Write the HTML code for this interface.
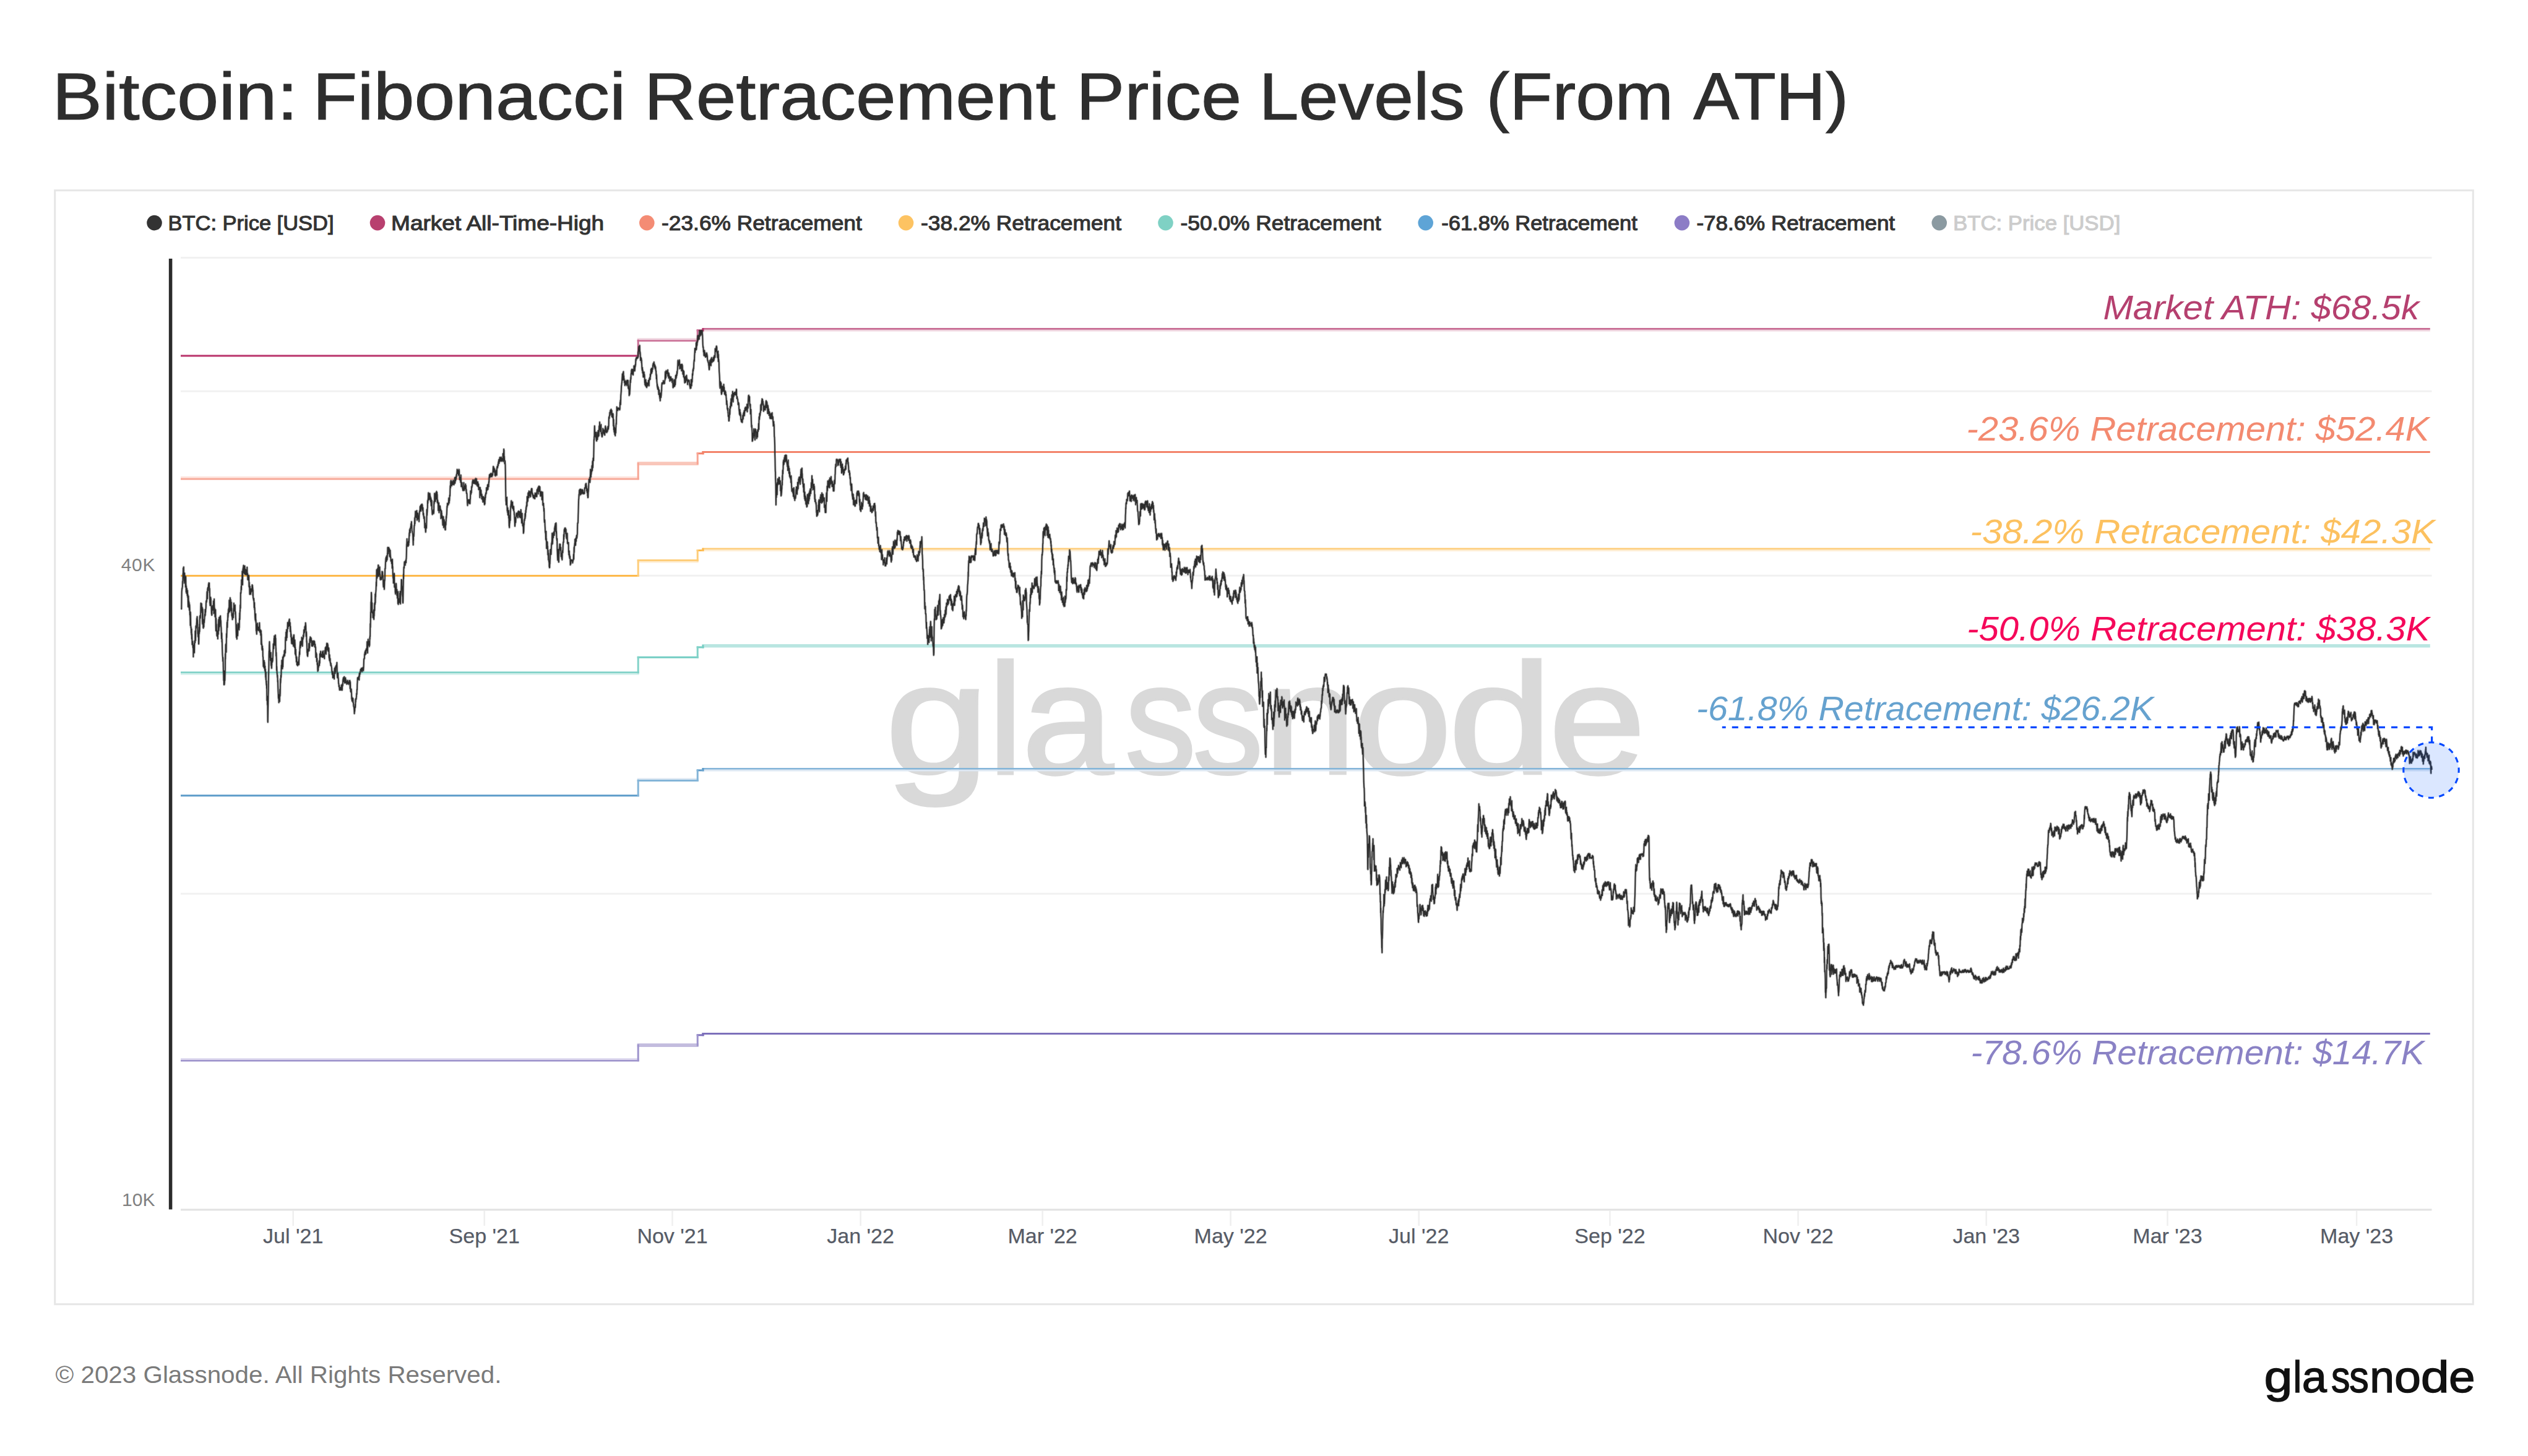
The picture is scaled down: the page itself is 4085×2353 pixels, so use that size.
<!DOCTYPE html><html><head><meta charset="utf-8"><title>Bitcoin: Fibonacci Retracement Price Levels (From ATH)</title><style>html,body{margin:0;padding:0;background:#fff}body{width:4085px;height:2353px;overflow:hidden}</style></head><body>
<svg width="4085" height="2353" viewBox="0 0 4085 2353" style="display:block">
<rect width="100%" height="100%" fill="#fff"/>
<style>text{font-family:"Liberation Sans",Arial,sans-serif}</style>
<text y="192.7" font-size="108" fill="#2e2e2e" stroke="#2e2e2e" stroke-width="1.1"><tspan x="84.2" textLength="397.2" lengthAdjust="spacingAndGlyphs">Bitcoin:</tspan> <tspan x="505.3" textLength="505.9" lengthAdjust="spacingAndGlyphs">Fibonacci</tspan> <tspan x="1040.9" textLength="664.8" lengthAdjust="spacingAndGlyphs">Retracement</tspan> <tspan x="1738.9" textLength="267.3" lengthAdjust="spacingAndGlyphs">Price</tspan> <tspan x="2034.4" textLength="332.8" lengthAdjust="spacingAndGlyphs">Levels</tspan> <tspan x="2401.5" textLength="302.5" lengthAdjust="spacingAndGlyphs">(From</tspan> <tspan x="2736.2" textLength="250.7" lengthAdjust="spacingAndGlyphs">ATH)</tspan></text>
<rect x="88.7" y="307.7" width="3907.6" height="1800" fill="#fff" stroke="#e6e6e6" stroke-width="3"/>
<circle cx="249.5" cy="360.1" r="12.3" fill="#333333"/>
<text x="271.5" y="372.1" font-size="33.5" fill="#333" stroke="#333" stroke-width="1.1" textLength="268.0" lengthAdjust="spacingAndGlyphs">BTC: Price [USD]</text>
<circle cx="610" cy="360.1" r="12.3" fill="#b8406f"/>
<text x="632.1" y="372.1" font-size="33.5" fill="#333" stroke="#333" stroke-width="1.1" textLength="344.1" lengthAdjust="spacingAndGlyphs">Market All-Time-High</text>
<circle cx="1045.3" cy="360.1" r="12.3" fill="#f48c74"/>
<text x="1069.1" y="372.1" font-size="33.5" fill="#333" stroke="#333" stroke-width="1.1" textLength="323.7" lengthAdjust="spacingAndGlyphs">-23.6% Retracement</text>
<circle cx="1464" cy="360.1" r="12.3" fill="#fdc362"/>
<text x="1488.0" y="372.1" font-size="33.5" fill="#333" stroke="#333" stroke-width="1.1" textLength="324.0" lengthAdjust="spacingAndGlyphs">-38.2% Retracement</text>
<circle cx="1883.5" cy="360.1" r="12.3" fill="#7fd1c4"/>
<text x="1907.6" y="372.1" font-size="33.5" fill="#333" stroke="#333" stroke-width="1.1" textLength="323.9" lengthAdjust="spacingAndGlyphs">-50.0% Retracement</text>
<circle cx="2303.7" cy="360.1" r="12.3" fill="#5ea4d6"/>
<text x="2329.2" y="372.1" font-size="33.5" fill="#333" stroke="#333" stroke-width="1.1" textLength="316.7" lengthAdjust="spacingAndGlyphs">-61.8% Retracement</text>
<circle cx="2717.9" cy="360.1" r="12.3" fill="#8c7cc6"/>
<text x="2741.4" y="372.1" font-size="33.5" fill="#333" stroke="#333" stroke-width="1.1" textLength="320.7" lengthAdjust="spacingAndGlyphs">-78.6% Retracement</text>
<circle cx="3133.7" cy="360.1" r="12.3" fill="#8b9aa1"/>
<text x="3156.0" y="372.1" font-size="33.5" fill="#cccccc" stroke="#cccccc" stroke-width="1.1" textLength="270.3" lengthAdjust="spacingAndGlyphs">BTC: Price [USD]</text>
<line x1="292" x2="3929.5" y1="416.5" y2="416.5" stroke="#f1f1f1" stroke-width="3"/>
<line x1="292" x2="3929.5" y1="632.3" y2="632.3" stroke="#f1f1f1" stroke-width="3"/>
<line x1="292" x2="3929.5" y1="930.2" y2="930.2" stroke="#f1f1f1" stroke-width="3"/>
<line x1="292" x2="3929.5" y1="1444.2" y2="1444.2" stroke="#f1f1f1" stroke-width="3"/>
<line x1="292" x2="3929.5" y1="1955" y2="1955" stroke="#e2e2e2" stroke-width="2.8"/>
<line x1="473.7" x2="473.7" y1="1956" y2="1981" stroke="#efefef" stroke-width="2.5"/>
<text x="473.7" y="2008.5" font-size="34" fill="#565b66" stroke="#565b66" stroke-width="0.25" text-anchor="middle">Jul '21</text>
<line x1="782.7" x2="782.7" y1="1956" y2="1981" stroke="#efefef" stroke-width="2.5"/>
<text x="782.7" y="2008.5" font-size="34" fill="#565b66" stroke="#565b66" stroke-width="0.25" text-anchor="middle">Sep '21</text>
<line x1="1086.5" x2="1086.5" y1="1956" y2="1981" stroke="#efefef" stroke-width="2.5"/>
<text x="1086.5" y="2008.5" font-size="34" fill="#565b66" stroke="#565b66" stroke-width="0.25" text-anchor="middle">Nov '21</text>
<line x1="1390.6" x2="1390.6" y1="1956" y2="1981" stroke="#efefef" stroke-width="2.5"/>
<text x="1390.6" y="2008.5" font-size="34" fill="#565b66" stroke="#565b66" stroke-width="0.25" text-anchor="middle">Jan '22</text>
<line x1="1684.6" x2="1684.6" y1="1956" y2="1981" stroke="#efefef" stroke-width="2.5"/>
<text x="1684.6" y="2008.5" font-size="34" fill="#565b66" stroke="#565b66" stroke-width="0.25" text-anchor="middle">Mar '22</text>
<line x1="1988.6" x2="1988.6" y1="1956" y2="1981" stroke="#efefef" stroke-width="2.5"/>
<text x="1988.6" y="2008.5" font-size="34" fill="#565b66" stroke="#565b66" stroke-width="0.25" text-anchor="middle">May '22</text>
<line x1="2292.7" x2="2292.7" y1="1956" y2="1981" stroke="#efefef" stroke-width="2.5"/>
<text x="2292.7" y="2008.5" font-size="34" fill="#565b66" stroke="#565b66" stroke-width="0.25" text-anchor="middle">Jul '22</text>
<line x1="2601.5" x2="2601.5" y1="1956" y2="1981" stroke="#efefef" stroke-width="2.5"/>
<text x="2601.5" y="2008.5" font-size="34" fill="#565b66" stroke="#565b66" stroke-width="0.25" text-anchor="middle">Sep '22</text>
<line x1="2905.6" x2="2905.6" y1="1956" y2="1981" stroke="#efefef" stroke-width="2.5"/>
<text x="2905.6" y="2008.5" font-size="34" fill="#565b66" stroke="#565b66" stroke-width="0.25" text-anchor="middle">Nov '22</text>
<line x1="3209.7" x2="3209.7" y1="1956" y2="1981" stroke="#efefef" stroke-width="2.5"/>
<text x="3209.7" y="2008.5" font-size="34" fill="#565b66" stroke="#565b66" stroke-width="0.25" text-anchor="middle">Jan '23</text>
<line x1="3502.5" x2="3502.5" y1="1956" y2="1981" stroke="#efefef" stroke-width="2.5"/>
<text x="3502.5" y="2008.5" font-size="34" fill="#565b66" stroke="#565b66" stroke-width="0.25" text-anchor="middle">Mar '23</text>
<line x1="3808.1" x2="3808.1" y1="1956" y2="1981" stroke="#efefef" stroke-width="2.5"/>
<text x="3808.1" y="2008.5" font-size="34" fill="#565b66" stroke="#565b66" stroke-width="0.25" text-anchor="middle">May '23</text>
<text x="251.2" y="923.4" font-size="30" fill="#808080" letter-spacing="0.7" text-anchor="end">40K</text>
<text x="250.5" y="1949" font-size="30" fill="#808080" text-anchor="end">10K</text>
<text aria-label="glassnode" y="1250.2" font-size="255" fill="#d9d9d9" stroke="#d9d9d9" stroke-width="4"><tspan x="1430.16" textLength="168.67" lengthAdjust="spacingAndGlyphs">g</tspan><tspan x="1596.56" textLength="56.6" lengthAdjust="spacingAndGlyphs">l</tspan><tspan x="1651.39" textLength="147.85" lengthAdjust="spacingAndGlyphs">a</tspan><tspan x="1817.65" textLength="115.19" lengthAdjust="spacingAndGlyphs">s</tspan><tspan x="1927.2" textLength="114.07" lengthAdjust="spacingAndGlyphs">s</tspan><tspan x="2042.21" textLength="148.9" lengthAdjust="spacingAndGlyphs">n</tspan><tspan x="2186.07" textLength="160.43" lengthAdjust="spacingAndGlyphs">o</tspan><tspan x="2340.16" textLength="168.67" lengthAdjust="spacingAndGlyphs">d</tspan><tspan x="2502.51" textLength="156.98" lengthAdjust="spacingAndGlyphs">e</tspan></text>
<line x1="275.6" x2="275.6" y1="418" y2="1954.5" stroke="#2b2b2b" stroke-width="5.5"/>
<line x1="292.0" x2="1032.7" y1="574.90" y2="574.90" stroke="#b9336b" stroke-width="3.0"/>
<line x1="1029.7" x2="1128.7" y1="550.60" y2="550.60" stroke="#c96d94" stroke-width="2.9"/>
<line x1="1029.7" x2="1128.7" y1="547.85" y2="547.85" stroke="#efd3de" stroke-width="2.7"/>
<line x1="1125.7" x2="1137.5" y1="534.00" y2="534.00" stroke="#b9336b" stroke-width="3.0"/>
<line x1="1134.5" x2="3926.8" y1="531.45" y2="531.45" stroke="#c96d94" stroke-width="2.9"/>
<line x1="1134.5" x2="3926.8" y1="534.20" y2="534.20" stroke="#efd3de" stroke-width="2.7"/>
<line x1="1031.2" x2="1031.2" y1="576.40" y2="548.80" stroke="#c96d94" stroke-width="3"/>
<line x1="1127.2" x2="1127.2" y1="551.80" y2="532.50" stroke="#c96d94" stroke-width="3"/>
<line x1="1136.0" x2="1136.0" y1="535.50" y2="530.25" stroke="#b9336b" stroke-width="3"/>
<line x1="292.0" x2="1032.7" y1="774.00" y2="774.00" stroke="#f7a594" stroke-width="2.9"/>
<line x1="292.0" x2="1032.7" y1="771.25" y2="771.25" stroke="#fde0d9" stroke-width="2.7"/>
<line x1="1029.7" x2="1128.7" y1="749.10" y2="749.10" stroke="#f9c6ba" stroke-width="5.6"/>
<line x1="1125.7" x2="1137.5" y1="732.80" y2="732.80" stroke="#f3836a" stroke-width="3.0"/>
<line x1="1134.5" x2="3926.8" y1="730.55" y2="730.55" stroke="#f3836a" stroke-width="3.0"/>
<line x1="1031.2" x2="1031.2" y1="775.20" y2="747.60" stroke="#f7a594" stroke-width="3"/>
<line x1="1127.2" x2="1127.2" y1="750.60" y2="731.30" stroke="#f7a594" stroke-width="3"/>
<line x1="1136.0" x2="1136.0" y1="734.30" y2="729.05" stroke="#f3836a" stroke-width="3"/>
<line x1="292.0" x2="1032.7" y1="930.40" y2="930.40" stroke="#fdb94b" stroke-width="3.0"/>
<line x1="1029.7" x2="1128.7" y1="905.50" y2="905.50" stroke="#fecd7a" stroke-width="2.9"/>
<line x1="1029.7" x2="1128.7" y1="908.25" y2="908.25" stroke="#feeed3" stroke-width="2.7"/>
<line x1="1125.7" x2="1137.5" y1="889.50" y2="889.50" stroke="#fdb94b" stroke-width="3.0"/>
<line x1="1134.5" x2="3926.8" y1="886.95" y2="886.95" stroke="#fecd7a" stroke-width="2.9"/>
<line x1="1134.5" x2="3926.8" y1="889.70" y2="889.70" stroke="#feeed3" stroke-width="2.7"/>
<line x1="1031.2" x2="1031.2" y1="931.90" y2="904.30" stroke="#fecd7a" stroke-width="3"/>
<line x1="1127.2" x2="1127.2" y1="907.30" y2="888.00" stroke="#fecd7a" stroke-width="3"/>
<line x1="1136.0" x2="1136.0" y1="891.00" y2="885.75" stroke="#fdb94b" stroke-width="3"/>
<line x1="292.0" x2="1032.7" y1="1086.60" y2="1086.60" stroke="#82d2c8" stroke-width="2.9"/>
<line x1="292.0" x2="1032.7" y1="1089.35" y2="1089.35" stroke="#d5f0ec" stroke-width="2.7"/>
<line x1="1029.7" x2="1128.7" y1="1062.30" y2="1062.30" stroke="#73cdc3" stroke-width="3.0"/>
<line x1="1125.7" x2="1137.5" y1="1046.00" y2="1046.00" stroke="#73cdc3" stroke-width="3.0"/>
<line x1="1134.5" x2="3926.8" y1="1043.75" y2="1043.75" stroke="#b9e6e1" stroke-width="5.6"/>
<line x1="1031.2" x2="1031.2" y1="1088.40" y2="1060.80" stroke="#82d2c8" stroke-width="3"/>
<line x1="1127.2" x2="1127.2" y1="1063.80" y2="1044.50" stroke="#82d2c8" stroke-width="3"/>
<line x1="1136.0" x2="1136.0" y1="1047.50" y2="1042.25" stroke="#73cdc3" stroke-width="3"/>
<line x1="292.0" x2="1032.7" y1="1285.80" y2="1285.80" stroke="#5c9bc9" stroke-width="3.0"/>
<line x1="1029.7" x2="1128.7" y1="1261.50" y2="1261.50" stroke="#84b5d8" stroke-width="2.9"/>
<line x1="1029.7" x2="1128.7" y1="1258.75" y2="1258.75" stroke="#dde8f3" stroke-width="2.7"/>
<line x1="1125.7" x2="1137.5" y1="1244.90" y2="1244.90" stroke="#5c9bc9" stroke-width="3.0"/>
<line x1="1134.5" x2="3926.8" y1="1242.35" y2="1242.35" stroke="#84b5d8" stroke-width="2.9"/>
<line x1="1134.5" x2="3926.8" y1="1245.10" y2="1245.10" stroke="#dde8f3" stroke-width="2.7"/>
<line x1="1031.2" x2="1031.2" y1="1287.30" y2="1259.70" stroke="#84b5d8" stroke-width="3"/>
<line x1="1127.2" x2="1127.2" y1="1262.70" y2="1243.40" stroke="#84b5d8" stroke-width="3"/>
<line x1="1136.0" x2="1136.0" y1="1246.40" y2="1241.15" stroke="#5c9bc9" stroke-width="3"/>
<line x1="292.0" x2="1032.7" y1="1714.00" y2="1714.00" stroke="#9d93cc" stroke-width="2.9"/>
<line x1="292.0" x2="1032.7" y1="1711.25" y2="1711.25" stroke="#e0dcf0" stroke-width="2.7"/>
<line x1="1029.7" x2="1128.7" y1="1689.10" y2="1689.10" stroke="#c3bcde" stroke-width="5.6"/>
<line x1="1125.7" x2="1137.5" y1="1672.80" y2="1672.80" stroke="#7d70bb" stroke-width="3.0"/>
<line x1="1134.5" x2="3926.8" y1="1670.55" y2="1670.55" stroke="#7d70bb" stroke-width="3.0"/>
<line x1="1031.2" x2="1031.2" y1="1715.20" y2="1687.60" stroke="#9d93cc" stroke-width="3"/>
<line x1="1127.2" x2="1127.2" y1="1690.60" y2="1671.30" stroke="#9d93cc" stroke-width="3"/>
<line x1="1136.0" x2="1136.0" y1="1674.30" y2="1669.05" stroke="#7d70bb" stroke-width="3"/>
<defs><path id="pr" d="M293.1 985.1 L293.3 983.7 L293.5 966.6 L293.7 956.1 L293.9 953.9 L294.2 950.6 L294.4 951.3 L294.6 949.0 L294.8 948.5 L295.0 940.0 L295.3 939.5 L295.5 937.3 L295.7 926.9 L295.9 930.6 L296.1 918.1 L296.4 923.3 L296.6 925.3 L296.8 916.3 L297.0 927.4 L297.2 931.3 L297.4 935.4 L297.6 942.4 L297.8 939.2 L298.1 936.5 L298.3 926.2 L298.5 935.3 L298.7 934.6 L298.9 934.0 L299.1 930.8 L299.3 933.3 L299.5 934.7 L299.8 948.7 L300.0 936.5 L300.2 932.0 L300.4 942.9 L300.6 947.3 L300.8 956.7 L301.0 947.1 L301.3 958.8 L301.5 953.6 L301.7 950.5 L301.9 951.5 L302.1 953.0 L302.3 953.5 L302.5 962.3 L302.8 954.4 L303.0 954.3 L303.2 964.7 L303.4 965.5 L303.6 960.9 L303.8 972.0 L304.0 980.6 L304.3 969.1 L304.5 963.4 L304.7 970.9 L304.9 974.6 L305.1 971.6 L305.3 982.1 L305.5 973.3 L305.8 974.8 L306.0 985.9 L306.2 978.7 L306.4 977.3 L306.6 982.6 L306.8 993.8 L307.0 992.4 L307.3 998.0 L307.5 1010.6 L307.7 989.2 L307.9 993.4 L308.1 1004.1 L308.3 1011.0 L308.5 1015.0 L308.8 1013.3 L309.0 1022.7 L309.2 1022.8 L309.4 1026.1 L309.6 1016.6 L309.8 1032.6 L310.0 1024.6 L310.3 1031.8 L310.5 1041.7 L310.7 1037.4 L310.9 1038.9 L311.1 1038.8 L311.3 1036.5 L311.5 1037.5 L311.7 1045.8 L312.0 1047.3 L312.2 1042.3 L312.4 1061.5 L312.6 1047.1 L312.8 1051.5 L313.0 1047.0 L313.2 1048.4 L313.4 1054.9 L313.7 1053.7 L313.9 1039.5 L314.1 1054.9 L314.3 1045.6 L314.5 1035.5 L314.7 1038.9 L315.0 1036.0 L315.2 1038.7 L315.4 1019.9 L315.6 1028.9 L315.8 1033.2 L316.0 1035.3 L316.3 1021.1 L316.5 1011.7 L316.7 1015.3 L316.9 1011.7 L317.1 1011.6 L317.3 1015.0 L317.6 1007.8 L317.8 1005.7 L318.0 999.6 L318.2 1005.8 L318.4 998.0 L318.6 996.6 L318.9 1002.4 L319.1 1002.0 L319.3 1008.7 L319.5 1023.8 L319.7 1018.8 L319.9 1024.3 L320.1 1029.1 L320.4 1026.9 L320.6 1023.2 L320.8 1029.9 L321.0 1040.8 L321.2 1040.0 L321.4 1033.3 L321.6 1013.7 L321.9 1024.4 L322.1 1020.9 L322.3 1008.8 L322.5 1021.0 L322.7 1016.6 L322.9 997.9 L323.1 995.1 L323.4 999.1 L323.6 996.3 L323.8 999.0 L324.0 996.0 L324.2 991.3 L324.4 982.5 L324.6 974.8 L324.9 980.6 L325.1 986.7 L325.3 984.6 L325.5 978.7 L325.7 975.6 L325.9 981.3 L326.2 990.1 L326.4 988.2 L326.6 986.5 L326.8 981.5 L327.0 1004.6 L327.3 1008.5 L327.5 1003.6 L327.7 984.4 L327.9 1001.9 L328.1 1006.1 L328.3 1014.3 L328.6 1015.0 L328.8 1007.4 L329.0 1001.3 L329.2 1010.7 L329.4 1012.9 L329.6 1002.5 L329.8 1005.5 L330.0 1006.5 L330.3 1001.9 L330.5 999.6 L330.7 995.6 L330.9 992.6 L331.1 993.2 L331.3 995.5 L331.5 985.1 L331.7 994.1 L332.0 986.5 L332.2 989.4 L332.4 985.0 L332.6 983.8 L332.8 982.1 L333.0 975.2 L333.2 971.3 L333.5 970.8 L333.7 973.1 L333.9 971.5 L334.1 970.2 L334.3 962.1 L334.5 956.3 L334.8 962.3 L335.0 965.7 L335.2 967.6 L335.4 951.6 L335.6 954.1 L335.8 949.8 L336.1 949.6 L336.3 954.5 L336.5 948.5 L336.7 949.1 L336.9 944.6 L337.1 945.0 L337.4 942.1 L337.6 942.2 L337.8 945.9 L338.0 944.2 L338.2 942.3 L338.4 957.3 L338.6 954.4 L338.8 951.0 L339.1 975.1 L339.3 973.4 L339.5 978.4 L339.7 970.6 L339.9 969.5 L340.1 978.3 L340.3 965.2 L340.5 966.1 L340.8 968.4 L341.0 978.3 L341.2 979.3 L341.4 978.5 L341.6 985.4 L341.8 991.9 L342.0 985.3 L342.2 994.2 L342.5 993.3 L342.7 980.3 L342.9 986.6 L343.1 984.3 L343.3 982.6 L343.5 981.8 L343.8 978.6 L344.0 986.0 L344.2 985.3 L344.4 983.0 L344.6 979.4 L344.8 977.9 L345.0 971.3 L345.3 974.8 L345.5 991.3 L345.7 985.4 L345.9 981.3 L346.1 968.0 L346.3 977.8 L346.5 985.3 L346.8 982.7 L347.0 984.1 L347.2 990.4 L347.4 996.8 L347.6 993.0 L347.8 994.0 L348.0 996.8 L348.3 985.4 L348.5 995.3 L348.7 1013.1 L348.9 1019.4 L349.1 999.1 L349.3 1006.0 L349.5 1011.5 L349.8 1008.9 L350.0 1020.6 L350.2 1018.6 L350.4 1026.3 L350.6 1027.9 L350.8 1023.4 L351.1 1020.4 L351.3 1027.7 L351.5 1024.0 L351.7 1026.5 L351.9 1032.4 L352.1 1019.4 L352.4 1020.6 L352.6 1008.8 L352.8 1025.0 L353.0 1006.2 L353.2 1001.3 L353.4 1007.1 L353.6 1019.3 L353.9 1013.0 L354.1 998.0 L354.3 1007.0 L354.5 997.5 L354.7 998.5 L354.9 1013.0 L355.2 1007.7 L355.4 1004.9 L355.6 1004.5 L355.8 996.2 L356.0 999.9 L356.2 995.4 L356.5 1003.0 L356.7 1002.2 L356.9 1004.4 L357.1 1011.6 L357.3 1013.0 L357.5 1015.9 L357.7 1025.6 L358.0 1032.4 L358.2 1022.8 L358.4 1024.1 L358.6 1037.4 L358.8 1032.7 L359.0 1039.9 L359.2 1049.0 L359.5 1058.3 L359.7 1060.6 L359.9 1063.3 L360.1 1068.6 L360.3 1062.6 L360.6 1068.4 L360.8 1077.8 L361.0 1085.5 L361.2 1085.5 L361.4 1099.6 L361.7 1090.1 L361.9 1106.6 L362.1 1084.2 L362.3 1095.5 L362.5 1106.5 L362.8 1103.5 L363.0 1095.7 L363.2 1097.7 L363.4 1099.8 L363.6 1091.1 L363.9 1081.2 L364.1 1056.6 L364.3 1065.4 L364.5 1051.6 L364.7 1041.8 L365.0 1041.2 L365.2 1043.7 L365.4 1039.7 L365.6 1054.0 L365.8 1036.5 L366.0 1024.0 L366.3 1030.2 L366.5 1022.9 L366.7 1016.2 L366.9 1006.9 L367.1 1005.3 L367.4 1014.0 L367.6 1002.2 L367.8 1003.1 L368.0 1002.8 L368.2 991.1 L368.4 997.9 L368.7 994.4 L368.9 989.7 L369.1 984.9 L369.3 990.8 L369.5 990.6 L369.7 982.6 L370.0 983.3 L370.2 985.3 L370.4 970.0 L370.6 985.9 L370.8 988.1 L371.0 974.3 L371.3 988.8 L371.5 975.8 L371.7 971.3 L371.9 966.0 L372.1 971.8 L372.3 979.3 L372.5 974.3 L372.8 969.3 L373.0 986.2 L373.2 987.0 L373.4 984.3 L373.6 985.3 L373.8 973.3 L374.0 982.1 L374.3 983.7 L374.5 994.1 L374.7 995.4 L374.9 992.5 L375.1 997.4 L375.3 995.7 L375.5 1001.2 L375.7 1001.0 L376.0 996.8 L376.2 995.4 L376.4 990.6 L376.6 995.9 L376.8 997.6 L377.0 998.1 L377.2 986.2 L377.5 982.7 L377.7 987.0 L377.9 974.9 L378.1 987.5 L378.3 987.0 L378.5 987.5 L378.7 980.6 L379.0 982.2 L379.2 986.8 L379.4 982.4 L379.6 979.9 L379.8 977.8 L380.0 990.1 L380.2 992.6 L380.5 988.7 L380.7 993.4 L380.9 999.8 L381.1 1002.3 L381.3 1009.6 L381.5 1017.3 L381.7 1022.4 L382.0 1030.1 L382.2 1022.6 L382.4 1021.0 L382.6 1009.4 L382.8 1032.8 L383.0 1026.3 L383.2 1023.9 L383.5 1026.6 L383.7 1019.8 L383.9 1017.5 L384.1 1027.4 L384.3 1023.2 L384.5 1014.4 L384.7 1007.3 L385.0 1008.1 L385.2 1008.4 L385.4 1014.6 L385.6 1013.2 L385.8 1013.4 L386.0 1010.3 L386.3 1018.0 L386.5 1009.1 L386.7 1014.2 L386.9 999.5 L387.1 1000.2 L387.3 990.5 L387.5 1001.3 L387.8 986.6 L388.0 988.1 L388.2 977.7 L388.4 979.8 L388.6 983.1 L388.8 957.9 L389.0 958.1 L389.3 958.8 L389.5 955.6 L389.7 947.9 L389.9 947.3 L390.1 953.3 L390.3 937.1 L390.5 937.2 L390.8 945.1 L391.0 941.8 L391.2 943.5 L391.4 923.3 L391.6 929.5 L391.8 934.4 L392.0 945.1 L392.3 926.3 L392.5 919.4 L392.7 921.0 L392.9 925.4 L393.1 916.6 L393.3 917.1 L393.5 913.7 L393.8 919.9 L394.0 914.9 L394.2 919.4 L394.4 926.8 L394.6 923.0 L394.8 915.6 L395.0 919.4 L395.3 921.4 L395.5 914.6 L395.7 920.9 L395.9 928.1 L396.1 926.2 L396.3 925.8 L396.5 923.2 L396.7 925.9 L397.0 920.2 L397.2 923.4 L397.4 928.6 L397.6 926.6 L397.8 928.7 L398.0 922.1 L398.2 921.4 L398.5 925.4 L398.7 928.7 L398.9 926.3 L399.1 926.6 L399.3 916.7 L399.5 925.0 L399.7 925.8 L400.0 926.7 L400.2 931.3 L400.4 937.0 L400.6 932.1 L400.8 934.4 L401.0 932.6 L401.3 937.1 L401.5 935.3 L401.7 929.5 L401.9 932.4 L402.1 931.0 L402.4 947.9 L402.6 940.9 L402.8 941.6 L403.0 949.9 L403.2 949.6 L403.5 960.5 L403.7 957.0 L403.9 947.7 L404.1 958.7 L404.3 957.6 L404.5 956.6 L404.8 960.4 L405.0 960.2 L405.2 959.0 L405.4 953.6 L405.6 951.5 L405.8 957.3 L406.0 954.3 L406.3 954.2 L406.5 951.9 L406.7 952.8 L406.9 951.0 L407.1 955.4 L407.3 947.3 L407.5 945.2 L407.8 947.3 L408.0 946.3 L408.2 949.0 L408.4 950.3 L408.6 962.4 L408.8 953.3 L409.0 965.0 L409.2 967.1 L409.5 966.6 L409.7 969.9 L409.9 968.5 L410.1 967.0 L410.3 969.7 L410.5 974.8 L410.7 982.0 L410.9 975.7 L411.2 974.0 L411.4 985.2 L411.6 981.8 L411.8 987.3 L412.0 994.1 L412.2 998.4 L412.5 1002.2 L412.7 1001.2 L412.9 1000.2 L413.1 992.0 L413.3 1005.1 L413.5 1001.4 L413.8 1007.4 L414.0 1019.2 L414.2 1012.5 L414.4 1021.2 L414.6 1022.8 L414.8 1024.8 L415.1 1014.5 L415.3 1017.9 L415.5 1008.5 L415.7 1009.7 L415.9 1007.2 L416.1 1011.1 L416.3 1016.1 L416.5 1012.8 L416.8 1013.7 L417.0 1018.9 L417.2 1014.4 L417.4 1015.0 L417.6 1016.2 L417.8 1018.3 L418.0 1013.5 L418.2 1015.6 L418.5 1014.0 L418.7 1019.1 L418.9 1012.9 L419.1 1009.1 L419.3 1006.6 L419.5 1010.9 L419.7 1020.2 L419.9 1021.7 L420.2 1017.9 L420.4 1021.1 L420.6 1019.2 L420.8 1017.8 L421.0 1019.6 L421.2 1026.2 L421.4 1026.7 L421.6 1019.6 L421.9 1019.4 L422.1 1041.2 L422.3 1024.3 L422.5 1032.3 L422.7 1039.0 L422.9 1042.4 L423.1 1041.1 L423.3 1048.2 L423.6 1050.3 L423.8 1048.5 L424.0 1044.0 L424.2 1049.1 L424.4 1051.4 L424.6 1048.2 L424.8 1061.0 L425.1 1061.7 L425.3 1067.6 L425.5 1077.0 L425.7 1068.7 L425.9 1070.7 L426.1 1073.8 L426.3 1074.3 L426.6 1079.3 L426.8 1067.6 L427.0 1077.8 L427.2 1071.4 L427.4 1070.4 L427.6 1073.5 L427.9 1082.3 L428.1 1084.0 L428.3 1076.5 L428.5 1084.9 L428.7 1085.9 L428.9 1081.5 L429.2 1094.4 L429.4 1092.4 L429.6 1098.3 L429.8 1086.4 L430.0 1099.5 L430.2 1103.1 L430.5 1107.5 L430.7 1100.5 L430.9 1112.6 L431.1 1105.3 L431.3 1132.0 L431.5 1124.4 L431.8 1125.4 L432.0 1137.4 L432.2 1139.9 L432.4 1136.5 L432.6 1165.3 L432.8 1167.1 L433.1 1145.7 L433.3 1137.3 L433.5 1123.4 L433.7 1116.6 L433.9 1099.8 L434.1 1087.0 L434.4 1079.3 L434.6 1058.7 L434.8 1052.1 L435.0 1052.9 L435.2 1043.4 L435.5 1037.0 L435.7 1043.6 L435.9 1055.7 L436.1 1050.4 L436.3 1062.8 L436.5 1055.0 L436.7 1066.7 L437.0 1067.5 L437.2 1064.5 L437.4 1058.4 L437.6 1054.5 L437.8 1059.7 L438.0 1072.7 L438.2 1075.7 L438.5 1073.4 L438.7 1077.8 L438.9 1080.0 L439.1 1075.5 L439.3 1074.0 L439.5 1063.9 L439.7 1067.0 L439.9 1064.9 L440.1 1070.2 L440.4 1065.1 L440.6 1068.4 L440.8 1063.7 L441.0 1057.3 L441.2 1053.8 L441.4 1050.3 L441.6 1040.7 L441.8 1041.5 L442.1 1042.7 L442.3 1048.3 L442.5 1043.3 L442.7 1036.7 L442.9 1031.7 L443.1 1035.8 L443.3 1027.9 L443.6 1029.2 L443.8 1039.8 L444.0 1041.4 L444.2 1042.6 L444.4 1027.8 L444.6 1039.6 L444.9 1026.3 L445.1 1030.2 L445.3 1043.4 L445.5 1031.6 L445.7 1045.5 L445.9 1048.4 L446.1 1060.1 L446.4 1054.6 L446.6 1062.5 L446.8 1068.0 L447.0 1083.3 L447.2 1077.0 L447.4 1081.5 L447.6 1086.6 L447.9 1089.4 L448.1 1091.5 L448.3 1095.0 L448.5 1091.6 L448.7 1101.9 L448.9 1099.5 L449.1 1108.2 L449.4 1116.8 L449.6 1120.1 L449.8 1126.7 L450.0 1128.8 L450.2 1128.4 L450.4 1128.4 L450.6 1135.5 L450.9 1122.5 L451.1 1129.2 L451.3 1131.9 L451.5 1133.0 L451.7 1133.4 L451.9 1133.5 L452.2 1114.0 L452.4 1117.5 L452.6 1125.0 L452.8 1119.8 L453.0 1107.6 L453.2 1097.0 L453.4 1103.9 L453.7 1097.8 L453.9 1091.3 L454.1 1094.9 L454.3 1093.4 L454.5 1083.5 L454.7 1075.2 L454.9 1081.6 L455.2 1077.8 L455.4 1067.0 L455.6 1068.6 L455.8 1068.5 L456.0 1073.0 L456.2 1075.3 L456.5 1080.7 L456.7 1068.9 L456.9 1061.9 L457.1 1077.7 L457.3 1069.3 L457.5 1064.7 L457.8 1061.3 L458.0 1062.7 L458.2 1059.4 L458.4 1060.8 L458.6 1058.1 L458.8 1057.9 L459.1 1058.4 L459.3 1060.6 L459.5 1051.7 L459.7 1057.7 L459.9 1059.8 L460.1 1055.9 L460.3 1054.4 L460.5 1050.2 L460.8 1052.7 L461.0 1055.3 L461.2 1036.0 L461.4 1029.7 L461.6 1031.4 L461.8 1033.2 L462.0 1029.7 L462.2 1021.5 L462.4 1031.5 L462.7 1034.9 L462.9 1026.6 L463.1 1017.5 L463.3 1023.8 L463.5 1021.3 L463.7 1030.4 L463.9 1022.0 L464.1 1021.8 L464.3 1019.8 L464.6 1012.2 L464.8 1006.0 L465.0 1014.6 L465.2 1015.8 L465.4 1012.2 L465.6 1007.8 L465.8 1011.8 L466.0 1006.1 L466.3 1012.3 L466.5 1010.6 L466.7 1004.5 L466.9 1003.3 L467.1 1003.6 L467.3 1001.7 L467.5 1001.5 L467.7 1000.7 L468.0 1008.9 L468.2 1011.6 L468.4 1006.9 L468.6 1006.7 L468.8 1006.3 L469.0 1020.6 L469.3 1012.0 L469.5 1017.3 L469.7 1019.1 L469.9 1021.3 L470.1 1029.5 L470.3 1024.4 L470.6 1026.0 L470.8 1034.3 L471.0 1035.6 L471.2 1039.9 L471.4 1030.5 L471.6 1040.0 L471.9 1034.3 L472.1 1037.0 L472.3 1040.0 L472.5 1040.7 L472.7 1031.5 L472.9 1031.5 L473.1 1035.7 L473.4 1037.8 L473.6 1029.5 L473.8 1035.0 L474.0 1042.0 L474.2 1044.3 L474.4 1031.0 L474.6 1027.4 L474.9 1026.0 L475.1 1029.7 L475.3 1035.1 L475.5 1037.2 L475.7 1037.5 L475.9 1046.3 L476.1 1040.4 L476.4 1034.3 L476.6 1039.0 L476.8 1041.1 L477.0 1056.7 L477.2 1046.0 L477.4 1056.7 L477.7 1058.7 L477.9 1049.6 L478.1 1057.7 L478.3 1059.7 L478.5 1064.0 L478.7 1060.6 L478.9 1069.6 L479.2 1065.2 L479.4 1062.1 L479.6 1069.2 L479.8 1074.5 L480.0 1073.5 L480.2 1072.1 L480.4 1073.6 L480.7 1070.5 L480.9 1075.8 L481.1 1074.0 L481.3 1069.5 L481.5 1074.4 L481.7 1074.6 L481.9 1072.6 L482.2 1071.8 L482.4 1069.5 L482.6 1070.4 L482.8 1066.2 L483.0 1074.1 L483.2 1061.8 L483.5 1061.0 L483.7 1057.7 L483.9 1054.0 L484.1 1052.9 L484.3 1057.6 L484.5 1047.4 L484.8 1043.3 L485.0 1040.9 L485.2 1037.6 L485.4 1047.0 L485.6 1036.5 L485.8 1039.5 L486.1 1040.0 L486.3 1043.6 L486.5 1037.4 L486.7 1036.7 L486.9 1040.4 L487.1 1039.3 L487.4 1041.7 L487.6 1030.0 L487.8 1040.9 L488.0 1040.1 L488.2 1035.6 L488.5 1031.4 L488.7 1044.2 L488.9 1037.1 L489.1 1031.5 L489.3 1032.1 L489.5 1031.3 L489.8 1032.8 L490.0 1026.4 L490.2 1029.7 L490.4 1026.5 L490.6 1029.4 L490.9 1022.4 L491.1 1017.9 L491.3 1023.2 L491.5 1018.1 L491.7 1021.6 L492.0 1022.1 L492.2 1018.9 L492.4 1012.8 L492.6 1015.3 L492.9 1016.1 L493.1 1017.3 L493.3 1010.9 L493.5 1017.1 L493.7 1006.5 L494.0 1009.8 L494.2 1011.9 L494.4 1020.5 L494.6 1026.9 L494.8 1028.4 L495.1 1021.0 L495.3 1024.1 L495.5 1037.7 L495.7 1035.7 L496.0 1045.5 L496.2 1055.1 L496.4 1053.9 L496.6 1059.3 L496.8 1058.4 L497.1 1060.6 L497.3 1058.0 L497.5 1056.7 L497.7 1049.1 L497.9 1051.1 L498.1 1051.3 L498.3 1052.6 L498.5 1048.2 L498.8 1049.6 L499.0 1040.1 L499.2 1041.1 L499.4 1048.8 L499.6 1051.6 L499.8 1046.5 L500.0 1040.4 L500.2 1047.2 L500.5 1033.8 L500.7 1032.4 L500.9 1037.4 L501.1 1038.3 L501.3 1029.4 L501.5 1033.1 L501.7 1035.2 L501.9 1032.3 L502.2 1030.8 L502.4 1030.7 L502.6 1033.3 L502.8 1031.3 L503.0 1033.6 L503.2 1038.8 L503.5 1039.4 L503.7 1044.0 L503.9 1038.7 L504.1 1041.7 L504.3 1037.3 L504.5 1042.7 L504.7 1035.5 L505.0 1043.4 L505.2 1044.2 L505.4 1042.1 L505.6 1042.5 L505.8 1036.8 L506.0 1041.6 L506.2 1042.7 L506.5 1040.4 L506.7 1040.9 L506.9 1040.8 L507.1 1035.6 L507.3 1036.2 L507.5 1040.3 L507.7 1041.4 L508.0 1041.4 L508.2 1036.5 L508.4 1038.3 L508.6 1045.5 L508.8 1042.0 L509.0 1044.0 L509.2 1041.0 L509.5 1046.4 L509.7 1046.7 L509.9 1045.6 L510.1 1050.7 L510.3 1062.3 L510.5 1058.3 L510.8 1054.7 L511.0 1055.5 L511.2 1062.2 L511.4 1060.2 L511.6 1057.0 L511.8 1069.0 L512.0 1063.7 L512.3 1064.1 L512.5 1070.0 L512.7 1074.3 L512.9 1071.6 L513.1 1071.5 L513.3 1081.0 L513.5 1084.7 L513.8 1078.6 L514.0 1083.4 L514.2 1083.3 L514.4 1076.9 L514.6 1076.7 L514.8 1078.4 L515.0 1075.0 L515.2 1075.5 L515.5 1069.7 L515.7 1068.2 L515.9 1075.1 L516.1 1075.5 L516.3 1067.2 L516.5 1072.2 L516.7 1070.8 L516.9 1056.6 L517.2 1058.3 L517.4 1062.1 L517.6 1058.4 L517.8 1056.7 L518.0 1053.7 L518.2 1052.6 L518.4 1059.0 L518.7 1057.2 L518.9 1059.5 L519.1 1060.9 L519.3 1057.3 L519.5 1060.4 L519.7 1060.0 L520.0 1061.1 L520.2 1060.4 L520.4 1059.7 L520.6 1061.8 L520.8 1053.6 L521.0 1055.5 L521.2 1060.0 L521.5 1062.2 L521.7 1056.4 L521.9 1054.5 L522.1 1052.1 L522.3 1062.1 L522.5 1056.2 L522.8 1061.4 L523.0 1061.4 L523.2 1061.2 L523.4 1060.4 L523.6 1057.5 L523.8 1058.9 L524.1 1059.9 L524.3 1064.4 L524.5 1055.2 L524.7 1051.8 L524.9 1056.2 L525.1 1050.8 L525.3 1052.6 L525.5 1055.7 L525.7 1046.8 L526.0 1052.3 L526.2 1048.6 L526.4 1046.7 L526.6 1045.3 L526.8 1057.2 L527.0 1053.9 L527.2 1052.7 L527.4 1046.3 L527.6 1051.5 L527.9 1041.4 L528.1 1039.6 L528.3 1048.9 L528.5 1050.1 L528.7 1042.2 L528.9 1045.7 L529.1 1040.6 L529.3 1040.0 L529.6 1042.2 L529.8 1041.9 L530.0 1046.0 L530.2 1052.3 L530.4 1050.9 L530.7 1046.6 L530.9 1049.9 L531.1 1047.9 L531.3 1047.4 L531.5 1049.6 L531.7 1061.4 L532.0 1063.9 L532.2 1063.9 L532.4 1067.1 L532.6 1058.4 L532.8 1065.8 L533.1 1068.7 L533.3 1067.4 L533.5 1064.4 L533.7 1071.2 L533.9 1070.9 L534.1 1070.9 L534.4 1074.8 L534.6 1075.8 L534.8 1072.1 L535.0 1074.2 L535.2 1075.5 L535.4 1075.5 L535.6 1077.3 L535.9 1079.0 L536.1 1081.5 L536.3 1085.6 L536.5 1086.0 L536.7 1087.0 L536.9 1089.5 L537.2 1090.2 L537.4 1088.7 L537.6 1085.3 L537.8 1095.1 L538.0 1095.4 L538.2 1087.0 L538.4 1092.6 L538.7 1091.6 L538.9 1092.2 L539.1 1093.9 L539.3 1095.0 L539.5 1091.3 L539.7 1095.1 L539.9 1093.5 L540.1 1097.3 L540.4 1083.7 L540.6 1080.1 L540.8 1081.3 L541.0 1088.1 L541.2 1081.9 L541.4 1079.0 L541.6 1088.2 L541.8 1083.6 L542.1 1083.4 L542.3 1077.1 L542.5 1085.5 L542.7 1081.9 L542.9 1077.7 L543.1 1075.7 L543.3 1075.5 L543.6 1077.6 L543.8 1074.4 L544.0 1075.4 L544.2 1073.1 L544.4 1070.7 L544.6 1077.3 L544.8 1087.8 L545.1 1093.2 L545.3 1095.3 L545.5 1095.0 L545.7 1095.5 L545.9 1091.9 L546.1 1087.9 L546.4 1095.1 L546.6 1095.3 L546.8 1098.3 L547.0 1102.8 L547.2 1105.2 L547.5 1105.0 L547.7 1109.6 L547.9 1108.7 L548.1 1107.7 L548.3 1109.3 L548.5 1113.1 L548.7 1115.1 L548.9 1112.1 L549.2 1113.7 L549.4 1114.6 L549.6 1113.4 L549.8 1111.1 L550.0 1113.1 L550.2 1111.0 L550.4 1114.2 L550.6 1115.1 L550.9 1112.7 L551.1 1113.8 L551.3 1111.9 L551.5 1111.5 L551.7 1107.1 L551.9 1112.6 L552.1 1114.8 L552.3 1112.1 L552.6 1111.6 L552.8 1115.4 L553.0 1113.6 L553.2 1105.4 L553.4 1107.0 L553.7 1108.6 L553.9 1106.6 L554.1 1100.5 L554.3 1097.8 L554.5 1101.5 L554.7 1095.5 L555.0 1101.9 L555.2 1100.9 L555.4 1100.6 L555.6 1095.3 L555.8 1094.3 L556.0 1098.2 L556.3 1093.7 L556.5 1098.4 L556.7 1098.1 L556.9 1103.6 L557.1 1096.8 L557.3 1098.3 L557.5 1098.0 L557.7 1103.6 L558.0 1099.0 L558.2 1095.4 L558.4 1101.1 L558.6 1100.2 L558.8 1097.8 L559.0 1103.5 L559.2 1099.4 L559.4 1099.9 L559.7 1101.3 L559.9 1103.4 L560.1 1101.3 L560.3 1105.7 L560.5 1104.6 L560.7 1104.5 L560.9 1103.5 L561.2 1104.9 L561.4 1102.8 L561.6 1100.6 L561.8 1100.2 L562.0 1099.7 L562.2 1102.7 L562.5 1102.5 L562.7 1104.2 L562.9 1104.6 L563.1 1105.0 L563.3 1105.7 L563.5 1105.9 L563.8 1104.6 L564.0 1104.1 L564.2 1101.7 L564.4 1104.2 L564.6 1100.1 L564.8 1101.2 L565.1 1101.8 L565.3 1099.8 L565.5 1107.1 L565.7 1112.6 L565.9 1101.6 L566.1 1103.3 L566.3 1111.7 L566.6 1117.2 L566.8 1117.9 L567.0 1118.3 L567.2 1116.1 L567.4 1117.1 L567.6 1113.6 L567.8 1117.8 L568.1 1121.5 L568.3 1129.9 L568.5 1125.9 L568.7 1130.3 L568.9 1132.9 L569.1 1130.7 L569.4 1127.8 L569.6 1132.7 L569.8 1128.1 L570.0 1131.0 L570.2 1135.0 L570.4 1128.7 L570.7 1135.6 L570.9 1135.9 L571.1 1136.0 L571.3 1140.9 L571.5 1141.6 L571.7 1142.4 L572.0 1142.9 L572.2 1145.0 L572.4 1147.6 L572.6 1153.3 L572.8 1151.0 L573.0 1147.9 L573.2 1149.5 L573.5 1143.2 L573.7 1138.3 L573.9 1141.3 L574.1 1143.7 L574.3 1141.4 L574.5 1130.1 L574.7 1134.8 L574.9 1130.4 L575.1 1128.7 L575.4 1129.3 L575.6 1130.0 L575.8 1126.6 L576.0 1125.7 L576.2 1120.5 L576.4 1122.3 L576.6 1122.3 L576.8 1114.0 L577.1 1115.0 L577.3 1105.4 L577.5 1103.2 L577.7 1096.5 L577.9 1095.0 L578.1 1095.0 L578.3 1098.2 L578.5 1095.0 L578.8 1095.9 L579.0 1095.0 L579.2 1097.3 L579.4 1095.0 L579.6 1097.8 L579.9 1092.6 L580.1 1093.4 L580.3 1099.0 L580.5 1093.0 L580.7 1088.5 L580.9 1093.3 L581.2 1087.7 L581.4 1087.4 L581.6 1088.4 L581.8 1089.5 L582.0 1085.3 L582.3 1086.8 L582.5 1083.7 L582.7 1081.8 L582.9 1082.9 L583.1 1083.5 L583.3 1083.8 L583.6 1083.1 L583.8 1080.4 L584.0 1081.0 L584.2 1079.8 L584.4 1083.7 L584.6 1084.9 L584.8 1084.4 L585.0 1085.4 L585.3 1083.6 L585.5 1080.3 L585.7 1079.7 L585.9 1082.7 L586.1 1080.3 L586.3 1079.4 L586.5 1078.7 L586.7 1079.5 L587.0 1083.1 L587.2 1083.8 L587.4 1081.2 L587.6 1077.7 L587.8 1071.1 L588.0 1065.2 L588.2 1064.6 L588.5 1065.2 L588.7 1063.4 L588.9 1064.2 L589.1 1057.2 L589.3 1056.5 L589.5 1057.4 L589.7 1053.6 L590.0 1058.5 L590.2 1055.5 L590.4 1055.1 L590.6 1051.2 L590.8 1054.4 L591.0 1052.9 L591.2 1056.8 L591.5 1055.4 L591.7 1049.2 L591.9 1048.7 L592.1 1051.8 L592.3 1048.2 L592.5 1049.2 L592.7 1051.2 L593.0 1045.0 L593.2 1037.0 L593.4 1048.7 L593.6 1044.3 L593.8 1042.7 L594.0 1055.2 L594.2 1041.7 L594.5 1038.5 L594.7 1036.1 L594.9 1033.2 L595.1 1038.7 L595.3 1042.2 L595.5 1036.5 L595.8 1040.5 L596.0 1042.2 L596.2 1043.7 L596.4 1036.7 L596.6 1045.0 L596.8 1038.5 L597.0 1035.8 L597.3 1042.9 L597.5 1030.0 L597.7 1033.1 L597.9 1027.6 L598.1 1028.7 L598.3 1007.9 L598.6 1013.9 L598.8 1000.4 L599.0 989.0 L599.2 998.6 L599.4 973.6 L599.7 971.7 L599.9 968.0 L600.1 957.6 L600.3 960.0 L600.5 967.0 L600.7 989.5 L600.9 981.6 L601.2 974.2 L601.4 989.8 L601.6 990.0 L601.8 990.9 L602.0 990.8 L602.2 991.4 L602.4 989.6 L602.6 998.1 L602.9 997.5 L603.1 996.5 L603.3 988.2 L603.5 988.6 L603.7 985.7 L603.9 998.0 L604.1 1001.0 L604.3 995.1 L604.6 995.4 L604.8 988.3 L605.0 986.7 L605.2 975.2 L605.4 986.7 L605.6 976.2 L605.8 973.7 L606.1 976.7 L606.3 960.0 L606.5 974.2 L606.7 964.9 L606.9 964.6 L607.1 957.9 L607.3 956.7 L607.6 952.9 L607.8 947.3 L608.0 940.4 L608.2 947.2 L608.4 936.0 L608.6 920.8 L608.8 921.7 L609.1 926.8 L609.3 934.4 L609.5 932.0 L609.7 925.0 L609.9 923.4 L610.1 918.8 L610.3 931.6 L610.6 922.8 L610.8 928.9 L611.0 917.7 L611.2 913.2 L611.4 918.1 L611.6 913.7 L611.9 924.2 L612.1 931.2 L612.3 918.0 L612.5 922.5 L612.7 927.7 L612.9 916.9 L613.1 923.2 L613.4 923.9 L613.6 916.3 L613.8 928.3 L614.0 928.1 L614.2 927.9 L614.4 935.9 L614.6 936.9 L614.9 933.5 L615.1 933.7 L615.3 932.6 L615.5 936.1 L615.7 935.5 L615.9 936.3 L616.1 935.1 L616.4 932.5 L616.6 934.2 L616.8 936.5 L617.0 934.4 L617.2 927.8 L617.4 923.6 L617.6 924.2 L617.9 927.1 L618.1 924.1 L618.3 926.7 L618.5 932.6 L618.7 930.3 L618.9 931.0 L619.1 934.0 L619.3 944.8 L619.6 948.7 L619.8 942.4 L620.0 947.0 L620.2 937.6 L620.4 946.5 L620.6 947.2 L620.8 947.3 L621.0 952.4 L621.3 944.4 L621.5 936.7 L621.7 938.8 L621.9 934.5 L622.1 920.0 L622.3 918.4 L622.6 919.1 L622.8 912.7 L623.0 908.5 L623.2 906.8 L623.4 902.6 L623.7 905.4 L623.9 900.3 L624.1 902.5 L624.3 907.4 L624.5 905.8 L624.7 904.2 L624.9 898.2 L625.2 898.3 L625.4 901.4 L625.6 904.8 L625.8 901.8 L626.0 894.4 L626.2 895.0 L626.4 884.8 L626.7 889.1 L626.9 884.7 L627.1 892.0 L627.3 895.0 L627.5 887.8 L627.7 891.5 L627.9 891.2 L628.2 884.9 L628.4 885.9 L628.6 888.9 L628.8 887.5 L629.0 886.5 L629.2 887.5 L629.5 898.6 L629.7 893.5 L629.9 899.8 L630.1 895.8 L630.3 894.8 L630.5 889.2 L630.7 895.7 L631.0 899.1 L631.2 901.7 L631.4 901.1 L631.6 906.6 L631.8 904.5 L632.0 906.1 L632.2 904.3 L632.5 905.4 L632.7 908.8 L632.9 910.8 L633.1 905.5 L633.3 910.2 L633.5 908.0 L633.7 918.2 L634.0 903.8 L634.2 910.5 L634.4 918.1 L634.6 915.7 L634.8 928.1 L635.0 929.2 L635.2 934.5 L635.5 930.1 L635.7 942.3 L635.9 939.7 L636.1 934.4 L636.3 935.7 L636.5 935.5 L636.8 926.5 L637.0 927.3 L637.2 928.4 L637.4 948.8 L637.6 943.4 L637.8 944.0 L638.0 942.5 L638.3 949.4 L638.5 949.6 L638.7 957.4 L638.9 955.2 L639.1 959.9 L639.3 954.2 L639.5 952.4 L639.8 950.1 L640.0 949.8 L640.2 943.0 L640.4 947.3 L640.6 954.1 L640.8 957.9 L641.0 957.5 L641.3 962.2 L641.5 952.8 L641.7 956.5 L641.9 960.7 L642.1 966.8 L642.3 965.8 L642.5 966.1 L642.8 966.0 L643.0 975.5 L643.2 956.1 L643.4 962.9 L643.6 976.7 L643.8 973.5 L644.0 974.9 L644.3 967.3 L644.5 968.5 L644.7 967.8 L644.9 971.9 L645.1 970.8 L645.3 972.9 L645.6 973.5 L645.8 973.0 L646.0 958.7 L646.2 959.0 L646.4 969.0 L646.6 955.8 L646.8 964.5 L647.1 976.0 L647.3 966.7 L647.5 959.0 L647.7 961.7 L647.9 958.4 L648.1 956.7 L648.3 951.7 L648.6 936.7 L648.8 938.9 L649.0 942.7 L649.2 937.0 L649.4 938.6 L649.6 952.3 L649.8 946.8 L650.1 951.7 L650.3 963.5 L650.5 960.4 L650.7 962.6 L650.9 973.0 L651.1 974.5 L651.3 971.2 L651.6 950.8 L651.8 940.9 L652.0 927.8 L652.2 935.2 L652.4 920.4 L652.6 916.4 L652.8 917.9 L653.1 918.0 L653.3 912.5 L653.5 908.2 L653.7 910.8 L653.9 907.8 L654.1 908.3 L654.4 907.7 L654.6 907.7 L654.8 913.4 L655.0 907.9 L655.2 908.2 L655.4 905.8 L655.6 906.2 L655.9 906.7 L656.1 909.5 L656.3 903.1 L656.5 903.2 L656.7 898.4 L656.9 890.0 L657.1 881.1 L657.4 877.9 L657.6 870.9 L657.8 878.6 L658.0 883.0 L658.2 880.0 L658.4 878.1 L658.6 881.5 L658.9 881.8 L659.1 882.2 L659.3 876.0 L659.5 882.7 L659.7 880.2 L659.9 874.5 L660.1 877.1 L660.4 880.9 L660.6 870.5 L660.8 877.3 L661.0 870.8 L661.2 864.9 L661.4 861.0 L661.6 866.4 L661.9 856.4 L662.1 858.9 L662.3 856.5 L662.5 854.5 L662.7 854.5 L662.9 860.8 L663.2 853.2 L663.4 854.4 L663.6 853.0 L663.8 850.5 L664.0 851.3 L664.2 846.3 L664.4 852.6 L664.7 847.7 L664.9 843.0 L665.1 849.0 L665.3 847.9 L665.5 854.7 L665.7 858.0 L665.9 858.4 L666.2 858.6 L666.4 860.5 L666.6 861.0 L666.8 862.0 L667.0 863.4 L667.2 866.5 L667.4 872.6 L667.7 880.8 L667.9 872.4 L668.1 873.4 L668.3 863.8 L668.5 865.1 L668.7 866.9 L668.9 862.8 L669.2 853.8 L669.4 849.0 L669.6 849.1 L669.8 849.5 L670.0 842.8 L670.2 836.9 L670.5 846.3 L670.7 836.5 L670.9 834.6 L671.1 833.0 L671.3 826.3 L671.5 827.1 L671.7 830.1 L672.0 830.3 L672.2 826.6 L672.4 831.1 L672.6 836.3 L672.8 828.7 L673.0 829.5 L673.2 827.8 L673.5 825.2 L673.7 835.5 L673.9 839.6 L674.1 840.7 L674.3 838.0 L674.5 829.3 L674.7 835.3 L675.0 835.6 L675.2 831.8 L675.4 829.3 L675.6 836.1 L675.8 833.6 L676.0 839.0 L676.2 838.9 L676.5 836.8 L676.7 837.4 L676.9 839.8 L677.1 842.9 L677.3 836.8 L677.5 830.9 L677.7 831.0 L678.0 826.2 L678.2 825.5 L678.4 824.3 L678.6 826.8 L678.8 818.7 L679.0 823.2 L679.3 820.8 L679.5 817.5 L679.7 818.0 L679.9 816.7 L680.1 819.3 L680.3 826.0 L680.5 817.2 L680.8 820.6 L681.0 815.3 L681.2 816.3 L681.4 819.3 L681.6 818.0 L681.8 820.2 L682.0 814.9 L682.3 823.2 L682.5 816.0 L682.7 822.3 L682.9 824.9 L683.1 823.9 L683.3 825.7 L683.5 820.5 L683.8 831.0 L684.0 832.3 L684.2 829.2 L684.4 830.2 L684.6 835.0 L684.8 833.5 L685.0 837.9 L685.3 837.4 L685.5 837.2 L685.7 835.4 L685.9 841.8 L686.1 843.6 L686.3 852.9 L686.5 851.3 L686.7 849.2 L687.0 845.4 L687.2 847.2 L687.4 852.5 L687.6 857.2 L687.8 860.0 L688.0 858.0 L688.2 852.5 L688.4 849.5 L688.7 850.3 L688.9 850.9 L689.1 853.5 L689.3 847.1 L689.5 838.4 L689.7 823.6 L690.0 833.0 L690.2 829.0 L690.4 827.0 L690.6 821.9 L690.8 820.5 L691.0 809.0 L691.3 813.4 L691.5 810.8 L691.7 806.3 L691.9 808.6 L692.1 799.6 L692.3 796.3 L692.6 805.4 L692.8 807.3 L693.0 807.7 L693.2 805.4 L693.4 797.8 L693.6 806.5 L693.8 803.6 L694.1 801.9 L694.3 800.9 L694.5 797.3 L694.7 798.3 L694.9 800.8 L695.1 807.7 L695.4 802.1 L695.6 808.0 L695.8 809.4 L696.0 811.1 L696.2 810.3 L696.4 804.9 L696.6 815.1 L696.9 817.4 L697.1 807.7 L697.3 813.3 L697.5 809.4 L697.7 808.9 L697.9 822.8 L698.2 825.0 L698.4 829.3 L698.6 831.4 L698.8 830.7 L699.0 825.9 L699.2 826.2 L699.5 827.7 L699.7 827.1 L699.9 829.3 L700.1 827.4 L700.3 823.6 L700.5 824.5 L700.7 830.0 L701.0 827.4 L701.2 814.6 L701.4 810.2 L701.6 814.1 L701.8 811.7 L702.0 811.5 L702.2 797.4 L702.4 804.1 L702.7 804.6 L702.9 798.0 L703.1 806.2 L703.3 806.3 L703.5 805.9 L703.7 810.3 L703.9 801.4 L704.2 797.9 L704.4 796.2 L704.6 798.0 L704.8 805.8 L705.0 805.3 L705.2 806.6 L705.4 794.2 L705.7 805.2 L705.9 800.5 L706.1 795.5 L706.3 802.5 L706.5 799.0 L706.7 812.1 L706.9 811.1 L707.2 808.1 L707.4 813.4 L707.6 809.9 L707.8 813.0 L708.0 815.0 L708.2 824.9 L708.4 822.1 L708.7 817.5 L708.9 818.5 L709.1 812.7 L709.3 820.2 L709.5 828.4 L709.7 826.8 L709.9 823.9 L710.2 817.9 L710.4 825.1 L710.6 822.2 L710.8 817.3 L711.0 822.1 L711.2 818.3 L711.4 820.9 L711.7 824.5 L711.9 825.3 L712.1 823.2 L712.3 824.1 L712.5 837.9 L712.7 828.3 L713.0 826.3 L713.2 825.9 L713.4 825.6 L713.6 829.3 L713.8 829.2 L714.0 835.4 L714.2 837.2 L714.5 837.4 L714.7 833.7 L714.9 837.7 L715.1 840.5 L715.3 845.1 L715.5 848.7 L715.7 846.3 L716.0 847.2 L716.2 836.0 L716.4 835.0 L716.6 838.5 L716.8 842.5 L717.0 852.6 L717.2 851.5 L717.5 841.0 L717.7 844.4 L717.9 840.1 L718.1 842.8 L718.3 846.9 L718.5 846.2 L718.7 850.0 L719.0 850.1 L719.2 856.0 L719.4 853.5 L719.6 856.3 L719.8 856.3 L720.0 843.0 L720.2 846.3 L720.5 848.5 L720.7 843.1 L720.9 840.7 L721.1 834.5 L721.3 837.5 L721.5 833.4 L721.8 831.5 L722.0 827.2 L722.2 822.9 L722.4 817.8 L722.6 820.1 L722.8 818.8 L723.0 813.3 L723.3 815.5 L723.5 814.5 L723.7 816.2 L723.9 814.1 L724.1 815.4 L724.3 813.2 L724.5 815.7 L724.8 812.7 L725.0 808.3 L725.2 804.8 L725.4 807.9 L725.6 811.5 L725.8 812.9 L726.0 806.2 L726.3 809.4 L726.5 806.5 L726.7 800.5 L726.9 800.0 L727.1 801.6 L727.3 791.4 L727.5 785.0 L727.8 786.4 L728.0 788.5 L728.2 779.0 L728.4 777.5 L728.6 777.5 L728.8 776.6 L729.1 779.7 L729.3 784.9 L729.5 784.9 L729.7 782.0 L729.9 785.1 L730.1 782.0 L730.3 778.3 L730.6 781.9 L730.8 781.1 L731.0 779.8 L731.2 778.8 L731.4 782.2 L731.6 783.2 L731.8 780.5 L732.1 776.8 L732.3 777.1 L732.5 776.3 L732.7 776.6 L732.9 779.7 L733.1 782.6 L733.3 782.4 L733.6 783.4 L733.8 777.3 L734.0 778.1 L734.2 779.8 L734.4 778.3 L734.6 781.3 L734.8 773.4 L735.0 771.9 L735.3 780.7 L735.5 772.8 L735.7 773.5 L735.9 774.5 L736.1 777.2 L736.3 770.9 L736.5 774.1 L736.8 775.0 L737.0 770.7 L737.2 773.0 L737.4 767.6 L737.6 770.7 L737.8 768.2 L738.0 765.9 L738.2 766.2 L738.5 761.5 L738.7 758.5 L738.9 764.6 L739.1 765.4 L739.3 763.7 L739.5 761.8 L739.7 760.1 L740.0 763.3 L740.2 761.6 L740.4 760.7 L740.6 763.9 L740.8 767.9 L741.0 764.7 L741.3 764.9 L741.5 759.5 L741.7 758.7 L741.9 760.6 L742.1 760.7 L742.3 768.5 L742.6 771.7 L742.8 775.2 L743.0 773.7 L743.2 772.9 L743.4 775.6 L743.6 772.1 L743.9 774.7 L744.1 775.6 L744.3 779.4 L744.5 775.5 L744.7 767.7 L744.9 775.0 L745.1 777.9 L745.4 786.4 L745.6 779.5 L745.8 781.8 L746.0 784.1 L746.2 782.3 L746.4 782.6 L746.7 780.2 L746.9 785.9 L747.1 785.7 L747.3 787.6 L747.5 789.6 L747.7 788.8 L747.9 792.0 L748.2 792.6 L748.4 790.7 L748.6 789.7 L748.8 792.7 L749.0 790.0 L749.2 786.6 L749.4 780.0 L749.7 785.5 L749.9 784.2 L750.1 792.4 L750.3 791.7 L750.5 785.9 L750.7 785.5 L750.9 788.3 L751.2 789.2 L751.4 790.2 L751.6 788.9 L751.8 787.0 L752.0 787.5 L752.2 782.4 L752.4 789.2 L752.7 790.1 L752.9 784.5 L753.1 793.5 L753.3 790.9 L753.5 790.9 L753.7 795.6 L753.9 797.4 L754.2 797.3 L754.4 797.1 L754.6 799.7 L754.8 805.7 L755.0 806.0 L755.2 812.3 L755.5 816.9 L755.7 811.6 L755.9 813.3 L756.1 811.6 L756.3 808.0 L756.5 809.2 L756.7 810.0 L757.0 809.1 L757.2 807.7 L757.4 807.8 L757.6 808.0 L757.8 812.3 L758.0 813.6 L758.2 812.9 L758.5 811.6 L758.7 807.7 L758.9 807.4 L759.1 809.9 L759.3 809.1 L759.5 813.9 L759.7 808.4 L760.0 805.7 L760.2 801.4 L760.4 793.3 L760.6 799.2 L760.8 795.3 L761.0 798.7 L761.2 795.5 L761.4 793.6 L761.7 796.4 L761.9 792.5 L762.1 786.4 L762.3 787.8 L762.5 787.7 L762.7 787.1 L762.9 784.7 L763.1 784.3 L763.4 778.5 L763.6 779.0 L763.8 776.8 L764.0 776.8 L764.2 777.8 L764.4 775.6 L764.7 779.9 L764.9 779.7 L765.1 781.2 L765.3 776.5 L765.5 780.6 L765.8 781.1 L766.0 776.7 L766.2 779.5 L766.4 778.9 L766.6 777.1 L766.8 776.4 L767.1 775.8 L767.3 781.6 L767.5 774.9 L767.7 781.2 L767.9 775.1 L768.2 776.4 L768.4 777.3 L768.6 773.4 L768.8 780.2 L769.0 782.6 L769.2 778.9 L769.4 776.0 L769.7 775.8 L769.9 773.8 L770.1 779.5 L770.3 780.5 L770.5 778.7 L770.7 784.2 L770.9 780.0 L771.1 784.0 L771.4 785.4 L771.6 785.6 L771.8 779.7 L772.0 778.7 L772.2 781.4 L772.4 785.2 L772.6 781.2 L772.9 784.1 L773.1 787.5 L773.3 782.7 L773.5 791.3 L773.7 788.4 L773.9 787.0 L774.1 789.9 L774.3 790.1 L774.6 791.0 L774.8 788.1 L775.0 788.8 L775.2 788.6 L775.4 804.1 L775.6 792.6 L775.8 787.7 L776.1 790.2 L776.3 794.7 L776.5 800.5 L776.7 791.5 L776.9 792.0 L777.1 794.6 L777.3 792.4 L777.6 798.2 L777.8 797.9 L778.0 802.6 L778.2 800.1 L778.4 806.3 L778.6 798.9 L778.8 804.3 L779.1 801.4 L779.3 806.6 L779.5 802.8 L779.7 803.0 L779.9 807.7 L780.1 808.9 L780.4 811.3 L780.6 809.6 L780.8 806.5 L781.0 802.8 L781.2 803.4 L781.4 807.3 L781.6 803.2 L781.9 806.2 L782.1 806.2 L782.3 812.0 L782.5 804.8 L782.7 814.2 L782.9 815.6 L783.1 811.6 L783.4 813.9 L783.6 814.2 L783.8 803.5 L784.0 807.9 L784.2 799.9 L784.4 804.7 L784.6 800.8 L784.8 799.3 L785.1 796.4 L785.3 796.9 L785.5 797.4 L785.7 798.0 L785.9 794.5 L786.1 788.2 L786.3 789.6 L786.5 792.9 L786.8 789.9 L787.0 792.3 L787.2 790.5 L787.4 787.7 L787.6 789.3 L787.8 783.8 L788.0 785.4 L788.3 783.1 L788.5 791.0 L788.7 785.4 L788.9 782.9 L789.1 782.4 L789.3 783.5 L789.6 786.4 L789.8 778.7 L790.0 780.2 L790.2 778.5 L790.4 771.9 L790.6 772.6 L790.9 767.6 L791.1 771.4 L791.3 766.7 L791.5 769.7 L791.7 767.0 L791.9 771.3 L792.2 770.2 L792.4 769.0 L792.6 768.7 L792.8 765.3 L793.0 767.4 L793.2 769.0 L793.4 767.3 L793.7 769.8 L793.9 770.2 L794.1 765.1 L794.3 769.1 L794.5 767.3 L794.7 770.4 L794.9 766.2 L795.2 768.7 L795.4 767.5 L795.6 769.0 L795.8 767.4 L796.0 768.0 L796.2 765.8 L796.5 762.8 L796.7 759.8 L796.9 756.7 L797.1 753.8 L797.3 754.6 L797.5 756.3 L797.7 754.6 L798.0 759.0 L798.2 763.0 L798.4 758.3 L798.6 761.3 L798.8 757.1 L799.0 759.2 L799.2 760.4 L799.5 758.6 L799.7 764.6 L799.9 768.4 L800.1 765.3 L800.3 765.2 L800.5 761.6 L800.7 769.1 L801.0 766.8 L801.2 762.1 L801.4 765.1 L801.6 760.2 L801.8 761.7 L802.0 765.3 L802.2 761.4 L802.5 765.0 L802.7 768.0 L802.9 757.7 L803.1 755.8 L803.3 754.4 L803.5 753.9 L803.7 756.3 L804.0 755.9 L804.2 754.5 L804.4 752.4 L804.6 750.4 L804.8 752.5 L805.0 752.7 L805.3 747.1 L805.5 747.9 L805.7 745.1 L805.9 746.2 L806.1 742.8 L806.3 748.9 L806.5 748.3 L806.8 745.4 L807.0 742.4 L807.2 742.9 L807.4 741.9 L807.6 739.3 L807.8 739.1 L808.0 740.3 L808.2 745.4 L808.5 743.8 L808.7 744.8 L808.9 744.0 L809.1 740.5 L809.3 742.5 L809.5 739.2 L809.7 739.3 L809.9 738.9 L810.2 739.8 L810.4 744.8 L810.6 745.3 L810.8 744.9 L811.0 744.9 L811.2 744.6 L811.4 743.9 L811.6 741.2 L811.9 743.7 L812.1 742.4 L812.3 742.8 L812.5 743.1 L812.7 733.0 L813.0 736.3 L813.2 745.8 L813.4 734.4 L813.6 732.8 L813.8 734.1 L814.1 725.8 L814.3 730.4 L814.5 727.6 L814.7 744.0 L814.9 737.3 L815.1 741.1 L815.4 746.3 L815.6 749.4 L815.8 749.2 L816.0 744.6 L816.2 747.3 L816.5 751.5 L816.7 760.6 L817.0 784.7 L817.2 794.3 L817.5 809.9 L817.7 807.1 L817.9 815.8 L818.1 807.0 L818.3 805.2 L818.6 808.6 L818.8 805.5 L819.0 803.5 L819.2 817.1 L819.4 817.2 L819.6 825.5 L819.8 822.7 L820.1 827.3 L820.3 828.5 L820.5 820.8 L820.7 832.0 L820.9 830.5 L821.1 832.7 L821.4 826.6 L821.6 827.6 L821.8 826.7 L822.0 837.3 L822.2 825.1 L822.5 843.0 L822.7 850.3 L822.9 845.8 L823.1 852.6 L823.3 847.7 L823.5 845.5 L823.7 845.0 L824.0 838.2 L824.2 832.7 L824.4 839.8 L824.6 841.0 L824.8 828.3 L825.0 823.8 L825.2 817.8 L825.4 819.6 L825.7 815.0 L825.9 813.9 L826.1 809.9 L826.3 809.3 L826.5 811.8 L826.7 813.9 L826.9 815.9 L827.1 816.7 L827.4 819.5 L827.6 821.0 L827.8 816.9 L828.0 819.1 L828.2 811.4 L828.4 817.3 L828.6 819.7 L828.9 822.4 L829.1 818.8 L829.3 821.7 L829.5 820.2 L829.7 824.6 L829.9 818.2 L830.1 820.6 L830.4 825.4 L830.6 826.9 L830.8 826.9 L831.0 831.9 L831.2 831.9 L831.4 836.6 L831.6 840.3 L831.8 844.6 L832.0 850.5 L832.3 847.7 L832.5 845.3 L832.7 841.9 L832.9 844.1 L833.1 836.0 L833.3 844.3 L833.6 837.4 L833.8 834.6 L834.0 835.1 L834.2 830.7 L834.4 833.2 L834.6 829.4 L834.9 831.2 L835.1 831.7 L835.3 832.3 L835.5 833.6 L835.7 829.4 L835.9 831.8 L836.2 835.7 L836.4 833.9 L836.6 833.0 L836.8 836.7 L837.0 827.2 L837.2 832.8 L837.4 828.0 L837.7 827.0 L837.9 826.0 L838.1 826.4 L838.3 826.8 L838.5 827.0 L838.7 832.7 L839.0 832.6 L839.2 835.6 L839.4 826.8 L839.6 829.8 L839.8 827.0 L840.0 833.0 L840.2 833.2 L840.5 834.5 L840.7 830.7 L840.9 836.8 L841.1 829.8 L841.3 826.8 L841.5 828.8 L841.7 823.7 L842.0 827.6 L842.2 832.0 L842.4 836.3 L842.6 836.4 L842.8 840.1 L843.0 845.2 L843.2 840.0 L843.4 834.0 L843.7 829.7 L843.9 839.3 L844.1 841.1 L844.3 843.2 L844.5 848.5 L844.7 849.8 L844.9 845.2 L845.1 846.3 L845.4 850.8 L845.6 852.9 L845.8 861.8 L846.0 858.0 L846.2 860.3 L846.4 857.9 L846.6 849.6 L846.9 847.6 L847.1 841.5 L847.3 839.7 L847.5 841.4 L847.7 841.1 L847.9 838.1 L848.2 837.1 L848.4 830.2 L848.6 837.8 L848.8 831.9 L849.0 834.8 L849.2 830.0 L849.5 824.6 L849.7 828.3 L849.9 824.3 L850.1 820.2 L850.3 823.3 L850.5 817.7 L850.8 817.2 L851.0 819.1 L851.2 811.2 L851.4 812.3 L851.6 817.5 L851.8 802.6 L852.0 807.9 L852.3 811.2 L852.5 808.8 L852.7 808.3 L852.9 810.0 L853.1 805.9 L853.3 796.9 L853.5 796.6 L853.8 797.3 L854.0 799.5 L854.2 795.7 L854.4 796.9 L854.6 804.3 L854.8 793.6 L855.1 799.8 L855.3 799.6 L855.5 797.2 L855.7 800.0 L855.9 796.7 L856.1 794.8 L856.3 801.4 L856.6 797.1 L856.8 795.2 L857.0 802.3 L857.2 802.8 L857.4 801.8 L857.6 799.1 L857.8 793.3 L858.1 796.0 L858.3 796.8 L858.5 790.8 L858.7 792.0 L858.9 789.6 L859.1 791.1 L859.3 796.6 L859.6 789.8 L859.8 796.0 L860.0 798.8 L860.2 796.7 L860.4 796.9 L860.6 799.6 L860.9 799.6 L861.1 802.1 L861.3 799.3 L861.5 802.1 L861.7 803.7 L861.9 804.4 L862.1 802.2 L862.4 800.8 L862.6 801.2 L862.8 801.2 L863.0 802.3 L863.2 803.7 L863.4 805.7 L863.6 802.3 L863.9 805.1 L864.1 799.7 L864.3 806.0 L864.5 802.5 L864.7 796.8 L864.9 802.8 L865.2 800.6 L865.4 797.6 L865.6 800.4 L865.8 798.5 L866.0 801.0 L866.2 800.7 L866.4 802.3 L866.7 801.0 L866.9 798.8 L867.1 795.9 L867.3 802.6 L867.5 801.6 L867.7 792.0 L867.9 791.4 L868.2 793.8 L868.4 790.6 L868.6 791.8 L868.8 790.2 L869.0 791.2 L869.2 788.3 L869.4 792.2 L869.7 798.1 L869.9 789.8 L870.1 794.7 L870.3 786.8 L870.5 786.1 L870.7 788.9 L870.9 793.7 L871.2 785.7 L871.4 792.8 L871.6 793.6 L871.8 794.2 L872.0 790.0 L872.2 787.4 L872.4 786.9 L872.7 795.5 L872.9 796.1 L873.1 799.5 L873.3 801.6 L873.5 796.8 L873.7 796.0 L874.0 801.7 L874.2 794.7 L874.4 794.6 L874.6 794.5 L874.8 794.6 L875.0 796.9 L875.2 795.8 L875.5 798.8 L875.7 807.5 L875.9 805.5 L876.1 808.0 L876.3 799.3 L876.5 799.4 L876.7 795.4 L877.0 803.4 L877.2 816.3 L877.4 814.8 L877.6 815.2 L877.8 816.1 L878.0 817.2 L878.2 813.4 L878.5 818.4 L878.7 821.7 L878.9 826.3 L879.1 821.7 L879.3 826.5 L879.5 840.3 L879.8 844.1 L880.0 841.3 L880.2 840.1 L880.4 841.8 L880.6 848.8 L880.9 853.6 L881.1 859.8 L881.3 860.6 L881.5 861.6 L881.7 862.8 L881.9 871.7 L882.1 872.1 L882.4 858.7 L882.6 874.1 L882.8 870.3 L883.0 875.1 L883.2 886.3 L883.4 886.1 L883.6 876.1 L883.8 879.5 L884.0 881.2 L884.3 875.5 L884.5 876.9 L884.7 887.3 L884.9 882.5 L885.1 890.9 L885.3 896.7 L885.6 895.8 L885.8 889.4 L886.0 897.4 L886.2 905.0 L886.4 896.6 L886.6 894.1 L886.9 905.8 L887.1 908.7 L887.3 907.0 L887.5 916.0 L887.7 911.0 L887.9 917.4 L888.2 917.3 L888.4 909.4 L888.6 911.4 L888.8 904.7 L889.0 902.3 L889.2 890.0 L889.4 888.0 L889.6 894.6 L889.9 889.9 L890.1 887.7 L890.3 890.8 L890.5 896.0 L890.7 889.4 L890.9 884.7 L891.1 880.7 L891.3 877.5 L891.6 880.4 L891.8 875.5 L892.0 874.1 L892.2 861.8 L892.4 874.0 L892.6 870.9 L892.8 878.9 L893.1 872.4 L893.3 865.2 L893.5 868.4 L893.7 864.7 L893.9 862.3 L894.1 869.1 L894.3 860.6 L894.6 863.4 L894.8 860.1 L895.0 862.0 L895.2 859.3 L895.4 863.5 L895.6 865.2 L895.9 859.5 L896.1 853.9 L896.3 852.7 L896.5 855.3 L896.7 850.1 L896.9 853.5 L897.2 849.1 L897.4 846.4 L897.6 846.4 L897.8 855.9 L898.0 858.9 L898.2 855.2 L898.5 845.2 L898.7 847.9 L898.9 861.7 L899.1 858.3 L899.3 861.2 L899.5 870.9 L899.7 870.1 L899.9 873.5 L900.2 870.4 L900.4 888.8 L900.6 891.9 L900.8 897.2 L901.0 901.4 L901.2 905.3 L901.4 894.7 L901.6 894.6 L901.9 890.0 L902.1 887.6 L902.3 890.6 L902.5 898.6 L902.7 908.2 L902.9 908.3 L903.1 895.0 L903.4 895.1 L903.6 890.2 L903.8 889.6 L904.0 884.9 L904.2 884.0 L904.4 879.4 L904.6 881.2 L904.9 885.8 L905.1 882.1 L905.3 879.6 L905.5 888.8 L905.7 884.0 L905.9 889.9 L906.2 884.7 L906.4 889.6 L906.6 898.7 L906.8 899.4 L907.0 896.1 L907.2 893.9 L907.4 896.7 L907.7 902.5 L907.9 898.3 L908.1 903.5 L908.3 904.7 L908.5 900.4 L908.7 890.3 L908.9 893.5 L909.2 889.2 L909.4 893.2 L909.6 888.2 L909.8 881.3 L910.0 879.5 L910.2 875.9 L910.4 876.5 L910.7 876.5 L910.9 864.2 L911.1 871.6 L911.3 863.2 L911.5 867.5 L911.7 856.9 L912.0 855.5 L912.2 855.5 L912.4 856.3 L912.6 853.6 L912.8 859.0 L913.0 853.7 L913.3 855.2 L913.5 853.3 L913.7 854.1 L913.9 857.2 L914.1 862.6 L914.4 856.3 L914.6 855.5 L914.8 860.3 L915.0 862.9 L915.3 869.8 L915.5 864.0 L915.7 868.5 L915.9 865.7 L916.1 871.5 L916.4 862.2 L916.6 862.0 L916.8 871.7 L917.0 878.2 L917.3 877.6 L917.5 876.8 L917.7 877.8 L917.9 876.5 L918.1 879.7 L918.3 877.2 L918.6 876.9 L918.8 892.2 L919.0 889.7 L919.2 896.8 L919.4 894.3 L919.7 891.9 L919.9 890.5 L920.1 900.0 L920.3 896.0 L920.5 902.3 L920.7 901.2 L921.0 898.8 L921.2 902.0 L921.4 902.9 L921.6 913.0 L921.8 908.7 L922.0 905.4 L922.3 911.2 L922.5 909.2 L922.7 906.4 L922.9 904.8 L923.1 905.1 L923.3 905.5 L923.6 906.2 L923.8 905.6 L924.0 906.4 L924.2 904.9 L924.4 905.4 L924.6 906.0 L924.9 906.7 L925.1 908.0 L925.3 909.7 L925.5 908.2 L925.7 906.4 L925.9 907.0 L926.2 904.9 L926.4 903.5 L926.6 904.6 L926.8 896.1 L927.0 903.0 L927.2 903.4 L927.4 893.6 L927.6 884.8 L927.8 892.6 L928.1 883.4 L928.3 882.1 L928.5 881.0 L928.7 877.8 L928.9 881.9 L929.1 871.5 L929.3 873.9 L929.6 871.2 L929.8 880.6 L930.0 881.2 L930.2 879.1 L930.4 870.0 L930.6 872.5 L930.9 874.9 L931.1 874.3 L931.3 867.5 L931.5 869.6 L931.7 865.2 L931.9 870.1 L932.2 868.9 L932.4 867.9 L932.6 864.7 L932.8 864.0 L933.0 861.6 L933.2 850.6 L933.4 845.3 L933.7 845.0 L933.9 845.5 L934.1 842.5 L934.3 832.8 L934.5 827.5 L934.7 818.7 L934.9 811.0 L935.1 807.1 L935.3 806.0 L935.6 798.8 L935.8 801.8 L936.0 797.6 L936.2 792.2 L936.4 792.8 L936.6 795.1 L936.9 793.2 L937.1 790.9 L937.3 794.1 L937.5 791.6 L937.7 795.4 L937.9 799.7 L938.2 793.8 L938.4 790.7 L938.6 790.7 L938.8 797.9 L939.0 793.4 L939.2 798.5 L939.5 793.6 L939.7 793.6 L939.9 791.7 L940.1 794.5 L940.3 796.8 L940.5 796.9 L940.7 791.9 L941.0 793.6 L941.2 791.3 L941.4 797.6 L941.6 796.9 L941.8 794.6 L942.0 792.6 L942.2 797.8 L942.4 795.6 L942.7 797.1 L942.9 797.6 L943.1 797.9 L943.3 796.3 L943.5 796.1 L943.7 797.0 L943.9 797.1 L944.1 795.4 L944.4 797.7 L944.6 791.5 L944.8 789.6 L945.0 788.2 L945.2 789.9 L945.4 788.7 L945.6 787.5 L945.9 789.3 L946.1 783.5 L946.3 783.1 L946.5 781.9 L946.7 786.8 L946.9 783.0 L947.1 781.4 L947.4 786.3 L947.6 785.1 L947.8 787.7 L948.0 793.4 L948.2 788.3 L948.4 793.5 L948.6 789.5 L948.8 796.3 L949.1 790.2 L949.3 793.6 L949.5 801.4 L949.7 801.3 L949.9 804.1 L950.1 803.2 L950.3 803.9 L950.5 796.3 L950.8 794.0 L951.0 790.1 L951.2 786.8 L951.4 780.5 L951.6 776.7 L951.8 774.6 L952.0 774.8 L952.3 779.2 L952.5 779.4 L952.7 777.9 L952.9 778.9 L953.1 771.3 L953.3 779.7 L953.6 776.0 L953.8 769.2 L954.0 766.2 L954.2 758.5 L954.4 759.1 L954.6 759.9 L954.9 771.0 L955.1 762.5 L955.3 767.0 L955.5 765.1 L955.7 762.1 L955.9 762.8 L956.2 761.0 L956.4 753.0 L956.6 752.5 L956.8 754.6 L957.0 760.6 L957.2 757.2 L957.4 747.1 L957.6 745.1 L957.9 756.0 L958.1 752.4 L958.3 743.8 L958.5 740.4 L958.7 743.6 L958.9 743.8 L959.1 744.5 L959.3 738.7 L959.6 723.9 L959.8 710.3 L960.0 711.4 L960.2 705.2 L960.4 705.7 L960.6 692.3 L960.8 688.4 L961.1 695.6 L961.3 703.5 L961.5 698.3 L961.7 700.8 L961.9 705.4 L962.1 705.1 L962.4 703.2 L962.6 706.9 L962.8 699.1 L963.0 702.8 L963.2 698.6 L963.4 709.7 L963.7 710.6 L963.9 712.5 L964.1 712.7 L964.3 708.4 L964.5 703.0 L964.7 707.8 L965.0 706.4 L965.2 699.1 L965.4 710.3 L965.6 705.5 L965.8 698.7 L966.0 701.7 L966.2 702.0 L966.5 696.0 L966.7 705.7 L966.9 700.3 L967.1 696.2 L967.3 695.4 L967.5 701.2 L967.7 704.2 L967.9 696.1 L968.2 688.4 L968.4 690.3 L968.6 694.5 L968.8 688.6 L969.0 682.1 L969.2 687.2 L969.4 687.7 L969.6 692.0 L969.9 692.4 L970.1 697.4 L970.3 691.3 L970.5 689.0 L970.7 697.5 L970.9 693.7 L971.2 686.1 L971.4 693.8 L971.6 698.4 L971.8 700.8 L972.0 699.2 L972.3 702.8 L972.5 704.2 L972.7 705.5 L972.9 705.9 L973.1 705.7 L973.3 702.6 L973.6 703.2 L973.8 699.6 L974.0 697.1 L974.2 692.6 L974.4 696.7 L974.6 697.9 L974.8 698.8 L975.1 697.7 L975.3 699.9 L975.5 694.7 L975.7 699.1 L975.9 697.2 L976.1 701.5 L976.3 695.6 L976.6 698.7 L976.8 699.4 L977.0 697.9 L977.2 703.2 L977.4 699.7 L977.6 693.4 L977.8 695.7 L978.1 690.4 L978.3 688.5 L978.5 690.6 L978.7 697.3 L978.9 698.4 L979.1 691.2 L979.3 694.9 L979.6 696.5 L979.8 697.9 L980.0 696.3 L980.2 696.6 L980.4 699.0 L980.6 696.7 L980.8 695.6 L981.1 697.8 L981.3 693.4 L981.5 697.4 L981.7 691.6 L981.9 695.8 L982.1 691.7 L982.3 689.2 L982.6 689.2 L982.8 690.2 L983.0 693.6 L983.2 692.1 L983.4 689.3 L983.6 688.9 L983.8 677.3 L984.0 674.1 L984.3 673.5 L984.5 676.1 L984.7 673.3 L984.9 671.3 L985.1 671.5 L985.3 666.6 L985.5 668.9 L985.7 670.9 L986.0 667.7 L986.2 663.9 L986.4 663.1 L986.6 667.0 L986.8 663.6 L987.0 663.7 L987.3 662.4 L987.5 661.6 L987.7 665.4 L987.9 667.3 L988.1 670.8 L988.3 665.6 L988.6 663.6 L988.8 673.5 L989.0 670.6 L989.2 669.5 L989.4 670.5 L989.6 672.0 L989.9 674.7 L990.1 675.0 L990.3 668.4 L990.5 671.7 L990.7 669.0 L990.9 674.9 L991.2 688.5 L991.4 684.1 L991.6 678.0 L991.8 694.6 L992.0 693.5 L992.2 688.2 L992.4 698.1 L992.7 697.2 L992.9 698.5 L993.1 690.8 L993.3 701.9 L993.5 700.4 L993.7 700.3 L993.9 699.2 L994.2 704.2 L994.4 696.9 L994.6 692.4 L994.8 696.3 L995.0 699.7 L995.2 692.1 L995.4 687.6 L995.7 683.5 L995.9 685.6 L996.1 673.5 L996.3 672.7 L996.5 667.9 L996.7 657.6 L996.9 661.5 L997.2 663.3 L997.4 661.4 L997.6 662.7 L997.8 662.7 L998.0 659.3 L998.2 663.5 L998.5 660.7 L998.7 662.0 L998.9 660.7 L999.1 660.6 L999.3 659.6 L999.5 659.3 L999.8 660.7 L1000.0 659.9 L1000.2 660.4 L1000.4 660.6 L1000.6 661.5 L1000.8 659.7 L1001.1 662.1 L1001.3 662.4 L1001.5 661.4 L1001.7 661.3 L1001.9 651.9 L1002.1 649.7 L1002.3 651.3 L1002.6 646.3 L1002.8 653.9 L1003.0 646.6 L1003.2 639.3 L1003.4 637.3 L1003.6 634.6 L1003.8 632.7 L1004.0 627.4 L1004.2 623.6 L1004.5 622.0 L1004.7 618.7 L1004.9 618.6 L1005.1 614.9 L1005.3 611.4 L1005.5 608.2 L1005.7 604.4 L1005.9 608.0 L1006.1 612.2 L1006.4 614.2 L1006.6 614.0 L1006.8 602.4 L1007.0 603.0 L1007.2 602.1 L1007.4 600.6 L1007.6 605.4 L1007.9 608.2 L1008.1 607.9 L1008.3 614.7 L1008.5 614.4 L1008.7 612.4 L1008.9 618.2 L1009.2 616.4 L1009.4 616.8 L1009.6 618.9 L1009.8 623.0 L1010.0 622.1 L1010.2 617.4 L1010.5 620.3 L1010.7 615.3 L1010.9 616.7 L1011.1 620.2 L1011.3 620.9 L1011.5 621.0 L1011.8 620.9 L1012.0 620.8 L1012.2 617.3 L1012.4 621.6 L1012.6 617.2 L1012.8 615.7 L1013.0 623.1 L1013.3 614.5 L1013.5 615.5 L1013.7 614.9 L1013.9 614.9 L1014.1 614.9 L1014.3 616.5 L1014.5 616.8 L1014.8 614.9 L1015.0 621.1 L1015.2 627.4 L1015.4 627.0 L1015.6 621.9 L1015.8 628.7 L1016.0 624.1 L1016.2 627.7 L1016.5 631.0 L1016.7 639.2 L1016.9 629.7 L1017.1 628.9 L1017.3 635.7 L1017.5 637.1 L1017.7 633.3 L1018.0 627.9 L1018.2 622.4 L1018.4 615.6 L1018.6 614.3 L1018.8 618.4 L1019.0 615.0 L1019.3 609.6 L1019.5 612.7 L1019.7 604.7 L1019.9 603.1 L1020.1 603.6 L1020.3 598.2 L1020.6 600.2 L1020.8 598.7 L1021.0 596.8 L1021.2 597.5 L1021.4 604.4 L1021.6 604.7 L1021.8 601.4 L1022.0 602.5 L1022.3 601.3 L1022.5 597.0 L1022.7 597.4 L1022.9 602.9 L1023.1 606.0 L1023.3 601.1 L1023.5 601.0 L1023.7 597.4 L1024.0 598.9 L1024.2 599.6 L1024.4 591.3 L1024.6 595.6 L1024.8 597.3 L1025.0 594.7 L1025.2 592.3 L1025.5 595.3 L1025.7 599.5 L1025.9 597.1 L1026.1 593.0 L1026.3 589.7 L1026.5 593.0 L1026.7 590.0 L1027.0 589.9 L1027.2 585.5 L1027.4 580.4 L1027.6 582.4 L1027.8 582.7 L1028.0 578.8 L1028.3 580.0 L1028.5 577.6 L1028.7 577.5 L1028.9 578.5 L1029.1 577.8 L1029.3 579.7 L1029.6 577.4 L1029.8 578.3 L1030.0 578.6 L1030.2 577.5 L1030.4 578.2 L1030.6 578.4 L1030.9 577.5 L1031.1 569.4 L1031.3 572.4 L1031.5 567.4 L1031.7 569.3 L1031.9 564.4 L1032.2 560.8 L1032.4 560.1 L1032.6 561.5 L1032.8 567.1 L1033.0 564.9 L1033.2 562.6 L1033.4 560.1 L1033.7 558.3 L1033.9 566.2 L1034.1 572.1 L1034.3 568.5 L1034.5 570.1 L1034.7 572.9 L1035.0 582.4 L1035.2 581.8 L1035.4 580.0 L1035.6 577.5 L1035.8 582.4 L1036.1 581.9 L1036.3 579.0 L1036.5 586.1 L1036.7 581.7 L1036.9 587.5 L1037.1 589.8 L1037.3 595.3 L1037.5 596.6 L1037.7 598.7 L1038.0 593.9 L1038.2 596.6 L1038.4 602.8 L1038.6 597.9 L1038.8 600.6 L1039.0 600.1 L1039.2 604.3 L1039.4 609.3 L1039.7 608.7 L1039.9 606.4 L1040.1 601.9 L1040.3 604.7 L1040.5 604.6 L1040.7 601.3 L1041.0 609.7 L1041.2 608.9 L1041.4 605.3 L1041.6 608.4 L1041.8 618.3 L1042.0 616.8 L1042.2 621.6 L1042.5 615.6 L1042.7 616.5 L1042.9 620.4 L1043.1 623.4 L1043.3 615.1 L1043.5 613.6 L1043.7 616.2 L1044.0 623.5 L1044.2 625.0 L1044.4 624.0 L1044.6 618.0 L1044.8 619.7 L1045.0 626.3 L1045.2 623.5 L1045.5 623.6 L1045.7 622.8 L1045.9 623.0 L1046.1 621.1 L1046.3 619.1 L1046.5 623.6 L1046.7 619.1 L1047.0 620.9 L1047.2 619.0 L1047.4 619.4 L1047.6 621.4 L1047.8 614.9 L1048.0 615.6 L1048.2 617.1 L1048.5 617.6 L1048.7 623.5 L1048.9 616.8 L1049.1 612.0 L1049.3 614.4 L1049.5 613.9 L1049.8 611.6 L1050.0 609.8 L1050.2 609.9 L1050.4 611.3 L1050.6 613.1 L1050.8 604.8 L1051.0 608.6 L1051.3 604.2 L1051.5 605.7 L1051.7 602.3 L1051.9 596.9 L1052.1 596.9 L1052.3 599.6 L1052.5 599.5 L1052.8 595.2 L1053.0 603.3 L1053.2 600.0 L1053.4 597.7 L1053.6 598.6 L1053.8 601.0 L1054.0 598.0 L1054.3 595.4 L1054.5 596.6 L1054.7 596.7 L1054.9 590.9 L1055.1 589.3 L1055.3 590.4 L1055.5 587.4 L1055.8 589.3 L1056.0 589.4 L1056.2 586.8 L1056.4 586.5 L1056.6 587.0 L1056.8 585.0 L1057.1 593.3 L1057.3 590.2 L1057.5 588.4 L1057.7 592.0 L1057.9 592.0 L1058.1 591.4 L1058.4 590.4 L1058.6 596.0 L1058.8 591.9 L1059.0 594.7 L1059.2 596.4 L1059.4 593.0 L1059.7 598.9 L1059.9 599.6 L1060.1 599.5 L1060.3 606.6 L1060.5 604.0 L1060.7 612.3 L1060.9 605.8 L1061.2 612.4 L1061.4 616.3 L1061.6 618.8 L1061.8 620.0 L1062.0 624.3 L1062.2 621.3 L1062.4 626.6 L1062.6 623.6 L1062.8 628.9 L1063.1 626.6 L1063.3 625.0 L1063.5 629.4 L1063.7 629.0 L1063.9 626.9 L1064.1 629.6 L1064.4 634.8 L1064.6 637.7 L1064.8 637.7 L1065.0 636.3 L1065.2 630.4 L1065.5 636.8 L1065.7 637.9 L1065.9 641.8 L1066.1 641.1 L1066.3 644.3 L1066.5 643.8 L1066.8 647.7 L1067.0 642.1 L1067.2 636.9 L1067.4 635.0 L1067.6 642.6 L1067.8 637.5 L1068.0 642.5 L1068.3 639.8 L1068.5 638.4 L1068.7 634.5 L1068.9 632.0 L1069.1 631.5 L1069.3 624.4 L1069.5 621.0 L1069.8 618.9 L1070.0 618.8 L1070.2 620.2 L1070.4 620.4 L1070.6 620.7 L1070.8 618.4 L1071.0 619.0 L1071.2 619.4 L1071.5 617.9 L1071.7 618.8 L1071.9 615.2 L1072.1 618.5 L1072.3 617.3 L1072.5 619.1 L1072.7 617.9 L1073.0 620.2 L1073.2 619.3 L1073.4 618.7 L1073.6 617.7 L1073.8 619.6 L1074.0 615.4 L1074.2 615.2 L1074.4 614.7 L1074.7 613.3 L1074.9 605.2 L1075.1 600.9 L1075.3 612.2 L1075.5 608.6 L1075.7 610.0 L1076.0 610.4 L1076.2 606.9 L1076.4 599.0 L1076.6 604.0 L1076.8 600.9 L1077.1 599.6 L1077.3 600.9 L1077.5 602.7 L1077.7 602.2 L1077.9 602.6 L1078.1 604.0 L1078.3 603.6 L1078.5 603.9 L1078.8 599.6 L1079.0 597.9 L1079.2 607.7 L1079.4 603.4 L1079.6 604.9 L1079.8 602.1 L1080.0 604.9 L1080.2 606.8 L1080.5 611.0 L1080.7 603.1 L1080.9 604.0 L1081.1 606.4 L1081.3 606.8 L1081.5 609.9 L1081.7 607.8 L1081.9 607.9 L1082.2 613.0 L1082.4 616.0 L1082.6 608.8 L1082.8 610.2 L1083.0 611.4 L1083.2 612.0 L1083.5 612.4 L1083.7 614.7 L1083.9 609.4 L1084.1 609.2 L1084.3 613.7 L1084.5 613.5 L1084.7 611.6 L1085.0 613.3 L1085.2 612.0 L1085.4 614.7 L1085.6 615.4 L1085.8 613.9 L1086.0 617.8 L1086.2 615.9 L1086.5 615.7 L1086.7 612.3 L1086.9 618.4 L1087.1 619.4 L1087.3 620.6 L1087.5 626.3 L1087.7 626.5 L1088.0 621.8 L1088.2 621.1 L1088.4 625.4 L1088.6 623.9 L1088.8 623.7 L1089.0 614.4 L1089.2 616.4 L1089.5 614.3 L1089.7 613.5 L1089.9 621.7 L1090.1 624.4 L1090.3 622.6 L1090.5 622.9 L1090.7 621.7 L1090.9 619.6 L1091.2 621.7 L1091.4 617.7 L1091.6 611.2 L1091.8 606.8 L1092.0 608.7 L1092.2 608.6 L1092.4 611.6 L1092.6 607.4 L1092.9 609.9 L1093.1 604.9 L1093.3 607.2 L1093.5 606.4 L1093.7 606.5 L1093.9 600.5 L1094.1 604.2 L1094.3 602.3 L1094.5 599.2 L1094.8 597.3 L1095.0 592.9 L1095.2 589.8 L1095.4 583.2 L1095.6 582.4 L1095.8 584.0 L1096.0 591.5 L1096.3 588.6 L1096.5 585.4 L1096.7 586.0 L1096.9 589.4 L1097.1 586.5 L1097.3 588.7 L1097.6 583.9 L1097.8 581.9 L1098.0 583.3 L1098.2 587.6 L1098.4 595.9 L1098.7 588.8 L1098.9 590.8 L1099.1 593.1 L1099.3 589.9 L1099.5 589.0 L1099.8 592.0 L1100.0 594.7 L1100.2 595.4 L1100.4 592.7 L1100.6 591.9 L1100.8 595.1 L1101.1 588.9 L1101.3 599.3 L1101.5 599.0 L1101.7 593.2 L1101.9 590.6 L1102.1 588.9 L1102.3 594.7 L1102.6 590.2 L1102.8 592.4 L1103.0 599.1 L1103.2 599.3 L1103.4 604.7 L1103.6 602.1 L1103.8 599.7 L1104.1 598.6 L1104.3 603.6 L1104.5 605.9 L1104.7 609.1 L1104.9 607.7 L1105.1 600.1 L1105.3 607.2 L1105.6 609.9 L1105.8 611.4 L1106.0 612.1 L1106.2 615.2 L1106.4 618.6 L1106.6 615.5 L1106.8 609.6 L1107.1 618.2 L1107.3 609.0 L1107.5 611.8 L1107.7 608.3 L1107.9 614.7 L1108.1 617.3 L1108.4 613.2 L1108.6 608.8 L1108.8 611.6 L1109.0 613.1 L1109.2 614.3 L1109.4 606.5 L1109.6 609.8 L1109.9 611.3 L1110.1 614.6 L1110.3 615.4 L1110.5 613.0 L1110.7 616.8 L1110.9 614.0 L1111.1 621.4 L1111.4 616.0 L1111.6 617.7 L1111.8 614.7 L1112.0 617.1 L1112.2 616.7 L1112.4 614.1 L1112.7 615.1 L1112.9 614.6 L1113.1 615.2 L1113.3 616.7 L1113.5 616.1 L1113.7 614.8 L1114.0 619.7 L1114.2 621.8 L1114.4 621.7 L1114.6 624.0 L1114.8 623.6 L1115.0 625.4 L1115.3 627.7 L1115.5 621.1 L1115.7 625.9 L1115.9 623.4 L1116.1 625.2 L1116.3 626.5 L1116.5 627.1 L1116.7 613.7 L1117.0 615.4 L1117.2 623.2 L1117.4 619.0 L1117.6 623.5 L1117.8 615.4 L1118.0 615.2 L1118.2 612.5 L1118.4 617.5 L1118.7 611.2 L1118.9 604.1 L1119.1 604.1 L1119.3 606.5 L1119.5 603.6 L1119.7 597.6 L1119.9 599.0 L1120.2 599.4 L1120.4 594.8 L1120.6 595.3 L1120.8 596.3 L1121.0 592.0 L1121.2 587.1 L1121.4 584.7 L1121.7 581.7 L1121.9 584.0 L1122.1 582.0 L1122.3 575.0 L1122.5 572.1 L1122.7 568.7 L1122.9 563.0 L1123.2 569.7 L1123.4 565.2 L1123.6 565.9 L1123.8 565.4 L1124.0 562.6 L1124.2 562.8 L1124.5 564.8 L1124.7 565.5 L1124.9 554.9 L1125.1 553.7 L1125.3 564.9 L1125.5 562.1 L1125.7 552.7 L1126.0 559.2 L1126.2 555.0 L1126.4 557.8 L1126.6 553.7 L1126.8 553.7 L1127.0 553.0 L1127.2 547.3 L1127.5 542.6 L1127.7 546.1 L1127.9 549.4 L1128.1 549.3 L1128.3 547.0 L1128.5 546.7 L1128.7 546.7 L1129.0 541.9 L1129.2 543.7 L1129.4 542.1 L1129.6 544.9 L1129.8 548.1 L1130.0 543.1 L1130.2 537.4 L1130.5 534.6 L1130.7 534.4 L1130.9 543.5 L1131.1 538.4 L1131.3 539.5 L1131.5 534.5 L1131.7 534.7 L1132.0 537.8 L1132.2 536.6 L1132.4 534.8 L1132.6 541.8 L1132.8 540.6 L1133.0 541.0 L1133.3 534.2 L1133.5 535.3 L1133.7 535.8 L1133.9 537.6 L1134.1 538.3 L1134.3 534.9 L1134.5 534.9 L1134.8 534.3 L1135.0 541.1 L1135.2 540.7 L1135.4 546.6 L1135.7 556.4 L1135.9 559.1 L1136.1 561.6 L1136.4 560.8 L1136.6 564.2 L1136.8 568.7 L1137.0 565.7 L1137.3 570.3 L1137.5 574.4 L1137.7 571.0 L1137.9 572.5 L1138.1 575.0 L1138.3 566.3 L1138.6 569.1 L1138.8 569.3 L1139.0 570.3 L1139.2 569.8 L1139.4 575.6 L1139.7 573.5 L1139.9 575.7 L1140.1 577.2 L1140.3 576.6 L1140.5 576.2 L1140.7 575.7 L1141.0 574.8 L1141.2 571.5 L1141.4 576.3 L1141.6 573.8 L1141.8 570.3 L1142.1 571.4 L1142.3 573.6 L1142.5 572.6 L1142.7 577.4 L1142.9 574.8 L1143.1 579.7 L1143.4 582.4 L1143.6 582.8 L1143.8 583.9 L1144.0 582.9 L1144.2 583.7 L1144.4 586.2 L1144.7 585.4 L1144.9 585.6 L1145.1 589.0 L1145.3 591.2 L1145.5 591.1 L1145.7 594.4 L1146.0 597.5 L1146.2 596.7 L1146.4 594.7 L1146.6 589.3 L1146.8 587.7 L1147.0 582.5 L1147.2 588.3 L1147.4 587.2 L1147.7 590.1 L1147.9 585.6 L1148.1 587.7 L1148.3 582.9 L1148.5 580.6 L1148.7 587.3 L1148.9 590.9 L1149.1 581.3 L1149.4 580.2 L1149.6 578.9 L1149.8 578.1 L1150.0 582.3 L1150.2 582.4 L1150.4 583.2 L1150.6 585.6 L1150.9 580.9 L1151.1 581.5 L1151.3 580.9 L1151.5 583.0 L1151.7 581.0 L1151.9 583.9 L1152.1 582.7 L1152.4 578.1 L1152.6 583.9 L1152.8 581.5 L1153.0 583.5 L1153.2 577.0 L1153.4 579.5 L1153.6 582.3 L1153.9 580.2 L1154.1 579.3 L1154.3 574.5 L1154.5 575.6 L1154.7 574.4 L1154.9 576.6 L1155.1 577.7 L1155.4 577.3 L1155.6 563.5 L1155.8 564.3 L1156.0 565.0 L1156.2 564.9 L1156.4 568.3 L1156.6 565.1 L1156.8 567.7 L1157.1 563.4 L1157.3 560.6 L1157.5 564.3 L1157.7 559.3 L1157.9 559.4 L1158.1 561.8 L1158.3 561.0 L1158.5 570.2 L1158.8 568.7 L1159.0 569.1 L1159.2 573.4 L1159.4 578.0 L1159.6 578.0 L1159.8 575.2 L1160.0 573.4 L1160.3 567.5 L1160.5 578.9 L1160.7 584.3 L1160.9 572.9 L1161.1 581.7 L1161.3 580.7 L1161.5 582.4 L1161.8 586.2 L1162.0 595.0 L1162.2 600.3 L1162.5 604.5 L1162.7 608.3 L1162.9 613.3 L1163.1 622.0 L1163.3 624.8 L1163.6 627.3 L1163.8 621.8 L1164.0 620.3 L1164.2 616.9 L1164.4 619.9 L1164.6 624.5 L1164.8 618.7 L1165.1 618.8 L1165.3 619.9 L1165.5 634.6 L1165.7 635.5 L1165.9 637.2 L1166.1 631.2 L1166.4 635.7 L1166.6 628.7 L1166.8 628.4 L1167.0 624.1 L1167.2 626.9 L1167.4 632.7 L1167.6 629.2 L1167.8 632.4 L1168.0 625.5 L1168.3 628.6 L1168.5 630.3 L1168.7 626.7 L1168.9 629.8 L1169.1 623.6 L1169.3 632.2 L1169.5 621.2 L1169.7 626.8 L1170.0 625.5 L1170.2 626.4 L1170.4 630.3 L1170.6 633.3 L1170.8 636.9 L1171.0 634.6 L1171.3 634.9 L1171.5 634.3 L1171.7 637.9 L1171.9 631.8 L1172.1 633.5 L1172.4 633.5 L1172.6 633.5 L1172.8 639.4 L1173.0 638.9 L1173.2 637.4 L1173.4 641.9 L1173.6 643.9 L1173.9 648.1 L1174.1 653.8 L1174.3 652.1 L1174.5 647.8 L1174.7 652.5 L1174.9 652.7 L1175.1 656.6 L1175.3 661.0 L1175.6 661.6 L1175.8 660.4 L1176.0 663.6 L1176.2 659.9 L1176.4 667.7 L1176.6 666.1 L1176.8 672.7 L1177.0 672.8 L1177.3 673.8 L1177.5 672.2 L1177.7 680.3 L1177.9 671.9 L1178.1 680.2 L1178.3 675.1 L1178.5 675.4 L1178.8 670.0 L1179.0 661.3 L1179.2 663.5 L1179.4 669.8 L1179.6 664.2 L1179.8 656.7 L1180.0 658.3 L1180.3 659.5 L1180.5 658.3 L1180.7 650.9 L1180.9 650.3 L1181.1 651.1 L1181.3 644.6 L1181.5 654.0 L1181.8 653.9 L1182.0 656.0 L1182.2 653.8 L1182.4 646.8 L1182.6 638.2 L1182.8 641.0 L1183.1 641.4 L1183.3 637.6 L1183.5 643.1 L1183.7 636.4 L1183.9 632.7 L1184.1 644.6 L1184.3 647.8 L1184.6 649.5 L1184.8 644.1 L1185.0 639.2 L1185.2 639.9 L1185.4 635.5 L1185.6 639.5 L1185.8 640.9 L1186.1 637.2 L1186.3 635.7 L1186.5 634.6 L1186.7 635.9 L1186.9 637.0 L1187.1 637.7 L1187.3 638.0 L1187.6 633.8 L1187.8 636.9 L1188.0 636.9 L1188.2 637.4 L1188.4 637.5 L1188.6 636.2 L1188.8 638.1 L1189.1 637.7 L1189.3 632.9 L1189.5 631.5 L1189.7 633.9 L1189.9 629.1 L1190.1 629.4 L1190.3 639.4 L1190.6 640.7 L1190.8 644.2 L1191.0 643.6 L1191.2 641.1 L1191.4 643.2 L1191.6 644.7 L1191.9 644.6 L1192.1 645.4 L1192.3 648.4 L1192.5 649.2 L1192.7 654.0 L1192.9 650.2 L1193.1 651.1 L1193.4 650.8 L1193.6 653.7 L1193.8 651.9 L1194.0 655.6 L1194.2 661.4 L1194.4 663.2 L1194.7 665.6 L1194.9 669.3 L1195.1 662.6 L1195.3 670.4 L1195.5 661.9 L1195.7 663.8 L1196.0 671.7 L1196.2 668.3 L1196.4 666.7 L1196.6 669.9 L1196.8 669.3 L1197.0 673.5 L1197.3 678.6 L1197.5 676.9 L1197.7 677.7 L1197.9 680.9 L1198.1 681.6 L1198.3 680.4 L1198.5 679.7 L1198.7 682.2 L1199.0 681.1 L1199.2 677.7 L1199.4 682.7 L1199.6 680.7 L1199.8 678.2 L1200.0 675.9 L1200.2 671.6 L1200.4 671.1 L1200.7 673.2 L1200.9 677.2 L1201.1 673.1 L1201.3 667.9 L1201.5 667.7 L1201.7 668.3 L1201.9 666.0 L1202.2 669.7 L1202.4 669.6 L1202.6 663.6 L1202.8 671.9 L1203.0 668.5 L1203.2 667.6 L1203.4 665.5 L1203.7 662.6 L1203.9 659.3 L1204.1 660.6 L1204.3 661.6 L1204.5 658.9 L1204.7 658.1 L1204.9 661.5 L1205.2 663.5 L1205.4 663.5 L1205.6 660.9 L1205.8 658.1 L1206.0 660.5 L1206.2 660.0 L1206.4 661.5 L1206.7 660.6 L1206.9 661.4 L1207.1 653.4 L1207.3 655.5 L1207.5 665.5 L1207.7 661.2 L1208.0 657.9 L1208.2 658.1 L1208.4 655.6 L1208.6 652.9 L1208.8 659.4 L1209.0 649.0 L1209.3 642.6 L1209.5 639.4 L1209.7 641.8 L1209.9 638.8 L1210.1 644.1 L1210.3 648.1 L1210.6 644.5 L1210.8 640.5 L1211.0 642.5 L1211.2 641.4 L1211.4 653.4 L1211.6 653.2 L1211.8 656.1 L1212.1 656.7 L1212.3 653.2 L1212.5 654.0 L1212.7 669.0 L1212.9 664.3 L1213.1 662.7 L1213.3 665.7 L1213.5 661.9 L1213.7 671.7 L1214.0 679.9 L1214.2 684.0 L1214.4 690.1 L1214.6 690.4 L1214.8 687.2 L1215.0 692.4 L1215.2 694.3 L1215.4 697.4 L1215.6 713.0 L1215.9 712.5 L1216.1 712.2 L1216.3 709.4 L1216.5 709.5 L1216.7 703.0 L1216.9 702.5 L1217.1 699.8 L1217.4 707.6 L1217.6 703.0 L1217.8 695.6 L1218.0 693.1 L1218.2 694.2 L1218.4 695.9 L1218.7 696.0 L1218.9 696.8 L1219.1 704.7 L1219.3 698.9 L1219.5 701.9 L1219.7 707.3 L1220.0 711.0 L1220.2 693.2 L1220.4 694.6 L1220.6 697.5 L1220.8 695.9 L1221.0 694.0 L1221.3 695.6 L1221.5 696.5 L1221.7 698.5 L1221.9 697.1 L1222.1 706.0 L1222.3 702.7 L1222.5 708.4 L1222.8 708.6 L1223.0 704.2 L1223.2 698.7 L1223.4 703.1 L1223.6 702.4 L1223.8 705.6 L1224.0 706.1 L1224.3 694.6 L1224.5 696.5 L1224.7 696.8 L1224.9 697.5 L1225.1 696.6 L1225.3 694.5 L1225.6 692.1 L1225.8 684.5 L1226.0 686.0 L1226.2 693.9 L1226.4 682.4 L1226.6 673.7 L1226.8 676.7 L1227.1 677.9 L1227.3 675.7 L1227.5 668.3 L1227.7 673.3 L1227.9 668.7 L1228.1 671.4 L1228.4 668.6 L1228.6 665.8 L1228.8 666.8 L1229.0 664.6 L1229.2 654.9 L1229.4 654.1 L1229.7 661.4 L1229.9 659.2 L1230.1 661.1 L1230.3 663.0 L1230.5 651.7 L1230.7 655.8 L1231.0 647.3 L1231.2 653.7 L1231.4 644.6 L1231.6 649.4 L1231.8 645.8 L1232.0 649.4 L1232.2 645.5 L1232.5 650.5 L1232.7 650.7 L1232.9 648.5 L1233.1 655.0 L1233.3 652.7 L1233.5 653.0 L1233.7 654.6 L1233.9 664.8 L1234.2 657.4 L1234.4 660.7 L1234.6 656.7 L1234.8 656.6 L1235.0 661.0 L1235.2 661.3 L1235.4 662.4 L1235.6 656.0 L1235.9 658.0 L1236.1 661.4 L1236.3 661.7 L1236.5 662.4 L1236.7 660.4 L1236.9 659.1 L1237.1 655.4 L1237.4 653.5 L1237.6 649.2 L1237.8 649.3 L1238.0 647.6 L1238.2 650.2 L1238.4 658.9 L1238.6 649.6 L1238.9 656.3 L1239.1 649.4 L1239.3 650.5 L1239.5 651.1 L1239.7 656.3 L1239.9 656.6 L1240.1 658.6 L1240.4 668.1 L1240.6 661.5 L1240.8 655.0 L1241.0 658.8 L1241.2 657.4 L1241.4 664.5 L1241.6 668.1 L1241.9 660.8 L1242.1 661.3 L1242.3 665.6 L1242.5 666.1 L1242.7 671.1 L1242.9 668.3 L1243.2 665.4 L1243.4 666.9 L1243.6 666.5 L1243.8 667.2 L1244.0 672.6 L1244.2 675.9 L1244.5 673.7 L1244.7 675.1 L1244.9 676.4 L1245.1 675.4 L1245.3 676.0 L1245.5 673.5 L1245.7 668.7 L1246.0 674.9 L1246.2 668.4 L1246.4 676.4 L1246.6 674.8 L1246.8 676.4 L1247.0 676.6 L1247.3 675.5 L1247.5 676.4 L1247.7 667.0 L1247.9 673.9 L1248.1 676.6 L1248.3 674.4 L1248.6 675.0 L1248.8 673.4 L1249.0 674.8 L1249.2 681.4 L1249.4 683.6 L1249.6 688.5 L1249.8 685.7 L1250.0 683.4 L1250.3 681.4 L1250.5 688.7 L1250.7 685.3 L1250.9 688.0 L1251.1 698.0 L1251.3 705.9 L1251.5 706.1 L1251.7 711.4 L1252.0 720.5 L1252.2 734.9 L1252.4 741.6 L1252.6 753.6 L1252.8 761.6 L1253.0 762.8 L1253.2 774.8 L1253.5 782.6 L1253.7 799.7 L1253.9 816.0 L1254.1 802.2 L1254.4 799.0 L1254.6 803.9 L1254.8 799.1 L1255.0 792.1 L1255.2 782.0 L1255.4 785.3 L1255.6 780.0 L1255.8 799.5 L1256.0 790.1 L1256.3 781.8 L1256.5 784.5 L1256.7 774.8 L1256.9 773.9 L1257.1 775.6 L1257.3 778.2 L1257.5 778.6 L1257.7 782.7 L1258.0 780.7 L1258.2 775.3 L1258.4 777.7 L1258.6 782.0 L1258.8 771.5 L1259.0 776.9 L1259.3 771.7 L1259.5 776.0 L1259.7 782.2 L1259.9 782.3 L1260.1 779.9 L1260.3 781.6 L1260.5 781.7 L1260.8 782.7 L1261.0 777.0 L1261.2 793.2 L1261.4 784.0 L1261.6 786.6 L1261.9 795.8 L1262.1 801.4 L1262.3 797.4 L1262.5 800.5 L1262.7 798.2 L1262.9 796.1 L1263.2 791.0 L1263.4 790.2 L1263.6 781.7 L1263.8 779.6 L1264.0 784.0 L1264.2 768.7 L1264.4 775.8 L1264.7 760.0 L1264.9 760.0 L1265.1 765.8 L1265.3 758.9 L1265.5 757.7 L1265.7 746.2 L1265.9 752.4 L1266.2 743.6 L1266.4 750.2 L1266.6 746.3 L1266.8 750.3 L1267.0 747.2 L1267.2 743.1 L1267.5 739.5 L1267.7 745.3 L1267.9 739.7 L1268.1 739.7 L1268.3 736.2 L1268.5 746.3 L1268.7 741.6 L1269.0 741.8 L1269.2 741.8 L1269.4 740.4 L1269.6 745.3 L1269.8 735.3 L1270.0 740.4 L1270.2 737.7 L1270.4 739.0 L1270.7 735.8 L1270.9 741.0 L1271.1 742.9 L1271.3 747.8 L1271.5 746.6 L1271.7 749.4 L1271.9 750.2 L1272.1 751.3 L1272.4 754.3 L1272.6 748.8 L1272.8 746.1 L1273.0 760.3 L1273.2 747.7 L1273.4 746.1 L1273.6 743.6 L1273.8 755.9 L1274.1 756.1 L1274.3 753.0 L1274.5 754.5 L1274.7 758.3 L1274.9 764.9 L1275.1 757.0 L1275.4 757.2 L1275.6 763.8 L1275.8 768.2 L1276.0 770.1 L1276.2 763.1 L1276.4 766.8 L1276.6 771.7 L1276.9 771.9 L1277.1 770.8 L1277.3 771.3 L1277.5 774.1 L1277.7 773.3 L1277.9 769.4 L1278.1 780.0 L1278.4 769.0 L1278.6 775.9 L1278.8 778.0 L1279.0 783.9 L1279.2 786.6 L1279.4 789.7 L1279.6 793.9 L1279.9 792.1 L1280.1 791.1 L1280.3 793.7 L1280.5 791.8 L1280.7 791.9 L1280.9 789.5 L1281.1 796.7 L1281.4 793.7 L1281.6 790.4 L1281.8 796.0 L1282.0 802.1 L1282.2 797.4 L1282.4 790.8 L1282.6 794.8 L1282.8 788.2 L1283.1 796.6 L1283.3 805.3 L1283.5 802.8 L1283.7 800.2 L1283.9 805.3 L1284.1 802.5 L1284.3 808.6 L1284.5 803.5 L1284.8 805.7 L1285.0 803.3 L1285.2 803.9 L1285.4 805.4 L1285.6 804.0 L1285.8 801.6 L1286.0 796.7 L1286.3 791.0 L1286.5 791.9 L1286.7 790.0 L1286.9 786.9 L1287.1 797.5 L1287.4 787.1 L1287.6 795.8 L1287.8 793.9 L1288.0 798.7 L1288.2 792.4 L1288.4 787.9 L1288.7 792.2 L1288.9 779.6 L1289.1 781.3 L1289.3 785.1 L1289.5 785.7 L1289.7 789.8 L1289.9 782.8 L1290.2 781.5 L1290.4 774.0 L1290.6 780.4 L1290.8 776.2 L1291.0 776.8 L1291.2 771.4 L1291.4 777.3 L1291.6 775.0 L1291.9 776.6 L1292.1 771.6 L1292.3 770.8 L1292.5 775.1 L1292.7 781.7 L1292.9 782.6 L1293.1 778.4 L1293.4 778.0 L1293.6 775.5 L1293.8 766.8 L1294.0 765.7 L1294.2 761.0 L1294.4 758.3 L1294.6 763.3 L1294.8 764.6 L1295.1 766.0 L1295.3 772.3 L1295.5 761.0 L1295.7 762.6 L1295.9 756.6 L1296.1 765.6 L1296.4 765.6 L1296.6 775.2 L1296.8 774.9 L1297.0 774.3 L1297.2 781.8 L1297.4 774.0 L1297.7 779.7 L1297.9 786.5 L1298.1 786.9 L1298.3 788.4 L1298.5 785.3 L1298.7 795.2 L1299.0 789.0 L1299.2 782.0 L1299.4 789.1 L1299.6 798.8 L1299.8 802.9 L1300.0 801.8 L1300.2 806.2 L1300.5 795.3 L1300.7 802.3 L1300.9 808.2 L1301.1 808.9 L1301.3 803.8 L1301.5 801.6 L1301.8 802.4 L1302.0 808.9 L1302.2 814.7 L1302.4 805.6 L1302.6 804.6 L1302.8 810.8 L1303.0 814.2 L1303.3 815.8 L1303.5 817.9 L1303.7 819.1 L1303.9 814.0 L1304.1 818.1 L1304.3 818.2 L1304.5 812.0 L1304.8 799.2 L1305.0 802.9 L1305.2 804.9 L1305.4 800.8 L1305.6 800.3 L1305.8 802.3 L1306.0 811.0 L1306.3 813.9 L1306.5 804.0 L1306.7 797.9 L1306.9 801.3 L1307.1 809.5 L1307.3 797.0 L1307.5 796.6 L1307.8 806.4 L1308.0 799.2 L1308.2 798.8 L1308.4 793.4 L1308.6 794.0 L1308.8 801.4 L1309.0 794.8 L1309.3 790.2 L1309.5 791.9 L1309.7 792.8 L1309.9 790.0 L1310.1 797.7 L1310.3 790.9 L1310.5 793.8 L1310.7 789.5 L1311.0 780.1 L1311.2 782.6 L1311.4 783.7 L1311.6 788.5 L1311.8 774.7 L1312.0 768.8 L1312.2 778.0 L1312.4 779.3 L1312.7 774.8 L1312.9 775.5 L1313.1 774.7 L1313.3 779.8 L1313.5 785.0 L1313.7 791.4 L1313.9 790.9 L1314.2 784.4 L1314.4 789.5 L1314.6 789.6 L1314.8 790.4 L1315.0 787.2 L1315.2 782.7 L1315.4 787.1 L1315.7 785.5 L1315.9 786.9 L1316.1 791.9 L1316.3 801.0 L1316.5 806.7 L1316.7 799.1 L1317.0 810.7 L1317.2 806.8 L1317.4 807.3 L1317.6 807.2 L1317.8 810.6 L1318.0 811.1 L1318.3 813.1 L1318.5 814.7 L1318.7 812.4 L1318.9 816.3 L1319.1 819.5 L1319.3 828.1 L1319.6 827.3 L1319.8 834.1 L1320.0 834.1 L1320.2 828.0 L1320.4 828.6 L1320.6 824.9 L1320.9 832.7 L1321.1 824.8 L1321.3 832.3 L1321.5 825.1 L1321.7 829.6 L1321.9 823.3 L1322.1 825.7 L1322.4 816.4 L1322.6 816.7 L1322.8 820.2 L1323.0 809.3 L1323.2 810.3 L1323.4 811.9 L1323.6 807.6 L1323.9 814.5 L1324.1 826.9 L1324.3 817.7 L1324.5 812.6 L1324.7 809.0 L1324.9 810.1 L1325.1 811.0 L1325.4 810.8 L1325.6 803.3 L1325.8 812.2 L1326.0 803.6 L1326.2 805.7 L1326.4 799.5 L1326.6 800.6 L1326.9 801.9 L1327.1 805.3 L1327.3 801.5 L1327.5 806.4 L1327.7 813.0 L1327.9 806.8 L1328.1 796.6 L1328.3 799.1 L1328.6 799.4 L1328.8 800.0 L1329.0 807.3 L1329.2 809.2 L1329.4 811.5 L1329.6 806.0 L1329.8 798.8 L1330.0 801.8 L1330.3 804.5 L1330.5 807.5 L1330.7 804.2 L1330.9 806.1 L1331.1 806.0 L1331.3 809.8 L1331.6 808.3 L1331.8 806.2 L1332.0 804.8 L1332.2 820.0 L1332.4 818.5 L1332.6 815.1 L1332.9 816.5 L1333.1 816.3 L1333.3 824.8 L1333.5 828.1 L1333.7 825.1 L1333.9 828.0 L1334.2 825.1 L1334.4 825.5 L1334.6 828.2 L1334.8 816.1 L1335.0 811.2 L1335.2 805.3 L1335.5 796.5 L1335.7 799.7 L1335.9 798.4 L1336.1 810.2 L1336.3 799.4 L1336.5 785.8 L1336.7 792.9 L1337.0 793.1 L1337.2 789.4 L1337.4 785.1 L1337.6 777.4 L1337.8 782.3 L1338.0 783.7 L1338.2 786.8 L1338.5 787.7 L1338.7 781.1 L1338.9 782.0 L1339.1 781.8 L1339.3 777.2 L1339.5 776.2 L1339.7 775.6 L1340.0 783.8 L1340.2 786.7 L1340.4 784.7 L1340.6 788.2 L1340.8 780.9 L1341.0 772.4 L1341.2 773.8 L1341.5 775.3 L1341.7 780.3 L1341.9 782.7 L1342.1 774.9 L1342.3 780.7 L1342.5 774.8 L1342.8 774.7 L1343.0 770.4 L1343.2 779.0 L1343.4 780.7 L1343.6 781.2 L1343.8 776.2 L1344.0 779.4 L1344.3 782.1 L1344.5 786.1 L1344.7 783.7 L1344.9 780.8 L1345.1 784.0 L1345.3 778.3 L1345.5 782.6 L1345.8 786.7 L1346.0 782.3 L1346.2 782.4 L1346.4 790.6 L1346.6 793.4 L1346.8 787.8 L1347.0 788.6 L1347.3 789.7 L1347.5 793.5 L1347.7 791.9 L1347.9 782.4 L1348.1 779.0 L1348.3 776.2 L1348.5 775.9 L1348.7 782.1 L1349.0 781.5 L1349.2 777.6 L1349.4 766.8 L1349.6 766.8 L1349.8 758.3 L1350.0 754.8 L1350.2 755.4 L1350.4 750.7 L1350.7 750.0 L1350.9 753.9 L1351.1 752.2 L1351.3 753.3 L1351.5 742.8 L1351.7 742.4 L1352.0 743.3 L1352.2 743.3 L1352.4 744.4 L1352.6 742.4 L1352.8 743.0 L1353.0 744.7 L1353.3 743.2 L1353.5 747.6 L1353.7 748.9 L1353.9 752.2 L1354.1 748.7 L1354.3 749.1 L1354.6 745.6 L1354.8 751.2 L1355.0 748.9 L1355.2 743.1 L1355.4 743.4 L1355.6 745.2 L1355.8 747.3 L1356.1 743.4 L1356.3 742.4 L1356.5 742.6 L1356.7 745.3 L1356.9 744.4 L1357.1 743.6 L1357.3 742.5 L1357.6 744.7 L1357.8 746.6 L1358.0 752.5 L1358.2 742.4 L1358.4 750.7 L1358.6 751.4 L1358.8 755.4 L1359.1 752.4 L1359.3 746.4 L1359.5 755.5 L1359.7 754.1 L1359.9 764.3 L1360.1 755.6 L1360.3 764.6 L1360.6 754.0 L1360.8 751.3 L1361.0 758.4 L1361.2 750.0 L1361.4 756.8 L1361.6 757.8 L1361.8 761.7 L1362.0 755.0 L1362.3 759.2 L1362.5 764.5 L1362.7 762.2 L1362.9 767.3 L1363.1 765.1 L1363.3 766.9 L1363.5 764.9 L1363.7 759.0 L1364.0 761.1 L1364.2 764.5 L1364.4 759.1 L1364.6 760.5 L1364.8 758.2 L1365.0 759.4 L1365.3 759.7 L1365.5 759.9 L1365.7 757.2 L1365.9 758.6 L1366.1 753.0 L1366.3 755.7 L1366.6 758.4 L1366.8 757.7 L1367.0 748.4 L1367.2 750.3 L1367.4 743.6 L1367.6 749.8 L1367.8 747.4 L1368.1 745.3 L1368.3 743.0 L1368.5 744.5 L1368.7 744.5 L1368.9 741.7 L1369.1 744.9 L1369.4 745.8 L1369.6 745.7 L1369.8 743.3 L1370.0 740.4 L1370.2 750.1 L1370.4 746.5 L1370.7 748.0 L1370.9 752.9 L1371.1 752.9 L1371.3 756.2 L1371.5 763.1 L1371.7 761.6 L1371.9 760.6 L1372.2 760.4 L1372.4 761.0 L1372.6 761.7 L1372.8 767.7 L1373.0 764.1 L1373.2 764.6 L1373.4 771.3 L1373.7 774.0 L1373.9 771.1 L1374.1 773.4 L1374.3 781.5 L1374.5 784.0 L1374.7 780.4 L1374.9 784.8 L1375.2 786.1 L1375.4 792.7 L1375.6 788.6 L1375.8 788.0 L1376.0 787.6 L1376.2 782.4 L1376.5 787.5 L1376.7 793.6 L1376.9 795.4 L1377.1 800.6 L1377.3 797.9 L1377.5 803.2 L1377.7 802.2 L1377.9 806.6 L1378.2 798.4 L1378.4 805.1 L1378.6 807.1 L1378.8 799.1 L1379.0 805.7 L1379.2 815.6 L1379.4 809.8 L1379.6 804.0 L1379.9 806.5 L1380.1 813.1 L1380.3 810.2 L1380.5 815.8 L1380.7 809.4 L1380.9 816.6 L1381.1 809.1 L1381.3 816.0 L1381.6 818.0 L1381.8 812.0 L1382.0 817.8 L1382.2 810.5 L1382.4 808.8 L1382.6 813.0 L1382.9 810.9 L1383.1 808.3 L1383.3 808.1 L1383.5 809.5 L1383.7 811.8 L1383.9 811.6 L1384.2 813.8 L1384.4 806.9 L1384.6 796.7 L1384.8 801.8 L1385.0 801.3 L1385.2 794.9 L1385.5 793.9 L1385.7 796.1 L1385.9 795.8 L1386.1 799.9 L1386.3 795.5 L1386.5 800.0 L1386.8 799.2 L1387.0 800.1 L1387.2 793.6 L1387.4 793.9 L1387.6 794.9 L1387.8 801.6 L1388.0 801.4 L1388.3 796.9 L1388.5 798.3 L1388.7 809.7 L1388.9 812.1 L1389.1 806.8 L1389.3 816.7 L1389.5 807.1 L1389.8 823.7 L1390.0 823.8 L1390.2 818.4 L1390.4 824.5 L1390.6 824.6 L1390.8 818.3 L1391.0 826.4 L1391.3 822.0 L1391.5 817.5 L1391.7 819.1 L1391.9 817.1 L1392.1 812.1 L1392.3 821.6 L1392.5 817.1 L1392.8 813.5 L1393.0 816.0 L1393.2 822.6 L1393.4 820.3 L1393.6 815.7 L1393.8 816.5 L1394.1 818.2 L1394.3 813.9 L1394.5 811.7 L1394.7 806.8 L1394.9 805.2 L1395.1 797.6 L1395.3 797.8 L1395.6 796.0 L1395.8 802.2 L1396.0 802.8 L1396.2 800.6 L1396.4 801.9 L1396.6 801.4 L1396.8 802.7 L1397.1 799.5 L1397.3 801.4 L1397.5 800.7 L1397.7 800.4 L1397.9 801.1 L1398.1 806.5 L1398.3 801.9 L1398.6 806.3 L1398.8 807.1 L1399.0 807.0 L1399.2 800.2 L1399.4 799.6 L1399.6 807.8 L1399.8 805.8 L1400.1 800.0 L1400.3 800.2 L1400.5 800.4 L1400.7 807.4 L1400.9 802.0 L1401.1 806.1 L1401.4 808.3 L1401.6 807.9 L1401.8 807.0 L1402.0 807.4 L1402.2 801.5 L1402.4 803.5 L1402.6 805.7 L1402.9 808.8 L1403.1 810.5 L1403.3 813.7 L1403.5 811.7 L1403.7 808.8 L1403.9 810.8 L1404.1 804.8 L1404.4 803.4 L1404.6 808.2 L1404.8 811.0 L1405.0 817.9 L1405.2 809.2 L1405.4 813.3 L1405.6 812.8 L1405.9 815.7 L1406.1 814.1 L1406.3 817.7 L1406.5 818.2 L1406.7 826.2 L1406.9 817.6 L1407.1 823.0 L1407.4 823.3 L1407.6 818.2 L1407.8 824.6 L1408.0 822.8 L1408.2 826.6 L1408.4 826.9 L1408.6 825.5 L1408.9 828.3 L1409.1 827.7 L1409.3 827.1 L1409.5 827.3 L1409.7 822.4 L1409.9 824.1 L1410.2 821.2 L1410.4 824.0 L1410.6 823.6 L1410.8 818.4 L1411.0 817.7 L1411.2 825.1 L1411.4 822.6 L1411.7 819.9 L1411.9 819.5 L1412.1 818.7 L1412.3 816.6 L1412.5 814.2 L1412.7 820.2 L1412.9 816.0 L1413.2 814.9 L1413.4 813.7 L1413.6 824.1 L1413.8 816.4 L1414.0 818.5 L1414.2 826.3 L1414.4 827.8 L1414.6 834.1 L1414.8 827.0 L1415.1 834.4 L1415.3 843.9 L1415.5 845.4 L1415.7 843.4 L1415.9 844.7 L1416.1 847.0 L1416.3 851.0 L1416.6 852.8 L1416.8 857.0 L1417.0 855.4 L1417.2 852.4 L1417.4 854.2 L1417.7 864.8 L1417.9 869.3 L1418.1 869.2 L1418.3 870.2 L1418.5 868.4 L1418.7 878.0 L1419.0 871.7 L1419.2 868.4 L1419.4 868.2 L1419.6 876.5 L1419.8 879.4 L1420.0 882.4 L1420.2 879.9 L1420.5 884.7 L1420.7 887.6 L1420.9 887.3 L1421.1 886.5 L1421.3 883.8 L1421.5 887.6 L1421.7 891.5 L1422.0 887.5 L1422.2 883.4 L1422.4 886.5 L1422.6 881.7 L1422.8 886.1 L1423.0 892.7 L1423.2 888.1 L1423.5 890.9 L1423.7 891.8 L1423.9 894.0 L1424.1 894.0 L1424.3 895.5 L1424.5 904.3 L1424.7 896.6 L1425.0 888.4 L1425.2 897.6 L1425.4 896.5 L1425.6 895.7 L1425.8 899.3 L1426.0 896.8 L1426.2 901.7 L1426.5 905.3 L1426.7 905.3 L1426.9 906.7 L1427.1 904.0 L1427.3 912.7 L1427.5 911.1 L1427.8 906.2 L1428.0 909.7 L1428.2 905.5 L1428.4 907.4 L1428.6 908.8 L1428.8 904.4 L1429.1 905.4 L1429.3 907.5 L1429.5 901.6 L1429.7 910.3 L1429.9 908.5 L1430.1 912.7 L1430.4 914.5 L1430.6 914.0 L1430.8 912.1 L1431.0 912.9 L1431.2 914.4 L1431.4 913.1 L1431.7 909.9 L1431.9 907.5 L1432.1 903.7 L1432.3 901.9 L1432.5 907.3 L1432.7 904.6 L1432.9 911.5 L1433.1 906.8 L1433.4 904.0 L1433.6 901.0 L1433.8 898.7 L1434.0 896.4 L1434.2 897.1 L1434.4 891.5 L1434.6 893.9 L1434.8 893.4 L1435.1 890.1 L1435.3 891.5 L1435.5 895.9 L1435.7 892.7 L1435.9 891.9 L1436.1 893.9 L1436.3 894.2 L1436.6 898.7 L1436.8 892.6 L1437.0 896.4 L1437.2 894.3 L1437.4 891.5 L1437.6 890.0 L1437.8 894.6 L1438.1 892.3 L1438.3 898.8 L1438.5 898.8 L1438.7 897.4 L1438.9 893.2 L1439.1 895.6 L1439.4 901.0 L1439.6 897.3 L1439.8 904.8 L1440.0 906.1 L1440.2 908.1 L1440.4 900.3 L1440.6 903.0 L1440.9 905.4 L1441.1 897.1 L1441.3 894.9 L1441.5 891.1 L1441.7 886.8 L1441.9 889.1 L1442.1 883.9 L1442.4 883.6 L1442.6 890.9 L1442.8 895.8 L1443.0 890.8 L1443.2 884.5 L1443.4 885.5 L1443.6 884.0 L1443.9 875.0 L1444.1 878.7 L1444.3 883.1 L1444.5 883.8 L1444.7 882.8 L1444.9 886.5 L1445.2 884.6 L1445.4 882.3 L1445.6 882.4 L1445.8 878.7 L1446.0 873.0 L1446.2 885.1 L1446.4 883.0 L1446.7 883.5 L1446.9 876.9 L1447.1 879.4 L1447.3 877.9 L1447.5 877.9 L1447.7 875.5 L1447.9 873.2 L1448.2 875.5 L1448.4 874.6 L1448.6 876.7 L1448.8 880.9 L1449.0 875.4 L1449.2 881.1 L1449.4 870.6 L1449.7 873.3 L1449.9 867.1 L1450.1 859.9 L1450.3 861.4 L1450.5 863.7 L1450.7 863.0 L1450.9 857.4 L1451.2 859.2 L1451.4 862.7 L1451.6 862.6 L1451.8 863.4 L1452.0 862.5 L1452.2 862.8 L1452.4 860.5 L1452.7 858.2 L1452.9 860.3 L1453.1 864.0 L1453.3 863.2 L1453.5 862.7 L1453.7 859.7 L1454.0 863.7 L1454.2 862.5 L1454.4 859.4 L1454.6 864.3 L1454.8 868.1 L1455.0 868.1 L1455.2 874.0 L1455.5 870.4 L1455.7 867.3 L1455.9 873.5 L1456.1 872.6 L1456.3 877.4 L1456.5 879.1 L1456.7 880.0 L1457.0 886.0 L1457.2 887.2 L1457.4 884.3 L1457.6 885.3 L1457.8 886.2 L1458.0 887.6 L1458.2 888.1 L1458.5 888.3 L1458.7 887.4 L1458.9 883.3 L1459.1 886.6 L1459.3 885.0 L1459.5 880.0 L1459.7 882.7 L1460.0 875.7 L1460.2 875.9 L1460.4 877.4 L1460.6 871.7 L1460.8 873.5 L1461.0 872.6 L1461.3 873.0 L1461.5 867.8 L1461.7 872.5 L1461.9 873.6 L1462.1 872.8 L1462.3 868.5 L1462.5 868.0 L1462.8 872.6 L1463.0 869.4 L1463.2 872.1 L1463.4 869.9 L1463.6 866.8 L1463.8 868.2 L1464.0 869.4 L1464.3 866.6 L1464.5 866.1 L1464.7 865.6 L1464.9 868.2 L1465.1 870.0 L1465.3 874.5 L1465.5 874.1 L1465.8 868.3 L1466.0 866.7 L1466.2 866.1 L1466.4 867.1 L1466.6 867.2 L1466.8 866.5 L1467.0 869.0 L1467.3 869.9 L1467.5 870.6 L1467.7 870.1 L1467.9 868.9 L1468.1 873.1 L1468.3 870.3 L1468.5 865.5 L1468.8 873.5 L1469.0 866.8 L1469.2 869.6 L1469.4 872.3 L1469.6 873.5 L1469.8 874.0 L1470.1 877.1 L1470.3 877.4 L1470.5 878.1 L1470.7 876.6 L1470.9 875.2 L1471.1 872.6 L1471.3 873.8 L1471.6 874.6 L1471.8 879.7 L1472.0 884.6 L1472.2 880.0 L1472.4 880.2 L1472.6 880.3 L1472.8 884.1 L1473.1 886.3 L1473.3 883.5 L1473.5 884.3 L1473.7 882.7 L1473.9 882.5 L1474.1 884.0 L1474.3 887.2 L1474.6 884.2 L1474.8 889.8 L1475.0 892.9 L1475.2 888.8 L1475.4 891.5 L1475.6 890.5 L1475.9 887.8 L1476.1 896.7 L1476.3 895.8 L1476.5 898.0 L1476.7 898.1 L1476.9 900.1 L1477.2 898.0 L1477.4 900.1 L1477.6 899.5 L1477.8 899.7 L1478.0 898.2 L1478.2 900.5 L1478.5 899.2 L1478.7 901.8 L1478.9 898.6 L1479.1 898.6 L1479.3 901.5 L1479.5 904.5 L1479.7 899.4 L1480.0 904.5 L1480.2 904.6 L1480.4 904.6 L1480.6 904.7 L1480.8 906.5 L1481.0 905.7 L1481.2 907.3 L1481.4 906.9 L1481.7 905.1 L1481.9 903.3 L1482.1 896.9 L1482.3 901.2 L1482.5 901.8 L1482.7 899.8 L1482.9 904.3 L1483.1 905.8 L1483.4 904.8 L1483.6 906.4 L1483.8 898.8 L1484.0 900.0 L1484.2 897.8 L1484.4 893.0 L1484.6 891.0 L1484.9 895.2 L1485.1 897.4 L1485.3 895.5 L1485.5 893.5 L1485.7 893.1 L1485.9 893.3 L1486.2 892.4 L1486.4 892.3 L1486.6 881.8 L1486.8 884.1 L1487.0 875.5 L1487.2 875.9 L1487.4 877.9 L1487.7 884.8 L1487.9 880.9 L1488.1 874.9 L1488.3 877.5 L1488.5 877.7 L1488.7 876.0 L1488.9 878.3 L1489.2 872.4 L1489.4 878.2 L1489.6 867.5 L1489.8 873.4 L1490.0 880.3 L1490.2 896.0 L1490.4 896.3 L1490.7 902.8 L1490.9 906.3 L1491.1 919.9 L1491.3 918.0 L1491.5 919.8 L1491.7 923.6 L1491.9 920.1 L1492.2 932.2 L1492.4 937.6 L1492.6 932.3 L1492.8 944.2 L1493.0 945.6 L1493.2 954.1 L1493.5 953.1 L1493.7 955.6 L1493.9 962.6 L1494.1 973.8 L1494.3 983.6 L1494.5 973.5 L1494.8 983.2 L1495.0 985.1 L1495.2 982.0 L1495.4 979.9 L1495.6 991.9 L1495.8 991.6 L1496.1 991.8 L1496.3 995.6 L1496.5 1005.3 L1496.7 1007.6 L1496.9 1015.3 L1497.1 1005.7 L1497.3 1016.0 L1497.5 1013.6 L1497.8 1018.7 L1498.0 1021.5 L1498.2 1031.6 L1498.4 1029.7 L1498.6 1029.3 L1498.8 1026.2 L1499.0 1027.1 L1499.2 1041.2 L1499.4 1031.4 L1499.7 1028.0 L1499.9 1027.3 L1500.1 1035.8 L1500.3 1036.6 L1500.5 1033.8 L1500.7 1028.2 L1500.9 1027.7 L1501.1 1038.3 L1501.4 1031.5 L1501.6 1023.4 L1501.8 1025.8 L1502.0 1016.8 L1502.2 1025.4 L1502.4 1013.1 L1502.7 1020.9 L1502.9 1030.1 L1503.1 1022.6 L1503.3 1016.9 L1503.5 1009.1 L1503.8 1004.3 L1504.0 1008.0 L1504.2 1015.1 L1504.4 1022.2 L1504.6 1025.9 L1504.8 1035.6 L1505.0 1022.5 L1505.3 1023.3 L1505.5 1022.0 L1505.7 1012.9 L1505.9 1024.5 L1506.1 1026.6 L1506.3 1027.7 L1506.5 1029.3 L1506.8 1033.0 L1507.0 1029.7 L1507.2 1036.5 L1507.4 1038.5 L1507.6 1042.9 L1507.8 1043.9 L1508.0 1045.0 L1508.3 1044.2 L1508.5 1053.0 L1508.7 1058.9 L1508.9 1057.6 L1509.1 1054.5 L1509.3 1030.2 L1509.5 1013.3 L1509.8 1001.2 L1510.0 999.5 L1510.2 1002.0 L1510.4 985.1 L1510.6 995.0 L1510.8 995.4 L1511.0 988.7 L1511.3 983.5 L1511.5 981.5 L1511.7 993.4 L1511.9 991.5 L1512.1 996.3 L1512.3 1001.4 L1512.6 1001.3 L1512.8 995.6 L1513.0 998.7 L1513.2 996.2 L1513.4 1000.0 L1513.6 1000.4 L1513.8 998.8 L1514.1 993.2 L1514.3 995.5 L1514.5 987.1 L1514.7 988.8 L1514.9 994.4 L1515.1 980.3 L1515.3 978.4 L1515.5 986.0 L1515.8 983.8 L1516.0 993.9 L1516.2 986.7 L1516.4 987.0 L1516.6 987.4 L1516.8 977.9 L1517.0 971.4 L1517.2 970.8 L1517.5 973.7 L1517.7 976.5 L1517.9 968.3 L1518.1 969.3 L1518.3 966.2 L1518.5 964.3 L1518.7 960.8 L1518.9 974.6 L1519.2 992.9 L1519.4 992.6 L1519.6 986.6 L1519.8 993.7 L1520.0 994.6 L1520.2 995.7 L1520.5 1000.0 L1520.7 1002.1 L1520.9 1016.1 L1521.1 1013.0 L1521.3 1009.2 L1521.5 1015.3 L1521.7 1010.8 L1522.0 1011.4 L1522.2 1012.8 L1522.4 1004.0 L1522.6 1001.1 L1522.8 1008.6 L1523.0 1007.0 L1523.3 1010.6 L1523.5 1008.0 L1523.7 1006.7 L1523.9 1002.7 L1524.1 1000.3 L1524.3 998.2 L1524.6 1006.8 L1524.8 1002.4 L1525.0 998.6 L1525.2 1006.7 L1525.4 1005.7 L1525.6 998.3 L1525.9 1002.2 L1526.1 993.0 L1526.3 995.0 L1526.5 995.1 L1526.7 998.0 L1526.9 996.9 L1527.2 994.4 L1527.4 986.4 L1527.6 996.0 L1527.8 990.0 L1528.0 990.5 L1528.2 985.6 L1528.5 980.7 L1528.7 992.7 L1528.9 987.1 L1529.1 985.1 L1529.3 979.3 L1529.5 974.6 L1529.8 980.4 L1530.0 974.8 L1530.2 976.0 L1530.4 977.5 L1530.6 977.7 L1530.8 975.4 L1531.0 968.9 L1531.3 973.7 L1531.5 975.5 L1531.7 977.3 L1531.9 970.9 L1532.1 969.6 L1532.3 969.9 L1532.5 975.4 L1532.7 975.0 L1533.0 970.1 L1533.2 968.6 L1533.4 969.7 L1533.6 964.3 L1533.8 965.6 L1534.0 967.1 L1534.2 968.4 L1534.4 962.7 L1534.7 969.1 L1534.9 963.0 L1535.1 966.0 L1535.3 968.5 L1535.5 970.7 L1535.7 967.4 L1535.9 961.0 L1536.2 967.3 L1536.4 970.2 L1536.6 968.7 L1536.8 967.9 L1537.0 977.9 L1537.2 968.8 L1537.5 971.2 L1537.7 972.5 L1537.9 971.5 L1538.1 974.7 L1538.3 976.1 L1538.5 984.7 L1538.7 975.7 L1539.0 978.3 L1539.2 984.5 L1539.4 980.9 L1539.6 986.8 L1539.8 982.7 L1540.0 980.2 L1540.2 976.1 L1540.5 976.7 L1540.7 975.1 L1540.9 975.5 L1541.1 974.9 L1541.3 977.7 L1541.5 972.9 L1541.7 978.1 L1542.0 963.6 L1542.2 974.2 L1542.4 975.5 L1542.6 978.1 L1542.8 970.9 L1543.0 972.0 L1543.2 965.3 L1543.5 971.1 L1543.7 962.9 L1543.9 961.1 L1544.1 961.5 L1544.3 962.4 L1544.5 961.8 L1544.7 961.0 L1545.0 961.9 L1545.2 961.1 L1545.4 964.7 L1545.6 958.6 L1545.8 955.8 L1546.0 963.2 L1546.2 963.6 L1546.5 958.8 L1546.7 954.9 L1546.9 955.2 L1547.1 959.1 L1547.3 952.4 L1547.5 959.5 L1547.7 954.6 L1547.9 952.6 L1548.2 951.0 L1548.4 948.3 L1548.6 949.0 L1548.8 948.6 L1549.0 946.7 L1549.2 950.7 L1549.4 956.2 L1549.6 948.0 L1549.9 948.0 L1550.1 957.5 L1550.3 953.3 L1550.5 954.5 L1550.7 963.0 L1550.9 955.0 L1551.2 960.7 L1551.4 955.6 L1551.6 956.2 L1551.8 960.7 L1552.0 957.7 L1552.3 966.1 L1552.5 969.3 L1552.7 968.2 L1552.9 969.2 L1553.1 970.2 L1553.3 967.9 L1553.6 970.3 L1553.8 963.0 L1554.0 970.5 L1554.2 969.1 L1554.4 977.6 L1554.6 975.6 L1554.8 983.5 L1555.1 984.7 L1555.3 978.0 L1555.5 980.7 L1555.7 985.4 L1555.9 986.9 L1556.1 996.7 L1556.3 990.6 L1556.6 992.4 L1556.8 991.9 L1557.0 990.7 L1557.2 997.9 L1557.4 999.8 L1557.6 990.4 L1557.8 991.4 L1558.1 988.9 L1558.3 988.8 L1558.5 989.2 L1558.7 989.7 L1558.9 996.6 L1559.1 996.2 L1559.3 995.0 L1559.6 997.9 L1559.8 996.4 L1560.0 1000.0 L1560.2 997.1 L1560.4 997.4 L1560.6 1001.1 L1560.8 993.0 L1561.1 995.5 L1561.3 985.5 L1561.5 988.0 L1561.7 981.1 L1561.9 970.4 L1562.1 965.0 L1562.3 962.7 L1562.5 960.0 L1562.7 961.2 L1563.0 957.6 L1563.2 955.8 L1563.4 948.0 L1563.6 944.7 L1563.8 943.3 L1564.0 939.9 L1564.3 936.3 L1564.5 924.3 L1564.7 931.6 L1564.9 917.5 L1565.1 914.1 L1565.4 906.1 L1565.6 909.0 L1565.8 909.4 L1566.0 899.0 L1566.2 905.7 L1566.4 902.9 L1566.6 909.1 L1566.9 907.2 L1567.1 909.0 L1567.3 906.9 L1567.5 900.1 L1567.7 903.7 L1567.9 909.1 L1568.1 908.4 L1568.4 904.7 L1568.6 905.9 L1568.8 908.6 L1569.0 908.7 L1569.2 907.5 L1569.4 899.3 L1569.6 898.5 L1569.9 901.7 L1570.1 898.3 L1570.3 901.5 L1570.5 900.9 L1570.7 899.8 L1570.9 899.4 L1571.2 900.0 L1571.4 899.8 L1571.6 898.6 L1571.8 899.9 L1572.0 898.5 L1572.2 899.5 L1572.5 899.1 L1572.7 898.6 L1572.9 904.9 L1573.1 899.4 L1573.3 898.5 L1573.5 898.4 L1573.8 898.3 L1574.0 903.5 L1574.2 904.2 L1574.4 901.5 L1574.6 902.6 L1574.8 904.7 L1575.1 905.7 L1575.3 901.8 L1575.5 894.3 L1575.7 896.4 L1575.9 889.4 L1576.1 886.5 L1576.3 891.3 L1576.5 893.3 L1576.7 896.1 L1577.0 887.5 L1577.2 881.3 L1577.4 878.6 L1577.6 875.0 L1577.8 879.6 L1578.0 874.7 L1578.2 863.5 L1578.5 863.9 L1578.7 861.5 L1578.9 863.0 L1579.1 861.8 L1579.3 855.9 L1579.5 853.0 L1579.7 851.6 L1580.0 852.7 L1580.2 852.0 L1580.4 852.2 L1580.6 846.6 L1580.8 846.0 L1581.0 851.4 L1581.2 846.1 L1581.5 849.7 L1581.7 849.8 L1581.9 855.4 L1582.1 848.7 L1582.3 852.2 L1582.5 853.1 L1582.8 857.1 L1583.0 862.9 L1583.2 861.2 L1583.4 854.0 L1583.6 858.3 L1583.8 863.1 L1584.1 869.6 L1584.3 868.5 L1584.5 871.7 L1584.7 880.0 L1584.9 873.4 L1585.1 873.0 L1585.4 877.5 L1585.6 875.4 L1585.8 866.9 L1586.0 865.4 L1586.2 861.7 L1586.4 869.2 L1586.6 868.4 L1586.8 869.5 L1587.1 860.3 L1587.3 866.2 L1587.5 856.1 L1587.7 858.9 L1587.9 857.2 L1588.1 853.7 L1588.3 857.8 L1588.5 857.1 L1588.8 850.3 L1589.0 849.4 L1589.2 845.1 L1589.4 851.1 L1589.6 847.4 L1589.8 850.8 L1590.0 845.6 L1590.3 847.4 L1590.5 850.3 L1590.7 837.6 L1590.9 841.0 L1591.1 843.5 L1591.3 842.6 L1591.6 843.3 L1591.8 838.4 L1592.0 838.9 L1592.2 842.9 L1592.4 838.9 L1592.7 846.5 L1592.9 849.6 L1593.1 844.4 L1593.3 835.5 L1593.5 839.1 L1593.7 838.5 L1593.9 841.5 L1594.2 840.2 L1594.4 841.5 L1594.6 842.4 L1594.8 853.2 L1595.0 852.0 L1595.2 854.7 L1595.4 859.4 L1595.6 862.4 L1595.8 865.9 L1596.1 854.6 L1596.3 861.4 L1596.5 863.5 L1596.7 864.1 L1596.9 860.1 L1597.1 866.4 L1597.3 862.1 L1597.6 871.4 L1597.8 873.3 L1598.0 873.0 L1598.2 872.3 L1598.4 876.1 L1598.6 875.6 L1598.8 873.8 L1599.1 878.8 L1599.3 874.8 L1599.5 877.8 L1599.7 882.0 L1599.9 886.2 L1600.1 888.5 L1600.3 887.2 L1600.6 887.3 L1600.8 886.7 L1601.0 886.4 L1601.2 884.2 L1601.4 878.6 L1601.6 885.7 L1601.8 886.1 L1602.0 889.1 L1602.3 891.1 L1602.5 888.8 L1602.7 890.7 L1602.9 890.0 L1603.1 887.6 L1603.3 888.8 L1603.5 889.6 L1603.7 890.7 L1604.0 891.1 L1604.2 892.3 L1604.4 892.1 L1604.6 895.0 L1604.8 897.7 L1605.0 898.4 L1605.2 896.6 L1605.5 896.2 L1605.7 897.9 L1605.9 896.5 L1606.1 896.8 L1606.3 890.4 L1606.6 891.3 L1606.8 897.3 L1607.0 896.2 L1607.2 893.0 L1607.4 893.5 L1607.6 896.8 L1607.9 891.4 L1608.1 889.9 L1608.3 895.8 L1608.5 898.0 L1608.7 896.7 L1608.9 896.5 L1609.1 891.5 L1609.4 897.2 L1609.6 889.6 L1609.8 890.1 L1610.0 890.4 L1610.2 891.3 L1610.4 889.9 L1610.6 892.0 L1610.9 893.2 L1611.1 891.5 L1611.3 893.4 L1611.5 894.3 L1611.7 890.2 L1611.9 890.9 L1612.2 889.4 L1612.4 890.3 L1612.6 890.7 L1612.8 892.8 L1613.0 889.6 L1613.2 894.4 L1613.4 892.3 L1613.7 894.8 L1613.9 892.7 L1614.1 884.2 L1614.3 876.0 L1614.5 881.0 L1614.7 877.0 L1614.9 877.5 L1615.2 878.2 L1615.4 876.8 L1615.6 873.0 L1615.8 863.7 L1616.0 864.0 L1616.2 855.2 L1616.4 856.4 L1616.7 855.5 L1616.9 856.3 L1617.1 856.0 L1617.3 857.3 L1617.5 849.9 L1617.7 848.5 L1617.9 848.4 L1618.1 849.6 L1618.4 852.8 L1618.6 849.1 L1618.8 848.5 L1619.0 849.3 L1619.2 850.3 L1619.4 847.8 L1619.6 848.3 L1619.8 848.8 L1620.1 852.2 L1620.3 851.5 L1620.5 850.0 L1620.7 849.5 L1620.9 849.7 L1621.1 848.5 L1621.3 851.1 L1621.6 846.8 L1621.8 849.4 L1622.0 851.8 L1622.2 854.1 L1622.4 856.3 L1622.6 850.2 L1622.9 852.6 L1623.1 863.5 L1623.3 861.9 L1623.5 863.0 L1623.7 860.0 L1623.9 855.9 L1624.2 859.6 L1624.4 861.1 L1624.6 865.1 L1624.8 862.6 L1625.0 863.9 L1625.2 863.3 L1625.5 861.4 L1625.7 865.2 L1625.9 861.3 L1626.1 866.5 L1626.3 863.6 L1626.5 869.3 L1626.7 870.1 L1626.9 873.8 L1627.1 875.9 L1627.4 872.3 L1627.6 869.3 L1627.8 874.6 L1628.0 877.1 L1628.2 882.0 L1628.4 890.5 L1628.6 894.0 L1628.9 897.9 L1629.1 898.2 L1629.3 895.1 L1629.5 905.2 L1629.7 904.4 L1630.0 906.0 L1630.2 906.8 L1630.4 908.2 L1630.6 912.9 L1630.8 916.7 L1631.0 914.3 L1631.3 914.7 L1631.5 914.0 L1631.7 917.6 L1631.9 916.8 L1632.1 910.1 L1632.3 920.0 L1632.5 919.0 L1632.8 915.8 L1633.0 915.3 L1633.2 924.7 L1633.4 922.8 L1633.6 924.1 L1633.8 924.2 L1634.0 921.4 L1634.3 928.1 L1634.5 930.5 L1634.7 924.1 L1634.9 928.5 L1635.1 922.5 L1635.3 924.3 L1635.5 927.3 L1635.8 928.4 L1636.0 926.4 L1636.2 931.4 L1636.4 929.1 L1636.6 929.3 L1636.8 929.5 L1637.0 927.1 L1637.3 926.1 L1637.5 932.5 L1637.7 931.5 L1637.9 930.2 L1638.1 930.9 L1638.3 929.3 L1638.6 928.3 L1638.8 926.9 L1639.0 927.8 L1639.2 930.1 L1639.4 929.7 L1639.6 931.2 L1639.8 925.5 L1640.1 936.4 L1640.3 938.9 L1640.5 934.2 L1640.7 936.4 L1640.9 942.4 L1641.1 950.2 L1641.3 940.6 L1641.6 939.3 L1641.8 952.2 L1642.0 950.5 L1642.2 950.8 L1642.4 951.3 L1642.6 954.1 L1642.8 957.2 L1643.1 951.0 L1643.3 957.5 L1643.5 955.9 L1643.7 956.2 L1643.9 954.6 L1644.1 948.5 L1644.3 951.1 L1644.6 949.8 L1644.8 945.8 L1645.0 946.4 L1645.2 947.0 L1645.4 950.3 L1645.6 948.5 L1645.9 946.8 L1646.1 947.3 L1646.3 953.3 L1646.5 952.3 L1646.7 955.5 L1646.9 953.3 L1647.1 960.1 L1647.4 958.6 L1647.6 955.5 L1647.8 949.2 L1648.0 963.5 L1648.2 959.7 L1648.4 961.0 L1648.6 967.8 L1648.9 976.7 L1649.1 976.6 L1649.3 972.7 L1649.5 978.2 L1649.7 974.3 L1649.9 977.5 L1650.1 981.2 L1650.4 983.7 L1650.6 987.5 L1650.8 989.0 L1651.0 999.1 L1651.2 991.9 L1651.4 993.5 L1651.6 993.3 L1651.9 992.0 L1652.1 992.9 L1652.3 996.7 L1652.5 971.1 L1652.7 981.7 L1652.9 986.1 L1653.1 981.0 L1653.4 985.5 L1653.6 961.9 L1653.8 970.2 L1654.0 962.9 L1654.2 965.3 L1654.4 964.9 L1654.7 967.9 L1654.9 970.6 L1655.1 965.2 L1655.3 970.0 L1655.5 969.3 L1655.7 964.6 L1655.9 970.6 L1656.2 968.8 L1656.4 967.2 L1656.6 954.0 L1656.8 954.3 L1657.0 956.3 L1657.2 954.3 L1657.4 956.9 L1657.7 951.4 L1657.9 966.2 L1658.1 954.1 L1658.3 969.0 L1658.5 957.5 L1658.7 975.5 L1658.9 977.8 L1659.2 981.1 L1659.4 984.4 L1659.6 989.0 L1659.8 997.1 L1660.0 1005.9 L1660.2 995.1 L1660.4 1007.0 L1660.7 1009.3 L1660.9 1008.5 L1661.1 1010.0 L1661.3 1026.5 L1661.5 1034.9 L1661.7 1028.1 L1661.9 1034.1 L1662.2 1022.9 L1662.4 1019.4 L1662.6 1008.7 L1662.8 1001.2 L1663.0 995.8 L1663.2 985.3 L1663.5 988.4 L1663.7 987.7 L1663.9 987.9 L1664.1 978.6 L1664.3 973.2 L1664.5 976.3 L1664.7 973.1 L1665.0 961.0 L1665.2 963.7 L1665.4 965.9 L1665.6 959.8 L1665.8 951.1 L1666.0 961.5 L1666.2 954.3 L1666.5 952.9 L1666.7 953.3 L1666.9 960.3 L1667.1 953.1 L1667.3 955.6 L1667.5 948.6 L1667.7 942.4 L1668.0 951.5 L1668.2 957.3 L1668.4 947.3 L1668.6 948.3 L1668.8 947.5 L1669.0 949.8 L1669.2 948.8 L1669.5 946.6 L1669.7 950.0 L1669.9 948.5 L1670.1 950.6 L1670.3 948.4 L1670.5 949.2 L1670.7 951.2 L1670.9 948.6 L1671.2 950.2 L1671.4 946.8 L1671.6 942.4 L1671.8 938.3 L1672.0 935.2 L1672.2 936.3 L1672.4 945.0 L1672.6 941.3 L1672.9 937.0 L1673.1 936.0 L1673.3 947.2 L1673.5 942.5 L1673.7 946.9 L1673.9 933.2 L1674.2 944.6 L1674.4 940.2 L1674.6 939.6 L1674.8 945.9 L1675.0 939.4 L1675.2 941.5 L1675.5 936.0 L1675.7 932.6 L1675.9 939.0 L1676.1 946.8 L1676.3 943.1 L1676.5 949.2 L1676.8 949.0 L1677.0 947.3 L1677.2 957.2 L1677.4 948.5 L1677.6 949.4 L1677.8 948.2 L1678.0 956.1 L1678.3 951.0 L1678.5 953.6 L1678.7 951.5 L1678.9 955.5 L1679.1 965.7 L1679.3 968.1 L1679.6 962.3 L1679.8 977.5 L1680.0 968.9 L1680.2 974.7 L1680.4 974.8 L1680.6 965.0 L1680.8 969.2 L1681.1 958.5 L1681.3 952.5 L1681.5 949.6 L1681.7 947.3 L1681.9 947.3 L1682.1 932.0 L1682.3 934.7 L1682.6 923.2 L1682.8 923.1 L1683.0 928.0 L1683.2 920.7 L1683.4 905.4 L1683.6 901.7 L1683.8 895.8 L1684.1 897.5 L1684.3 895.8 L1684.5 892.5 L1684.7 892.2 L1684.9 881.6 L1685.1 878.2 L1685.3 878.5 L1685.5 862.3 L1685.7 859.0 L1686.0 869.5 L1686.2 864.9 L1686.4 864.6 L1686.6 861.4 L1686.8 853.9 L1687.0 856.0 L1687.2 856.1 L1687.5 853.4 L1687.7 852.5 L1687.9 852.7 L1688.1 858.6 L1688.3 865.1 L1688.6 865.5 L1688.8 860.3 L1689.0 858.0 L1689.2 856.1 L1689.4 852.4 L1689.7 850.3 L1689.9 850.8 L1690.1 856.2 L1690.3 850.9 L1690.5 848.1 L1690.7 847.0 L1691.0 855.2 L1691.2 854.8 L1691.4 849.4 L1691.6 850.4 L1691.8 857.6 L1692.0 848.6 L1692.2 865.1 L1692.5 850.8 L1692.7 859.0 L1692.9 858.0 L1693.1 857.8 L1693.3 859.6 L1693.5 868.4 L1693.7 851.7 L1694.0 860.2 L1694.2 864.4 L1694.4 857.0 L1694.6 866.4 L1694.8 866.4 L1695.0 868.6 L1695.2 867.2 L1695.4 869.6 L1695.7 868.1 L1695.9 864.9 L1696.1 866.0 L1696.3 863.5 L1696.5 866.3 L1696.7 869.2 L1696.9 869.1 L1697.2 872.4 L1697.4 870.2 L1697.6 870.9 L1697.8 875.3 L1698.0 878.2 L1698.2 874.6 L1698.4 882.8 L1698.7 880.7 L1698.9 888.2 L1699.1 892.0 L1699.3 892.3 L1699.5 887.7 L1699.7 893.1 L1699.9 896.0 L1700.2 893.7 L1700.4 901.1 L1700.6 904.7 L1700.8 902.3 L1701.0 896.0 L1701.2 902.0 L1701.4 902.2 L1701.7 904.0 L1701.9 913.0 L1702.1 903.3 L1702.3 909.8 L1702.5 912.4 L1702.7 912.9 L1703.0 918.3 L1703.2 917.2 L1703.4 922.4 L1703.6 925.3 L1703.8 918.3 L1704.0 925.6 L1704.3 928.7 L1704.5 922.4 L1704.7 931.4 L1704.9 937.2 L1705.1 940.4 L1705.3 938.2 L1705.6 939.3 L1705.8 939.4 L1706.0 941.7 L1706.2 942.0 L1706.4 939.1 L1706.6 938.7 L1706.8 942.4 L1707.1 940.3 L1707.3 940.0 L1707.5 940.0 L1707.7 938.6 L1707.9 939.9 L1708.1 939.5 L1708.3 939.9 L1708.5 942.6 L1708.8 941.0 L1709.0 940.2 L1709.2 941.0 L1709.4 941.2 L1709.6 940.4 L1709.8 938.5 L1710.0 941.6 L1710.2 941.1 L1710.5 945.0 L1710.7 954.5 L1710.9 950.6 L1711.1 945.4 L1711.3 944.7 L1711.5 946.3 L1711.7 949.8 L1712.0 947.8 L1712.2 948.3 L1712.4 957.6 L1712.6 953.0 L1712.8 947.4 L1713.0 950.3 L1713.3 949.1 L1713.5 947.6 L1713.7 953.2 L1713.9 952.7 L1714.1 959.0 L1714.3 961.1 L1714.5 961.5 L1714.8 961.0 L1715.0 963.3 L1715.2 969.4 L1715.4 957.8 L1715.6 956.8 L1715.8 961.4 L1716.1 965.1 L1716.3 966.9 L1716.5 969.1 L1716.7 973.4 L1716.9 971.3 L1717.1 967.1 L1717.4 966.9 L1717.6 973.0 L1717.8 969.9 L1718.0 975.4 L1718.2 977.5 L1718.4 974.0 L1718.7 965.3 L1718.9 978.2 L1719.1 977.5 L1719.3 980.0 L1719.5 979.5 L1719.7 973.5 L1719.9 978.9 L1720.2 973.0 L1720.4 978.0 L1720.6 979.7 L1720.8 973.0 L1721.0 963.3 L1721.2 969.0 L1721.4 973.4 L1721.6 969.5 L1721.9 969.6 L1722.1 967.4 L1722.3 967.1 L1722.5 967.3 L1722.7 961.9 L1722.9 952.3 L1723.1 954.4 L1723.3 954.1 L1723.6 952.1 L1723.8 932.4 L1724.0 938.9 L1724.2 939.6 L1724.4 925.2 L1724.7 923.7 L1724.9 925.2 L1725.1 918.5 L1725.3 918.2 L1725.5 919.2 L1725.7 912.9 L1726.0 914.8 L1726.2 909.9 L1726.4 907.0 L1726.6 901.7 L1726.8 898.9 L1727.0 900.6 L1727.2 907.5 L1727.4 904.1 L1727.6 899.8 L1727.9 900.3 L1728.1 903.6 L1728.3 888.8 L1728.5 888.9 L1728.7 894.0 L1728.9 890.7 L1729.1 891.6 L1729.3 895.6 L1729.6 901.5 L1729.8 905.4 L1730.0 906.8 L1730.2 906.1 L1730.4 911.5 L1730.6 916.3 L1730.9 926.3 L1731.1 931.1 L1731.3 936.0 L1731.5 937.2 L1731.7 941.1 L1731.9 940.4 L1732.1 937.2 L1732.4 937.3 L1732.6 935.6 L1732.8 934.3 L1733.0 942.6 L1733.2 941.2 L1733.4 943.1 L1733.6 941.4 L1733.9 942.2 L1734.1 934.2 L1734.3 935.7 L1734.5 942.0 L1734.7 939.3 L1734.9 937.8 L1735.1 942.3 L1735.4 942.5 L1735.6 939.8 L1735.8 941.2 L1736.0 941.7 L1736.2 936.1 L1736.4 940.4 L1736.6 942.2 L1736.9 936.7 L1737.1 937.0 L1737.3 933.9 L1737.5 940.0 L1737.7 943.3 L1737.9 934.9 L1738.1 940.2 L1738.4 941.5 L1738.6 941.6 L1738.8 944.0 L1739.0 944.4 L1739.2 943.2 L1739.4 947.7 L1739.6 945.6 L1739.8 950.6 L1740.1 954.9 L1740.3 955.2 L1740.5 956.9 L1740.7 948.8 L1740.9 953.9 L1741.1 948.4 L1741.3 952.7 L1741.5 954.1 L1741.8 948.5 L1742.0 947.4 L1742.2 948.1 L1742.4 948.6 L1742.6 955.3 L1742.8 956.8 L1743.1 956.9 L1743.3 956.7 L1743.5 952.0 L1743.7 945.8 L1743.9 948.4 L1744.1 946.5 L1744.4 947.3 L1744.6 947.7 L1744.8 949.8 L1745.0 949.5 L1745.2 949.0 L1745.4 947.5 L1745.7 949.0 L1745.9 945.0 L1746.1 948.0 L1746.3 945.1 L1746.5 953.6 L1746.7 953.9 L1747.0 950.7 L1747.2 949.3 L1747.4 957.7 L1747.6 956.2 L1747.8 955.8 L1748.0 951.6 L1748.3 952.7 L1748.5 954.5 L1748.7 959.3 L1748.9 961.4 L1749.1 961.1 L1749.4 961.9 L1749.6 964.0 L1749.8 966.2 L1750.0 966.4 L1750.2 962.8 L1750.4 960.5 L1750.6 958.1 L1750.8 962.5 L1751.1 967.6 L1751.3 959.4 L1751.5 961.6 L1751.7 961.5 L1751.9 956.4 L1752.1 952.1 L1752.3 957.0 L1752.5 960.4 L1752.8 957.8 L1753.0 953.7 L1753.2 952.4 L1753.4 949.9 L1753.6 953.2 L1753.8 953.8 L1754.0 952.6 L1754.2 954.1 L1754.5 955.7 L1754.7 951.3 L1754.9 951.7 L1755.1 953.7 L1755.3 955.9 L1755.5 954.5 L1755.8 954.8 L1756.0 946.2 L1756.2 955.1 L1756.4 948.1 L1756.6 954.1 L1756.8 948.3 L1757.0 945.3 L1757.3 951.2 L1757.5 946.8 L1757.7 946.6 L1757.9 941.8 L1758.1 945.2 L1758.3 937.5 L1758.5 947.6 L1758.8 942.9 L1759.0 946.2 L1759.2 944.5 L1759.4 940.4 L1759.6 943.1 L1759.8 939.8 L1760.0 935.6 L1760.3 939.8 L1760.5 942.6 L1760.7 933.9 L1760.9 930.7 L1761.1 931.9 L1761.3 922.9 L1761.5 916.4 L1761.8 914.3 L1762.0 914.7 L1762.2 914.5 L1762.4 915.3 L1762.6 912.9 L1762.8 911.2 L1763.1 911.8 L1763.3 909.8 L1763.5 912.7 L1763.7 911.0 L1763.9 910.2 L1764.1 910.4 L1764.3 910.2 L1764.6 915.5 L1764.8 913.9 L1765.0 910.6 L1765.2 910.5 L1765.4 910.5 L1765.6 909.6 L1765.8 910.4 L1766.1 910.2 L1766.3 910.6 L1766.5 912.8 L1766.7 913.3 L1766.9 913.5 L1767.1 911.2 L1767.3 911.5 L1767.6 911.5 L1767.8 915.0 L1768.0 912.9 L1768.2 917.0 L1768.4 914.7 L1768.6 913.1 L1768.8 911.8 L1769.1 909.4 L1769.3 910.8 L1769.5 910.0 L1769.7 911.8 L1769.9 910.6 L1770.1 912.1 L1770.3 918.6 L1770.6 916.1 L1770.8 909.8 L1771.0 914.5 L1771.2 917.7 L1771.4 919.8 L1771.6 920.4 L1771.9 915.3 L1772.1 919.1 L1772.3 921.8 L1772.5 919.5 L1772.7 916.6 L1772.9 910.0 L1773.1 911.7 L1773.4 910.7 L1773.6 910.6 L1773.8 903.7 L1774.0 907.2 L1774.2 909.0 L1774.4 906.9 L1774.6 910.2 L1774.9 900.9 L1775.1 904.1 L1775.3 899.4 L1775.5 899.6 L1775.7 895.4 L1775.9 891.0 L1776.1 892.3 L1776.3 892.8 L1776.6 891.3 L1776.8 896.5 L1777.0 893.3 L1777.2 893.9 L1777.4 894.4 L1777.6 893.0 L1777.8 890.0 L1778.0 897.1 L1778.3 889.1 L1778.5 891.3 L1778.7 895.6 L1778.9 895.6 L1779.1 893.5 L1779.3 892.3 L1779.5 895.5 L1779.8 897.1 L1780.0 898.1 L1780.2 895.4 L1780.4 901.1 L1780.6 895.7 L1780.8 893.7 L1781.1 893.3 L1781.3 892.6 L1781.5 889.7 L1781.7 895.9 L1781.9 900.0 L1782.1 896.4 L1782.4 897.7 L1782.6 898.1 L1782.8 904.2 L1783.0 905.5 L1783.2 901.5 L1783.4 902.6 L1783.7 907.0 L1783.9 906.4 L1784.1 906.0 L1784.3 912.7 L1784.5 909.6 L1784.7 911.5 L1784.9 907.4 L1785.2 909.1 L1785.4 903.2 L1785.6 908.4 L1785.8 909.9 L1786.0 911.3 L1786.2 915.3 L1786.4 911.6 L1786.7 915.1 L1786.9 914.7 L1787.1 909.8 L1787.3 912.5 L1787.5 913.7 L1787.7 909.9 L1787.9 913.6 L1788.2 912.7 L1788.4 911.5 L1788.6 911.1 L1788.8 910.9 L1789.0 909.5 L1789.2 911.4 L1789.5 908.0 L1789.7 902.3 L1789.9 898.1 L1790.1 889.5 L1790.3 887.0 L1790.5 896.0 L1790.7 894.9 L1791.0 887.0 L1791.2 886.4 L1791.4 887.4 L1791.6 883.5 L1791.8 880.7 L1792.0 878.6 L1792.2 874.0 L1792.5 877.5 L1792.7 882.3 L1792.9 881.6 L1793.1 882.9 L1793.3 882.7 L1793.5 884.1 L1793.7 883.3 L1794.0 883.9 L1794.2 886.7 L1794.4 886.1 L1794.6 884.4 L1794.8 880.0 L1795.0 881.3 L1795.2 890.3 L1795.5 892.5 L1795.7 891.7 L1795.9 891.4 L1796.1 889.4 L1796.3 891.0 L1796.5 893.7 L1796.8 890.6 L1797.0 893.0 L1797.2 892.3 L1797.4 890.8 L1797.6 892.4 L1797.8 887.4 L1798.0 883.7 L1798.3 886.4 L1798.5 885.2 L1798.7 881.4 L1798.9 883.3 L1799.1 886.3 L1799.3 885.4 L1799.5 882.2 L1799.8 883.5 L1800.0 883.3 L1800.2 875.1 L1800.4 881.7 L1800.6 878.6 L1800.8 879.7 L1801.0 878.9 L1801.3 877.9 L1801.5 879.6 L1801.7 875.4 L1801.9 872.4 L1802.1 866.3 L1802.3 864.7 L1802.6 869.6 L1802.8 866.5 L1803.0 863.9 L1803.2 868.5 L1803.4 857.5 L1803.7 866.4 L1803.9 867.5 L1804.1 859.0 L1804.3 862.5 L1804.5 859.7 L1804.7 858.0 L1804.9 858.8 L1805.2 853.3 L1805.4 855.2 L1805.6 857.3 L1805.8 854.3 L1806.0 860.2 L1806.2 859.3 L1806.4 860.3 L1806.6 858.3 L1806.9 854.1 L1807.1 859.3 L1807.3 858.8 L1807.5 852.8 L1807.7 848.7 L1807.9 854.6 L1808.1 853.0 L1808.3 849.9 L1808.6 851.0 L1808.8 852.2 L1809.0 846.8 L1809.2 847.7 L1809.4 846.3 L1809.6 846.6 L1809.8 846.9 L1810.1 851.6 L1810.3 846.9 L1810.5 847.1 L1810.7 855.9 L1810.9 854.7 L1811.1 853.6 L1811.3 852.7 L1811.6 851.8 L1811.8 854.1 L1812.0 854.0 L1812.2 850.2 L1812.4 852.3 L1812.6 852.8 L1812.8 847.4 L1813.1 849.5 L1813.3 854.6 L1813.5 855.1 L1813.7 856.1 L1813.9 853.7 L1814.1 854.1 L1814.4 849.9 L1814.6 848.9 L1814.8 852.2 L1815.0 847.4 L1815.2 855.6 L1815.4 854.8 L1815.6 850.9 L1815.9 849.8 L1816.1 847.4 L1816.3 849.6 L1816.5 849.4 L1816.7 850.9 L1816.9 845.7 L1817.1 847.7 L1817.4 845.1 L1817.6 844.4 L1817.8 847.7 L1818.0 853.2 L1818.2 848.3 L1818.4 842.9 L1818.6 833.0 L1818.9 828.2 L1819.1 820.4 L1819.3 822.5 L1819.5 813.3 L1819.7 814.3 L1819.9 812.1 L1820.2 814.3 L1820.4 812.9 L1820.6 807.0 L1820.8 809.9 L1821.0 808.9 L1821.2 809.5 L1821.5 806.7 L1821.7 809.3 L1821.9 807.3 L1822.1 802.8 L1822.3 797.6 L1822.5 798.4 L1822.8 799.4 L1823.0 796.3 L1823.2 796.2 L1823.4 801.7 L1823.6 796.9 L1823.8 798.2 L1824.0 798.0 L1824.3 795.4 L1824.5 798.1 L1824.7 801.3 L1824.9 794.5 L1825.1 793.7 L1825.3 798.0 L1825.5 800.7 L1825.8 805.6 L1826.0 809.4 L1826.2 807.4 L1826.4 809.1 L1826.6 807.1 L1826.8 802.4 L1827.0 805.9 L1827.2 801.4 L1827.5 808.8 L1827.7 808.3 L1827.9 810.3 L1828.1 806.5 L1828.3 800.1 L1828.5 805.0 L1828.7 803.4 L1828.9 805.4 L1829.2 802.5 L1829.4 801.8 L1829.6 800.5 L1829.8 802.6 L1830.0 804.1 L1830.2 805.4 L1830.5 802.2 L1830.7 804.8 L1830.9 801.5 L1831.1 801.6 L1831.3 808.6 L1831.5 805.1 L1831.7 801.0 L1832.0 806.6 L1832.2 802.2 L1832.4 803.1 L1832.6 801.1 L1832.8 800.1 L1833.0 802.2 L1833.2 803.0 L1833.5 809.7 L1833.7 803.2 L1833.9 801.8 L1834.1 803.6 L1834.3 799.3 L1834.5 805.0 L1834.7 806.8 L1834.9 806.9 L1835.2 815.6 L1835.4 811.4 L1835.6 810.8 L1835.8 810.2 L1836.0 807.4 L1836.2 804.1 L1836.4 809.6 L1836.6 810.1 L1836.9 812.8 L1837.1 813.1 L1837.3 811.3 L1837.5 808.7 L1837.7 816.8 L1837.9 816.7 L1838.1 823.3 L1838.4 826.0 L1838.6 826.8 L1838.8 826.7 L1839.0 827.8 L1839.2 833.0 L1839.5 837.6 L1839.7 839.4 L1839.9 844.7 L1840.1 847.7 L1840.3 846.9 L1840.5 843.6 L1840.8 840.0 L1841.0 846.7 L1841.2 843.4 L1841.4 843.2 L1841.6 837.7 L1841.8 833.4 L1842.0 827.0 L1842.3 831.3 L1842.5 832.9 L1842.7 834.1 L1842.9 833.4 L1843.1 819.8 L1843.3 814.3 L1843.5 816.8 L1843.8 819.8 L1844.0 818.6 L1844.2 823.2 L1844.4 815.0 L1844.6 813.9 L1844.8 814.6 L1845.0 815.8 L1845.3 816.3 L1845.5 822.1 L1845.7 817.6 L1845.9 817.0 L1846.1 814.1 L1846.3 814.4 L1846.5 815.6 L1846.8 819.0 L1847.0 816.0 L1847.2 815.9 L1847.4 821.2 L1847.6 818.4 L1847.8 818.4 L1848.1 819.9 L1848.3 820.3 L1848.5 814.8 L1848.7 820.2 L1848.9 815.9 L1849.1 823.5 L1849.3 819.1 L1849.6 822.4 L1849.8 823.9 L1850.0 823.3 L1850.2 821.0 L1850.4 811.7 L1850.6 819.6 L1850.8 817.8 L1851.1 810.0 L1851.3 812.4 L1851.5 813.4 L1851.7 812.3 L1851.9 810.0 L1852.1 814.3 L1852.3 815.3 L1852.6 810.6 L1852.8 811.5 L1853.0 818.0 L1853.2 819.4 L1853.4 818.3 L1853.6 813.9 L1853.8 813.3 L1854.1 809.8 L1854.3 809.5 L1854.5 811.0 L1854.7 814.6 L1854.9 821.8 L1855.1 820.3 L1855.3 822.5 L1855.5 825.1 L1855.8 821.3 L1856.0 822.0 L1856.2 818.9 L1856.4 819.1 L1856.6 822.1 L1856.8 828.2 L1857.0 818.4 L1857.2 814.2 L1857.5 816.8 L1857.7 828.4 L1857.9 824.5 L1858.1 825.0 L1858.3 830.5 L1858.5 832.2 L1858.7 822.4 L1859.0 819.5 L1859.2 822.4 L1859.4 826.2 L1859.6 820.0 L1859.8 817.9 L1860.0 817.9 L1860.3 820.7 L1860.5 819.1 L1860.7 815.4 L1860.9 822.5 L1861.1 821.4 L1861.3 816.4 L1861.6 821.1 L1861.8 813.4 L1862.0 812.8 L1862.2 810.7 L1862.4 813.3 L1862.6 814.0 L1862.9 820.7 L1863.1 812.5 L1863.3 819.8 L1863.5 819.9 L1863.7 822.5 L1863.9 816.9 L1864.2 827.5 L1864.4 824.6 L1864.6 828.5 L1864.8 828.9 L1865.0 840.2 L1865.2 836.0 L1865.4 833.6 L1865.7 830.4 L1865.9 837.4 L1866.1 836.9 L1866.3 845.2 L1866.5 840.0 L1866.7 840.8 L1866.9 845.9 L1867.2 850.2 L1867.4 854.4 L1867.6 855.0 L1867.8 859.0 L1868.0 861.7 L1868.2 854.7 L1868.4 860.9 L1868.7 862.2 L1868.9 869.4 L1869.1 872.5 L1869.3 868.3 L1869.5 868.6 L1869.7 865.8 L1870.0 864.1 L1870.2 869.1 L1870.4 871.0 L1870.6 864.1 L1870.8 866.7 L1871.0 864.5 L1871.3 865.0 L1871.5 865.9 L1871.7 862.6 L1871.9 864.0 L1872.1 863.8 L1872.3 862.6 L1872.6 862.4 L1872.8 863.4 L1873.0 867.3 L1873.2 866.3 L1873.4 864.9 L1873.6 865.7 L1873.8 866.3 L1874.1 863.6 L1874.3 864.6 L1874.5 863.8 L1874.7 866.3 L1874.9 862.4 L1875.1 863.7 L1875.3 864.1 L1875.5 868.6 L1875.8 868.9 L1876.0 870.2 L1876.2 864.3 L1876.4 863.5 L1876.6 863.0 L1876.8 863.2 L1877.0 862.1 L1877.3 864.4 L1877.5 870.3 L1877.7 870.1 L1877.9 868.3 L1878.1 870.1 L1878.3 878.1 L1878.5 880.3 L1878.7 873.0 L1879.0 878.3 L1879.2 883.0 L1879.4 883.0 L1879.6 885.4 L1879.8 888.4 L1880.0 878.8 L1880.2 883.0 L1880.5 887.2 L1880.7 884.5 L1880.9 880.7 L1881.1 886.1 L1881.3 885.5 L1881.5 879.8 L1881.8 881.4 L1882.0 887.7 L1882.2 887.1 L1882.4 889.0 L1882.6 882.1 L1882.8 881.5 L1883.0 879.5 L1883.3 884.2 L1883.5 878.8 L1883.7 881.2 L1883.9 882.3 L1884.1 879.0 L1884.3 877.5 L1884.5 878.8 L1884.8 881.9 L1885.0 884.3 L1885.2 887.4 L1885.4 882.8 L1885.6 881.0 L1885.8 880.0 L1886.0 878.3 L1886.3 875.6 L1886.5 878.6 L1886.7 874.3 L1886.9 874.7 L1887.1 879.0 L1887.3 879.4 L1887.5 882.6 L1887.8 888.7 L1888.0 884.1 L1888.2 887.1 L1888.4 885.9 L1888.6 879.2 L1888.8 887.1 L1889.1 890.5 L1889.3 885.0 L1889.5 887.0 L1889.7 884.8 L1889.9 888.9 L1890.1 891.8 L1890.3 899.5 L1890.5 898.5 L1890.8 893.7 L1891.0 895.8 L1891.2 898.1 L1891.4 899.8 L1891.6 910.2 L1891.8 916.8 L1892.0 915.5 L1892.2 914.2 L1892.4 914.8 L1892.7 912.9 L1892.9 916.9 L1893.1 911.1 L1893.3 916.7 L1893.5 916.5 L1893.7 925.1 L1894.0 924.3 L1894.2 936.2 L1894.4 930.5 L1894.6 932.8 L1894.8 935.3 L1895.1 937.0 L1895.3 939.4 L1895.5 932.3 L1895.7 933.3 L1895.9 937.2 L1896.1 933.9 L1896.3 937.6 L1896.6 933.0 L1896.8 932.6 L1897.0 930.6 L1897.2 932.5 L1897.4 930.7 L1897.6 931.7 L1897.9 930.9 L1898.1 934.6 L1898.3 932.6 L1898.5 933.0 L1898.7 932.9 L1898.9 932.7 L1899.1 931.8 L1899.4 936.0 L1899.6 931.6 L1899.8 933.5 L1900.0 937.8 L1900.2 933.5 L1900.4 933.1 L1900.6 924.5 L1900.9 931.3 L1901.1 924.7 L1901.3 926.4 L1901.5 923.8 L1901.7 919.3 L1901.9 917.0 L1902.2 919.1 L1902.4 919.9 L1902.6 915.8 L1902.8 914.1 L1903.0 918.2 L1903.2 918.3 L1903.5 914.1 L1903.7 911.4 L1903.9 907.9 L1904.1 907.0 L1904.3 906.1 L1904.5 902.2 L1904.8 905.2 L1905.0 908.4 L1905.2 907.0 L1905.4 909.5 L1905.6 911.5 L1905.8 912.0 L1906.0 907.7 L1906.2 908.6 L1906.5 918.7 L1906.7 920.7 L1906.9 918.2 L1907.1 921.8 L1907.3 923.6 L1907.5 927.5 L1907.7 927.9 L1907.9 925.8 L1908.2 922.8 L1908.4 921.5 L1908.6 920.6 L1908.8 926.7 L1909.0 927.5 L1909.2 929.3 L1909.4 927.1 L1909.7 920.0 L1909.9 926.8 L1910.1 928.5 L1910.3 923.0 L1910.5 921.9 L1910.7 919.1 L1910.9 922.4 L1911.2 919.9 L1911.4 921.1 L1911.6 920.9 L1911.8 922.2 L1912.0 924.0 L1912.2 920.7 L1912.4 922.8 L1912.7 921.4 L1912.9 919.8 L1913.1 920.3 L1913.3 924.7 L1913.5 923.5 L1913.7 917.0 L1913.9 919.8 L1914.2 919.3 L1914.4 921.9 L1914.6 923.6 L1914.8 924.9 L1915.0 922.5 L1915.2 918.7 L1915.5 918.8 L1915.7 926.1 L1915.9 919.4 L1916.1 917.4 L1916.3 926.0 L1916.5 925.5 L1916.7 925.6 L1917.0 923.9 L1917.2 925.9 L1917.4 924.3 L1917.6 917.8 L1917.8 918.5 L1918.0 921.3 L1918.2 917.3 L1918.5 922.2 L1918.7 923.0 L1918.9 925.3 L1919.1 923.2 L1919.3 923.8 L1919.5 928.5 L1919.7 922.3 L1920.0 922.8 L1920.2 921.2 L1920.4 923.2 L1920.6 921.5 L1920.8 922.1 L1921.0 925.5 L1921.2 924.2 L1921.4 924.6 L1921.7 922.9 L1921.9 923.7 L1922.1 924.8 L1922.3 921.9 L1922.5 922.2 L1922.7 921.8 L1922.9 920.3 L1923.1 922.5 L1923.4 926.7 L1923.6 926.7 L1923.8 933.8 L1924.0 931.3 L1924.2 934.9 L1924.4 937.6 L1924.7 940.3 L1924.9 938.1 L1925.1 939.7 L1925.3 941.7 L1925.5 944.8 L1925.8 951.0 L1926.0 947.3 L1926.2 942.1 L1926.4 942.4 L1926.6 938.4 L1926.8 939.2 L1927.0 935.6 L1927.3 935.2 L1927.5 929.3 L1927.7 925.4 L1927.9 924.6 L1928.1 928.1 L1928.3 929.7 L1928.5 925.3 L1928.8 923.6 L1929.0 918.8 L1929.2 915.3 L1929.4 916.4 L1929.6 917.5 L1929.8 918.5 L1930.0 915.6 L1930.3 911.2 L1930.5 910.7 L1930.7 906.9 L1930.9 908.5 L1931.1 910.5 L1931.3 914.6 L1931.6 903.7 L1931.8 913.7 L1932.0 916.1 L1932.2 913.7 L1932.4 911.6 L1932.6 912.9 L1932.8 910.9 L1933.1 903.7 L1933.3 902.0 L1933.5 902.7 L1933.7 898.9 L1933.9 900.0 L1934.1 912.8 L1934.3 908.4 L1934.6 902.6 L1934.8 901.9 L1935.0 903.8 L1935.2 900.4 L1935.4 899.9 L1935.6 900.3 L1935.9 902.0 L1936.1 901.0 L1936.3 899.7 L1936.5 901.3 L1936.7 907.2 L1936.9 907.4 L1937.2 906.5 L1937.4 899.9 L1937.6 901.1 L1937.8 904.1 L1938.0 906.8 L1938.2 900.4 L1938.5 909.0 L1938.7 906.1 L1938.9 903.2 L1939.1 908.3 L1939.3 908.8 L1939.5 897.6 L1939.8 900.1 L1940.0 902.2 L1940.2 898.2 L1940.4 904.1 L1940.6 898.4 L1940.8 897.9 L1941.0 893.3 L1941.3 882.8 L1941.5 887.9 L1941.7 883.3 L1941.9 882.2 L1942.1 882.0 L1942.3 881.5 L1942.5 890.2 L1942.7 892.3 L1943.0 886.9 L1943.2 892.8 L1943.4 898.6 L1943.6 901.7 L1943.8 906.3 L1944.0 909.0 L1944.2 906.5 L1944.4 911.8 L1944.6 911.1 L1944.9 912.9 L1945.1 909.6 L1945.3 914.4 L1945.5 913.7 L1945.7 914.2 L1945.9 919.6 L1946.1 920.1 L1946.4 922.9 L1946.6 922.8 L1946.8 929.6 L1947.0 930.2 L1947.2 937.5 L1947.4 929.8 L1947.7 930.3 L1947.9 933.0 L1948.1 936.5 L1948.3 935.3 L1948.5 936.8 L1948.7 936.1 L1948.9 936.4 L1949.2 936.7 L1949.4 936.0 L1949.6 935.4 L1949.8 934.0 L1950.0 936.1 L1950.2 936.0 L1950.4 936.0 L1950.7 937.1 L1950.9 933.3 L1951.1 933.8 L1951.3 933.2 L1951.5 936.0 L1951.7 936.1 L1951.9 933.9 L1952.2 936.1 L1952.4 936.2 L1952.6 936.3 L1952.8 936.0 L1953.0 933.3 L1953.2 934.6 L1953.4 935.3 L1953.7 931.1 L1953.9 931.3 L1954.1 937.5 L1954.3 934.0 L1954.5 932.6 L1954.7 933.4 L1954.9 931.4 L1955.2 931.1 L1955.4 933.3 L1955.6 933.7 L1955.8 936.1 L1956.0 936.5 L1956.2 936.2 L1956.5 937.6 L1956.7 936.3 L1956.9 935.8 L1957.1 936.0 L1957.3 936.8 L1957.5 936.3 L1957.7 933.0 L1958.0 937.3 L1958.2 936.7 L1958.4 934.5 L1958.6 933.5 L1958.8 931.5 L1959.0 937.2 L1959.2 935.4 L1959.5 940.2 L1959.7 935.0 L1959.9 949.1 L1960.1 948.9 L1960.3 950.4 L1960.5 944.7 L1960.7 937.7 L1961.0 944.7 L1961.2 952.2 L1961.4 950.2 L1961.6 956.9 L1961.8 955.2 L1962.0 954.1 L1962.2 955.0 L1962.5 961.5 L1962.7 952.9 L1962.9 936.9 L1963.1 938.1 L1963.3 943.6 L1963.5 938.1 L1963.7 934.7 L1963.9 934.8 L1964.1 933.3 L1964.4 929.9 L1964.6 924.6 L1964.8 919.8 L1965.0 924.1 L1965.2 925.3 L1965.4 929.0 L1965.6 930.3 L1965.9 937.4 L1966.1 934.3 L1966.3 936.9 L1966.5 934.7 L1966.7 941.6 L1966.9 942.5 L1967.2 940.8 L1967.4 945.9 L1967.6 952.4 L1967.8 945.4 L1968.0 946.8 L1968.2 950.6 L1968.5 960.9 L1968.7 965.7 L1968.9 964.5 L1969.1 963.0 L1969.3 963.7 L1969.5 961.0 L1969.8 961.4 L1970.0 961.8 L1970.2 953.6 L1970.4 955.2 L1970.6 959.6 L1970.8 962.0 L1971.0 958.5 L1971.3 947.3 L1971.5 946.1 L1971.7 951.4 L1971.9 947.7 L1972.1 946.6 L1972.3 942.9 L1972.5 946.7 L1972.8 944.5 L1973.0 938.6 L1973.2 944.7 L1973.4 939.1 L1973.6 937.9 L1973.8 939.7 L1974.1 937.0 L1974.3 939.5 L1974.5 934.4 L1974.7 933.1 L1974.9 933.3 L1975.1 927.1 L1975.3 934.3 L1975.5 931.6 L1975.8 928.7 L1976.0 924.4 L1976.2 931.3 L1976.4 934.9 L1976.6 932.8 L1976.8 931.9 L1977.0 928.2 L1977.2 931.1 L1977.5 930.6 L1977.7 925.7 L1977.9 927.4 L1978.1 937.8 L1978.3 931.7 L1978.5 928.4 L1978.7 930.2 L1979.0 937.9 L1979.2 932.0 L1979.4 933.1 L1979.6 939.3 L1979.8 936.2 L1980.0 939.0 L1980.3 944.3 L1980.5 948.8 L1980.7 947.0 L1980.9 952.2 L1981.1 945.6 L1981.3 945.2 L1981.6 949.7 L1981.8 953.3 L1982.0 947.0 L1982.2 950.1 L1982.4 954.9 L1982.6 954.1 L1982.9 950.3 L1983.1 964.5 L1983.3 964.2 L1983.5 961.7 L1983.7 958.9 L1983.9 956.1 L1984.1 953.0 L1984.4 952.6 L1984.6 951.9 L1984.8 950.7 L1985.0 957.0 L1985.2 959.3 L1985.4 955.1 L1985.6 956.9 L1985.9 954.0 L1986.1 958.0 L1986.3 959.4 L1986.5 959.7 L1986.7 961.6 L1986.9 968.3 L1987.1 965.6 L1987.4 963.5 L1987.6 964.6 L1987.8 966.1 L1988.0 968.4 L1988.2 971.5 L1988.4 966.2 L1988.6 963.8 L1988.9 971.6 L1989.1 966.0 L1989.3 970.3 L1989.5 971.3 L1989.7 972.6 L1989.9 970.8 L1990.1 973.4 L1990.4 970.1 L1990.6 971.4 L1990.8 972.7 L1991.0 976.1 L1991.2 970.8 L1991.4 971.0 L1991.6 970.0 L1991.9 966.8 L1992.1 964.6 L1992.3 966.2 L1992.5 970.2 L1992.7 965.3 L1992.9 967.7 L1993.1 964.1 L1993.3 958.4 L1993.6 965.1 L1993.8 954.8 L1994.0 957.6 L1994.2 958.2 L1994.4 959.2 L1994.6 956.5 L1994.8 957.6 L1995.0 956.8 L1995.3 959.2 L1995.5 959.7 L1995.7 954.1 L1995.9 960.3 L1996.1 958.6 L1996.3 965.4 L1996.6 954.8 L1996.8 954.2 L1997.0 963.2 L1997.2 963.6 L1997.4 957.2 L1997.6 962.0 L1997.9 965.3 L1998.1 963.9 L1998.3 968.7 L1998.5 964.2 L1998.7 966.9 L1998.9 966.3 L1999.1 970.7 L1999.4 972.3 L1999.6 973.0 L1999.8 971.9 L2000.0 968.9 L2000.2 975.0 L2000.4 966.9 L2000.7 965.9 L2000.9 967.7 L2001.1 963.5 L2001.3 960.3 L2001.5 971.3 L2001.7 969.3 L2002.0 969.4 L2002.2 964.0 L2002.4 968.4 L2002.6 960.9 L2002.8 954.4 L2003.0 954.5 L2003.2 952.5 L2003.4 949.1 L2003.7 953.8 L2003.9 957.4 L2004.1 956.5 L2004.3 952.8 L2004.5 953.2 L2004.7 954.9 L2004.9 952.8 L2005.1 950.6 L2005.4 952.7 L2005.6 945.0 L2005.8 941.8 L2006.0 947.3 L2006.2 946.0 L2006.4 944.3 L2006.6 947.4 L2006.9 937.8 L2007.1 940.2 L2007.3 944.0 L2007.5 942.7 L2007.7 944.0 L2007.9 943.6 L2008.1 935.6 L2008.4 933.0 L2008.6 933.7 L2008.8 931.9 L2009.0 933.7 L2009.2 932.7 L2009.4 933.5 L2009.6 928.5 L2009.9 934.7 L2010.1 943.7 L2010.3 938.3 L2010.5 947.1 L2010.7 954.2 L2011.0 954.7 L2011.2 955.7 L2011.4 955.4 L2011.6 964.2 L2011.8 961.0 L2012.0 974.6 L2012.3 973.5 L2012.5 969.4 L2012.7 980.5 L2012.9 982.0 L2013.1 982.4 L2013.3 995.3 L2013.5 998.8 L2013.8 999.8 L2014.0 998.7 L2014.2 998.8 L2014.4 997.3 L2014.6 997.7 L2014.8 997.6 L2015.1 1002.3 L2015.3 1002.9 L2015.5 996.8 L2015.7 1002.6 L2015.9 1000.3 L2016.1 996.8 L2016.3 1000.1 L2016.6 1004.4 L2016.8 1008.4 L2017.0 1001.0 L2017.2 1005.5 L2017.4 1003.6 L2017.6 1004.8 L2017.8 1007.1 L2018.1 1006.8 L2018.3 1008.7 L2018.5 1011.8 L2018.7 1010.8 L2018.9 1011.6 L2019.1 1009.2 L2019.3 1004.9 L2019.6 1006.2 L2019.8 1006.6 L2020.0 1007.4 L2020.2 1007.4 L2020.4 1007.9 L2020.7 1007.1 L2020.9 1008.9 L2021.1 1007.3 L2021.3 1011.3 L2021.5 1007.7 L2021.8 1010.7 L2022.0 1012.0 L2022.2 1011.5 L2022.4 1011.5 L2022.6 1006.0 L2022.9 1007.2 L2023.1 1011.3 L2023.3 1009.4 L2023.5 1014.4 L2023.7 1014.5 L2024.0 1014.1 L2024.2 1016.9 L2024.4 1020.1 L2024.6 1025.9 L2024.8 1027.7 L2025.1 1026.3 L2025.3 1029.5 L2025.5 1039.4 L2025.7 1031.9 L2026.0 1036.4 L2026.2 1038.3 L2026.4 1037.5 L2026.6 1043.9 L2026.8 1045.9 L2027.0 1046.1 L2027.3 1047.0 L2027.5 1049.6 L2027.7 1043.0 L2027.9 1044.3 L2028.1 1051.2 L2028.4 1048.8 L2028.6 1054.0 L2028.8 1046.0 L2029.0 1053.8 L2029.2 1058.2 L2029.4 1061.1 L2029.7 1070.0 L2029.9 1063.5 L2030.1 1061.6 L2030.3 1067.1 L2030.5 1061.3 L2030.7 1077.0 L2031.0 1076.7 L2031.2 1061.5 L2031.4 1087.5 L2031.6 1073.8 L2031.9 1071.5 L2032.1 1085.7 L2032.3 1088.4 L2032.5 1085.4 L2032.7 1078.5 L2033.0 1091.0 L2033.2 1096.0 L2033.4 1101.1 L2033.6 1103.5 L2033.9 1105.7 L2034.1 1109.0 L2034.3 1113.0 L2034.5 1125.2 L2034.8 1117.8 L2035.0 1131.4 L2035.2 1133.9 L2035.4 1137.6 L2035.7 1133.1 L2035.9 1126.4 L2036.1 1117.6 L2036.3 1127.6 L2036.5 1113.5 L2036.8 1116.4 L2037.0 1113.3 L2037.2 1101.4 L2037.4 1109.3 L2037.7 1100.4 L2037.9 1103.4 L2038.1 1086.4 L2038.3 1094.4 L2038.5 1096.0 L2038.8 1095.8 L2039.0 1107.9 L2039.2 1112.7 L2039.4 1118.4 L2039.7 1127.0 L2039.9 1124.9 L2040.1 1116.4 L2040.3 1141.6 L2040.5 1133.4 L2040.8 1134.6 L2041.0 1139.3 L2041.2 1138.7 L2041.4 1141.3 L2041.7 1134.9 L2041.9 1149.3 L2042.1 1156.8 L2042.3 1172.6 L2042.6 1175.3 L2042.8 1162.2 L2043.0 1171.4 L2043.2 1174.5 L2043.5 1176.0 L2043.7 1173.6 L2043.9 1182.5 L2044.1 1197.5 L2044.4 1211.1 L2044.6 1218.0 L2044.8 1219.3 L2045.1 1217.7 L2045.3 1214.0 L2045.5 1223.7 L2045.8 1209.3 L2046.0 1207.1 L2046.2 1208.4 L2046.4 1192.3 L2046.7 1182.4 L2046.9 1176.4 L2047.1 1181.4 L2047.3 1152.8 L2047.6 1163.5 L2047.8 1171.0 L2048.0 1153.7 L2048.2 1155.2 L2048.5 1146.3 L2048.7 1152.6 L2048.9 1151.9 L2049.1 1139.9 L2049.3 1130.8 L2049.5 1130.5 L2049.8 1135.4 L2050.0 1141.3 L2050.2 1137.7 L2050.4 1120.8 L2050.6 1125.2 L2050.8 1134.6 L2051.1 1136.9 L2051.3 1130.6 L2051.5 1124.2 L2051.7 1125.7 L2051.9 1131.3 L2052.1 1126.9 L2052.4 1130.2 L2052.6 1124.9 L2052.8 1118.6 L2053.0 1135.0 L2053.2 1140.6 L2053.4 1145.7 L2053.7 1143.4 L2053.9 1140.6 L2054.1 1140.2 L2054.3 1149.0 L2054.5 1147.1 L2054.7 1145.8 L2055.0 1162.9 L2055.2 1159.2 L2055.4 1161.2 L2055.6 1160.3 L2055.8 1161.1 L2056.0 1162.4 L2056.3 1170.2 L2056.5 1161.2 L2056.7 1175.9 L2056.9 1178.7 L2057.1 1165.8 L2057.3 1163.5 L2057.6 1159.9 L2057.8 1158.5 L2058.0 1150.9 L2058.2 1173.5 L2058.4 1169.7 L2058.6 1162.3 L2058.9 1161.0 L2059.1 1156.9 L2059.3 1153.4 L2059.5 1147.0 L2059.7 1139.0 L2060.0 1150.0 L2060.2 1138.5 L2060.4 1137.2 L2060.6 1132.5 L2060.8 1142.8 L2061.0 1139.3 L2061.3 1129.9 L2061.5 1123.3 L2061.7 1120.0 L2061.9 1115.3 L2062.1 1126.9 L2062.4 1122.6 L2062.6 1124.6 L2062.8 1124.7 L2063.0 1121.0 L2063.2 1121.3 L2063.5 1112.9 L2063.7 1114.5 L2063.9 1124.6 L2064.1 1129.0 L2064.3 1125.5 L2064.6 1126.0 L2064.8 1132.1 L2065.0 1130.5 L2065.2 1148.5 L2065.4 1144.8 L2065.6 1137.9 L2065.9 1136.2 L2066.1 1141.2 L2066.3 1139.8 L2066.5 1141.8 L2066.7 1152.7 L2067.0 1158.7 L2067.2 1153.4 L2067.4 1153.7 L2067.6 1144.7 L2067.8 1141.3 L2068.0 1150.0 L2068.3 1145.8 L2068.5 1139.5 L2068.7 1145.1 L2068.9 1143.0 L2069.1 1151.3 L2069.3 1135.6 L2069.6 1132.3 L2069.8 1131.6 L2070.0 1136.9 L2070.2 1139.6 L2070.4 1138.1 L2070.6 1136.8 L2070.9 1133.3 L2071.1 1134.6 L2071.3 1126.1 L2071.5 1129.0 L2071.7 1127.6 L2071.9 1140.0 L2072.2 1142.8 L2072.4 1143.9 L2072.6 1134.2 L2072.8 1135.6 L2073.0 1137.4 L2073.2 1142.5 L2073.5 1139.9 L2073.7 1133.8 L2073.9 1140.9 L2074.1 1134.4 L2074.3 1137.7 L2074.5 1135.5 L2074.8 1134.7 L2075.0 1131.3 L2075.2 1139.4 L2075.4 1144.9 L2075.6 1141.3 L2075.8 1150.1 L2076.1 1163.7 L2076.3 1158.0 L2076.5 1154.3 L2076.7 1149.9 L2076.9 1157.5 L2077.1 1148.0 L2077.4 1144.5 L2077.6 1154.7 L2077.8 1156.1 L2078.0 1160.8 L2078.2 1159.7 L2078.5 1154.3 L2078.7 1154.5 L2078.9 1165.4 L2079.1 1171.1 L2079.3 1173.5 L2079.5 1170.0 L2079.8 1172.2 L2080.0 1164.6 L2080.2 1167.3 L2080.4 1171.6 L2080.6 1163.7 L2080.8 1158.2 L2081.1 1159.4 L2081.3 1152.6 L2081.5 1152.6 L2081.7 1155.0 L2081.9 1155.2 L2082.1 1149.7 L2082.4 1143.0 L2082.6 1137.6 L2082.8 1134.4 L2083.0 1137.4 L2083.2 1145.3 L2083.4 1143.2 L2083.7 1139.9 L2083.9 1133.1 L2084.1 1137.3 L2084.3 1136.1 L2084.5 1140.5 L2084.7 1144.6 L2085.0 1149.3 L2085.2 1143.7 L2085.4 1146.0 L2085.6 1146.6 L2085.8 1140.6 L2086.0 1143.3 L2086.3 1151.4 L2086.5 1150.0 L2086.7 1142.3 L2086.9 1147.9 L2087.1 1152.3 L2087.3 1155.0 L2087.6 1154.1 L2087.8 1156.6 L2088.0 1157.8 L2088.2 1149.6 L2088.4 1153.6 L2088.6 1151.7 L2088.9 1161.5 L2089.1 1154.6 L2089.3 1149.9 L2089.5 1159.8 L2089.7 1157.4 L2089.9 1156.0 L2090.1 1153.1 L2090.4 1151.9 L2090.6 1155.3 L2090.8 1156.1 L2091.0 1149.5 L2091.2 1160.4 L2091.4 1159.2 L2091.6 1160.6 L2091.9 1154.4 L2092.1 1152.5 L2092.3 1147.0 L2092.5 1149.3 L2092.7 1152.2 L2092.9 1151.5 L2093.1 1145.6 L2093.4 1147.5 L2093.6 1147.0 L2093.8 1141.5 L2094.0 1141.1 L2094.2 1134.6 L2094.4 1140.1 L2094.6 1135.6 L2094.8 1139.2 L2095.0 1138.1 L2095.3 1136.1 L2095.5 1136.4 L2095.7 1135.9 L2095.9 1137.7 L2096.1 1135.4 L2096.3 1140.1 L2096.5 1140.6 L2096.7 1131.9 L2097.0 1129.5 L2097.2 1128.4 L2097.4 1129.0 L2097.6 1138.9 L2097.8 1132.6 L2098.0 1130.6 L2098.2 1132.9 L2098.4 1138.3 L2098.7 1138.8 L2098.9 1134.5 L2099.1 1131.0 L2099.3 1131.4 L2099.5 1130.9 L2099.7 1130.2 L2099.9 1134.6 L2100.1 1131.8 L2100.4 1133.1 L2100.6 1138.2 L2100.8 1142.5 L2101.0 1140.8 L2101.2 1138.8 L2101.4 1147.5 L2101.6 1142.5 L2101.9 1142.5 L2102.1 1145.9 L2102.3 1146.3 L2102.5 1146.3 L2102.7 1154.0 L2102.9 1151.9 L2103.1 1149.0 L2103.4 1149.3 L2103.6 1155.5 L2103.8 1156.1 L2104.0 1156.6 L2104.2 1161.3 L2104.4 1159.5 L2104.6 1163.9 L2104.9 1164.4 L2105.1 1156.9 L2105.3 1158.4 L2105.5 1162.2 L2105.7 1164.0 L2105.9 1163.4 L2106.1 1157.9 L2106.4 1163.0 L2106.6 1162.7 L2106.8 1166.6 L2107.0 1157.4 L2107.2 1158.7 L2107.4 1155.2 L2107.6 1153.7 L2107.8 1152.3 L2108.1 1151.8 L2108.3 1149.9 L2108.5 1151.4 L2108.7 1151.8 L2108.9 1153.4 L2109.1 1155.1 L2109.3 1150.1 L2109.6 1149.7 L2109.8 1147.0 L2110.0 1152.5 L2110.2 1146.9 L2110.4 1147.0 L2110.6 1145.3 L2110.8 1150.8 L2111.1 1145.0 L2111.3 1142.4 L2111.5 1147.5 L2111.7 1150.2 L2111.9 1145.6 L2112.1 1143.3 L2112.3 1148.2 L2112.6 1145.8 L2112.8 1148.8 L2113.0 1148.8 L2113.2 1146.7 L2113.4 1145.2 L2113.6 1151.6 L2113.8 1153.2 L2114.1 1153.1 L2114.3 1145.0 L2114.5 1153.3 L2114.7 1153.6 L2114.9 1158.0 L2115.1 1155.6 L2115.3 1152.1 L2115.6 1149.5 L2115.8 1152.2 L2116.0 1159.6 L2116.2 1158.8 L2116.4 1165.6 L2116.6 1159.3 L2116.8 1161.9 L2117.1 1164.1 L2117.3 1162.6 L2117.5 1160.2 L2117.7 1163.2 L2117.9 1166.2 L2118.1 1167.8 L2118.3 1161.3 L2118.6 1161.8 L2118.8 1159.8 L2119.0 1160.0 L2119.2 1172.4 L2119.4 1175.5 L2119.6 1174.2 L2119.8 1171.0 L2120.1 1174.3 L2120.3 1180.1 L2120.5 1181.6 L2120.7 1181.7 L2120.9 1174.3 L2121.1 1185.3 L2121.3 1183.5 L2121.6 1184.5 L2121.8 1182.7 L2122.0 1183.1 L2122.2 1180.5 L2122.4 1178.7 L2122.6 1179.9 L2122.8 1178.4 L2123.1 1178.9 L2123.3 1180.2 L2123.5 1178.6 L2123.7 1172.0 L2123.9 1180.2 L2124.1 1180.5 L2124.3 1182.5 L2124.5 1179.8 L2124.8 1177.6 L2125.0 1170.6 L2125.2 1167.7 L2125.4 1165.1 L2125.6 1175.6 L2125.8 1173.3 L2126.0 1180.8 L2126.3 1177.6 L2126.5 1172.2 L2126.7 1171.7 L2126.9 1166.7 L2127.1 1167.1 L2127.3 1169.3 L2127.5 1170.1 L2127.8 1166.7 L2128.0 1166.0 L2128.2 1164.2 L2128.4 1163.6 L2128.6 1158.6 L2128.8 1160.0 L2129.0 1164.5 L2129.3 1162.6 L2129.5 1156.6 L2129.7 1156.5 L2129.9 1160.5 L2130.1 1160.4 L2130.4 1160.2 L2130.6 1161.1 L2130.8 1155.1 L2131.0 1160.7 L2131.2 1157.6 L2131.4 1159.9 L2131.7 1157.5 L2131.9 1159.2 L2132.1 1157.8 L2132.3 1158.7 L2132.5 1155.4 L2132.7 1161.9 L2133.0 1154.1 L2133.2 1157.6 L2133.4 1153.7 L2133.6 1151.5 L2133.8 1150.7 L2134.1 1150.3 L2134.3 1145.8 L2134.5 1146.6 L2134.7 1144.2 L2134.9 1144.6 L2135.2 1142.8 L2135.4 1133.1 L2135.6 1136.1 L2135.8 1137.1 L2136.0 1133.8 L2136.3 1128.7 L2136.5 1122.4 L2136.7 1123.3 L2136.9 1123.8 L2137.1 1120.6 L2137.3 1112.6 L2137.6 1112.4 L2137.8 1116.3 L2138.0 1109.1 L2138.2 1111.9 L2138.4 1108.6 L2138.6 1106.8 L2138.9 1109.8 L2139.1 1109.1 L2139.3 1106.0 L2139.5 1100.1 L2139.7 1094.5 L2139.9 1095.1 L2140.2 1099.3 L2140.4 1101.0 L2140.6 1101.4 L2140.8 1100.0 L2141.0 1095.3 L2141.3 1091.6 L2141.5 1090.4 L2141.7 1089.4 L2141.9 1089.7 L2142.1 1091.1 L2142.4 1091.0 L2142.6 1090.1 L2142.8 1091.9 L2143.0 1089.4 L2143.2 1089.6 L2143.5 1094.0 L2143.7 1097.0 L2143.9 1096.4 L2144.1 1093.8 L2144.3 1098.3 L2144.5 1096.6 L2144.8 1101.5 L2145.0 1106.5 L2145.2 1102.7 L2145.4 1108.8 L2145.6 1109.1 L2145.8 1119.1 L2146.1 1107.4 L2146.3 1107.2 L2146.5 1115.7 L2146.7 1112.1 L2146.9 1116.6 L2147.1 1114.9 L2147.4 1120.7 L2147.6 1124.5 L2147.8 1126.1 L2148.0 1122.9 L2148.2 1122.9 L2148.4 1120.8 L2148.7 1127.2 L2148.9 1122.0 L2149.1 1137.3 L2149.3 1133.5 L2149.5 1138.9 L2149.7 1134.4 L2150.0 1142.8 L2150.2 1140.1 L2150.4 1144.4 L2150.6 1146.1 L2150.8 1146.7 L2151.0 1145.4 L2151.3 1141.9 L2151.5 1139.1 L2151.7 1137.5 L2151.9 1137.3 L2152.2 1133.6 L2152.4 1135.9 L2152.6 1135.9 L2152.8 1131.1 L2153.0 1133.6 L2153.3 1129.2 L2153.5 1127.2 L2153.7 1128.7 L2153.9 1129.0 L2154.1 1131.6 L2154.4 1132.4 L2154.6 1127.5 L2154.8 1133.4 L2155.0 1133.7 L2155.2 1135.8 L2155.4 1139.7 L2155.7 1130.2 L2155.9 1136.6 L2156.1 1137.5 L2156.3 1142.9 L2156.5 1142.1 L2156.7 1150.4 L2157.0 1150.0 L2157.2 1144.6 L2157.4 1141.2 L2157.6 1146.2 L2157.8 1148.2 L2158.0 1149.6 L2158.3 1150.8 L2158.5 1151.7 L2158.7 1151.6 L2158.9 1150.7 L2159.1 1150.7 L2159.3 1151.8 L2159.5 1151.5 L2159.8 1147.9 L2160.0 1148.0 L2160.2 1148.7 L2160.4 1150.7 L2160.6 1148.4 L2160.8 1150.6 L2161.0 1147.3 L2161.2 1147.9 L2161.5 1148.8 L2161.7 1147.9 L2161.9 1150.8 L2162.1 1151.7 L2162.3 1150.3 L2162.5 1151.1 L2162.7 1150.7 L2162.9 1151.6 L2163.2 1150.3 L2163.4 1148.6 L2163.6 1147.4 L2163.8 1150.6 L2164.0 1150.9 L2164.2 1149.6 L2164.4 1138.9 L2164.7 1144.2 L2164.9 1132.2 L2165.1 1136.7 L2165.3 1149.1 L2165.5 1147.9 L2165.7 1147.2 L2165.9 1137.3 L2166.2 1139.9 L2166.4 1138.7 L2166.6 1132.8 L2166.8 1131.1 L2167.0 1136.4 L2167.2 1137.9 L2167.5 1138.5 L2167.7 1130.2 L2167.9 1131.6 L2168.1 1136.9 L2168.3 1134.8 L2168.5 1137.7 L2168.7 1138.3 L2169.0 1127.6 L2169.2 1133.1 L2169.4 1127.5 L2169.6 1121.8 L2169.8 1132.8 L2170.1 1131.9 L2170.3 1129.4 L2170.5 1116.9 L2170.7 1114.3 L2171.0 1107.8 L2171.2 1108.8 L2171.4 1114.7 L2171.6 1108.3 L2171.9 1113.5 L2172.1 1110.1 L2172.3 1122.5 L2172.5 1126.8 L2172.8 1136.4 L2173.0 1136.7 L2173.2 1132.7 L2173.4 1137.3 L2173.6 1137.6 L2173.9 1132.4 L2174.1 1146.9 L2174.3 1147.4 L2174.5 1153.7 L2174.8 1149.6 L2175.0 1144.3 L2175.2 1139.7 L2175.4 1143.0 L2175.6 1138.8 L2175.9 1139.9 L2176.1 1135.6 L2176.3 1129.4 L2176.5 1128.9 L2176.7 1119.5 L2177.0 1120.6 L2177.2 1117.8 L2177.4 1110.4 L2177.6 1111.8 L2177.8 1111.9 L2178.1 1108.3 L2178.3 1110.7 L2178.5 1118.8 L2178.7 1116.2 L2178.9 1121.4 L2179.2 1111.8 L2179.4 1112.0 L2179.6 1115.8 L2179.8 1127.6 L2180.0 1130.0 L2180.2 1137.4 L2180.5 1126.0 L2180.7 1129.6 L2180.9 1132.1 L2181.1 1130.4 L2181.3 1134.9 L2181.5 1133.1 L2181.8 1139.5 L2182.0 1132.6 L2182.2 1134.8 L2182.4 1131.2 L2182.6 1136.5 L2182.8 1132.9 L2183.1 1137.1 L2183.3 1138.0 L2183.5 1138.9 L2183.7 1136.3 L2183.9 1132.4 L2184.1 1131.2 L2184.4 1135.1 L2184.6 1133.4 L2184.8 1132.1 L2185.0 1134.8 L2185.2 1131.3 L2185.4 1130.5 L2185.7 1137.2 L2185.9 1136.9 L2186.1 1144.6 L2186.3 1134.8 L2186.5 1133.8 L2186.7 1136.0 L2186.9 1134.5 L2187.2 1142.7 L2187.4 1138.4 L2187.6 1145.9 L2187.8 1150.1 L2188.0 1146.3 L2188.2 1140.8 L2188.4 1147.6 L2188.7 1143.9 L2188.9 1138.9 L2189.1 1141.4 L2189.3 1148.9 L2189.5 1143.6 L2189.7 1144.3 L2189.9 1149.9 L2190.2 1148.1 L2190.4 1152.9 L2190.6 1151.9 L2190.8 1149.6 L2191.0 1149.6 L2191.2 1152.0 L2191.4 1146.5 L2191.7 1145.4 L2191.9 1153.3 L2192.1 1158.0 L2192.3 1158.6 L2192.5 1164.6 L2192.7 1165.7 L2193.0 1165.7 L2193.2 1163.7 L2193.4 1162.9 L2193.6 1168.9 L2193.8 1167.3 L2194.1 1162.9 L2194.3 1163.0 L2194.5 1159.5 L2194.7 1163.2 L2194.9 1165.8 L2195.1 1170.2 L2195.4 1172.9 L2195.6 1177.8 L2195.8 1185.2 L2196.0 1181.6 L2196.2 1169.5 L2196.4 1171.0 L2196.7 1170.5 L2196.9 1177.9 L2197.1 1189.5 L2197.3 1186.9 L2197.5 1181.6 L2197.7 1188.9 L2198.0 1188.7 L2198.2 1182.3 L2198.4 1180.8 L2198.6 1193.4 L2198.8 1195.0 L2199.0 1182.0 L2199.3 1190.8 L2199.5 1191.1 L2199.7 1198.3 L2199.9 1205.8 L2200.1 1205.4 L2200.4 1208.4 L2200.6 1204.8 L2200.8 1201.8 L2201.0 1206.0 L2201.3 1201.5 L2201.5 1208.8 L2201.7 1217.1 L2201.9 1219.0 L2202.1 1215.5 L2202.4 1208.4 L2202.6 1214.2 L2202.8 1226.3 L2203.1 1235.3 L2203.3 1242.2 L2203.5 1250.9 L2203.7 1262.9 L2204.0 1269.5 L2204.2 1273.2 L2204.4 1273.3 L2204.7 1282.8 L2204.9 1302.4 L2205.1 1297.4 L2205.3 1299.8 L2205.6 1295.7 L2205.8 1297.1 L2206.0 1298.9 L2206.3 1310.3 L2206.5 1313.3 L2206.7 1304.4 L2206.9 1320.4 L2207.2 1330.2 L2207.4 1329.8 L2207.6 1327.8 L2207.8 1317.7 L2208.1 1337.7 L2208.3 1338.5 L2208.5 1331.9 L2208.7 1343.2 L2209.0 1346.9 L2209.2 1348.6 L2209.4 1353.1 L2209.7 1370.5 L2209.9 1384.5 L2210.1 1404.7 L2210.4 1405.0 L2210.6 1391.9 L2210.8 1379.5 L2211.1 1378.5 L2211.3 1364.1 L2211.5 1385.5 L2211.7 1371.1 L2212.0 1366.6 L2212.2 1365.7 L2212.4 1355.4 L2212.6 1350.9 L2212.9 1351.5 L2213.1 1353.3 L2213.3 1362.0 L2213.5 1368.2 L2213.7 1376.3 L2214.0 1385.5 L2214.2 1403.0 L2214.4 1395.9 L2214.6 1404.3 L2214.9 1412.8 L2215.1 1408.0 L2215.3 1422.9 L2215.5 1419.3 L2215.7 1429.8 L2216.0 1428.8 L2216.2 1417.1 L2216.4 1408.1 L2216.6 1408.3 L2216.8 1384.7 L2217.1 1385.9 L2217.3 1375.9 L2217.5 1375.9 L2217.7 1375.1 L2218.0 1368.8 L2218.2 1362.5 L2218.4 1363.7 L2218.6 1355.6 L2218.8 1362.5 L2219.1 1374.2 L2219.3 1375.6 L2219.5 1368.5 L2219.7 1369.1 L2220.0 1389.3 L2220.2 1366.4 L2220.4 1376.1 L2220.6 1390.3 L2220.9 1407.8 L2221.1 1400.9 L2221.3 1400.2 L2221.5 1398.1 L2221.8 1400.0 L2222.0 1399.6 L2222.2 1400.1 L2222.4 1407.0 L2222.6 1406.5 L2222.9 1407.7 L2223.1 1402.2 L2223.3 1399.5 L2223.5 1405.0 L2223.8 1407.5 L2224.0 1405.0 L2224.2 1418.0 L2224.4 1423.1 L2224.7 1413.7 L2224.9 1430.6 L2225.1 1427.7 L2225.4 1426.7 L2225.6 1427.5 L2225.8 1419.3 L2226.0 1425.7 L2226.3 1428.7 L2226.5 1429.3 L2226.7 1428.6 L2226.9 1423.9 L2227.1 1424.2 L2227.4 1427.2 L2227.6 1422.4 L2227.8 1420.4 L2228.0 1414.4 L2228.2 1424.6 L2228.5 1420.5 L2228.7 1414.1 L2228.9 1415.7 L2229.1 1416.5 L2229.3 1417.4 L2229.6 1423.4 L2229.8 1433.6 L2230.0 1445.5 L2230.3 1443.9 L2230.5 1457.9 L2230.8 1456.6 L2231.0 1475.1 L2231.2 1467.7 L2231.4 1479.5 L2231.7 1485.1 L2231.9 1502.0 L2232.1 1507.8 L2232.4 1512.3 L2232.6 1518.7 L2232.8 1531.5 L2233.0 1532.0 L2233.3 1539.6 L2233.5 1513.0 L2233.7 1517.0 L2234.0 1506.7 L2234.2 1501.6 L2234.4 1487.9 L2234.6 1483.7 L2234.9 1471.9 L2235.1 1475.1 L2235.3 1471.2 L2235.6 1465.0 L2235.8 1465.9 L2236.0 1461.4 L2236.2 1445.6 L2236.5 1457.1 L2236.7 1463.9 L2236.9 1458.5 L2237.1 1460.4 L2237.4 1452.8 L2237.6 1446.3 L2237.8 1445.7 L2238.0 1437.4 L2238.2 1442.8 L2238.5 1438.8 L2238.7 1429.4 L2238.9 1423.5 L2239.1 1422.4 L2239.4 1432.7 L2239.6 1425.6 L2239.8 1433.8 L2240.0 1437.4 L2240.2 1424.3 L2240.5 1417.4 L2240.7 1431.1 L2240.9 1434.4 L2241.1 1436.3 L2241.4 1425.5 L2241.6 1435.2 L2241.8 1429.4 L2242.0 1426.2 L2242.2 1431.6 L2242.5 1435.9 L2242.7 1436.4 L2242.9 1434.5 L2243.1 1439.1 L2243.3 1438.0 L2243.6 1436.6 L2243.8 1427.6 L2244.0 1417.0 L2244.2 1417.9 L2244.5 1423.1 L2244.7 1409.7 L2244.9 1401.5 L2245.1 1414.0 L2245.4 1403.9 L2245.6 1395.7 L2245.8 1388.6 L2246.0 1386.7 L2246.3 1388.7 L2246.5 1388.2 L2246.7 1393.4 L2246.9 1396.8 L2247.2 1399.0 L2247.4 1415.2 L2247.6 1406.1 L2247.8 1409.0 L2248.0 1415.4 L2248.3 1417.2 L2248.5 1420.0 L2248.7 1425.7 L2248.9 1431.8 L2249.1 1435.6 L2249.4 1443.4 L2249.6 1436.1 L2249.8 1434.2 L2250.0 1425.2 L2250.2 1435.8 L2250.4 1440.3 L2250.7 1441.7 L2250.9 1429.4 L2251.1 1432.2 L2251.3 1439.7 L2251.5 1444.1 L2251.7 1439.8 L2252.0 1438.9 L2252.2 1433.2 L2252.4 1436.6 L2252.6 1442.8 L2252.8 1440.1 L2253.0 1440.7 L2253.3 1436.0 L2253.5 1431.9 L2253.7 1429.8 L2253.9 1427.2 L2254.1 1425.9 L2254.3 1433.8 L2254.6 1432.8 L2254.8 1423.0 L2255.0 1422.1 L2255.2 1426.3 L2255.4 1422.9 L2255.6 1413.2 L2255.9 1413.5 L2256.1 1418.5 L2256.3 1418.1 L2256.5 1415.5 L2256.7 1414.1 L2256.9 1413.3 L2257.2 1416.6 L2257.4 1413.9 L2257.6 1403.7 L2257.8 1406.5 L2258.0 1407.6 L2258.2 1411.4 L2258.5 1411.0 L2258.7 1409.5 L2258.9 1403.6 L2259.1 1406.6 L2259.3 1401.5 L2259.5 1401.7 L2259.8 1400.3 L2260.0 1398.6 L2260.2 1399.3 L2260.4 1404.3 L2260.6 1400.8 L2260.9 1401.4 L2261.1 1403.0 L2261.3 1401.1 L2261.5 1402.8 L2261.7 1403.4 L2261.9 1406.2 L2262.2 1400.0 L2262.4 1399.6 L2262.6 1400.4 L2262.8 1393.8 L2263.0 1399.0 L2263.2 1398.0 L2263.5 1399.2 L2263.7 1398.8 L2263.9 1396.9 L2264.1 1402.2 L2264.3 1396.8 L2264.5 1395.0 L2264.8 1394.0 L2265.0 1389.8 L2265.2 1392.7 L2265.4 1393.6 L2265.6 1394.2 L2265.8 1394.7 L2266.0 1395.6 L2266.3 1388.3 L2266.5 1386.4 L2266.7 1392.6 L2266.9 1395.7 L2267.1 1394.6 L2267.3 1394.7 L2267.5 1394.0 L2267.8 1393.2 L2268.0 1393.6 L2268.2 1390.4 L2268.4 1386.9 L2268.6 1389.0 L2268.8 1386.1 L2269.0 1390.4 L2269.3 1394.2 L2269.5 1395.7 L2269.7 1392.0 L2269.9 1392.1 L2270.1 1393.9 L2270.3 1390.0 L2270.5 1388.6 L2270.8 1390.5 L2271.0 1394.4 L2271.2 1389.0 L2271.4 1392.3 L2271.6 1395.3 L2271.8 1393.9 L2272.1 1400.6 L2272.3 1398.1 L2272.5 1397.9 L2272.7 1395.9 L2272.9 1394.2 L2273.1 1394.4 L2273.3 1399.5 L2273.6 1393.8 L2273.8 1392.5 L2274.0 1394.8 L2274.2 1397.3 L2274.4 1396.2 L2274.6 1395.9 L2274.8 1398.1 L2275.1 1394.2 L2275.3 1399.5 L2275.5 1396.8 L2275.7 1397.9 L2275.9 1397.4 L2276.1 1402.9 L2276.4 1400.8 L2276.6 1398.5 L2276.8 1399.5 L2277.0 1401.7 L2277.2 1409.3 L2277.4 1410.8 L2277.7 1405.5 L2277.9 1403.3 L2278.1 1408.2 L2278.3 1404.6 L2278.5 1412.5 L2278.7 1411.9 L2279.0 1409.8 L2279.2 1408.6 L2279.4 1409.8 L2279.6 1413.3 L2279.8 1411.7 L2280.0 1418.3 L2280.3 1410.7 L2280.5 1417.3 L2280.7 1418.7 L2280.9 1414.2 L2281.1 1421.1 L2281.3 1427.1 L2281.6 1419.3 L2281.8 1423.0 L2282.0 1430.0 L2282.2 1430.0 L2282.4 1429.8 L2282.6 1434.6 L2282.9 1426.8 L2283.1 1431.3 L2283.3 1429.5 L2283.5 1430.7 L2283.7 1433.9 L2283.9 1438.2 L2284.2 1439.2 L2284.4 1437.4 L2284.6 1438.1 L2284.8 1432.6 L2285.0 1438.5 L2285.2 1434.0 L2285.5 1431.3 L2285.7 1437.1 L2285.9 1434.0 L2286.1 1440.1 L2286.3 1430.7 L2286.5 1439.1 L2286.7 1439.2 L2287.0 1438.7 L2287.2 1434.3 L2287.4 1438.0 L2287.6 1433.4 L2287.8 1435.4 L2288.0 1442.5 L2288.2 1442.1 L2288.5 1436.6 L2288.7 1440.1 L2288.9 1439.3 L2289.1 1442.7 L2289.3 1441.8 L2289.6 1447.7 L2289.8 1458.9 L2290.0 1464.5 L2290.2 1465.2 L2290.4 1462.1 L2290.7 1464.9 L2290.9 1475.2 L2291.1 1475.3 L2291.3 1479.2 L2291.5 1481.7 L2291.8 1487.5 L2292.0 1489.5 L2292.2 1490.5 L2292.4 1481.6 L2292.6 1485.5 L2292.9 1485.1 L2293.1 1476.5 L2293.3 1475.9 L2293.5 1480.0 L2293.7 1474.4 L2294.0 1473.3 L2294.2 1472.3 L2294.4 1462.7 L2294.6 1461.9 L2294.8 1463.5 L2295.1 1472.0 L2295.3 1466.9 L2295.5 1470.0 L2295.7 1471.0 L2295.9 1475.3 L2296.1 1478.5 L2296.3 1477.5 L2296.6 1476.6 L2296.8 1468.9 L2297.0 1470.4 L2297.2 1467.6 L2297.4 1464.2 L2297.6 1467.6 L2297.9 1466.2 L2298.1 1467.3 L2298.3 1469.6 L2298.5 1471.7 L2298.7 1467.3 L2298.9 1463.2 L2299.1 1466.3 L2299.4 1469.7 L2299.6 1470.6 L2299.8 1467.4 L2300.0 1472.2 L2300.2 1475.1 L2300.4 1479.8 L2300.6 1475.6 L2300.9 1476.5 L2301.1 1474.5 L2301.3 1472.3 L2301.5 1480.7 L2301.7 1474.3 L2301.9 1473.9 L2302.2 1474.4 L2302.4 1474.8 L2302.6 1476.7 L2302.8 1472.7 L2303.0 1473.0 L2303.2 1472.1 L2303.4 1478.5 L2303.7 1475.5 L2303.9 1476.3 L2304.1 1474.2 L2304.3 1476.3 L2304.5 1474.8 L2304.7 1480.4 L2304.9 1479.5 L2305.2 1479.2 L2305.4 1480.0 L2305.6 1476.7 L2305.8 1473.3 L2306.0 1472.7 L2306.2 1479.8 L2306.5 1475.9 L2306.7 1476.2 L2306.9 1468.1 L2307.1 1471.5 L2307.3 1463.2 L2307.5 1468.2 L2307.8 1464.2 L2308.0 1472.1 L2308.2 1469.2 L2308.4 1463.7 L2308.6 1471.0 L2308.8 1467.9 L2309.1 1463.2 L2309.3 1466.9 L2309.5 1464.7 L2309.7 1469.3 L2309.9 1465.9 L2310.1 1461.6 L2310.4 1456.8 L2310.6 1457.3 L2310.8 1453.4 L2311.0 1452.4 L2311.2 1453.6 L2311.4 1453.5 L2311.6 1454.9 L2311.9 1447.6 L2312.1 1449.2 L2312.3 1448.4 L2312.5 1449.5 L2312.7 1456.5 L2312.9 1452.4 L2313.1 1448.7 L2313.4 1442.4 L2313.6 1440.8 L2313.8 1430.3 L2314.0 1433.8 L2314.2 1432.3 L2314.4 1431.6 L2314.6 1429.8 L2314.9 1429.5 L2315.1 1439.9 L2315.3 1442.9 L2315.5 1446.5 L2315.7 1453.4 L2316.0 1452.2 L2316.2 1447.3 L2316.4 1450.8 L2316.6 1450.6 L2316.9 1449.9 L2317.1 1455.8 L2317.3 1460.3 L2317.5 1458.6 L2317.7 1450.2 L2318.0 1459.8 L2318.2 1453.5 L2318.4 1451.4 L2318.6 1449.3 L2318.8 1451.9 L2319.0 1446.2 L2319.3 1447.0 L2319.5 1434.5 L2319.7 1433.5 L2319.9 1438.8 L2320.1 1430.9 L2320.3 1444.6 L2320.6 1428.7 L2320.8 1432.2 L2321.0 1435.2 L2321.2 1436.3 L2321.4 1433.1 L2321.6 1429.8 L2321.9 1429.1 L2322.1 1432.0 L2322.3 1433.7 L2322.5 1430.0 L2322.7 1428.5 L2322.9 1420.3 L2323.2 1413.0 L2323.4 1421.6 L2323.6 1427.0 L2323.8 1428.1 L2324.0 1433.9 L2324.2 1432.1 L2324.5 1431.4 L2324.7 1432.4 L2324.9 1427.0 L2325.1 1416.3 L2325.3 1417.5 L2325.5 1422.6 L2325.8 1417.4 L2326.0 1415.7 L2326.2 1415.1 L2326.4 1414.5 L2326.6 1408.8 L2326.9 1408.7 L2327.1 1398.5 L2327.3 1400.9 L2327.5 1390.9 L2327.7 1394.3 L2328.0 1396.0 L2328.2 1388.3 L2328.4 1374.1 L2328.6 1375.6 L2328.8 1368.5 L2329.1 1370.0 L2329.3 1370.3 L2329.5 1369.8 L2329.7 1375.6 L2329.9 1377.0 L2330.1 1381.8 L2330.4 1382.7 L2330.6 1380.0 L2330.8 1377.9 L2331.0 1377.5 L2331.2 1380.5 L2331.4 1390.5 L2331.7 1388.0 L2331.9 1382.9 L2332.1 1381.5 L2332.3 1381.6 L2332.5 1389.2 L2332.7 1379.9 L2333.0 1387.2 L2333.2 1388.6 L2333.4 1385.5 L2333.6 1390.6 L2333.8 1389.2 L2334.1 1385.4 L2334.3 1387.1 L2334.5 1378.0 L2334.7 1385.5 L2334.9 1382.5 L2335.1 1391.6 L2335.4 1389.8 L2335.6 1391.6 L2335.8 1382.0 L2336.0 1376.7 L2336.2 1380.2 L2336.4 1382.0 L2336.7 1387.7 L2336.9 1387.6 L2337.1 1383.8 L2337.3 1380.3 L2337.5 1384.4 L2337.7 1385.3 L2338.0 1377.0 L2338.2 1378.6 L2338.4 1387.0 L2338.6 1393.7 L2338.8 1395.9 L2339.0 1391.6 L2339.3 1391.5 L2339.5 1394.7 L2339.7 1399.8 L2339.9 1402.4 L2340.1 1399.4 L2340.3 1400.0 L2340.6 1407.6 L2340.8 1401.2 L2341.0 1399.8 L2341.2 1400.2 L2341.4 1405.0 L2341.6 1405.7 L2341.9 1407.8 L2342.1 1403.3 L2342.3 1405.4 L2342.5 1406.9 L2342.7 1411.4 L2342.9 1410.1 L2343.1 1405.2 L2343.3 1412.3 L2343.6 1415.9 L2343.8 1411.7 L2344.0 1411.8 L2344.2 1411.2 L2344.4 1415.9 L2344.6 1411.6 L2344.8 1414.5 L2345.0 1419.6 L2345.3 1425.3 L2345.5 1425.4 L2345.7 1427.5 L2345.9 1425.7 L2346.1 1420.2 L2346.3 1419.5 L2346.5 1419.8 L2346.8 1423.0 L2347.0 1425.7 L2347.2 1431.5 L2347.4 1431.9 L2347.6 1429.8 L2347.8 1423.9 L2348.0 1435.3 L2348.3 1427.5 L2348.5 1424.8 L2348.7 1423.6 L2348.9 1428.1 L2349.1 1424.1 L2349.3 1434.1 L2349.6 1431.7 L2349.8 1433.8 L2350.0 1439.8 L2350.2 1447.3 L2350.4 1444.4 L2350.6 1445.6 L2350.9 1439.0 L2351.1 1451.0 L2351.3 1450.0 L2351.5 1452.7 L2351.7 1454.5 L2351.9 1451.4 L2352.2 1452.3 L2352.4 1452.9 L2352.6 1450.6 L2352.8 1458.9 L2353.1 1461.7 L2353.3 1462.4 L2353.5 1460.0 L2353.7 1461.1 L2353.9 1462.4 L2354.2 1464.6 L2354.4 1469.8 L2354.6 1471.0 L2354.8 1466.8 L2355.0 1460.8 L2355.3 1463.1 L2355.5 1459.5 L2355.7 1461.6 L2355.9 1458.9 L2356.1 1456.3 L2356.3 1458.7 L2356.6 1454.8 L2356.8 1463.8 L2357.0 1462.7 L2357.2 1452.7 L2357.4 1457.8 L2357.6 1457.0 L2357.9 1453.6 L2358.1 1448.5 L2358.3 1450.1 L2358.5 1445.3 L2358.7 1450.4 L2359.0 1450.5 L2359.2 1446.9 L2359.4 1443.0 L2359.6 1444.0 L2359.8 1436.8 L2360.1 1432.9 L2360.3 1429.0 L2360.5 1439.8 L2360.7 1436.4 L2360.9 1432.7 L2361.1 1432.6 L2361.4 1434.7 L2361.6 1426.6 L2361.8 1421.1 L2362.0 1421.5 L2362.2 1418.7 L2362.5 1422.6 L2362.7 1420.8 L2362.9 1416.5 L2363.1 1415.7 L2363.3 1416.4 L2363.5 1421.0 L2363.7 1416.1 L2364.0 1412.8 L2364.2 1412.5 L2364.4 1416.8 L2364.6 1415.1 L2364.8 1417.8 L2365.0 1418.8 L2365.3 1416.1 L2365.5 1418.6 L2365.7 1422.7 L2365.9 1424.5 L2366.1 1424.9 L2366.3 1412.4 L2366.5 1411.7 L2366.8 1412.5 L2367.0 1413.3 L2367.2 1405.0 L2367.4 1403.7 L2367.6 1411.5 L2367.8 1408.9 L2368.0 1414.4 L2368.3 1410.2 L2368.5 1405.8 L2368.7 1408.7 L2368.9 1409.4 L2369.1 1405.6 L2369.3 1401.5 L2369.5 1401.3 L2369.8 1398.2 L2370.0 1405.3 L2370.2 1398.0 L2370.4 1396.9 L2370.6 1396.8 L2370.8 1394.7 L2371.0 1397.1 L2371.3 1400.1 L2371.5 1399.9 L2371.7 1397.4 L2371.9 1392.0 L2372.1 1386.7 L2372.3 1392.7 L2372.5 1391.8 L2372.8 1398.3 L2373.0 1399.8 L2373.2 1394.9 L2373.4 1393.6 L2373.6 1401.7 L2373.8 1400.7 L2374.1 1404.2 L2374.3 1396.8 L2374.5 1391.4 L2374.7 1402.8 L2374.9 1408.1 L2375.1 1403.2 L2375.4 1404.0 L2375.6 1406.1 L2375.8 1408.7 L2376.0 1406.8 L2376.2 1405.5 L2376.5 1405.0 L2376.7 1406.3 L2376.9 1406.1 L2377.1 1405.1 L2377.3 1405.6 L2377.5 1407.8 L2377.7 1399.9 L2378.0 1394.7 L2378.2 1392.9 L2378.4 1390.9 L2378.6 1385.3 L2378.8 1380.8 L2379.0 1380.0 L2379.2 1381.7 L2379.5 1382.9 L2379.7 1367.3 L2379.9 1366.7 L2380.1 1370.6 L2380.3 1368.1 L2380.5 1369.6 L2380.7 1363.8 L2381.0 1364.8 L2381.2 1366.3 L2381.4 1366.2 L2381.6 1362.1 L2381.8 1361.8 L2382.0 1363.7 L2382.2 1367.0 L2382.5 1370.9 L2382.7 1360.2 L2382.9 1357.7 L2383.1 1361.4 L2383.3 1363.9 L2383.5 1360.9 L2383.8 1363.4 L2384.0 1360.3 L2384.2 1367.0 L2384.4 1372.0 L2384.6 1366.3 L2384.8 1366.3 L2385.1 1360.5 L2385.3 1372.0 L2385.5 1376.2 L2385.7 1375.2 L2385.9 1372.1 L2386.2 1376.8 L2386.4 1373.7 L2386.6 1367.3 L2386.8 1363.4 L2387.0 1359.9 L2387.3 1356.2 L2387.5 1345.0 L2387.7 1335.2 L2387.9 1332.5 L2388.1 1342.0 L2388.4 1344.0 L2388.6 1325.8 L2388.8 1322.6 L2389.0 1321.1 L2389.3 1314.8 L2389.5 1308.0 L2389.7 1299.1 L2390.0 1307.3 L2390.2 1305.0 L2390.4 1310.0 L2390.6 1303.1 L2390.9 1304.1 L2391.1 1310.6 L2391.3 1307.8 L2391.5 1310.6 L2391.8 1326.7 L2392.0 1319.8 L2392.2 1322.2 L2392.4 1322.3 L2392.6 1328.7 L2392.9 1332.3 L2393.1 1333.3 L2393.3 1338.1 L2393.5 1333.7 L2393.7 1346.0 L2394.0 1348.0 L2394.2 1347.4 L2394.4 1347.5 L2394.6 1352.7 L2394.8 1343.0 L2395.0 1344.6 L2395.3 1335.3 L2395.5 1338.6 L2395.7 1323.3 L2395.9 1331.4 L2396.1 1326.6 L2396.3 1329.1 L2396.6 1328.0 L2396.8 1324.0 L2397.0 1318.1 L2397.2 1318.2 L2397.4 1320.6 L2397.6 1327.2 L2397.9 1329.4 L2398.1 1333.4 L2398.3 1322.6 L2398.5 1325.7 L2398.7 1333.9 L2398.9 1333.8 L2399.2 1332.7 L2399.4 1343.4 L2399.6 1333.0 L2399.8 1334.4 L2400.0 1337.4 L2400.2 1337.2 L2400.5 1336.4 L2400.7 1344.1 L2400.9 1346.8 L2401.1 1337.0 L2401.3 1347.8 L2401.5 1338.6 L2401.8 1337.6 L2402.0 1346.2 L2402.2 1342.1 L2402.4 1347.4 L2402.6 1351.4 L2402.8 1347.8 L2403.1 1342.8 L2403.3 1348.3 L2403.5 1348.7 L2403.7 1355.2 L2403.9 1351.6 L2404.1 1346.8 L2404.4 1353.8 L2404.6 1355.5 L2404.8 1354.6 L2405.0 1363.4 L2405.2 1367.8 L2405.4 1362.8 L2405.7 1365.1 L2405.9 1367.5 L2406.1 1369.9 L2406.3 1368.0 L2406.5 1365.9 L2406.7 1371.5 L2407.0 1366.5 L2407.2 1370.6 L2407.4 1357.0 L2407.6 1358.9 L2407.8 1363.7 L2408.0 1359.6 L2408.3 1353.1 L2408.5 1367.1 L2408.7 1362.7 L2408.9 1359.4 L2409.1 1360.5 L2409.3 1367.0 L2409.5 1355.4 L2409.8 1354.3 L2410.0 1352.6 L2410.2 1356.9 L2410.4 1358.4 L2410.6 1360.7 L2410.8 1354.4 L2411.0 1345.9 L2411.3 1345.9 L2411.5 1347.4 L2411.7 1345.2 L2411.9 1340.9 L2412.1 1342.7 L2412.3 1348.7 L2412.6 1346.9 L2412.8 1349.4 L2413.0 1351.5 L2413.2 1365.8 L2413.4 1356.8 L2413.6 1362.2 L2413.9 1359.7 L2414.1 1371.0 L2414.3 1360.6 L2414.5 1364.0 L2414.7 1367.0 L2414.9 1366.3 L2415.2 1374.8 L2415.4 1375.4 L2415.6 1372.1 L2415.8 1386.2 L2416.0 1372.8 L2416.2 1374.3 L2416.5 1372.2 L2416.7 1376.6 L2416.9 1373.2 L2417.1 1386.6 L2417.3 1389.6 L2417.5 1383.5 L2417.7 1388.6 L2418.0 1394.0 L2418.2 1397.0 L2418.4 1401.2 L2418.6 1400.1 L2418.8 1395.7 L2419.0 1398.8 L2419.3 1389.6 L2419.5 1397.3 L2419.7 1396.3 L2419.9 1405.8 L2420.1 1404.4 L2420.3 1399.2 L2420.5 1411.2 L2420.8 1410.1 L2421.0 1413.1 L2421.2 1411.3 L2421.4 1412.2 L2421.6 1410.7 L2421.8 1409.5 L2422.0 1408.5 L2422.3 1404.9 L2422.5 1401.6 L2422.7 1411.2 L2422.9 1415.7 L2423.1 1408.6 L2423.3 1407.0 L2423.5 1410.8 L2423.8 1411.8 L2424.0 1410.5 L2424.2 1405.3 L2424.4 1399.5 L2424.6 1398.9 L2424.8 1398.6 L2425.0 1385.8 L2425.3 1387.7 L2425.5 1393.8 L2425.7 1397.1 L2425.9 1384.4 L2426.1 1382.7 L2426.3 1380.3 L2426.6 1376.4 L2426.8 1367.5 L2427.0 1376.2 L2427.2 1366.8 L2427.5 1359.2 L2427.7 1359.3 L2427.9 1359.5 L2428.1 1353.5 L2428.3 1345.6 L2428.6 1341.3 L2428.8 1339.1 L2429.0 1342.9 L2429.2 1340.7 L2429.4 1335.0 L2429.7 1340.2 L2429.9 1326.9 L2430.1 1339.8 L2430.3 1324.9 L2430.5 1325.8 L2430.7 1328.0 L2431.0 1331.7 L2431.2 1326.1 L2431.4 1322.7 L2431.6 1321.7 L2431.8 1316.0 L2432.0 1315.7 L2432.3 1310.3 L2432.5 1312.0 L2432.7 1308.1 L2432.9 1310.3 L2433.1 1314.2 L2433.3 1309.3 L2433.6 1317.5 L2433.8 1317.4 L2434.0 1313.9 L2434.2 1313.3 L2434.4 1307.9 L2434.6 1311.2 L2434.9 1307.1 L2435.1 1310.9 L2435.3 1308.2 L2435.5 1311.7 L2435.7 1307.3 L2435.9 1308.2 L2436.2 1314.5 L2436.4 1315.4 L2436.6 1317.1 L2436.8 1312.2 L2437.0 1314.4 L2437.2 1312.6 L2437.5 1305.0 L2437.7 1309.7 L2437.9 1313.2 L2438.1 1298.6 L2438.3 1302.8 L2438.6 1297.1 L2438.8 1299.8 L2439.0 1291.2 L2439.2 1300.8 L2439.4 1297.6 L2439.7 1291.9 L2439.9 1298.1 L2440.1 1296.9 L2440.3 1291.7 L2440.5 1287.7 L2440.8 1293.3 L2441.0 1296.7 L2441.2 1301.2 L2441.4 1298.0 L2441.6 1302.5 L2441.8 1298.4 L2442.1 1300.1 L2442.3 1303.8 L2442.5 1310.1 L2442.7 1303.7 L2442.9 1294.1 L2443.1 1305.0 L2443.4 1310.1 L2443.6 1311.1 L2443.8 1307.9 L2444.0 1311.8 L2444.2 1310.8 L2444.4 1314.4 L2444.7 1316.8 L2444.9 1319.8 L2445.1 1313.2 L2445.3 1314.1 L2445.5 1312.0 L2445.7 1320.1 L2445.9 1315.1 L2446.2 1316.9 L2446.4 1323.5 L2446.6 1321.8 L2446.8 1322.4 L2447.0 1323.6 L2447.2 1322.7 L2447.5 1320.2 L2447.7 1323.3 L2447.9 1323.7 L2448.1 1318.2 L2448.3 1325.2 L2448.5 1325.4 L2448.7 1328.6 L2449.0 1330.7 L2449.2 1324.6 L2449.4 1326.8 L2449.6 1329.3 L2449.8 1324.1 L2450.0 1323.3 L2450.2 1324.4 L2450.5 1333.6 L2450.7 1334.4 L2450.9 1332.5 L2451.1 1330.7 L2451.3 1329.9 L2451.5 1333.6 L2451.7 1331.0 L2452.0 1339.0 L2452.2 1338.2 L2452.4 1340.4 L2452.6 1346.9 L2452.8 1344.1 L2453.0 1346.0 L2453.2 1331.4 L2453.5 1335.5 L2453.7 1341.7 L2453.9 1338.2 L2454.1 1344.5 L2454.3 1344.0 L2454.5 1345.0 L2454.7 1345.3 L2455.0 1343.3 L2455.2 1342.0 L2455.4 1340.6 L2455.6 1340.7 L2455.8 1350.4 L2456.0 1344.2 L2456.2 1342.7 L2456.5 1333.2 L2456.7 1335.9 L2456.9 1338.9 L2457.1 1339.8 L2457.3 1332.6 L2457.5 1333.9 L2457.7 1339.0 L2458.0 1335.8 L2458.2 1334.6 L2458.4 1336.0 L2458.6 1333.7 L2458.8 1329.0 L2459.0 1328.9 L2459.2 1323.1 L2459.5 1325.7 L2459.7 1328.2 L2459.9 1329.4 L2460.1 1326.8 L2460.3 1331.6 L2460.5 1334.8 L2460.7 1330.0 L2461.0 1326.1 L2461.2 1328.0 L2461.4 1326.3 L2461.6 1328.1 L2461.8 1328.1 L2462.0 1332.2 L2462.2 1330.9 L2462.5 1336.9 L2462.7 1335.6 L2462.9 1341.9 L2463.1 1343.1 L2463.3 1339.4 L2463.5 1338.8 L2463.7 1339.6 L2463.9 1341.8 L2464.2 1339.0 L2464.4 1344.7 L2464.6 1337.0 L2464.8 1338.9 L2465.0 1341.2 L2465.2 1347.7 L2465.4 1349.1 L2465.7 1343.7 L2465.9 1353.5 L2466.1 1354.2 L2466.3 1356.4 L2466.5 1351.0 L2466.7 1346.6 L2466.9 1351.1 L2467.2 1342.7 L2467.4 1344.9 L2467.6 1344.7 L2467.8 1339.1 L2468.0 1343.3 L2468.2 1341.5 L2468.4 1346.1 L2468.7 1346.7 L2468.9 1344.7 L2469.1 1343.0 L2469.3 1338.7 L2469.5 1342.9 L2469.7 1342.2 L2469.9 1340.6 L2470.2 1341.1 L2470.4 1345.1 L2470.6 1331.0 L2470.8 1329.7 L2471.0 1324.6 L2471.2 1330.9 L2471.4 1331.1 L2471.7 1330.6 L2471.9 1327.6 L2472.1 1327.4 L2472.3 1329.4 L2472.5 1337.5 L2472.7 1337.2 L2472.9 1336.6 L2473.1 1333.5 L2473.4 1329.0 L2473.6 1330.0 L2473.8 1330.4 L2474.0 1333.2 L2474.2 1334.9 L2474.4 1329.3 L2474.6 1331.2 L2474.9 1335.7 L2475.1 1328.2 L2475.3 1330.4 L2475.5 1328.3 L2475.7 1328.3 L2475.9 1328.0 L2476.1 1334.1 L2476.3 1331.2 L2476.6 1329.4 L2476.8 1327.7 L2477.0 1335.3 L2477.2 1335.9 L2477.4 1337.1 L2477.6 1334.0 L2477.8 1335.2 L2478.1 1333.1 L2478.3 1335.6 L2478.5 1339.4 L2478.7 1330.8 L2478.9 1339.6 L2479.1 1331.0 L2479.3 1334.9 L2479.5 1340.0 L2479.8 1338.2 L2480.0 1338.7 L2480.2 1339.7 L2480.4 1336.9 L2480.6 1339.0 L2480.8 1338.4 L2481.0 1333.9 L2481.2 1333.4 L2481.5 1332.0 L2481.7 1330.3 L2481.9 1336.9 L2482.1 1338.3 L2482.3 1333.2 L2482.5 1332.0 L2482.7 1337.6 L2483.0 1330.4 L2483.2 1332.8 L2483.4 1331.1 L2483.6 1332.9 L2483.8 1337.7 L2484.0 1329.8 L2484.2 1334.7 L2484.5 1331.9 L2484.7 1334.3 L2484.9 1326.2 L2485.1 1321.4 L2485.3 1320.7 L2485.5 1322.4 L2485.8 1320.7 L2486.0 1313.2 L2486.2 1317.9 L2486.4 1312.0 L2486.6 1309.6 L2486.8 1311.7 L2487.1 1309.0 L2487.3 1313.1 L2487.5 1304.9 L2487.7 1308.2 L2487.9 1312.6 L2488.1 1310.9 L2488.4 1307.4 L2488.6 1306.9 L2488.8 1312.0 L2489.0 1315.6 L2489.2 1315.3 L2489.4 1314.6 L2489.6 1312.7 L2489.9 1319.7 L2490.1 1325.0 L2490.3 1327.4 L2490.5 1329.4 L2490.7 1341.0 L2490.9 1329.4 L2491.1 1327.5 L2491.4 1333.8 L2491.6 1326.0 L2491.8 1335.3 L2492.0 1336.4 L2492.2 1347.0 L2492.4 1342.5 L2492.6 1346.1 L2492.9 1343.1 L2493.1 1341.2 L2493.3 1337.0 L2493.5 1331.0 L2493.7 1325.9 L2493.9 1332.3 L2494.1 1335.2 L2494.4 1331.8 L2494.6 1324.8 L2494.8 1323.7 L2495.0 1326.9 L2495.2 1327.2 L2495.4 1325.7 L2495.7 1318.1 L2495.9 1322.7 L2496.1 1317.3 L2496.3 1309.4 L2496.5 1316.0 L2496.7 1314.6 L2496.9 1306.1 L2497.2 1317.2 L2497.4 1308.6 L2497.6 1301.6 L2497.8 1303.1 L2498.0 1302.0 L2498.2 1303.0 L2498.5 1294.4 L2498.7 1294.8 L2498.9 1297.2 L2499.2 1296.0 L2499.4 1299.8 L2499.6 1302.2 L2499.8 1294.5 L2500.1 1287.6 L2500.3 1287.9 L2500.5 1282.7 L2500.7 1289.6 L2500.9 1283.7 L2501.2 1302.5 L2501.4 1298.0 L2501.6 1298.0 L2501.8 1295.7 L2502.0 1300.1 L2502.2 1304.3 L2502.5 1304.9 L2502.7 1309.1 L2502.9 1306.0 L2503.1 1316.4 L2503.3 1315.1 L2503.5 1317.7 L2503.8 1311.1 L2504.0 1314.3 L2504.2 1312.3 L2504.4 1303.4 L2504.6 1301.5 L2504.8 1306.6 L2505.1 1304.8 L2505.3 1302.7 L2505.5 1306.7 L2505.7 1300.0 L2505.9 1301.2 L2506.1 1304.3 L2506.4 1290.9 L2506.6 1295.5 L2506.8 1285.0 L2507.0 1285.6 L2507.2 1291.8 L2507.4 1291.1 L2507.7 1292.4 L2507.9 1290.2 L2508.1 1291.4 L2508.3 1289.7 L2508.5 1289.7 L2508.7 1284.4 L2509.0 1289.1 L2509.2 1285.8 L2509.4 1282.0 L2509.6 1284.6 L2509.8 1288.5 L2510.0 1282.1 L2510.2 1279.8 L2510.4 1283.3 L2510.7 1289.0 L2510.9 1284.9 L2511.1 1290.7 L2511.3 1287.7 L2511.5 1290.9 L2511.7 1287.5 L2511.9 1282.3 L2512.2 1286.6 L2512.4 1286.7 L2512.6 1284.5 L2512.8 1281.1 L2513.0 1283.9 L2513.2 1276.0 L2513.4 1279.2 L2513.6 1278.5 L2513.9 1277.7 L2514.1 1280.7 L2514.3 1277.5 L2514.5 1279.4 L2514.7 1281.7 L2514.9 1280.8 L2515.1 1285.5 L2515.4 1289.5 L2515.6 1292.3 L2515.8 1286.8 L2516.0 1294.2 L2516.2 1288.3 L2516.4 1291.4 L2516.6 1289.0 L2516.9 1288.8 L2517.1 1290.0 L2517.3 1293.5 L2517.5 1296.1 L2517.7 1292.4 L2517.9 1292.3 L2518.2 1291.4 L2518.4 1294.8 L2518.6 1290.5 L2518.8 1295.9 L2519.0 1297.6 L2519.2 1295.4 L2519.4 1295.8 L2519.7 1292.9 L2519.9 1293.6 L2520.1 1292.8 L2520.3 1296.0 L2520.5 1295.4 L2520.7 1297.7 L2520.9 1301.5 L2521.2 1298.8 L2521.4 1299.7 L2521.6 1305.2 L2521.8 1302.1 L2522.0 1298.9 L2522.2 1304.9 L2522.4 1299.2 L2522.7 1297.7 L2522.9 1299.8 L2523.1 1305.2 L2523.3 1303.2 L2523.5 1295.1 L2523.7 1297.7 L2523.9 1297.2 L2524.2 1295.6 L2524.4 1299.5 L2524.6 1299.4 L2524.8 1304.1 L2525.0 1298.5 L2525.2 1304.3 L2525.5 1306.8 L2525.7 1307.3 L2525.9 1301.7 L2526.1 1302.4 L2526.3 1297.4 L2526.5 1306.7 L2526.8 1307.1 L2527.0 1303.8 L2527.2 1303.1 L2527.4 1306.0 L2527.6 1298.8 L2527.8 1300.0 L2528.1 1295.8 L2528.3 1297.5 L2528.5 1299.0 L2528.7 1299.6 L2528.9 1297.9 L2529.1 1294.9 L2529.4 1295.9 L2529.6 1308.9 L2529.8 1311.3 L2530.0 1313.3 L2530.2 1312.5 L2530.4 1314.3 L2530.7 1311.8 L2530.9 1308.9 L2531.1 1304.6 L2531.3 1315.2 L2531.5 1309.7 L2531.7 1317.1 L2532.0 1314.5 L2532.2 1313.2 L2532.4 1316.5 L2532.6 1316.9 L2532.8 1316.7 L2533.0 1322.6 L2533.3 1326.7 L2533.5 1322.6 L2533.7 1323.1 L2533.9 1319.6 L2534.1 1322.9 L2534.3 1321.6 L2534.6 1322.0 L2534.8 1326.5 L2535.0 1325.6 L2535.2 1319.7 L2535.4 1321.7 L2535.6 1321.8 L2535.9 1323.5 L2536.1 1321.5 L2536.3 1321.9 L2536.5 1324.4 L2536.7 1328.3 L2536.9 1329.2 L2537.2 1326.8 L2537.4 1330.3 L2537.6 1330.6 L2537.8 1332.0 L2538.1 1340.9 L2538.3 1341.2 L2538.5 1346.0 L2538.7 1355.2 L2538.9 1351.2 L2539.2 1356.9 L2539.4 1346.7 L2539.6 1357.8 L2539.8 1359.4 L2540.0 1368.0 L2540.3 1365.0 L2540.5 1371.2 L2540.7 1374.5 L2540.9 1376.2 L2541.1 1382.0 L2541.4 1383.6 L2541.6 1382.1 L2541.8 1389.3 L2542.0 1385.9 L2542.2 1389.2 L2542.5 1392.8 L2542.7 1396.1 L2542.9 1401.5 L2543.1 1402.5 L2543.3 1407.1 L2543.6 1400.4 L2543.8 1403.5 L2544.0 1407.0 L2544.2 1402.0 L2544.4 1403.6 L2544.6 1409.8 L2544.9 1404.9 L2545.1 1400.2 L2545.3 1395.4 L2545.5 1400.6 L2545.7 1396.4 L2545.9 1391.6 L2546.2 1393.7 L2546.4 1390.8 L2546.6 1405.6 L2546.8 1397.4 L2547.0 1397.5 L2547.2 1389.7 L2547.5 1392.7 L2547.7 1394.6 L2547.9 1395.5 L2548.1 1393.8 L2548.3 1394.9 L2548.5 1395.4 L2548.8 1390.0 L2549.0 1386.5 L2549.2 1383.0 L2549.4 1382.3 L2549.6 1381.6 L2549.9 1389.3 L2550.1 1383.3 L2550.3 1382.1 L2550.5 1382.3 L2550.7 1382.5 L2550.9 1381.3 L2551.2 1383.9 L2551.4 1381.9 L2551.6 1384.4 L2551.8 1380.9 L2552.0 1382.4 L2552.2 1383.6 L2552.4 1386.0 L2552.7 1386.5 L2552.9 1385.3 L2553.1 1386.9 L2553.3 1383.4 L2553.5 1388.7 L2553.7 1388.2 L2554.0 1396.7 L2554.2 1390.5 L2554.4 1392.2 L2554.6 1393.1 L2554.8 1397.5 L2555.0 1395.7 L2555.2 1397.8 L2555.5 1400.1 L2555.7 1396.2 L2555.9 1403.9 L2556.1 1403.4 L2556.3 1401.7 L2556.5 1403.0 L2556.7 1399.5 L2557.0 1401.1 L2557.2 1397.8 L2557.4 1400.1 L2557.6 1402.4 L2557.8 1404.8 L2558.0 1401.2 L2558.2 1401.5 L2558.5 1397.7 L2558.7 1401.0 L2558.9 1394.0 L2559.1 1395.2 L2559.3 1393.1 L2559.5 1397.9 L2559.7 1396.4 L2560.0 1396.3 L2560.2 1395.6 L2560.4 1392.1 L2560.6 1391.8 L2560.8 1385.8 L2561.0 1391.2 L2561.2 1385.6 L2561.5 1389.0 L2561.7 1387.8 L2561.9 1388.6 L2562.1 1388.8 L2562.3 1385.6 L2562.5 1389.1 L2562.7 1389.4 L2563.0 1390.8 L2563.2 1391.4 L2563.4 1387.1 L2563.6 1386.8 L2563.8 1387.0 L2564.0 1384.5 L2564.2 1386.7 L2564.4 1383.3 L2564.7 1386.0 L2564.9 1389.7 L2565.1 1388.4 L2565.3 1383.7 L2565.5 1381.5 L2565.7 1383.1 L2565.9 1380.5 L2566.2 1381.3 L2566.4 1379.9 L2566.6 1383.3 L2566.8 1379.7 L2567.0 1380.2 L2567.2 1380.2 L2567.4 1379.5 L2567.6 1379.4 L2567.9 1387.2 L2568.1 1382.4 L2568.3 1383.8 L2568.5 1382.3 L2568.7 1381.5 L2568.9 1383.9 L2569.1 1380.0 L2569.3 1382.1 L2569.6 1384.7 L2569.8 1385.7 L2570.0 1385.2 L2570.2 1387.0 L2570.4 1385.6 L2570.6 1385.9 L2570.8 1387.0 L2571.1 1386.0 L2571.3 1385.8 L2571.5 1385.7 L2571.7 1386.6 L2571.9 1385.9 L2572.1 1387.1 L2572.3 1385.7 L2572.5 1386.2 L2572.8 1385.4 L2573.0 1384.5 L2573.2 1382.6 L2573.4 1383.6 L2573.6 1386.3 L2573.8 1386.5 L2574.0 1383.5 L2574.3 1384.4 L2574.5 1391.8 L2574.7 1396.3 L2574.9 1391.8 L2575.1 1395.6 L2575.4 1401.7 L2575.6 1399.2 L2575.8 1399.6 L2576.0 1405.8 L2576.2 1406.1 L2576.5 1406.4 L2576.7 1406.1 L2576.9 1410.5 L2577.1 1417.4 L2577.4 1418.9 L2577.6 1423.5 L2577.8 1422.2 L2578.0 1421.2 L2578.2 1424.4 L2578.4 1425.7 L2578.7 1419.9 L2578.9 1429.4 L2579.1 1429.0 L2579.3 1433.4 L2579.5 1427.5 L2579.7 1432.3 L2580.0 1431.4 L2580.2 1433.9 L2580.4 1431.4 L2580.6 1435.2 L2580.8 1433.4 L2581.0 1437.4 L2581.3 1438.0 L2581.5 1443.7 L2581.7 1439.8 L2581.9 1444.3 L2582.1 1440.4 L2582.3 1439.0 L2582.5 1438.9 L2582.8 1444.1 L2583.0 1441.8 L2583.2 1441.6 L2583.4 1444.9 L2583.6 1443.4 L2583.8 1445.0 L2584.0 1443.9 L2584.3 1440.8 L2584.5 1449.1 L2584.7 1449.0 L2584.9 1451.4 L2585.1 1447.5 L2585.3 1451.0 L2585.5 1450.5 L2585.8 1450.5 L2586.0 1449.0 L2586.2 1450.7 L2586.4 1454.6 L2586.6 1452.4 L2586.8 1449.6 L2587.0 1451.5 L2587.3 1445.9 L2587.5 1451.5 L2587.7 1448.4 L2587.9 1446.2 L2588.1 1448.0 L2588.3 1446.2 L2588.5 1446.7 L2588.8 1439.2 L2589.0 1437.8 L2589.2 1447.2 L2589.4 1438.9 L2589.6 1437.6 L2589.8 1437.0 L2590.0 1431.4 L2590.3 1434.1 L2590.5 1433.5 L2590.7 1436.6 L2590.9 1438.4 L2591.1 1429.1 L2591.3 1439.3 L2591.5 1432.6 L2591.8 1431.9 L2592.0 1429.8 L2592.2 1427.0 L2592.4 1431.4 L2592.6 1431.3 L2592.8 1432.3 L2593.0 1430.7 L2593.3 1431.2 L2593.5 1430.8 L2593.7 1431.9 L2593.9 1425.1 L2594.1 1429.4 L2594.3 1427.6 L2594.6 1426.0 L2594.8 1429.3 L2595.0 1429.7 L2595.2 1430.6 L2595.4 1431.6 L2595.6 1432.3 L2595.8 1428.3 L2596.1 1429.8 L2596.3 1428.2 L2596.5 1426.2 L2596.7 1426.9 L2596.9 1427.7 L2597.1 1428.9 L2597.4 1431.0 L2597.6 1429.0 L2597.8 1425.3 L2598.0 1426.5 L2598.2 1427.0 L2598.5 1425.4 L2598.7 1426.9 L2598.9 1429.9 L2599.1 1425.3 L2599.3 1426.2 L2599.6 1425.5 L2599.8 1427.2 L2600.0 1428.6 L2600.2 1433.3 L2600.4 1432.2 L2600.6 1436.3 L2600.8 1438.0 L2601.1 1437.0 L2601.3 1437.9 L2601.5 1437.7 L2601.7 1433.5 L2601.9 1429.8 L2602.1 1426.7 L2602.3 1433.4 L2602.5 1438.2 L2602.7 1435.5 L2603.0 1436.7 L2603.2 1437.5 L2603.4 1439.0 L2603.6 1442.1 L2603.8 1446.3 L2604.1 1454.1 L2604.3 1452.5 L2604.5 1447.3 L2604.7 1452.3 L2604.9 1449.1 L2605.2 1454.3 L2605.4 1452.9 L2605.6 1451.5 L2605.8 1453.3 L2606.0 1453.7 L2606.2 1451.7 L2606.4 1451.0 L2606.7 1441.2 L2606.9 1440.4 L2607.1 1443.0 L2607.3 1436.8 L2607.5 1437.4 L2607.7 1437.0 L2607.9 1437.5 L2608.2 1430.3 L2608.4 1430.1 L2608.6 1428.6 L2608.8 1428.9 L2609.0 1430.7 L2609.2 1434.1 L2609.4 1433.1 L2609.7 1438.9 L2609.9 1437.3 L2610.1 1430.7 L2610.3 1437.5 L2610.5 1437.5 L2610.7 1441.1 L2610.9 1439.9 L2611.2 1444.6 L2611.4 1443.5 L2611.6 1443.7 L2611.8 1452.7 L2612.0 1447.5 L2612.2 1448.2 L2612.4 1445.8 L2612.7 1449.5 L2612.9 1446.3 L2613.1 1446.0 L2613.3 1446.6 L2613.5 1447.4 L2613.7 1446.6 L2614.0 1448.7 L2614.2 1451.1 L2614.4 1451.6 L2614.6 1449.4 L2614.8 1449.1 L2615.0 1448.8 L2615.2 1446.6 L2615.5 1446.1 L2615.7 1448.8 L2615.9 1446.0 L2616.1 1446.6 L2616.3 1445.9 L2616.5 1449.6 L2616.7 1450.9 L2617.0 1445.1 L2617.2 1449.2 L2617.4 1448.1 L2617.6 1450.3 L2617.8 1449.5 L2618.0 1452.4 L2618.2 1447.1 L2618.5 1452.2 L2618.7 1452.1 L2618.9 1453.3 L2619.1 1452.2 L2619.3 1450.3 L2619.5 1451.6 L2619.7 1447.4 L2620.0 1447.3 L2620.2 1451.9 L2620.4 1451.8 L2620.6 1453.1 L2620.8 1453.0 L2621.0 1451.1 L2621.3 1452.4 L2621.5 1452.1 L2621.7 1453.4 L2621.9 1448.6 L2622.1 1450.6 L2622.3 1450.9 L2622.5 1447.8 L2622.8 1448.5 L2623.0 1450.2 L2623.2 1448.0 L2623.4 1449.9 L2623.6 1442.8 L2623.8 1441.1 L2624.0 1446.2 L2624.3 1448.3 L2624.5 1449.7 L2624.7 1444.0 L2624.9 1448.4 L2625.1 1441.6 L2625.3 1444.5 L2625.5 1442.7 L2625.8 1442.9 L2626.0 1438.4 L2626.2 1442.9 L2626.4 1437.5 L2626.6 1442.2 L2626.8 1441.8 L2627.0 1442.9 L2627.3 1443.7 L2627.5 1438.9 L2627.7 1444.8 L2627.9 1437.9 L2628.1 1440.9 L2628.3 1442.1 L2628.5 1446.9 L2628.7 1449.2 L2629.0 1457.2 L2629.2 1460.4 L2629.4 1460.1 L2629.6 1456.0 L2629.8 1462.6 L2630.0 1470.4 L2630.2 1469.8 L2630.4 1470.5 L2630.6 1472.5 L2630.9 1475.1 L2631.1 1478.2 L2631.3 1485.8 L2631.5 1495.6 L2631.7 1483.7 L2631.9 1482.9 L2632.1 1486.6 L2632.3 1492.3 L2632.5 1487.2 L2632.8 1487.0 L2633.0 1492.1 L2633.2 1489.7 L2633.4 1498.0 L2633.6 1492.1 L2633.9 1496.7 L2634.1 1488.0 L2634.3 1486.1 L2634.5 1484.9 L2634.7 1485.5 L2635.0 1484.8 L2635.2 1479.3 L2635.4 1482.5 L2635.6 1480.0 L2635.8 1467.4 L2636.1 1473.2 L2636.3 1475.5 L2636.5 1474.1 L2636.7 1472.2 L2636.9 1473.5 L2637.1 1470.7 L2637.3 1474.9 L2637.6 1476.2 L2637.8 1473.3 L2638.0 1472.1 L2638.2 1474.7 L2638.4 1476.5 L2638.6 1476.5 L2638.9 1475.1 L2639.1 1476.9 L2639.3 1472.2 L2639.5 1475.1 L2639.7 1466.3 L2639.9 1467.1 L2640.1 1466.4 L2640.4 1466.3 L2640.6 1469.4 L2640.8 1466.8 L2641.0 1473.0 L2641.2 1464.7 L2641.4 1460.8 L2641.6 1453.7 L2641.9 1447.7 L2642.1 1439.5 L2642.3 1430.7 L2642.5 1418.8 L2642.7 1412.5 L2642.9 1404.5 L2643.1 1404.5 L2643.4 1397.3 L2643.6 1398.1 L2643.8 1408.0 L2644.0 1399.8 L2644.2 1405.7 L2644.4 1404.7 L2644.6 1406.4 L2644.9 1399.9 L2645.1 1400.4 L2645.3 1398.9 L2645.5 1397.5 L2645.7 1387.7 L2645.9 1388.2 L2646.2 1390.8 L2646.4 1390.8 L2646.6 1386.2 L2646.8 1393.7 L2647.0 1387.4 L2647.2 1386.3 L2647.4 1392.0 L2647.7 1393.8 L2647.9 1387.9 L2648.1 1389.6 L2648.3 1389.0 L2648.5 1385.1 L2648.7 1384.9 L2648.9 1382.0 L2649.2 1388.6 L2649.4 1381.0 L2649.6 1384.0 L2649.8 1381.0 L2650.0 1384.9 L2650.2 1385.7 L2650.4 1388.6 L2650.7 1388.0 L2650.9 1388.5 L2651.1 1380.3 L2651.3 1382.5 L2651.5 1382.2 L2651.7 1380.4 L2651.9 1380.3 L2652.2 1381.7 L2652.4 1382.1 L2652.6 1381.2 L2652.8 1380.8 L2653.0 1381.2 L2653.2 1380.2 L2653.4 1379.7 L2653.7 1380.2 L2653.9 1381.6 L2654.1 1380.2 L2654.3 1380.8 L2654.5 1379.9 L2654.7 1384.1 L2655.0 1383.9 L2655.2 1381.3 L2655.4 1381.2 L2655.6 1380.2 L2655.8 1383.4 L2656.0 1376.4 L2656.2 1378.3 L2656.4 1374.4 L2656.6 1363.7 L2656.9 1363.9 L2657.1 1364.3 L2657.3 1367.1 L2657.5 1359.7 L2657.7 1363.3 L2657.9 1361.2 L2658.1 1363.3 L2658.3 1363.1 L2658.6 1357.0 L2658.8 1365.1 L2659.0 1363.8 L2659.2 1366.4 L2659.4 1362.9 L2659.7 1356.6 L2659.9 1356.4 L2660.1 1364.2 L2660.3 1360.1 L2660.5 1361.6 L2660.7 1358.7 L2661.0 1358.1 L2661.2 1361.5 L2661.4 1357.0 L2661.6 1356.6 L2661.8 1358.2 L2662.0 1355.3 L2662.2 1354.9 L2662.5 1353.1 L2662.7 1359.5 L2662.9 1359.6 L2663.1 1358.3 L2663.3 1350.2 L2663.5 1353.3 L2663.7 1360.5 L2663.9 1352.8 L2664.1 1350.7 L2664.4 1352.0 L2664.6 1353.0 L2664.8 1371.2 L2665.0 1398.3 L2665.3 1408.0 L2665.5 1419.3 L2665.7 1422.8 L2665.9 1418.8 L2666.1 1421.4 L2666.3 1427.1 L2666.5 1424.8 L2666.8 1432.3 L2667.0 1435.5 L2667.2 1431.4 L2667.4 1429.1 L2667.6 1431.2 L2667.8 1433.0 L2668.0 1431.0 L2668.3 1432.9 L2668.5 1433.7 L2668.7 1427.5 L2668.9 1434.6 L2669.1 1438.4 L2669.3 1431.6 L2669.5 1435.9 L2669.8 1431.3 L2670.0 1429.3 L2670.2 1429.2 L2670.4 1428.6 L2670.6 1425.9 L2670.8 1425.7 L2671.0 1423.8 L2671.3 1428.2 L2671.5 1428.4 L2671.7 1432.6 L2671.9 1434.0 L2672.1 1426.8 L2672.3 1439.4 L2672.6 1438.4 L2672.8 1445.7 L2673.0 1436.3 L2673.2 1438.8 L2673.4 1444.3 L2673.6 1448.7 L2673.8 1445.8 L2674.1 1447.6 L2674.3 1446.0 L2674.5 1446.7 L2674.7 1451.2 L2674.9 1455.0 L2675.1 1452.7 L2675.3 1447.5 L2675.5 1452.8 L2675.8 1447.9 L2676.0 1448.4 L2676.2 1450.2 L2676.4 1456.2 L2676.6 1456.1 L2676.8 1454.9 L2677.0 1455.9 L2677.2 1454.2 L2677.5 1453.7 L2677.7 1453.7 L2677.9 1452.1 L2678.1 1451.3 L2678.3 1452.6 L2678.5 1451.7 L2678.7 1450.0 L2679.0 1453.0 L2679.2 1455.3 L2679.4 1461.9 L2679.6 1459.4 L2679.8 1457.7 L2680.1 1454.4 L2680.3 1459.2 L2680.5 1455.2 L2680.7 1459.5 L2680.9 1455.4 L2681.1 1453.7 L2681.4 1452.5 L2681.6 1450.2 L2681.8 1448.7 L2682.0 1446.0 L2682.2 1449.3 L2682.4 1449.2 L2682.6 1446.9 L2682.9 1451.5 L2683.1 1449.0 L2683.3 1446.5 L2683.5 1439.2 L2683.7 1439.9 L2683.9 1436.6 L2684.1 1438.9 L2684.4 1437.0 L2684.6 1437.0 L2684.8 1437.6 L2685.0 1442.3 L2685.2 1439.3 L2685.4 1440.2 L2685.6 1444.4 L2685.8 1437.9 L2686.1 1443.2 L2686.3 1444.3 L2686.5 1444.0 L2686.7 1444.0 L2686.9 1436.7 L2687.1 1438.1 L2687.3 1437.7 L2687.5 1438.1 L2687.8 1443.0 L2688.0 1444.9 L2688.2 1440.4 L2688.4 1444.1 L2688.6 1442.3 L2688.8 1446.3 L2689.0 1441.4 L2689.3 1454.1 L2689.5 1445.5 L2689.7 1454.9 L2689.9 1459.5 L2690.1 1459.4 L2690.4 1466.5 L2690.6 1465.0 L2690.8 1463.6 L2691.0 1469.8 L2691.2 1465.7 L2691.4 1474.2 L2691.7 1488.5 L2691.9 1496.8 L2692.1 1492.8 L2692.3 1493.9 L2692.5 1506.6 L2692.7 1500.7 L2692.9 1500.0 L2693.2 1502.3 L2693.4 1487.5 L2693.6 1489.3 L2693.8 1484.2 L2694.0 1477.5 L2694.2 1477.5 L2694.4 1470.7 L2694.6 1474.0 L2694.8 1466.3 L2695.1 1463.6 L2695.3 1460.1 L2695.5 1461.2 L2695.7 1467.9 L2695.9 1465.4 L2696.1 1464.7 L2696.4 1463.5 L2696.6 1460.6 L2696.8 1459.9 L2697.0 1470.3 L2697.2 1467.4 L2697.4 1479.7 L2697.7 1490.8 L2697.9 1487.0 L2698.1 1487.7 L2698.3 1478.8 L2698.5 1481.3 L2698.7 1481.7 L2699.0 1483.4 L2699.2 1470.8 L2699.4 1480.5 L2699.6 1478.2 L2699.8 1477.1 L2700.0 1478.2 L2700.2 1479.8 L2700.5 1471.4 L2700.7 1469.0 L2700.9 1472.2 L2701.1 1471.8 L2701.3 1473.2 L2701.5 1476.1 L2701.7 1476.4 L2701.9 1475.7 L2702.2 1476.4 L2702.4 1464.3 L2702.6 1469.1 L2702.8 1475.5 L2703.0 1464.4 L2703.2 1458.7 L2703.4 1459.5 L2703.6 1469.0 L2703.9 1463.1 L2704.1 1459.5 L2704.3 1469.9 L2704.5 1472.8 L2704.7 1472.3 L2704.9 1477.2 L2705.2 1484.5 L2705.4 1491.2 L2705.6 1487.9 L2705.8 1491.1 L2706.0 1496.1 L2706.2 1493.6 L2706.5 1502.4 L2706.7 1497.8 L2706.9 1491.2 L2707.1 1499.6 L2707.3 1489.3 L2707.5 1493.7 L2707.7 1489.7 L2707.9 1490.0 L2708.2 1480.6 L2708.4 1472.5 L2708.6 1475.0 L2708.8 1476.5 L2709.0 1470.5 L2709.2 1462.9 L2709.4 1458.2 L2709.7 1462.0 L2709.9 1470.3 L2710.1 1477.2 L2710.3 1473.0 L2710.5 1483.9 L2710.7 1480.0 L2711.0 1482.3 L2711.2 1484.2 L2711.4 1494.7 L2711.6 1490.4 L2711.8 1481.3 L2712.1 1480.9 L2712.3 1474.2 L2712.5 1475.9 L2712.7 1486.5 L2712.9 1478.4 L2713.1 1477.8 L2713.4 1466.5 L2713.6 1467.3 L2713.8 1459.5 L2714.0 1464.7 L2714.2 1465.4 L2714.4 1467.1 L2714.7 1463.5 L2714.9 1460.5 L2715.1 1466.6 L2715.3 1471.8 L2715.5 1470.6 L2715.7 1474.7 L2715.9 1476.3 L2716.1 1474.7 L2716.4 1472.6 L2716.6 1468.0 L2716.8 1467.6 L2717.0 1464.6 L2717.2 1466.8 L2717.4 1463.6 L2717.6 1470.2 L2717.8 1472.7 L2718.1 1471.9 L2718.3 1481.1 L2718.5 1476.7 L2718.7 1478.8 L2718.9 1475.6 L2719.1 1478.9 L2719.3 1478.3 L2719.6 1478.6 L2719.8 1475.4 L2720.0 1474.6 L2720.2 1478.0 L2720.4 1475.1 L2720.6 1477.0 L2720.8 1477.7 L2721.0 1475.7 L2721.3 1475.3 L2721.5 1475.7 L2721.7 1478.0 L2721.9 1477.6 L2722.1 1478.2 L2722.3 1477.6 L2722.5 1475.9 L2722.7 1474.5 L2723.0 1476.7 L2723.2 1477.5 L2723.4 1486.9 L2723.6 1476.3 L2723.8 1478.7 L2724.0 1479.2 L2724.3 1480.1 L2724.5 1478.8 L2724.7 1483.4 L2724.9 1484.8 L2725.1 1484.0 L2725.4 1479.5 L2725.6 1485.6 L2725.8 1489.0 L2726.0 1482.1 L2726.2 1485.2 L2726.4 1490.0 L2726.7 1489.3 L2726.9 1485.5 L2727.1 1486.7 L2727.3 1486.5 L2727.5 1483.0 L2727.8 1487.0 L2728.0 1481.3 L2728.2 1480.9 L2728.4 1473.7 L2728.6 1482.6 L2728.8 1477.1 L2729.0 1478.6 L2729.2 1471.2 L2729.5 1469.5 L2729.7 1467.8 L2729.9 1466.9 L2730.1 1470.7 L2730.3 1467.2 L2730.5 1469.8 L2730.7 1465.9 L2730.9 1465.7 L2731.1 1460.9 L2731.4 1460.7 L2731.6 1454.0 L2731.8 1446.4 L2732.0 1439.2 L2732.2 1435.1 L2732.4 1433.9 L2732.6 1430.8 L2732.8 1437.1 L2733.0 1434.1 L2733.3 1430.3 L2733.5 1430.6 L2733.7 1435.0 L2733.9 1438.6 L2734.1 1445.3 L2734.3 1444.8 L2734.6 1451.5 L2734.8 1457.8 L2735.0 1460.0 L2735.2 1457.3 L2735.4 1460.5 L2735.7 1462.9 L2735.9 1467.6 L2736.1 1470.5 L2736.3 1466.8 L2736.5 1470.4 L2736.8 1463.3 L2737.0 1462.5 L2737.2 1477.0 L2737.4 1479.7 L2737.6 1488.0 L2737.8 1477.3 L2738.1 1492.1 L2738.3 1487.7 L2738.5 1485.0 L2738.7 1487.1 L2738.9 1482.4 L2739.1 1480.3 L2739.3 1467.0 L2739.5 1468.1 L2739.8 1460.8 L2740.0 1470.1 L2740.2 1461.1 L2740.4 1457.8 L2740.6 1460.1 L2740.8 1457.8 L2741.0 1459.1 L2741.2 1459.5 L2741.4 1463.4 L2741.7 1474.4 L2741.9 1465.2 L2742.1 1471.6 L2742.3 1471.1 L2742.5 1479.2 L2742.7 1470.9 L2742.9 1469.0 L2743.1 1468.6 L2743.3 1479.2 L2743.6 1478.4 L2743.8 1475.2 L2744.0 1475.7 L2744.2 1473.1 L2744.4 1462.9 L2744.6 1465.8 L2744.8 1469.3 L2745.1 1474.2 L2745.3 1463.4 L2745.5 1458.9 L2745.7 1458.8 L2745.9 1459.5 L2746.1 1456.7 L2746.3 1461.0 L2746.6 1462.8 L2746.8 1454.2 L2747.0 1456.1 L2747.2 1458.5 L2747.4 1458.0 L2747.6 1457.9 L2747.8 1458.7 L2748.0 1456.2 L2748.3 1453.5 L2748.5 1450.2 L2748.7 1449.4 L2748.9 1451.6 L2749.1 1450.3 L2749.3 1449.9 L2749.5 1445.3 L2749.7 1445.8 L2750.0 1440.3 L2750.2 1445.7 L2750.4 1452.9 L2750.6 1455.6 L2750.8 1456.1 L2751.1 1457.3 L2751.3 1456.6 L2751.5 1453.8 L2751.7 1462.8 L2751.9 1468.4 L2752.2 1465.0 L2752.4 1473.5 L2752.6 1472.8 L2752.8 1469.8 L2753.0 1468.4 L2753.3 1468.1 L2753.5 1466.0 L2753.7 1468.4 L2753.9 1465.7 L2754.1 1468.8 L2754.3 1469.8 L2754.5 1470.9 L2754.7 1469.1 L2755.0 1466.2 L2755.2 1466.7 L2755.4 1465.4 L2755.6 1466.1 L2755.8 1471.5 L2756.0 1471.3 L2756.2 1466.3 L2756.4 1467.1 L2756.7 1467.7 L2756.9 1470.5 L2757.1 1472.2 L2757.3 1468.1 L2757.5 1471.4 L2757.7 1471.1 L2757.9 1473.6 L2758.2 1469.8 L2758.4 1472.0 L2758.6 1475.1 L2758.8 1467.8 L2759.0 1468.3 L2759.2 1470.4 L2759.5 1467.8 L2759.7 1470.6 L2759.9 1474.8 L2760.1 1477.0 L2760.3 1476.9 L2760.6 1473.4 L2760.8 1477.8 L2761.0 1479.5 L2761.2 1478.1 L2761.4 1476.7 L2761.6 1473.6 L2761.8 1476.2 L2762.1 1474.8 L2762.3 1468.8 L2762.5 1469.5 L2762.7 1468.3 L2762.9 1468.4 L2763.1 1472.3 L2763.3 1465.4 L2763.6 1465.0 L2763.8 1468.5 L2764.0 1464.8 L2764.2 1466.0 L2764.4 1463.6 L2764.6 1467.3 L2764.9 1462.9 L2765.1 1459.4 L2765.3 1454.6 L2765.5 1457.5 L2765.7 1458.9 L2765.9 1457.3 L2766.1 1458.1 L2766.4 1454.8 L2766.6 1450.7 L2766.8 1453.1 L2767.0 1456.1 L2767.2 1455.2 L2767.4 1450.8 L2767.6 1452.7 L2767.9 1443.9 L2768.1 1442.0 L2768.3 1442.3 L2768.5 1440.7 L2768.7 1440.8 L2768.9 1442.0 L2769.1 1440.9 L2769.3 1440.0 L2769.6 1441.3 L2769.8 1443.5 L2770.0 1432.7 L2770.2 1433.8 L2770.4 1429.2 L2770.6 1431.7 L2770.8 1429.6 L2771.0 1430.3 L2771.3 1428.4 L2771.5 1432.4 L2771.7 1433.9 L2771.9 1436.8 L2772.1 1429.6 L2772.3 1431.6 L2772.6 1427.9 L2772.8 1428.6 L2773.0 1439.7 L2773.2 1439.2 L2773.4 1438.8 L2773.6 1435.2 L2773.9 1435.7 L2774.1 1437.8 L2774.3 1441.9 L2774.5 1434.3 L2774.7 1437.4 L2774.9 1434.8 L2775.2 1438.9 L2775.4 1440.0 L2775.6 1435.7 L2775.8 1441.3 L2776.0 1435.7 L2776.2 1431.8 L2776.4 1429.7 L2776.7 1433.7 L2776.9 1430.3 L2777.1 1432.8 L2777.3 1429.9 L2777.5 1432.8 L2777.7 1436.0 L2777.9 1434.2 L2778.1 1433.6 L2778.4 1433.5 L2778.6 1430.6 L2778.8 1434.6 L2779.0 1436.1 L2779.2 1438.1 L2779.4 1435.6 L2779.6 1434.3 L2779.8 1433.6 L2780.1 1436.6 L2780.3 1438.8 L2780.5 1441.9 L2780.7 1439.1 L2780.9 1438.6 L2781.1 1438.3 L2781.3 1442.3 L2781.6 1439.8 L2781.8 1444.9 L2782.0 1444.4 L2782.2 1443.1 L2782.4 1446.0 L2782.6 1449.1 L2782.9 1452.5 L2783.1 1454.8 L2783.3 1453.0 L2783.5 1455.2 L2783.7 1449.6 L2783.9 1452.4 L2784.2 1455.1 L2784.4 1460.7 L2784.6 1453.4 L2784.8 1449.2 L2785.0 1455.6 L2785.2 1458.0 L2785.5 1461.2 L2785.7 1464.6 L2785.9 1461.5 L2786.1 1458.8 L2786.3 1460.1 L2786.5 1461.3 L2786.7 1464.8 L2787.0 1463.0 L2787.2 1463.1 L2787.4 1458.9 L2787.6 1459.2 L2787.8 1459.6 L2788.0 1461.8 L2788.2 1460.5 L2788.5 1461.2 L2788.7 1459.2 L2788.9 1462.9 L2789.1 1462.5 L2789.3 1458.9 L2789.5 1459.8 L2789.8 1460.6 L2790.0 1461.6 L2790.2 1463.7 L2790.4 1462.0 L2790.6 1462.9 L2790.8 1462.8 L2791.0 1464.1 L2791.3 1462.8 L2791.5 1461.8 L2791.7 1463.9 L2791.9 1464.6 L2792.1 1464.7 L2792.3 1462.2 L2792.5 1463.4 L2792.8 1463.9 L2793.0 1465.2 L2793.2 1464.4 L2793.4 1464.0 L2793.6 1462.0 L2793.8 1462.8 L2794.0 1463.0 L2794.3 1464.8 L2794.5 1461.6 L2794.7 1462.9 L2794.9 1461.6 L2795.1 1463.7 L2795.3 1464.1 L2795.5 1461.1 L2795.8 1462.9 L2796.0 1460.6 L2796.2 1462.1 L2796.4 1461.4 L2796.6 1466.8 L2796.8 1464.0 L2797.0 1467.4 L2797.3 1469.0 L2797.5 1467.3 L2797.7 1467.2 L2797.9 1470.1 L2798.1 1469.1 L2798.3 1471.2 L2798.6 1471.7 L2798.8 1467.1 L2799.0 1474.9 L2799.2 1474.4 L2799.4 1473.6 L2799.6 1473.4 L2799.8 1469.5 L2800.1 1471.4 L2800.3 1470.5 L2800.5 1473.1 L2800.7 1477.7 L2800.9 1475.0 L2801.1 1474.2 L2801.3 1480.8 L2801.6 1480.9 L2801.8 1472.0 L2802.0 1473.8 L2802.2 1473.7 L2802.4 1472.4 L2802.6 1478.5 L2802.8 1477.7 L2803.1 1473.9 L2803.3 1479.8 L2803.5 1480.3 L2803.7 1480.1 L2803.9 1479.1 L2804.1 1480.2 L2804.3 1480.8 L2804.6 1479.1 L2804.8 1479.5 L2805.0 1477.0 L2805.2 1480.3 L2805.4 1476.8 L2805.6 1478.6 L2805.9 1480.9 L2806.1 1478.4 L2806.3 1477.1 L2806.5 1475.9 L2806.7 1476.2 L2806.9 1479.3 L2807.1 1477.2 L2807.4 1472.7 L2807.6 1477.4 L2807.8 1474.6 L2808.0 1474.7 L2808.2 1472.2 L2808.4 1480.1 L2808.6 1473.6 L2808.9 1473.3 L2809.1 1474.4 L2809.3 1473.6 L2809.5 1476.2 L2809.7 1472.9 L2809.9 1477.2 L2810.1 1475.6 L2810.4 1475.3 L2810.6 1473.5 L2810.8 1477.5 L2811.0 1475.5 L2811.2 1475.0 L2811.4 1476.0 L2811.7 1487.1 L2811.9 1488.8 L2812.1 1485.4 L2812.3 1480.6 L2812.5 1491.8 L2812.7 1496.6 L2813.0 1494.2 L2813.2 1497.7 L2813.4 1500.5 L2813.6 1502.4 L2813.8 1494.6 L2814.0 1497.0 L2814.3 1493.4 L2814.5 1494.1 L2814.7 1491.8 L2814.9 1480.7 L2815.1 1469.4 L2815.3 1459.0 L2815.5 1462.1 L2815.7 1454.8 L2815.9 1459.4 L2816.2 1453.6 L2816.4 1447.5 L2816.6 1446.2 L2816.8 1456.1 L2817.0 1459.9 L2817.2 1461.7 L2817.4 1460.3 L2817.7 1456.3 L2817.9 1459.3 L2818.1 1463.5 L2818.3 1471.8 L2818.5 1464.8 L2818.7 1469.9 L2818.9 1478.5 L2819.2 1476.7 L2819.4 1471.5 L2819.6 1474.3 L2819.8 1475.0 L2820.0 1477.1 L2820.2 1473.8 L2820.4 1477.2 L2820.7 1476.9 L2820.9 1476.4 L2821.1 1473.2 L2821.3 1473.5 L2821.5 1472.7 L2821.7 1477.0 L2821.9 1475.9 L2822.2 1477.1 L2822.4 1472.9 L2822.6 1473.1 L2822.8 1473.2 L2823.0 1476.3 L2823.2 1476.4 L2823.5 1475.5 L2823.7 1477.1 L2823.9 1473.4 L2824.1 1476.7 L2824.3 1476.9 L2824.5 1476.1 L2824.7 1475.5 L2825.0 1475.0 L2825.2 1467.9 L2825.4 1470.2 L2825.6 1477.4 L2825.8 1477.7 L2826.0 1471.5 L2826.2 1471.9 L2826.5 1471.4 L2826.7 1473.4 L2826.9 1466.9 L2827.1 1472.6 L2827.3 1473.8 L2827.5 1477.3 L2827.7 1473.8 L2828.0 1472.8 L2828.2 1472.9 L2828.4 1466.9 L2828.6 1469.6 L2828.8 1470.5 L2829.0 1471.5 L2829.2 1474.3 L2829.5 1467.5 L2829.7 1471.6 L2829.9 1468.8 L2830.1 1469.8 L2830.3 1466.1 L2830.5 1465.8 L2830.7 1468.8 L2831.0 1465.0 L2831.2 1463.7 L2831.4 1464.5 L2831.6 1464.0 L2831.8 1464.7 L2832.0 1463.8 L2832.2 1459.6 L2832.5 1459.7 L2832.7 1462.6 L2832.9 1463.9 L2833.1 1463.3 L2833.3 1459.3 L2833.5 1458.6 L2833.7 1456.3 L2833.9 1458.1 L2834.2 1457.5 L2834.4 1460.8 L2834.6 1459.8 L2834.8 1462.0 L2835.0 1464.5 L2835.2 1460.5 L2835.4 1459.7 L2835.6 1454.9 L2835.9 1455.0 L2836.1 1452.2 L2836.3 1456.1 L2836.5 1454.9 L2836.7 1456.0 L2836.9 1457.5 L2837.2 1457.7 L2837.4 1455.2 L2837.6 1461.3 L2837.8 1462.6 L2838.0 1462.0 L2838.2 1461.4 L2838.5 1466.9 L2838.7 1470.8 L2838.9 1466.5 L2839.1 1465.0 L2839.3 1466.9 L2839.5 1468.7 L2839.8 1467.0 L2840.0 1467.7 L2840.2 1468.9 L2840.4 1468.1 L2840.6 1465.5 L2840.8 1468.5 L2841.1 1465.5 L2841.3 1466.5 L2841.5 1464.7 L2841.7 1466.5 L2841.9 1466.8 L2842.1 1470.4 L2842.3 1469.4 L2842.6 1469.1 L2842.8 1467.5 L2843.0 1467.6 L2843.2 1474.3 L2843.4 1471.4 L2843.6 1472.5 L2843.8 1471.4 L2844.1 1471.9 L2844.3 1470.0 L2844.5 1474.6 L2844.7 1473.9 L2844.9 1475.2 L2845.1 1472.1 L2845.3 1473.9 L2845.6 1475.0 L2845.8 1474.9 L2846.0 1473.8 L2846.2 1473.4 L2846.4 1472.9 L2846.6 1473.9 L2846.8 1479.1 L2847.1 1478.2 L2847.3 1474.2 L2847.5 1473.5 L2847.7 1473.0 L2847.9 1473.3 L2848.1 1478.7 L2848.4 1477.7 L2848.6 1477.6 L2848.8 1476.4 L2849.0 1473.3 L2849.2 1472.6 L2849.4 1474.5 L2849.6 1473.1 L2849.9 1477.4 L2850.1 1476.7 L2850.3 1474.6 L2850.5 1473.2 L2850.7 1476.7 L2850.9 1478.2 L2851.1 1476.7 L2851.4 1479.1 L2851.6 1478.5 L2851.8 1480.0 L2852.0 1480.2 L2852.2 1479.2 L2852.4 1477.9 L2852.6 1479.9 L2852.9 1487.0 L2853.1 1481.6 L2853.3 1484.2 L2853.5 1484.0 L2853.7 1482.7 L2853.9 1484.3 L2854.1 1485.3 L2854.4 1485.0 L2854.6 1481.3 L2854.8 1482.5 L2855.0 1481.7 L2855.2 1483.9 L2855.4 1485.3 L2855.6 1483.4 L2855.9 1477.9 L2856.1 1477.4 L2856.3 1480.1 L2856.5 1479.2 L2856.7 1477.0 L2856.9 1472.7 L2857.2 1472.2 L2857.4 1472.5 L2857.6 1473.2 L2857.8 1475.7 L2858.0 1474.9 L2858.2 1472.5 L2858.4 1471.0 L2858.7 1471.5 L2858.9 1471.8 L2859.1 1469.9 L2859.3 1471.6 L2859.5 1471.8 L2859.7 1471.6 L2859.9 1472.8 L2860.2 1472.7 L2860.4 1473.4 L2860.6 1474.3 L2860.8 1475.0 L2861.0 1474.7 L2861.2 1472.2 L2861.4 1472.0 L2861.7 1473.4 L2861.9 1474.9 L2862.1 1475.8 L2862.3 1471.8 L2862.5 1467.2 L2862.7 1469.8 L2862.9 1468.4 L2863.2 1468.2 L2863.4 1465.8 L2863.6 1465.4 L2863.8 1467.2 L2864.0 1463.0 L2864.2 1461.0 L2864.5 1463.4 L2864.7 1461.3 L2864.9 1459.7 L2865.1 1457.6 L2865.3 1455.3 L2865.5 1456.2 L2865.7 1458.3 L2866.0 1459.5 L2866.2 1457.8 L2866.4 1462.0 L2866.6 1459.9 L2866.8 1460.6 L2867.0 1460.8 L2867.2 1463.1 L2867.5 1461.7 L2867.7 1464.5 L2867.9 1462.3 L2868.1 1464.8 L2868.3 1467.2 L2868.5 1468.3 L2868.7 1463.5 L2869.0 1464.1 L2869.2 1461.7 L2869.4 1467.2 L2869.6 1468.1 L2869.8 1469.2 L2870.0 1469.6 L2870.2 1464.5 L2870.5 1462.3 L2870.7 1470.6 L2870.9 1468.8 L2871.1 1470.5 L2871.3 1468.0 L2871.5 1465.3 L2871.7 1465.0 L2872.0 1469.5 L2872.2 1466.9 L2872.4 1463.0 L2872.6 1463.0 L2872.8 1463.9 L2873.0 1464.7 L2873.3 1456.5 L2873.5 1455.0 L2873.7 1448.0 L2873.9 1447.7 L2874.1 1440.3 L2874.3 1433.5 L2874.5 1437.1 L2874.8 1435.5 L2875.0 1430.4 L2875.2 1427.8 L2875.4 1428.2 L2875.6 1429.7 L2875.8 1430.1 L2876.1 1423.0 L2876.3 1429.8 L2876.5 1429.4 L2876.7 1425.8 L2876.9 1421.1 L2877.1 1422.6 L2877.4 1415.5 L2877.6 1413.8 L2877.8 1417.3 L2878.0 1415.5 L2878.2 1406.4 L2878.4 1412.7 L2878.7 1412.1 L2878.9 1411.4 L2879.1 1410.7 L2879.3 1410.5 L2879.5 1408.1 L2879.7 1409.0 L2879.9 1409.6 L2880.2 1410.8 L2880.4 1411.9 L2880.6 1411.1 L2880.8 1409.0 L2881.0 1409.6 L2881.2 1418.1 L2881.4 1412.4 L2881.6 1414.9 L2881.9 1414.1 L2882.1 1412.3 L2882.3 1410.6 L2882.5 1412.7 L2882.7 1416.3 L2882.9 1414.8 L2883.1 1416.6 L2883.3 1418.3 L2883.6 1423.3 L2883.8 1426.3 L2884.0 1423.4 L2884.2 1425.6 L2884.4 1425.6 L2884.6 1424.5 L2884.8 1429.6 L2885.1 1430.3 L2885.3 1436.3 L2885.5 1434.0 L2885.7 1432.2 L2885.9 1435.9 L2886.1 1435.1 L2886.3 1438.4 L2886.6 1438.6 L2886.8 1437.2 L2887.0 1432.6 L2887.2 1433.4 L2887.4 1433.8 L2887.6 1433.8 L2887.8 1428.1 L2888.1 1428.1 L2888.3 1428.0 L2888.5 1426.0 L2888.7 1424.7 L2888.9 1419.6 L2889.1 1428.3 L2889.3 1422.8 L2889.6 1421.9 L2889.8 1421.7 L2890.0 1416.5 L2890.2 1418.3 L2890.4 1419.7 L2890.6 1417.4 L2890.8 1418.8 L2891.1 1414.2 L2891.3 1411.5 L2891.5 1414.4 L2891.7 1412.4 L2891.9 1415.2 L2892.1 1411.3 L2892.3 1407.4 L2892.5 1410.3 L2892.8 1413.7 L2893.0 1409.1 L2893.2 1411.5 L2893.4 1411.2 L2893.6 1411.6 L2893.8 1412.2 L2894.0 1411.4 L2894.2 1409.7 L2894.5 1408.7 L2894.7 1409.7 L2894.9 1410.5 L2895.1 1415.3 L2895.3 1409.7 L2895.5 1409.4 L2895.8 1411.5 L2896.0 1410.0 L2896.2 1409.0 L2896.4 1407.7 L2896.6 1408.0 L2896.8 1412.7 L2897.1 1413.9 L2897.3 1414.2 L2897.5 1412.2 L2897.7 1410.8 L2897.9 1409.3 L2898.1 1407.6 L2898.4 1409.6 L2898.6 1411.2 L2898.8 1414.9 L2899.0 1417.2 L2899.2 1415.0 L2899.4 1414.4 L2899.7 1416.8 L2899.9 1416.1 L2900.1 1415.2 L2900.3 1419.1 L2900.5 1418.5 L2900.7 1420.4 L2900.9 1417.2 L2901.2 1415.3 L2901.4 1416.0 L2901.6 1419.6 L2901.8 1416.5 L2902.0 1417.6 L2902.2 1419.3 L2902.4 1418.9 L2902.7 1420.1 L2902.9 1414.7 L2903.1 1418.8 L2903.3 1423.1 L2903.5 1420.3 L2903.7 1422.6 L2903.9 1423.4 L2904.2 1423.0 L2904.4 1421.8 L2904.6 1423.3 L2904.8 1425.1 L2905.0 1423.3 L2905.2 1422.1 L2905.4 1422.5 L2905.7 1423.5 L2905.9 1425.1 L2906.1 1423.3 L2906.3 1425.5 L2906.5 1426.5 L2906.7 1426.2 L2907.0 1426.9 L2907.2 1425.2 L2907.4 1425.8 L2907.6 1425.6 L2907.8 1423.1 L2908.0 1422.6 L2908.2 1421.1 L2908.5 1425.9 L2908.7 1425.2 L2908.9 1422.6 L2909.1 1425.2 L2909.3 1423.5 L2909.5 1424.3 L2909.7 1424.0 L2910.0 1423.3 L2910.2 1424.2 L2910.4 1423.4 L2910.6 1429.1 L2910.8 1426.1 L2911.0 1423.4 L2911.2 1425.3 L2911.5 1425.5 L2911.7 1428.2 L2911.9 1425.1 L2912.1 1428.7 L2912.3 1426.0 L2912.5 1425.5 L2912.7 1430.6 L2913.0 1428.2 L2913.2 1429.8 L2913.4 1428.7 L2913.6 1430.5 L2913.8 1430.3 L2914.0 1430.9 L2914.2 1430.3 L2914.5 1432.7 L2914.7 1433.0 L2914.9 1437.8 L2915.1 1436.5 L2915.3 1437.8 L2915.5 1434.4 L2915.8 1431.4 L2916.0 1431.9 L2916.2 1430.8 L2916.4 1427.8 L2916.6 1433.3 L2916.8 1433.4 L2917.0 1431.9 L2917.3 1431.6 L2917.5 1429.0 L2917.7 1435.5 L2917.9 1436.7 L2918.1 1437.5 L2918.3 1430.9 L2918.5 1435.2 L2918.7 1434.8 L2919.0 1429.8 L2919.2 1432.9 L2919.4 1432.2 L2919.6 1429.5 L2919.8 1433.9 L2920.0 1429.2 L2920.2 1428.6 L2920.4 1430.4 L2920.7 1432.6 L2920.9 1432.4 L2921.1 1434.4 L2921.3 1430.1 L2921.5 1429.5 L2921.7 1433.1 L2921.9 1430.8 L2922.1 1430.3 L2922.4 1429.8 L2922.6 1423.6 L2922.8 1420.3 L2923.0 1418.5 L2923.2 1415.6 L2923.5 1408.3 L2923.7 1408.8 L2923.9 1406.3 L2924.1 1401.8 L2924.3 1403.2 L2924.6 1397.7 L2924.8 1394.5 L2925.0 1395.6 L2925.2 1395.6 L2925.4 1395.3 L2925.6 1394.8 L2925.8 1396.7 L2926.1 1399.3 L2926.3 1396.7 L2926.5 1392.9 L2926.7 1391.7 L2926.9 1389.3 L2927.1 1395.5 L2927.3 1391.1 L2927.6 1391.2 L2927.8 1389.3 L2928.0 1392.5 L2928.2 1389.6 L2928.4 1390.8 L2928.6 1392.9 L2928.8 1394.2 L2929.1 1400.7 L2929.3 1395.8 L2929.5 1393.2 L2929.7 1397.2 L2929.9 1395.9 L2930.1 1398.1 L2930.3 1397.1 L2930.6 1393.3 L2930.8 1400.1 L2931.0 1399.3 L2931.2 1399.1 L2931.4 1397.7 L2931.6 1399.1 L2931.9 1399.5 L2932.1 1395.6 L2932.3 1399.7 L2932.5 1399.2 L2932.7 1396.5 L2932.9 1399.7 L2933.1 1395.6 L2933.4 1396.5 L2933.6 1398.6 L2933.8 1399.2 L2934.0 1399.7 L2934.2 1398.9 L2934.4 1399.3 L2934.6 1395.9 L2934.9 1397.7 L2935.1 1395.6 L2935.3 1405.6 L2935.5 1405.1 L2935.7 1410.1 L2935.9 1404.9 L2936.1 1404.4 L2936.4 1411.5 L2936.6 1405.3 L2936.8 1400.9 L2937.0 1406.6 L2937.2 1402.5 L2937.4 1406.6 L2937.6 1402.9 L2937.9 1414.3 L2938.1 1415.6 L2938.3 1414.9 L2938.5 1415.7 L2938.7 1418.7 L2938.9 1418.2 L2939.1 1423.3 L2939.4 1420.3 L2939.6 1418.1 L2939.8 1422.1 L2940.0 1418.6 L2940.2 1415.1 L2940.4 1420.5 L2940.7 1415.0 L2940.9 1421.3 L2941.1 1424.4 L2941.3 1420.7 L2941.5 1422.5 L2941.7 1423.4 L2941.9 1433.2 L2942.2 1427.4 L2942.4 1435.4 L2942.6 1450.2 L2942.8 1453.1 L2943.0 1460.3 L2943.2 1458.1 L2943.4 1456.1 L2943.7 1463.7 L2943.9 1461.5 L2944.1 1459.2 L2944.3 1475.8 L2944.5 1480.2 L2944.7 1475.8 L2944.9 1507.5 L2945.2 1504.1 L2945.4 1501.8 L2945.6 1499.4 L2945.8 1504.2 L2946.0 1501.6 L2946.3 1512.4 L2946.5 1522.6 L2946.7 1516.7 L2946.9 1531.9 L2947.1 1536.3 L2947.3 1523.8 L2947.6 1535.1 L2947.8 1532.8 L2948.0 1555.8 L2948.2 1547.1 L2948.4 1559.4 L2948.6 1570.7 L2948.8 1567.5 L2949.0 1568.6 L2949.3 1575.8 L2949.5 1582.1 L2949.7 1603.4 L2949.9 1604.0 L2950.1 1604.7 L2950.3 1612.3 L2950.5 1604.0 L2950.7 1603.7 L2951.0 1596.8 L2951.2 1597.6 L2951.4 1596.5 L2951.6 1570.8 L2951.8 1566.3 L2952.0 1559.1 L2952.2 1565.8 L2952.5 1552.2 L2952.7 1550.3 L2952.9 1557.5 L2953.1 1555.9 L2953.3 1541.8 L2953.6 1529.6 L2953.8 1534.4 L2954.0 1541.5 L2954.2 1539.6 L2954.4 1526.5 L2954.6 1533.1 L2954.9 1527.4 L2955.1 1527.1 L2955.3 1526.0 L2955.5 1529.6 L2955.7 1538.1 L2955.9 1546.5 L2956.1 1567.8 L2956.3 1560.7 L2956.5 1557.8 L2956.8 1566.0 L2957.0 1575.7 L2957.2 1576.3 L2957.4 1578.3 L2957.6 1577.1 L2957.8 1575.6 L2958.0 1568.0 L2958.2 1569.1 L2958.4 1566.2 L2958.7 1560.3 L2958.9 1559.1 L2959.1 1560.1 L2959.3 1559.0 L2959.5 1560.5 L2959.7 1559.1 L2959.9 1562.5 L2960.1 1574.4 L2960.4 1569.2 L2960.6 1571.9 L2960.8 1568.8 L2961.0 1561.3 L2961.2 1564.9 L2961.4 1562.1 L2961.7 1567.4 L2961.9 1564.0 L2962.1 1559.9 L2962.3 1561.7 L2962.5 1560.4 L2962.7 1574.3 L2963.0 1572.3 L2963.2 1570.9 L2963.4 1564.9 L2963.6 1566.9 L2963.8 1567.2 L2964.0 1571.1 L2964.3 1571.3 L2964.5 1572.4 L2964.7 1572.3 L2964.9 1572.1 L2965.1 1566.9 L2965.3 1571.0 L2965.6 1572.3 L2965.8 1567.3 L2966.0 1570.4 L2966.2 1570.6 L2966.4 1567.1 L2966.6 1572.7 L2966.8 1567.7 L2967.1 1570.9 L2967.3 1568.7 L2967.5 1569.4 L2967.7 1566.1 L2967.9 1576.9 L2968.1 1578.0 L2968.3 1581.2 L2968.6 1584.4 L2968.8 1586.7 L2969.0 1592.2 L2969.2 1587.7 L2969.4 1592.1 L2969.6 1592.3 L2969.8 1590.8 L2970.1 1595.9 L2970.3 1600.0 L2970.5 1603.0 L2970.7 1604.9 L2970.9 1608.9 L2971.1 1601.1 L2971.3 1603.9 L2971.6 1599.4 L2971.8 1594.9 L2972.0 1587.8 L2972.2 1582.6 L2972.4 1582.2 L2972.6 1575.5 L2972.8 1577.2 L2973.0 1576.6 L2973.2 1577.4 L2973.5 1577.1 L2973.7 1572.8 L2973.9 1570.9 L2974.1 1572.0 L2974.3 1572.0 L2974.5 1578.4 L2974.8 1576.9 L2975.0 1574.0 L2975.2 1573.3 L2975.4 1571.4 L2975.6 1572.0 L2975.9 1575.6 L2976.1 1576.3 L2976.3 1566.7 L2976.5 1570.6 L2976.7 1570.8 L2976.9 1570.8 L2977.1 1576.1 L2977.4 1576.2 L2977.6 1569.0 L2977.8 1566.0 L2978.0 1567.4 L2978.2 1575.8 L2978.4 1576.0 L2978.6 1567.6 L2978.9 1563.8 L2979.1 1561.3 L2979.3 1571.2 L2979.5 1564.2 L2979.7 1560.8 L2979.9 1569.4 L2980.1 1569.3 L2980.4 1574.1 L2980.6 1571.9 L2980.8 1564.4 L2981.0 1567.5 L2981.2 1570.5 L2981.4 1568.8 L2981.6 1573.0 L2981.8 1575.3 L2982.1 1573.8 L2982.3 1573.7 L2982.5 1573.0 L2982.7 1583.3 L2982.9 1586.0 L2983.1 1582.0 L2983.3 1583.2 L2983.5 1582.0 L2983.8 1583.5 L2984.0 1581.4 L2984.2 1579.1 L2984.4 1580.3 L2984.6 1580.0 L2984.8 1579.3 L2985.0 1579.7 L2985.3 1579.6 L2985.5 1579.0 L2985.7 1583.3 L2985.9 1585.7 L2986.1 1585.0 L2986.3 1583.8 L2986.5 1583.9 L2986.8 1584.9 L2987.0 1585.2 L2987.2 1582.1 L2987.4 1583.1 L2987.6 1579.7 L2987.8 1582.0 L2988.0 1580.8 L2988.3 1579.2 L2988.5 1572.6 L2988.7 1570.4 L2988.9 1573.8 L2989.1 1576.1 L2989.3 1577.8 L2989.5 1574.7 L2989.8 1576.2 L2990.0 1574.4 L2990.2 1573.8 L2990.4 1570.3 L2990.6 1567.7 L2990.8 1569.4 L2991.1 1567.6 L2991.3 1570.2 L2991.5 1571.2 L2991.7 1571.2 L2991.9 1567.4 L2992.1 1569.0 L2992.4 1571.7 L2992.6 1576.7 L2992.8 1574.6 L2993.0 1575.9 L2993.2 1579.0 L2993.4 1577.2 L2993.7 1577.4 L2993.9 1579.2 L2994.1 1574.7 L2994.3 1576.8 L2994.5 1575.0 L2994.7 1579.1 L2995.0 1576.3 L2995.2 1577.3 L2995.4 1578.5 L2995.6 1577.9 L2995.8 1578.0 L2996.0 1574.2 L2996.2 1577.1 L2996.5 1577.4 L2996.7 1577.7 L2996.9 1577.9 L2997.1 1574.9 L2997.3 1575.5 L2997.5 1575.9 L2997.7 1578.5 L2998.0 1577.2 L2998.2 1575.4 L2998.4 1576.0 L2998.6 1576.8 L2998.8 1577.7 L2999.0 1576.7 L2999.3 1577.9 L2999.5 1576.9 L2999.7 1577.0 L2999.9 1576.9 L3000.1 1576.3 L3000.3 1576.5 L3000.5 1581.9 L3000.7 1588.9 L3001.0 1585.8 L3001.2 1579.1 L3001.4 1579.2 L3001.6 1585.2 L3001.8 1587.1 L3002.0 1582.7 L3002.2 1583.4 L3002.4 1584.3 L3002.7 1583.2 L3002.9 1586.1 L3003.1 1592.7 L3003.3 1593.5 L3003.5 1591.7 L3003.7 1592.6 L3003.9 1591.5 L3004.1 1590.5 L3004.4 1591.9 L3004.6 1590.0 L3004.8 1593.9 L3005.0 1597.2 L3005.2 1603.2 L3005.4 1597.1 L3005.6 1595.7 L3005.9 1597.5 L3006.1 1599.1 L3006.3 1598.7 L3006.5 1603.5 L3006.7 1599.6 L3006.9 1601.9 L3007.2 1597.4 L3007.4 1602.4 L3007.6 1606.5 L3007.8 1603.3 L3008.0 1603.7 L3008.2 1606.7 L3008.5 1609.3 L3008.7 1608.2 L3008.9 1612.3 L3009.1 1613.0 L3009.3 1611.2 L3009.6 1621.2 L3009.8 1620.0 L3010.0 1621.1 L3010.2 1622.7 L3010.4 1622.0 L3010.7 1619.6 L3010.9 1621.0 L3011.1 1624.4 L3011.3 1620.4 L3011.5 1621.6 L3011.7 1619.5 L3011.9 1614.3 L3012.2 1613.8 L3012.4 1612.0 L3012.6 1609.0 L3012.8 1605.8 L3013.0 1610.1 L3013.2 1606.7 L3013.4 1603.7 L3013.6 1601.6 L3013.8 1600.3 L3014.1 1603.3 L3014.3 1603.5 L3014.5 1601.0 L3014.7 1598.8 L3014.9 1590.7 L3015.2 1590.1 L3015.4 1591.3 L3015.6 1588.1 L3015.8 1583.1 L3016.0 1581.2 L3016.3 1583.1 L3016.5 1578.4 L3016.7 1583.5 L3016.9 1584.5 L3017.1 1580.2 L3017.3 1579.8 L3017.5 1581.1 L3017.7 1579.4 L3018.0 1575.3 L3018.2 1575.2 L3018.4 1582.3 L3018.6 1582.1 L3018.8 1579.9 L3019.0 1580.1 L3019.2 1578.4 L3019.4 1581.3 L3019.7 1577.6 L3019.9 1579.5 L3020.1 1578.6 L3020.3 1573.6 L3020.5 1583.2 L3020.7 1576.3 L3020.9 1577.9 L3021.1 1576.0 L3021.4 1580.1 L3021.6 1580.1 L3021.8 1581.4 L3022.0 1581.7 L3022.2 1581.5 L3022.4 1579.9 L3022.6 1581.8 L3022.9 1582.2 L3023.1 1582.0 L3023.3 1581.4 L3023.5 1578.2 L3023.7 1581.7 L3023.9 1581.9 L3024.2 1586.2 L3024.4 1582.7 L3024.6 1581.2 L3024.8 1583.4 L3025.0 1579.5 L3025.2 1586.5 L3025.4 1583.2 L3025.7 1582.9 L3025.9 1583.1 L3026.1 1579.0 L3026.3 1584.2 L3026.5 1584.9 L3026.7 1585.6 L3026.9 1582.6 L3027.2 1584.1 L3027.4 1585.0 L3027.6 1585.1 L3027.8 1582.7 L3028.0 1581.1 L3028.2 1579.1 L3028.4 1581.9 L3028.7 1579.0 L3028.9 1583.4 L3029.1 1584.9 L3029.3 1582.5 L3029.5 1582.6 L3029.7 1583.6 L3029.9 1582.3 L3030.2 1584.7 L3030.4 1584.2 L3030.6 1585.3 L3030.8 1580.8 L3031.0 1581.4 L3031.2 1583.6 L3031.4 1580.7 L3031.7 1580.6 L3031.9 1580.4 L3032.1 1579.3 L3032.3 1581.2 L3032.5 1578.9 L3032.7 1580.5 L3033.0 1579.5 L3033.2 1582.8 L3033.4 1579.9 L3033.6 1583.2 L3033.8 1583.1 L3034.0 1584.9 L3034.2 1584.0 L3034.5 1585.6 L3034.7 1582.0 L3034.9 1579.7 L3035.1 1580.3 L3035.3 1580.2 L3035.5 1581.8 L3035.7 1581.1 L3036.0 1583.0 L3036.2 1583.1 L3036.4 1580.6 L3036.6 1580.0 L3036.8 1582.1 L3037.0 1582.6 L3037.2 1585.3 L3037.5 1584.8 L3037.7 1584.2 L3037.9 1585.8 L3038.1 1580.6 L3038.3 1583.8 L3038.5 1582.1 L3038.7 1582.0 L3039.0 1583.7 L3039.2 1583.3 L3039.4 1584.1 L3039.6 1581.4 L3039.8 1584.8 L3040.0 1587.3 L3040.2 1586.7 L3040.5 1587.2 L3040.7 1589.9 L3040.9 1592.3 L3041.1 1592.9 L3041.3 1587.6 L3041.5 1591.4 L3041.7 1597.1 L3041.9 1595.1 L3042.1 1598.5 L3042.4 1598.6 L3042.6 1595.4 L3042.8 1597.4 L3043.0 1599.2 L3043.2 1600.2 L3043.4 1600.8 L3043.7 1600.9 L3043.9 1600.2 L3044.1 1600.0 L3044.3 1599.2 L3044.5 1601.0 L3044.7 1599.1 L3045.0 1601.1 L3045.2 1596.8 L3045.4 1594.8 L3045.6 1598.7 L3045.8 1597.1 L3046.0 1595.1 L3046.3 1593.2 L3046.5 1595.2 L3046.7 1592.5 L3046.9 1588.3 L3047.1 1588.8 L3047.3 1588.1 L3047.6 1587.6 L3047.8 1583.6 L3048.0 1578.8 L3048.2 1580.2 L3048.4 1580.8 L3048.6 1582.2 L3048.9 1579.0 L3049.1 1579.1 L3049.3 1576.6 L3049.5 1575.0 L3049.7 1576.3 L3049.9 1572.6 L3050.2 1576.0 L3050.4 1574.4 L3050.6 1572.8 L3050.8 1571.7 L3051.1 1569.7 L3051.3 1573.4 L3051.5 1568.2 L3051.7 1564.9 L3052.0 1567.2 L3052.2 1562.4 L3052.4 1561.4 L3052.7 1562.5 L3052.9 1563.9 L3053.1 1559.6 L3053.3 1560.9 L3053.5 1559.6 L3053.7 1558.4 L3053.9 1556.6 L3054.2 1557.4 L3054.4 1557.6 L3054.6 1555.8 L3054.8 1556.9 L3055.0 1554.8 L3055.2 1552.2 L3055.4 1554.9 L3055.7 1556.7 L3055.9 1555.4 L3056.1 1555.7 L3056.3 1556.4 L3056.5 1557.3 L3056.7 1554.4 L3057.0 1558.1 L3057.2 1559.4 L3057.4 1560.8 L3057.6 1558.5 L3057.8 1563.8 L3058.0 1556.6 L3058.3 1559.6 L3058.5 1560.9 L3058.7 1562.1 L3058.9 1559.6 L3059.1 1561.7 L3059.3 1561.6 L3059.6 1564.4 L3059.8 1564.2 L3060.0 1563.2 L3060.2 1564.2 L3060.4 1565.8 L3060.6 1566.5 L3060.9 1564.7 L3061.1 1565.0 L3061.3 1565.4 L3061.5 1562.7 L3061.7 1563.0 L3061.9 1565.6 L3062.1 1563.0 L3062.4 1562.6 L3062.6 1562.2 L3062.8 1565.7 L3063.0 1566.2 L3063.2 1560.8 L3063.4 1562.5 L3063.6 1563.7 L3063.9 1563.6 L3064.1 1563.1 L3064.3 1563.3 L3064.5 1560.6 L3064.7 1560.5 L3064.9 1561.7 L3065.1 1560.8 L3065.4 1562.5 L3065.6 1560.9 L3065.8 1562.6 L3066.0 1563.2 L3066.2 1562.2 L3066.4 1561.3 L3066.7 1561.6 L3066.9 1561.5 L3067.1 1561.4 L3067.3 1560.4 L3067.5 1560.7 L3067.7 1562.8 L3067.9 1560.6 L3068.2 1560.7 L3068.4 1562.0 L3068.6 1561.0 L3068.8 1561.1 L3069.0 1561.6 L3069.2 1561.4 L3069.4 1560.7 L3069.7 1561.6 L3069.9 1563.6 L3070.1 1563.8 L3070.3 1563.6 L3070.5 1562.5 L3070.7 1564.2 L3070.9 1560.9 L3071.2 1560.2 L3071.4 1563.4 L3071.6 1564.1 L3071.8 1563.9 L3072.0 1560.5 L3072.2 1562.6 L3072.4 1564.3 L3072.7 1560.8 L3072.9 1559.3 L3073.1 1559.0 L3073.3 1561.9 L3073.5 1562.6 L3073.7 1561.8 L3073.9 1563.4 L3074.2 1564.1 L3074.4 1563.6 L3074.6 1562.6 L3074.8 1562.5 L3075.0 1561.5 L3075.2 1561.9 L3075.5 1560.1 L3075.7 1560.8 L3075.9 1555.4 L3076.1 1555.2 L3076.3 1553.0 L3076.5 1552.1 L3076.7 1553.7 L3077.0 1551.9 L3077.2 1552.2 L3077.4 1550.5 L3077.6 1552.0 L3077.8 1554.7 L3078.0 1553.4 L3078.2 1557.6 L3078.5 1556.6 L3078.7 1555.6 L3078.9 1556.1 L3079.1 1561.1 L3079.3 1558.3 L3079.5 1558.2 L3079.7 1555.6 L3080.0 1554.4 L3080.2 1557.5 L3080.4 1558.1 L3080.6 1556.6 L3080.8 1560.8 L3081.0 1561.9 L3081.3 1562.9 L3081.5 1562.5 L3081.7 1560.5 L3081.9 1562.5 L3082.1 1561.1 L3082.3 1558.7 L3082.6 1560.2 L3082.8 1560.1 L3083.0 1559.3 L3083.2 1562.0 L3083.4 1563.0 L3083.6 1562.7 L3083.9 1559.1 L3084.1 1559.8 L3084.3 1560.1 L3084.5 1560.4 L3084.7 1561.5 L3084.9 1560.8 L3085.2 1560.7 L3085.4 1563.0 L3085.6 1557.9 L3085.8 1561.3 L3086.0 1563.1 L3086.2 1566.6 L3086.4 1566.8 L3086.6 1568.4 L3086.8 1570.2 L3087.1 1570.2 L3087.3 1570.6 L3087.5 1567.2 L3087.7 1571.1 L3087.9 1572.1 L3088.1 1573.7 L3088.3 1572.4 L3088.6 1571.4 L3088.8 1570.5 L3089.0 1568.8 L3089.2 1570.4 L3089.4 1571.8 L3089.6 1569.4 L3089.9 1565.5 L3090.1 1567.5 L3090.3 1571.4 L3090.5 1568.0 L3090.7 1571.0 L3090.9 1568.4 L3091.2 1568.1 L3091.4 1567.6 L3091.6 1567.5 L3091.8 1567.7 L3092.0 1567.5 L3092.2 1565.4 L3092.4 1563.9 L3092.7 1562.3 L3092.9 1559.9 L3093.1 1560.0 L3093.3 1561.3 L3093.5 1558.8 L3093.7 1557.9 L3093.9 1555.6 L3094.1 1554.3 L3094.3 1554.2 L3094.6 1552.2 L3094.8 1554.1 L3095.0 1552.2 L3095.2 1551.5 L3095.4 1549.6 L3095.6 1551.3 L3095.8 1550.0 L3096.1 1549.8 L3096.3 1549.8 L3096.5 1551.3 L3096.7 1552.9 L3096.9 1551.7 L3097.1 1549.9 L3097.3 1553.4 L3097.6 1555.2 L3097.8 1554.1 L3098.0 1551.9 L3098.2 1555.9 L3098.4 1555.4 L3098.6 1556.3 L3098.8 1555.1 L3099.1 1554.6 L3099.3 1553.1 L3099.5 1555.4 L3099.7 1553.9 L3099.9 1552.7 L3100.1 1552.2 L3100.4 1554.4 L3100.6 1555.6 L3100.8 1556.1 L3101.0 1555.7 L3101.2 1553.0 L3101.4 1555.2 L3101.6 1554.6 L3101.9 1553.7 L3102.1 1554.5 L3102.3 1553.8 L3102.5 1551.8 L3102.7 1553.9 L3102.9 1551.7 L3103.1 1553.1 L3103.4 1555.5 L3103.6 1554.6 L3103.8 1555.6 L3104.0 1553.3 L3104.2 1552.7 L3104.4 1554.1 L3104.6 1556.1 L3104.9 1553.9 L3105.1 1552.3 L3105.3 1554.3 L3105.5 1557.6 L3105.7 1556.0 L3105.9 1558.2 L3106.1 1553.4 L3106.4 1552.0 L3106.6 1551.8 L3106.8 1551.8 L3107.0 1553.1 L3107.2 1554.9 L3107.4 1555.4 L3107.7 1557.3 L3107.9 1556.6 L3108.1 1557.5 L3108.3 1555.7 L3108.5 1557.1 L3108.7 1559.0 L3108.9 1556.9 L3109.2 1552.1 L3109.4 1556.3 L3109.6 1563.3 L3109.8 1557.5 L3110.0 1562.7 L3110.2 1563.9 L3110.5 1566.9 L3110.7 1563.3 L3110.9 1560.1 L3111.1 1564.0 L3111.3 1560.4 L3111.5 1563.6 L3111.8 1565.1 L3112.0 1564.8 L3112.2 1566.6 L3112.4 1564.2 L3112.6 1565.5 L3112.8 1566.3 L3113.0 1567.2 L3113.3 1566.7 L3113.5 1557.2 L3113.7 1557.8 L3113.9 1559.7 L3114.1 1561.2 L3114.3 1559.1 L3114.5 1556.7 L3114.7 1557.8 L3115.0 1554.4 L3115.2 1552.2 L3115.4 1552.9 L3115.6 1550.8 L3115.8 1549.4 L3116.0 1546.8 L3116.2 1542.3 L3116.5 1540.3 L3116.7 1536.8 L3116.9 1533.4 L3117.1 1534.5 L3117.3 1529.6 L3117.5 1528.1 L3117.7 1528.2 L3118.0 1529.8 L3118.2 1528.1 L3118.4 1523.5 L3118.6 1521.3 L3118.8 1520.0 L3119.0 1519.3 L3119.2 1519.2 L3119.4 1520.6 L3119.7 1519.7 L3119.9 1521.9 L3120.1 1523.8 L3120.3 1524.8 L3120.5 1520.2 L3120.7 1520.2 L3120.9 1522.7 L3121.1 1520.3 L3121.3 1524.8 L3121.6 1517.3 L3121.8 1520.9 L3122.0 1519.1 L3122.2 1516.0 L3122.4 1510.4 L3122.7 1510.4 L3122.9 1513.6 L3123.1 1506.0 L3123.3 1513.2 L3123.5 1509.8 L3123.7 1507.6 L3124.0 1511.3 L3124.2 1517.8 L3124.4 1511.8 L3124.6 1506.6 L3124.8 1515.8 L3125.1 1520.4 L3125.3 1526.5 L3125.5 1519.0 L3125.7 1522.7 L3125.9 1527.6 L3126.2 1528.2 L3126.4 1524.5 L3126.6 1526.5 L3126.8 1524.3 L3127.0 1531.4 L3127.2 1535.1 L3127.4 1536.0 L3127.6 1539.8 L3127.8 1536.4 L3128.1 1535.9 L3128.3 1541.2 L3128.5 1537.2 L3128.7 1542.9 L3128.9 1543.6 L3129.1 1540.6 L3129.3 1541.4 L3129.5 1539.7 L3129.7 1542.7 L3130.0 1539.8 L3130.2 1539.8 L3130.4 1542.0 L3130.6 1542.1 L3130.8 1540.2 L3131.0 1539.5 L3131.2 1539.6 L3131.4 1540.3 L3131.6 1541.9 L3131.9 1545.0 L3132.1 1544.6 L3132.3 1547.4 L3132.5 1550.2 L3132.7 1544.7 L3132.9 1553.5 L3133.2 1560.0 L3133.4 1560.9 L3133.6 1559.9 L3133.8 1562.3 L3134.0 1566.9 L3134.2 1568.3 L3134.4 1568.9 L3134.7 1574.9 L3134.9 1576.7 L3135.1 1574.6 L3135.3 1574.0 L3135.5 1576.0 L3135.7 1576.7 L3136.0 1574.9 L3136.2 1573.1 L3136.4 1570.8 L3136.6 1573.5 L3136.8 1575.7 L3137.0 1576.7 L3137.3 1576.2 L3137.5 1574.9 L3137.7 1573.3 L3137.9 1572.7 L3138.1 1571.6 L3138.3 1570.8 L3138.6 1572.2 L3138.8 1574.9 L3139.0 1571.9 L3139.2 1572.8 L3139.4 1572.4 L3139.6 1570.9 L3139.8 1572.1 L3140.1 1572.3 L3140.3 1570.7 L3140.5 1572.6 L3140.7 1571.6 L3140.9 1571.5 L3141.1 1571.5 L3141.4 1571.7 L3141.6 1570.9 L3141.8 1570.5 L3142.0 1571.5 L3142.2 1571.5 L3142.4 1572.0 L3142.6 1574.3 L3142.9 1570.7 L3143.1 1571.0 L3143.3 1574.7 L3143.5 1572.9 L3143.7 1571.8 L3143.9 1573.2 L3144.1 1571.7 L3144.4 1572.8 L3144.6 1573.7 L3144.8 1574.7 L3145.0 1573.8 L3145.2 1572.5 L3145.4 1571.0 L3145.6 1570.3 L3145.9 1570.9 L3146.1 1570.4 L3146.3 1576.6 L3146.5 1572.8 L3146.7 1570.9 L3146.9 1570.8 L3147.1 1571.8 L3147.4 1575.9 L3147.6 1577.1 L3147.8 1574.6 L3148.0 1576.1 L3148.2 1577.2 L3148.4 1577.9 L3148.6 1579.9 L3148.9 1580.3 L3149.1 1583.3 L3149.3 1584.1 L3149.5 1586.6 L3149.7 1582.6 L3149.9 1580.4 L3150.2 1583.5 L3150.4 1579.7 L3150.6 1575.6 L3150.8 1576.3 L3151.0 1570.7 L3151.2 1571.1 L3151.4 1574.9 L3151.7 1571.9 L3151.9 1569.1 L3152.1 1574.1 L3152.3 1572.4 L3152.5 1571.1 L3152.7 1568.1 L3152.9 1566.0 L3153.2 1565.6 L3153.4 1566.8 L3153.6 1569.2 L3153.8 1564.2 L3154.0 1568.9 L3154.2 1571.2 L3154.4 1571.3 L3154.7 1572.1 L3154.9 1571.7 L3155.1 1571.0 L3155.3 1568.3 L3155.5 1570.3 L3155.7 1570.6 L3155.9 1569.3 L3156.2 1567.2 L3156.4 1569.0 L3156.6 1568.7 L3156.8 1568.6 L3157.0 1565.6 L3157.2 1567.0 L3157.4 1567.2 L3157.7 1566.7 L3157.9 1567.0 L3158.1 1569.4 L3158.3 1569.2 L3158.5 1568.8 L3158.7 1567.3 L3158.9 1567.0 L3159.2 1567.9 L3159.4 1572.7 L3159.6 1572.9 L3159.8 1569.0 L3160.0 1570.4 L3160.2 1569.0 L3160.4 1567.0 L3160.6 1567.3 L3160.9 1569.2 L3161.1 1571.6 L3161.3 1573.6 L3161.5 1571.6 L3161.7 1572.2 L3161.9 1570.5 L3162.1 1572.4 L3162.3 1570.8 L3162.6 1571.1 L3162.8 1571.9 L3163.0 1574.3 L3163.2 1578.0 L3163.5 1576.1 L3163.7 1575.3 L3163.9 1575.2 L3164.1 1571.3 L3164.3 1575.4 L3164.5 1574.1 L3164.7 1575.9 L3165.0 1574.5 L3165.2 1572.3 L3165.4 1570.6 L3165.6 1570.9 L3165.8 1566.6 L3166.0 1570.9 L3166.2 1569.7 L3166.5 1568.0 L3166.7 1569.4 L3166.9 1571.5 L3167.1 1569.3 L3167.3 1571.5 L3167.5 1570.7 L3167.8 1571.0 L3168.0 1570.0 L3168.2 1570.2 L3168.4 1571.0 L3168.6 1570.1 L3168.8 1571.5 L3169.0 1570.0 L3169.3 1570.5 L3169.5 1571.0 L3169.7 1570.6 L3169.9 1571.1 L3170.1 1571.6 L3170.3 1571.3 L3170.5 1569.8 L3170.8 1570.4 L3171.0 1568.7 L3171.2 1568.0 L3171.4 1568.8 L3171.6 1571.2 L3171.8 1570.6 L3172.0 1571.1 L3172.3 1571.1 L3172.5 1571.0 L3172.7 1571.3 L3172.9 1569.9 L3173.1 1568.6 L3173.3 1567.6 L3173.5 1569.4 L3173.8 1571.2 L3174.0 1569.2 L3174.2 1570.1 L3174.4 1569.2 L3174.6 1568.4 L3174.8 1567.1 L3175.1 1567.0 L3175.3 1570.2 L3175.5 1569.8 L3175.7 1566.8 L3175.9 1567.0 L3176.1 1567.3 L3176.3 1567.3 L3176.6 1568.6 L3176.8 1569.7 L3177.0 1569.1 L3177.2 1571.2 L3177.4 1571.4 L3177.6 1568.9 L3177.8 1569.4 L3178.1 1571.0 L3178.3 1570.2 L3178.5 1570.6 L3178.7 1569.7 L3178.9 1569.0 L3179.1 1568.1 L3179.4 1569.4 L3179.6 1569.7 L3179.8 1568.4 L3180.0 1569.0 L3180.2 1570.4 L3180.4 1569.8 L3180.6 1570.8 L3180.9 1568.3 L3181.1 1570.4 L3181.3 1571.3 L3181.5 1570.3 L3181.7 1570.4 L3181.9 1571.1 L3182.1 1570.1 L3182.4 1569.6 L3182.6 1570.5 L3182.8 1568.8 L3183.0 1569.5 L3183.2 1570.8 L3183.4 1569.0 L3183.6 1570.6 L3183.9 1570.1 L3184.1 1570.8 L3184.3 1565.7 L3184.5 1567.3 L3184.7 1566.0 L3184.9 1564.7 L3185.2 1567.3 L3185.4 1567.6 L3185.6 1566.6 L3185.8 1570.9 L3186.0 1568.8 L3186.2 1571.0 L3186.4 1571.2 L3186.7 1574.3 L3186.9 1572.8 L3187.1 1572.9 L3187.3 1573.1 L3187.5 1575.1 L3187.7 1572.1 L3187.9 1575.0 L3188.2 1576.4 L3188.4 1574.0 L3188.6 1576.5 L3188.8 1578.2 L3189.0 1576.1 L3189.2 1579.3 L3189.4 1580.9 L3189.7 1581.3 L3189.9 1579.6 L3190.1 1579.0 L3190.3 1577.6 L3190.5 1579.7 L3190.7 1582.1 L3190.9 1579.0 L3191.2 1578.3 L3191.4 1577.6 L3191.6 1578.1 L3191.8 1579.2 L3192.0 1576.3 L3192.2 1578.1 L3192.4 1580.1 L3192.7 1578.0 L3192.9 1578.2 L3193.1 1583.7 L3193.3 1580.7 L3193.5 1578.3 L3193.7 1579.2 L3194.0 1579.8 L3194.2 1580.1 L3194.4 1579.4 L3194.6 1580.7 L3194.8 1579.9 L3195.0 1579.8 L3195.2 1581.1 L3195.5 1582.4 L3195.7 1581.7 L3195.9 1581.6 L3196.1 1582.5 L3196.3 1580.7 L3196.5 1581.1 L3196.7 1578.6 L3197.0 1583.3 L3197.2 1581.0 L3197.4 1582.3 L3197.6 1580.2 L3197.8 1579.7 L3198.0 1578.2 L3198.2 1583.8 L3198.5 1580.7 L3198.7 1581.3 L3198.9 1581.6 L3199.1 1584.9 L3199.3 1581.4 L3199.5 1583.2 L3199.7 1586.0 L3199.9 1588.3 L3200.2 1585.0 L3200.4 1586.9 L3200.6 1586.7 L3200.8 1586.6 L3201.0 1584.2 L3201.2 1583.9 L3201.4 1585.4 L3201.6 1588.6 L3201.9 1586.6 L3202.1 1586.9 L3202.3 1588.0 L3202.5 1584.7 L3202.7 1584.3 L3202.9 1585.9 L3203.1 1588.4 L3203.4 1586.2 L3203.6 1581.3 L3203.8 1586.3 L3204.0 1585.2 L3204.2 1585.8 L3204.4 1585.1 L3204.6 1584.9 L3204.9 1583.3 L3205.1 1581.8 L3205.3 1583.4 L3205.5 1580.0 L3205.7 1583.6 L3205.9 1586.9 L3206.2 1584.0 L3206.4 1583.0 L3206.6 1582.5 L3206.8 1582.5 L3207.0 1582.6 L3207.2 1585.7 L3207.5 1585.7 L3207.7 1585.8 L3207.9 1581.2 L3208.1 1582.9 L3208.3 1582.3 L3208.5 1579.9 L3208.8 1585.3 L3209.0 1581.0 L3209.2 1579.9 L3209.4 1580.8 L3209.6 1580.3 L3209.8 1582.5 L3210.0 1583.2 L3210.3 1582.2 L3210.5 1581.6 L3210.7 1583.9 L3210.9 1582.7 L3211.1 1581.8 L3211.3 1583.1 L3211.6 1581.6 L3211.8 1581.9 L3212.0 1582.4 L3212.2 1582.0 L3212.4 1581.9 L3212.6 1582.6 L3212.8 1579.9 L3213.1 1580.8 L3213.3 1579.8 L3213.5 1579.1 L3213.7 1579.2 L3213.9 1579.0 L3214.1 1578.6 L3214.3 1580.0 L3214.6 1579.5 L3214.8 1581.6 L3215.0 1580.7 L3215.2 1580.0 L3215.4 1579.6 L3215.6 1577.6 L3215.8 1576.6 L3216.1 1580.3 L3216.3 1580.5 L3216.5 1576.4 L3216.7 1577.4 L3216.9 1575.1 L3217.1 1577.4 L3217.3 1573.2 L3217.6 1575.1 L3217.8 1574.2 L3218.0 1570.4 L3218.2 1574.6 L3218.4 1573.7 L3218.6 1571.4 L3218.8 1572.4 L3219.1 1573.1 L3219.3 1573.4 L3219.5 1573.5 L3219.7 1574.0 L3219.9 1570.8 L3220.1 1569.8 L3220.3 1571.6 L3220.5 1572.4 L3220.8 1573.2 L3221.0 1573.9 L3221.2 1575.4 L3221.4 1571.5 L3221.6 1572.9 L3221.8 1574.9 L3222.0 1571.9 L3222.3 1570.6 L3222.5 1570.6 L3222.7 1571.6 L3222.9 1570.0 L3223.1 1570.5 L3223.3 1572.3 L3223.5 1575.6 L3223.7 1573.5 L3224.0 1572.4 L3224.2 1574.1 L3224.4 1573.1 L3224.6 1574.7 L3224.8 1570.7 L3225.0 1569.0 L3225.3 1566.8 L3225.5 1568.5 L3225.7 1568.3 L3225.9 1567.0 L3226.1 1568.5 L3226.3 1564.4 L3226.6 1563.6 L3226.8 1568.1 L3227.0 1565.0 L3227.2 1566.4 L3227.4 1562.3 L3227.6 1565.6 L3227.9 1566.1 L3228.1 1565.6 L3228.3 1568.1 L3228.5 1565.9 L3228.7 1565.1 L3228.9 1568.0 L3229.2 1566.6 L3229.4 1564.4 L3229.6 1566.9 L3229.8 1568.0 L3230.0 1566.3 L3230.2 1567.0 L3230.4 1570.8 L3230.7 1570.0 L3230.9 1570.6 L3231.1 1567.2 L3231.3 1567.7 L3231.5 1569.7 L3231.7 1568.4 L3231.9 1570.9 L3232.2 1571.0 L3232.4 1569.9 L3232.6 1568.8 L3232.8 1567.9 L3233.0 1569.6 L3233.2 1570.7 L3233.4 1568.9 L3233.7 1568.3 L3233.9 1568.4 L3234.1 1567.8 L3234.3 1570.4 L3234.5 1566.9 L3234.7 1570.8 L3235.0 1570.2 L3235.2 1568.3 L3235.4 1568.5 L3235.6 1568.5 L3235.8 1571.7 L3236.0 1570.0 L3236.2 1567.4 L3236.5 1566.4 L3236.7 1570.8 L3236.9 1570.1 L3237.1 1569.3 L3237.3 1564.9 L3237.5 1568.2 L3237.7 1569.6 L3238.0 1571.3 L3238.2 1568.9 L3238.4 1567.3 L3238.6 1566.6 L3238.8 1569.2 L3239.0 1567.2 L3239.2 1567.7 L3239.5 1567.0 L3239.7 1568.2 L3239.9 1568.0 L3240.1 1569.3 L3240.3 1565.2 L3240.5 1563.5 L3240.7 1566.1 L3241.0 1564.2 L3241.2 1567.9 L3241.4 1566.7 L3241.6 1566.0 L3241.8 1561.7 L3242.0 1561.4 L3242.2 1564.5 L3242.5 1565.0 L3242.7 1566.8 L3242.9 1564.4 L3243.1 1566.3 L3243.3 1565.6 L3243.5 1563.8 L3243.8 1564.5 L3244.0 1561.7 L3244.2 1564.9 L3244.4 1565.8 L3244.6 1564.1 L3244.8 1564.9 L3245.0 1566.1 L3245.3 1565.3 L3245.5 1564.6 L3245.7 1565.8 L3245.9 1565.4 L3246.1 1565.0 L3246.3 1565.8 L3246.5 1565.5 L3246.8 1564.5 L3247.0 1565.1 L3247.2 1563.8 L3247.4 1564.5 L3247.6 1561.7 L3247.8 1563.6 L3248.0 1563.6 L3248.3 1561.7 L3248.5 1563.8 L3248.7 1563.8 L3248.9 1563.7 L3249.1 1562.2 L3249.3 1560.0 L3249.5 1564.1 L3249.8 1563.3 L3250.0 1561.8 L3250.2 1558.3 L3250.4 1556.5 L3250.6 1556.0 L3250.8 1559.3 L3251.0 1556.0 L3251.3 1554.9 L3251.5 1555.3 L3251.7 1551.0 L3251.9 1555.6 L3252.1 1550.1 L3252.3 1551.8 L3252.6 1551.3 L3252.8 1551.3 L3253.0 1549.3 L3253.2 1547.2 L3253.4 1546.1 L3253.6 1548.4 L3253.8 1550.6 L3254.1 1547.7 L3254.3 1551.3 L3254.5 1546.3 L3254.7 1546.0 L3254.9 1546.6 L3255.1 1547.7 L3255.3 1551.6 L3255.6 1551.0 L3255.8 1552.2 L3256.0 1548.4 L3256.2 1552.2 L3256.4 1551.4 L3256.6 1551.3 L3256.8 1548.5 L3257.1 1548.0 L3257.3 1548.4 L3257.5 1541.6 L3257.7 1549.5 L3257.9 1547.0 L3258.1 1551.6 L3258.3 1550.0 L3258.6 1546.4 L3258.8 1547.1 L3259.0 1543.3 L3259.2 1541.2 L3259.4 1545.3 L3259.6 1544.6 L3259.9 1544.0 L3260.1 1543.7 L3260.3 1540.1 L3260.5 1541.1 L3260.7 1544.2 L3260.9 1540.5 L3261.1 1544.9 L3261.4 1541.7 L3261.6 1548.3 L3261.8 1538.3 L3262.0 1543.3 L3262.2 1538.0 L3262.4 1541.5 L3262.6 1534.1 L3262.8 1534.1 L3263.1 1533.3 L3263.3 1533.6 L3263.5 1535.3 L3263.7 1538.3 L3263.9 1528.4 L3264.1 1527.0 L3264.3 1529.4 L3264.5 1519.4 L3264.8 1513.1 L3265.0 1519.0 L3265.2 1514.0 L3265.4 1505.5 L3265.6 1502.3 L3265.8 1511.8 L3266.0 1506.1 L3266.2 1507.6 L3266.5 1502.5 L3266.7 1500.3 L3266.9 1506.8 L3267.1 1503.6 L3267.3 1495.5 L3267.5 1493.2 L3267.7 1491.9 L3268.0 1490.2 L3268.2 1484.1 L3268.4 1489.2 L3268.6 1490.0 L3268.8 1490.8 L3269.0 1489.1 L3269.3 1488.5 L3269.5 1486.6 L3269.7 1487.2 L3269.9 1484.0 L3270.1 1476.6 L3270.3 1481.6 L3270.5 1477.0 L3270.8 1475.4 L3271.0 1468.3 L3271.2 1471.2 L3271.4 1474.2 L3271.6 1464.7 L3271.8 1466.8 L3272.0 1466.0 L3272.3 1452.7 L3272.5 1467.3 L3272.7 1457.8 L3272.9 1453.1 L3273.1 1450.6 L3273.4 1440.4 L3273.6 1437.6 L3273.8 1438.9 L3274.0 1428.0 L3274.2 1435.0 L3274.4 1424.8 L3274.7 1417.7 L3274.9 1416.4 L3275.1 1412.9 L3275.3 1412.0 L3275.5 1415.9 L3275.7 1408.1 L3275.9 1408.0 L3276.2 1407.6 L3276.4 1412.2 L3276.6 1415.5 L3276.8 1409.9 L3277.0 1410.2 L3277.2 1404.5 L3277.5 1412.8 L3277.7 1410.5 L3277.9 1414.0 L3278.1 1415.2 L3278.3 1404.9 L3278.5 1410.5 L3278.7 1408.5 L3279.0 1410.9 L3279.2 1410.8 L3279.4 1409.5 L3279.6 1415.2 L3279.8 1410.8 L3280.0 1415.3 L3280.2 1414.8 L3280.5 1407.3 L3280.7 1407.8 L3280.9 1417.2 L3281.1 1415.2 L3281.3 1414.5 L3281.5 1416.4 L3281.7 1414.9 L3282.0 1418.7 L3282.2 1418.9 L3282.4 1415.9 L3282.6 1415.4 L3282.8 1415.1 L3283.0 1411.5 L3283.2 1411.8 L3283.5 1403.6 L3283.7 1401.5 L3283.9 1408.2 L3284.1 1403.0 L3284.3 1408.7 L3284.5 1415.3 L3284.7 1411.3 L3285.0 1405.9 L3285.2 1412.9 L3285.4 1414.5 L3285.6 1405.0 L3285.8 1400.5 L3286.0 1400.5 L3286.3 1402.0 L3286.5 1402.4 L3286.7 1405.3 L3286.9 1404.0 L3287.1 1403.4 L3287.3 1403.0 L3287.5 1402.5 L3287.8 1403.2 L3288.0 1400.4 L3288.2 1396.6 L3288.4 1397.6 L3288.6 1397.1 L3288.8 1394.6 L3289.0 1396.1 L3289.3 1395.5 L3289.5 1396.3 L3289.7 1398.1 L3289.9 1397.1 L3290.1 1395.0 L3290.3 1396.4 L3290.5 1395.2 L3290.8 1394.8 L3291.0 1396.1 L3291.2 1395.5 L3291.4 1395.0 L3291.6 1397.3 L3291.8 1396.9 L3292.0 1398.2 L3292.3 1400.1 L3292.5 1398.7 L3292.7 1398.3 L3292.9 1399.6 L3293.1 1398.4 L3293.3 1399.9 L3293.6 1399.6 L3293.8 1400.0 L3294.0 1398.4 L3294.2 1394.2 L3294.4 1395.4 L3294.6 1396.2 L3294.8 1398.8 L3295.1 1392.7 L3295.3 1396.4 L3295.5 1396.0 L3295.7 1398.6 L3295.9 1397.8 L3296.1 1396.9 L3296.3 1396.6 L3296.6 1397.7 L3296.8 1393.8 L3297.0 1395.9 L3297.2 1401.5 L3297.4 1405.2 L3297.6 1406.4 L3297.8 1413.4 L3298.1 1413.1 L3298.3 1411.4 L3298.5 1417.9 L3298.7 1415.7 L3298.9 1413.7 L3299.1 1418.9 L3299.3 1417.0 L3299.6 1421.5 L3299.8 1417.0 L3300.0 1419.3 L3300.2 1412.2 L3300.4 1410.6 L3300.6 1409.7 L3300.8 1418.4 L3301.0 1409.2 L3301.3 1408.9 L3301.5 1409.2 L3301.7 1411.4 L3301.9 1411.3 L3302.1 1416.8 L3302.3 1412.8 L3302.5 1407.9 L3302.7 1409.6 L3303.0 1411.0 L3303.2 1411.6 L3303.4 1407.2 L3303.6 1410.0 L3303.8 1412.2 L3304.0 1411.5 L3304.3 1411.2 L3304.5 1407.5 L3304.7 1401.5 L3304.9 1403.2 L3305.1 1407.6 L3305.3 1410.8 L3305.6 1407.3 L3305.8 1403.5 L3306.0 1401.0 L3306.2 1408.0 L3306.4 1403.8 L3306.6 1401.7 L3306.9 1402.0 L3307.1 1404.1 L3307.3 1400.8 L3307.5 1394.5 L3307.7 1388.8 L3307.9 1388.1 L3308.1 1382.8 L3308.4 1378.5 L3308.6 1370.1 L3308.8 1369.8 L3309.0 1365.5 L3309.2 1366.2 L3309.4 1362.9 L3309.6 1356.2 L3309.9 1350.4 L3310.1 1344.5 L3310.3 1341.9 L3310.5 1342.3 L3310.7 1342.3 L3310.9 1345.4 L3311.1 1345.3 L3311.4 1341.6 L3311.6 1340.5 L3311.8 1338.3 L3312.0 1341.7 L3312.2 1341.7 L3312.4 1340.2 L3312.6 1340.9 L3312.8 1336.1 L3313.0 1337.5 L3313.3 1333.7 L3313.5 1338.2 L3313.7 1330.7 L3313.9 1331.8 L3314.1 1333.6 L3314.3 1337.0 L3314.6 1342.7 L3314.8 1342.8 L3315.0 1338.3 L3315.2 1340.6 L3315.4 1342.7 L3315.6 1349.9 L3315.9 1348.7 L3316.1 1343.9 L3316.3 1344.1 L3316.5 1348.3 L3316.7 1346.2 L3316.9 1345.7 L3317.2 1345.8 L3317.4 1349.2 L3317.6 1352.1 L3317.8 1352.4 L3318.0 1351.6 L3318.2 1347.1 L3318.5 1348.3 L3318.7 1343.0 L3318.9 1347.4 L3319.1 1348.4 L3319.3 1344.9 L3319.5 1347.2 L3319.8 1348.6 L3320.0 1350.8 L3320.2 1345.9 L3320.4 1336.8 L3320.6 1344.4 L3320.8 1338.9 L3321.1 1342.7 L3321.3 1338.0 L3321.5 1337.2 L3321.7 1337.4 L3321.9 1338.7 L3322.1 1338.4 L3322.3 1337.4 L3322.6 1341.9 L3322.8 1341.4 L3323.0 1340.5 L3323.2 1342.4 L3323.4 1342.9 L3323.6 1342.7 L3323.8 1339.6 L3324.0 1335.4 L3324.3 1341.3 L3324.5 1338.5 L3324.7 1340.5 L3324.9 1338.2 L3325.1 1339.2 L3325.3 1336.6 L3325.5 1336.6 L3325.8 1340.2 L3326.0 1340.6 L3326.2 1341.6 L3326.4 1347.7 L3326.6 1337.7 L3326.8 1341.1 L3327.0 1347.2 L3327.3 1346.8 L3327.5 1344.7 L3327.7 1340.4 L3327.9 1345.4 L3328.1 1353.2 L3328.3 1355.7 L3328.5 1350.5 L3328.8 1352.4 L3329.0 1354.4 L3329.2 1350.7 L3329.4 1352.6 L3329.6 1352.0 L3329.8 1352.1 L3330.0 1350.0 L3330.2 1346.7 L3330.5 1347.7 L3330.7 1345.8 L3330.9 1340.4 L3331.1 1345.3 L3331.3 1342.5 L3331.5 1339.6 L3331.7 1340.7 L3331.9 1336.6 L3332.2 1338.3 L3332.4 1335.8 L3332.6 1335.0 L3332.8 1335.8 L3333.0 1338.9 L3333.2 1336.8 L3333.4 1335.3 L3333.6 1334.7 L3333.9 1332.0 L3334.1 1336.3 L3334.3 1332.9 L3334.5 1334.7 L3334.7 1338.1 L3334.9 1334.0 L3335.2 1332.3 L3335.4 1335.7 L3335.6 1334.8 L3335.8 1339.0 L3336.0 1338.2 L3336.2 1339.8 L3336.5 1339.2 L3336.7 1338.1 L3336.9 1337.1 L3337.1 1336.3 L3337.3 1336.7 L3337.5 1338.7 L3337.8 1342.3 L3338.0 1342.3 L3338.2 1342.9 L3338.4 1339.9 L3338.6 1342.8 L3338.8 1337.3 L3339.1 1339.8 L3339.3 1337.4 L3339.5 1335.6 L3339.7 1338.1 L3339.9 1334.5 L3340.1 1336.8 L3340.3 1334.5 L3340.6 1335.4 L3340.8 1335.4 L3341.0 1337.8 L3341.2 1342.6 L3341.4 1337.2 L3341.6 1335.5 L3341.8 1335.4 L3342.1 1333.8 L3342.3 1334.9 L3342.5 1339.7 L3342.7 1336.8 L3342.9 1333.4 L3343.1 1335.0 L3343.3 1335.0 L3343.6 1339.7 L3343.8 1338.9 L3344.0 1337.1 L3344.2 1334.2 L3344.4 1335.9 L3344.6 1336.6 L3344.9 1333.8 L3345.1 1335.8 L3345.3 1334.0 L3345.5 1333.5 L3345.7 1333.0 L3345.9 1334.6 L3346.1 1338.5 L3346.4 1337.1 L3346.6 1335.5 L3346.8 1335.9 L3347.0 1334.0 L3347.2 1332.8 L3347.4 1331.6 L3347.6 1333.4 L3347.8 1331.5 L3348.1 1335.1 L3348.3 1331.4 L3348.5 1328.5 L3348.7 1329.9 L3348.9 1325.1 L3349.1 1326.8 L3349.3 1325.2 L3349.5 1328.6 L3349.8 1330.0 L3350.0 1328.5 L3350.2 1329.8 L3350.4 1329.2 L3350.6 1332.0 L3350.8 1327.3 L3351.0 1328.6 L3351.2 1326.1 L3351.5 1329.2 L3351.7 1325.3 L3351.9 1323.2 L3352.1 1319.9 L3352.3 1322.1 L3352.5 1314.8 L3352.7 1312.5 L3352.9 1318.4 L3353.1 1314.3 L3353.4 1314.4 L3353.6 1316.9 L3353.8 1311.4 L3354.0 1318.9 L3354.2 1317.7 L3354.4 1317.4 L3354.6 1318.1 L3354.9 1324.3 L3355.1 1326.8 L3355.3 1328.5 L3355.5 1325.9 L3355.7 1332.3 L3356.0 1339.7 L3356.2 1340.9 L3356.4 1340.3 L3356.6 1337.7 L3356.8 1337.7 L3357.0 1347.6 L3357.3 1344.7 L3357.5 1343.6 L3357.7 1340.0 L3357.9 1342.3 L3358.1 1339.1 L3358.3 1341.4 L3358.6 1343.4 L3358.8 1344.6 L3359.0 1340.0 L3359.2 1344.3 L3359.4 1339.8 L3359.6 1338.8 L3359.9 1336.3 L3360.1 1338.4 L3360.3 1345.3 L3360.5 1343.0 L3360.7 1337.7 L3360.9 1341.5 L3361.2 1341.2 L3361.4 1335.4 L3361.6 1335.0 L3361.8 1335.5 L3362.0 1337.2 L3362.2 1334.9 L3362.5 1334.4 L3362.7 1338.6 L3362.9 1337.9 L3363.1 1333.5 L3363.3 1334.2 L3363.5 1334.1 L3363.7 1334.9 L3364.0 1332.9 L3364.2 1333.1 L3364.4 1333.4 L3364.6 1333.1 L3364.8 1333.2 L3365.0 1334.5 L3365.2 1339.5 L3365.5 1339.0 L3365.7 1338.9 L3365.9 1338.8 L3366.1 1334.7 L3366.3 1335.5 L3366.5 1336.4 L3366.7 1336.0 L3367.0 1333.5 L3367.2 1335.5 L3367.4 1332.1 L3367.6 1330.7 L3367.8 1324.3 L3368.0 1317.2 L3368.2 1323.7 L3368.5 1315.1 L3368.7 1310.1 L3368.9 1308.0 L3369.1 1306.8 L3369.3 1304.0 L3369.5 1304.0 L3369.7 1305.6 L3369.9 1303.6 L3370.2 1306.8 L3370.4 1305.2 L3370.6 1304.0 L3370.8 1305.4 L3371.0 1305.6 L3371.2 1307.4 L3371.4 1304.5 L3371.6 1306.3 L3371.9 1304.0 L3372.1 1305.9 L3372.3 1304.2 L3372.5 1307.0 L3372.7 1307.9 L3372.9 1311.3 L3373.2 1307.4 L3373.4 1311.3 L3373.6 1313.7 L3373.8 1314.2 L3374.0 1315.8 L3374.2 1315.9 L3374.5 1315.6 L3374.7 1318.2 L3374.9 1318.0 L3375.1 1321.8 L3375.3 1318.1 L3375.5 1320.8 L3375.8 1323.4 L3376.0 1325.5 L3376.2 1326.1 L3376.4 1323.2 L3376.6 1324.3 L3376.8 1321.0 L3377.0 1321.5 L3377.3 1325.9 L3377.5 1325.6 L3377.7 1324.5 L3377.9 1325.3 L3378.1 1325.7 L3378.3 1327.8 L3378.6 1327.0 L3378.8 1326.5 L3379.0 1325.6 L3379.2 1326.4 L3379.4 1323.6 L3379.6 1323.8 L3379.8 1325.6 L3380.1 1325.1 L3380.3 1325.7 L3380.5 1326.1 L3380.7 1327.2 L3380.9 1325.2 L3381.1 1323.3 L3381.3 1323.5 L3381.6 1325.7 L3381.8 1326.5 L3382.0 1326.5 L3382.2 1327.2 L3382.4 1328.6 L3382.6 1327.9 L3382.8 1323.0 L3383.1 1325.6 L3383.3 1324.0 L3383.5 1325.2 L3383.7 1325.1 L3383.9 1322.9 L3384.1 1326.8 L3384.3 1328.3 L3384.6 1329.0 L3384.8 1327.7 L3385.0 1325.5 L3385.2 1324.6 L3385.4 1328.5 L3385.6 1329.4 L3385.9 1327.3 L3386.1 1326.9 L3386.3 1332.1 L3386.5 1323.2 L3386.7 1326.1 L3386.9 1326.9 L3387.1 1330.9 L3387.4 1331.2 L3387.6 1331.3 L3387.8 1331.9 L3388.0 1333.7 L3388.2 1336.7 L3388.4 1339.3 L3388.6 1342.8 L3388.9 1332.4 L3389.1 1331.5 L3389.3 1331.7 L3389.5 1338.9 L3389.7 1340.4 L3389.9 1343.3 L3390.1 1344.6 L3390.4 1345.3 L3390.6 1345.1 L3390.8 1339.5 L3391.0 1341.0 L3391.2 1342.0 L3391.4 1342.2 L3391.6 1345.1 L3391.9 1345.3 L3392.1 1346.2 L3392.3 1346.3 L3392.5 1341.0 L3392.7 1346.5 L3392.9 1345.7 L3393.1 1345.1 L3393.4 1341.2 L3393.6 1339.1 L3393.8 1344.0 L3394.0 1346.5 L3394.2 1340.9 L3394.4 1339.3 L3394.7 1344.0 L3394.9 1341.3 L3395.1 1339.7 L3395.3 1336.9 L3395.5 1335.2 L3395.7 1337.3 L3395.9 1338.5 L3396.1 1339.3 L3396.4 1341.8 L3396.6 1333.5 L3396.8 1333.2 L3397.0 1333.0 L3397.2 1336.9 L3397.4 1333.3 L3397.6 1333.8 L3397.8 1336.6 L3398.1 1335.8 L3398.3 1331.5 L3398.5 1330.5 L3398.7 1334.2 L3398.9 1331.1 L3399.1 1330.3 L3399.3 1328.0 L3399.5 1334.1 L3399.8 1333.1 L3400.0 1332.7 L3400.2 1331.5 L3400.4 1332.4 L3400.6 1337.4 L3400.9 1338.7 L3401.1 1340.8 L3401.3 1343.6 L3401.5 1345.5 L3401.7 1345.6 L3401.9 1336.8 L3402.2 1339.7 L3402.4 1340.4 L3402.6 1347.3 L3402.8 1349.4 L3403.0 1348.2 L3403.2 1345.8 L3403.5 1347.2 L3403.7 1348.6 L3403.9 1348.7 L3404.1 1354.4 L3404.3 1352.3 L3404.5 1354.2 L3404.8 1351.8 L3405.0 1348.5 L3405.2 1348.6 L3405.4 1347.0 L3405.6 1356.0 L3405.8 1348.5 L3406.1 1355.6 L3406.3 1352.5 L3406.5 1352.3 L3406.7 1351.6 L3406.9 1353.8 L3407.1 1352.1 L3407.4 1356.1 L3407.6 1358.3 L3407.8 1361.1 L3408.0 1358.1 L3408.2 1357.8 L3408.4 1361.1 L3408.6 1365.0 L3408.8 1368.8 L3409.0 1366.5 L3409.3 1374.6 L3409.5 1376.6 L3409.7 1377.6 L3409.9 1377.0 L3410.1 1378.4 L3410.3 1382.0 L3410.5 1380.1 L3410.8 1383.1 L3411.0 1383.4 L3411.2 1377.0 L3411.4 1379.6 L3411.6 1383.7 L3411.8 1384.0 L3412.0 1384.6 L3412.3 1381.3 L3412.5 1378.4 L3412.7 1379.3 L3412.9 1377.8 L3413.1 1377.5 L3413.3 1376.7 L3413.5 1380.8 L3413.8 1378.8 L3414.0 1379.3 L3414.2 1381.9 L3414.4 1383.6 L3414.6 1384.7 L3414.8 1381.0 L3415.0 1377.1 L3415.3 1381.8 L3415.5 1382.6 L3415.7 1383.0 L3415.9 1380.4 L3416.1 1377.5 L3416.3 1380.6 L3416.5 1381.9 L3416.8 1385.2 L3417.0 1381.6 L3417.2 1378.6 L3417.4 1374.4 L3417.6 1374.9 L3417.8 1371.7 L3418.0 1372.2 L3418.3 1380.8 L3418.5 1379.1 L3418.7 1373.2 L3418.9 1371.6 L3419.1 1372.6 L3419.3 1374.1 L3419.6 1375.9 L3419.8 1375.5 L3420.0 1375.6 L3420.2 1374.9 L3420.4 1375.0 L3420.6 1372.4 L3420.8 1372.9 L3421.0 1371.3 L3421.3 1373.4 L3421.5 1372.7 L3421.7 1372.6 L3421.9 1376.3 L3422.1 1377.4 L3422.3 1371.8 L3422.5 1373.5 L3422.7 1372.5 L3422.9 1375.7 L3423.2 1371.5 L3423.4 1371.2 L3423.6 1370.2 L3423.8 1371.8 L3424.0 1378.1 L3424.2 1382.4 L3424.5 1371.7 L3424.7 1376.5 L3424.9 1374.5 L3425.1 1369.2 L3425.3 1381.0 L3425.5 1377.0 L3425.8 1382.4 L3426.0 1382.2 L3426.2 1381.9 L3426.4 1374.6 L3426.6 1379.8 L3426.8 1378.4 L3427.1 1384.3 L3427.3 1387.0 L3427.5 1391.4 L3427.7 1387.1 L3427.9 1388.8 L3428.1 1385.9 L3428.4 1379.1 L3428.6 1376.9 L3428.8 1375.8 L3429.0 1385.0 L3429.2 1376.3 L3429.4 1383.3 L3429.6 1386.9 L3429.9 1388.4 L3430.1 1384.3 L3430.3 1378.7 L3430.5 1369.1 L3430.7 1370.3 L3430.9 1366.4 L3431.1 1377.2 L3431.4 1377.7 L3431.6 1381.4 L3431.8 1378.7 L3432.0 1377.6 L3432.2 1373.0 L3432.4 1371.5 L3432.6 1374.2 L3432.9 1372.0 L3433.1 1371.8 L3433.3 1374.7 L3433.5 1373.1 L3433.7 1373.0 L3433.9 1373.5 L3434.1 1366.4 L3434.4 1368.6 L3434.6 1362.2 L3434.8 1367.2 L3435.0 1362.3 L3435.2 1366.8 L3435.4 1371.2 L3435.6 1371.8 L3435.9 1362.9 L3436.1 1370.6 L3436.3 1364.2 L3436.5 1359.4 L3436.7 1357.8 L3437.0 1349.3 L3437.2 1340.8 L3437.4 1330.2 L3437.6 1321.1 L3437.8 1327.2 L3438.0 1319.5 L3438.3 1311.4 L3438.5 1319.2 L3438.7 1314.7 L3438.9 1307.2 L3439.1 1306.8 L3439.3 1300.5 L3439.5 1307.5 L3439.7 1296.9 L3440.0 1286.7 L3440.2 1289.7 L3440.4 1288.4 L3440.6 1284.1 L3440.8 1281.0 L3441.0 1282.2 L3441.2 1287.4 L3441.4 1290.8 L3441.7 1290.5 L3441.9 1283.9 L3442.1 1286.5 L3442.3 1291.9 L3442.5 1299.5 L3442.7 1298.6 L3442.9 1299.1 L3443.2 1305.1 L3443.4 1303.9 L3443.6 1310.2 L3443.8 1307.4 L3444.0 1301.6 L3444.2 1310.5 L3444.5 1314.9 L3444.7 1316.0 L3444.9 1319.7 L3445.1 1314.1 L3445.3 1307.2 L3445.5 1305.5 L3445.7 1305.3 L3446.0 1305.0 L3446.2 1296.9 L3446.4 1293.5 L3446.6 1298.8 L3446.8 1293.0 L3447.0 1295.1 L3447.2 1297.9 L3447.5 1301.3 L3447.7 1287.3 L3447.9 1287.4 L3448.1 1289.5 L3448.3 1285.3 L3448.5 1288.9 L3448.7 1286.2 L3449.0 1287.1 L3449.2 1290.0 L3449.4 1289.0 L3449.6 1288.6 L3449.8 1288.3 L3450.0 1286.4 L3450.2 1287.4 L3450.5 1285.7 L3450.7 1286.6 L3450.9 1283.2 L3451.1 1284.2 L3451.3 1288.2 L3451.5 1290.0 L3451.7 1284.8 L3452.0 1284.1 L3452.2 1285.0 L3452.4 1283.4 L3452.6 1284.3 L3452.8 1288.5 L3453.0 1285.7 L3453.2 1285.0 L3453.5 1286.4 L3453.7 1286.3 L3453.9 1283.7 L3454.1 1282.0 L3454.3 1283.7 L3454.5 1283.0 L3454.7 1282.7 L3454.9 1283.7 L3455.2 1279.6 L3455.4 1280.3 L3455.6 1285.8 L3455.8 1286.8 L3456.0 1282.8 L3456.2 1280.5 L3456.4 1280.2 L3456.7 1285.3 L3456.9 1285.8 L3457.1 1285.3 L3457.3 1285.2 L3457.5 1282.2 L3457.7 1289.2 L3457.9 1282.6 L3458.2 1287.8 L3458.4 1289.6 L3458.6 1295.8 L3458.8 1297.1 L3459.0 1300.5 L3459.2 1295.1 L3459.5 1285.8 L3459.7 1295.3 L3459.9 1296.0 L3460.1 1290.4 L3460.3 1298.0 L3460.6 1293.2 L3460.8 1291.9 L3461.0 1287.6 L3461.2 1284.8 L3461.4 1285.3 L3461.7 1285.1 L3461.9 1285.4 L3462.1 1282.9 L3462.3 1280.5 L3462.5 1281.9 L3462.7 1281.7 L3463.0 1276.9 L3463.2 1281.8 L3463.4 1282.3 L3463.6 1281.5 L3463.8 1281.0 L3464.0 1276.8 L3464.2 1280.2 L3464.5 1279.9 L3464.7 1278.4 L3464.9 1279.6 L3465.1 1276.4 L3465.3 1278.8 L3465.5 1278.5 L3465.7 1278.8 L3466.0 1283.3 L3466.2 1277.6 L3466.4 1280.9 L3466.6 1286.1 L3466.8 1287.2 L3467.0 1285.4 L3467.2 1289.2 L3467.4 1286.5 L3467.7 1288.4 L3467.9 1293.6 L3468.1 1293.9 L3468.3 1293.9 L3468.5 1291.7 L3468.7 1291.6 L3468.9 1297.1 L3469.1 1302.9 L3469.4 1300.0 L3469.6 1301.7 L3469.8 1301.1 L3470.0 1298.0 L3470.2 1301.1 L3470.4 1300.1 L3470.6 1300.1 L3470.9 1303.7 L3471.1 1305.8 L3471.3 1304.9 L3471.5 1302.1 L3471.7 1306.6 L3471.9 1306.8 L3472.1 1302.8 L3472.4 1305.2 L3472.6 1307.5 L3472.8 1306.2 L3473.0 1303.9 L3473.2 1305.0 L3473.4 1303.9 L3473.6 1311.4 L3473.9 1310.1 L3474.1 1305.9 L3474.3 1308.0 L3474.5 1307.6 L3474.7 1303.0 L3474.9 1304.1 L3475.1 1298.9 L3475.4 1301.5 L3475.6 1299.7 L3475.8 1293.6 L3476.0 1296.8 L3476.2 1297.8 L3476.4 1297.4 L3476.6 1294.4 L3476.9 1299.8 L3477.1 1294.2 L3477.3 1300.0 L3477.5 1302.0 L3477.7 1302.2 L3477.9 1299.8 L3478.2 1299.9 L3478.4 1299.6 L3478.6 1304.3 L3478.8 1309.7 L3479.0 1307.0 L3479.2 1310.6 L3479.4 1304.7 L3479.7 1309.9 L3479.9 1307.7 L3480.1 1307.0 L3480.3 1310.5 L3480.5 1311.4 L3480.7 1309.2 L3480.9 1310.2 L3481.2 1308.3 L3481.4 1312.5 L3481.6 1313.0 L3481.8 1312.9 L3482.0 1319.6 L3482.2 1327.3 L3482.4 1325.1 L3482.7 1324.2 L3482.9 1328.7 L3483.1 1331.1 L3483.3 1332.5 L3483.5 1335.4 L3483.7 1335.5 L3483.9 1335.5 L3484.2 1334.8 L3484.4 1336.1 L3484.6 1339.5 L3484.8 1338.5 L3485.0 1341.6 L3485.2 1338.1 L3485.4 1334.4 L3485.7 1340.2 L3485.9 1339.8 L3486.1 1340.8 L3486.3 1340.0 L3486.5 1340.7 L3486.7 1336.0 L3487.0 1333.3 L3487.2 1336.7 L3487.4 1338.9 L3487.6 1337.6 L3487.8 1339.4 L3488.0 1337.8 L3488.2 1335.7 L3488.5 1338.7 L3488.7 1334.3 L3488.9 1331.9 L3489.1 1339.9 L3489.3 1337.4 L3489.5 1334.4 L3489.7 1335.2 L3490.0 1334.6 L3490.2 1334.8 L3490.4 1335.2 L3490.6 1335.4 L3490.8 1334.3 L3491.0 1329.0 L3491.2 1324.4 L3491.5 1319.6 L3491.7 1320.0 L3491.9 1327.9 L3492.1 1329.1 L3492.3 1319.0 L3492.5 1321.7 L3492.7 1316.9 L3493.0 1319.1 L3493.2 1320.6 L3493.4 1324.6 L3493.6 1324.7 L3493.8 1324.3 L3494.1 1317.1 L3494.3 1321.1 L3494.5 1317.4 L3494.7 1317.6 L3494.9 1317.7 L3495.1 1318.6 L3495.4 1315.5 L3495.6 1315.5 L3495.8 1317.9 L3496.0 1319.2 L3496.2 1319.0 L3496.4 1317.2 L3496.7 1318.3 L3496.9 1318.1 L3497.1 1321.3 L3497.3 1323.7 L3497.5 1318.1 L3497.7 1318.9 L3497.9 1316.0 L3498.1 1315.6 L3498.4 1317.7 L3498.6 1321.6 L3498.8 1318.6 L3499.0 1324.0 L3499.2 1322.8 L3499.4 1318.9 L3499.6 1323.9 L3499.8 1321.7 L3500.1 1324.9 L3500.3 1326.4 L3500.5 1327.1 L3500.7 1326.2 L3500.9 1328.5 L3501.1 1326.9 L3501.3 1329.3 L3501.5 1327.0 L3501.8 1328.6 L3502.0 1322.8 L3502.2 1323.0 L3502.4 1320.6 L3502.6 1323.4 L3502.8 1325.7 L3503.1 1322.1 L3503.3 1319.7 L3503.5 1316.6 L3503.7 1316.5 L3503.9 1313.8 L3504.1 1319.7 L3504.3 1318.7 L3504.6 1316.6 L3504.8 1317.8 L3505.0 1320.6 L3505.2 1318.2 L3505.4 1317.0 L3505.6 1317.4 L3505.8 1317.5 L3506.0 1317.3 L3506.3 1321.2 L3506.5 1318.8 L3506.7 1320.2 L3506.9 1321.4 L3507.1 1316.7 L3507.3 1315.4 L3507.5 1317.6 L3507.7 1320.5 L3508.0 1322.4 L3508.2 1321.8 L3508.4 1319.7 L3508.6 1322.6 L3508.8 1319.9 L3509.0 1320.0 L3509.2 1318.7 L3509.4 1323.8 L3509.7 1321.9 L3509.9 1323.3 L3510.1 1323.0 L3510.3 1319.9 L3510.5 1321.7 L3510.7 1319.7 L3510.9 1323.3 L3511.2 1323.3 L3511.4 1323.5 L3511.6 1322.9 L3511.8 1321.5 L3512.0 1320.2 L3512.2 1321.7 L3512.5 1325.2 L3512.7 1324.7 L3512.9 1328.8 L3513.1 1336.8 L3513.3 1337.9 L3513.5 1343.3 L3513.8 1344.1 L3514.0 1347.2 L3514.2 1348.0 L3514.4 1351.0 L3514.6 1351.0 L3514.9 1356.1 L3515.1 1354.5 L3515.3 1355.5 L3515.5 1353.5 L3515.7 1355.7 L3515.9 1359.6 L3516.1 1359.5 L3516.4 1358.6 L3516.6 1359.4 L3516.8 1358.4 L3517.0 1357.5 L3517.2 1361.3 L3517.4 1361.5 L3517.6 1360.0 L3517.9 1361.2 L3518.1 1360.6 L3518.3 1361.3 L3518.5 1356.0 L3518.7 1356.2 L3518.9 1357.8 L3519.1 1360.4 L3519.4 1359.5 L3519.6 1359.4 L3519.8 1358.4 L3520.0 1359.5 L3520.2 1362.1 L3520.4 1360.7 L3520.7 1362.0 L3520.9 1361.9 L3521.1 1359.6 L3521.3 1361.5 L3521.5 1356.5 L3521.7 1361.2 L3521.9 1362.4 L3522.2 1357.4 L3522.4 1355.3 L3522.6 1357.9 L3522.8 1358.0 L3523.0 1359.7 L3523.2 1357.8 L3523.4 1355.3 L3523.7 1359.9 L3523.9 1356.7 L3524.1 1359.8 L3524.3 1360.5 L3524.5 1358.5 L3524.7 1358.2 L3524.9 1357.5 L3525.2 1356.1 L3525.4 1357.9 L3525.6 1355.5 L3525.8 1356.2 L3526.0 1355.9 L3526.2 1353.5 L3526.5 1353.8 L3526.7 1353.0 L3526.9 1351.8 L3527.1 1351.8 L3527.3 1353.1 L3527.5 1354.4 L3527.8 1354.1 L3528.0 1351.9 L3528.2 1354.9 L3528.4 1353.0 L3528.6 1353.8 L3528.8 1355.0 L3529.1 1352.2 L3529.3 1355.5 L3529.5 1352.8 L3529.7 1352.9 L3529.9 1353.5 L3530.1 1353.3 L3530.3 1354.8 L3530.6 1356.1 L3530.8 1355.7 L3531.0 1354.3 L3531.2 1351.2 L3531.4 1354.5 L3531.6 1353.0 L3531.8 1353.9 L3532.1 1357.9 L3532.3 1353.5 L3532.5 1355.6 L3532.7 1355.0 L3532.9 1355.8 L3533.1 1357.5 L3533.3 1358.7 L3533.5 1359.9 L3533.8 1361.0 L3534.0 1362.5 L3534.2 1361.2 L3534.4 1356.7 L3534.6 1357.0 L3534.8 1358.2 L3535.0 1358.7 L3535.2 1360.2 L3535.5 1359.5 L3535.7 1359.6 L3535.9 1358.6 L3536.1 1355.7 L3536.3 1361.6 L3536.5 1362.8 L3536.7 1368.2 L3537.0 1365.0 L3537.2 1364.8 L3537.4 1365.5 L3537.6 1363.1 L3537.8 1368.1 L3538.0 1368.7 L3538.2 1369.1 L3538.4 1364.7 L3538.7 1365.2 L3538.9 1364.4 L3539.1 1365.6 L3539.3 1368.1 L3539.5 1366.8 L3539.7 1362.9 L3539.9 1368.1 L3540.1 1369.9 L3540.4 1367.0 L3540.6 1369.1 L3540.8 1372.9 L3541.0 1373.0 L3541.2 1376.4 L3541.4 1374.5 L3541.7 1375.4 L3541.9 1377.3 L3542.1 1374.6 L3542.3 1374.0 L3542.5 1375.0 L3542.7 1373.2 L3543.0 1374.9 L3543.2 1372.4 L3543.4 1373.9 L3543.6 1374.6 L3543.8 1375.6 L3544.0 1376.7 L3544.3 1378.2 L3544.5 1377.4 L3544.7 1377.9 L3544.9 1378.7 L3545.1 1376.6 L3545.3 1379.9 L3545.5 1383.0 L3545.7 1382.6 L3546.0 1380.9 L3546.2 1378.8 L3546.4 1383.9 L3546.6 1390.9 L3546.8 1387.0 L3547.0 1401.0 L3547.2 1394.1 L3547.5 1403.2 L3547.7 1409.1 L3547.9 1410.0 L3548.1 1413.6 L3548.3 1416.4 L3548.5 1415.0 L3548.8 1418.2 L3549.0 1420.2 L3549.2 1424.8 L3549.4 1427.7 L3549.6 1433.2 L3549.8 1433.5 L3550.1 1438.5 L3550.3 1443.9 L3550.5 1440.4 L3550.7 1452.5 L3550.9 1452.2 L3551.1 1447.6 L3551.3 1450.4 L3551.6 1445.2 L3551.8 1446.6 L3552.0 1445.9 L3552.2 1449.4 L3552.4 1447.3 L3552.6 1440.8 L3552.8 1439.5 L3553.0 1442.8 L3553.2 1436.6 L3553.5 1434.0 L3553.7 1431.6 L3553.9 1425.9 L3554.1 1428.8 L3554.3 1430.4 L3554.5 1430.3 L3554.8 1435.1 L3555.0 1431.2 L3555.2 1422.7 L3555.4 1431.4 L3555.6 1432.1 L3555.9 1423.2 L3556.1 1421.3 L3556.3 1423.9 L3556.5 1415.8 L3556.7 1416.3 L3556.9 1418.9 L3557.1 1416.0 L3557.3 1417.0 L3557.6 1416.6 L3557.8 1416.2 L3558.0 1416.2 L3558.2 1422.9 L3558.4 1418.4 L3558.6 1420.0 L3558.8 1417.5 L3559.0 1420.1 L3559.3 1416.2 L3559.5 1416.5 L3559.7 1423.5 L3559.9 1420.9 L3560.1 1421.2 L3560.3 1416.5 L3560.5 1417.9 L3560.8 1422.5 L3561.0 1411.7 L3561.2 1413.5 L3561.4 1408.0 L3561.6 1411.3 L3561.8 1400.9 L3562.1 1396.7 L3562.3 1389.0 L3562.5 1392.4 L3562.7 1392.5 L3562.9 1390.4 L3563.2 1395.5 L3563.4 1385.3 L3563.6 1388.2 L3563.8 1377.1 L3564.0 1370.5 L3564.2 1366.1 L3564.5 1364.9 L3564.7 1368.4 L3564.9 1364.1 L3565.1 1357.6 L3565.3 1356.1 L3565.6 1356.4 L3565.8 1342.9 L3566.0 1337.1 L3566.3 1337.4 L3566.5 1322.3 L3566.7 1316.1 L3566.9 1317.3 L3567.2 1301.6 L3567.4 1304.5 L3567.6 1298.9 L3567.8 1306.0 L3568.1 1307.0 L3568.3 1300.3 L3568.5 1299.1 L3568.7 1292.8 L3568.9 1282.9 L3569.2 1284.2 L3569.4 1284.0 L3569.6 1289.7 L3569.8 1287.4 L3570.0 1293.2 L3570.2 1277.2 L3570.5 1271.0 L3570.7 1268.2 L3570.9 1265.3 L3571.1 1257.7 L3571.3 1260.3 L3571.6 1251.0 L3571.8 1251.2 L3572.0 1252.9 L3572.2 1247.9 L3572.4 1248.5 L3572.7 1253.2 L3572.9 1251.0 L3573.1 1253.6 L3573.4 1272.3 L3573.6 1278.8 L3573.8 1279.7 L3574.0 1272.1 L3574.3 1280.5 L3574.5 1278.7 L3574.7 1280.2 L3574.9 1276.0 L3575.1 1283.9 L3575.3 1289.9 L3575.6 1290.7 L3575.8 1292.4 L3576.0 1293.2 L3576.2 1291.6 L3576.4 1292.7 L3576.6 1285.7 L3576.8 1281.0 L3577.1 1286.1 L3577.3 1287.0 L3577.5 1295.0 L3577.7 1297.7 L3577.9 1296.9 L3578.1 1297.5 L3578.3 1300.6 L3578.6 1301.6 L3578.8 1297.0 L3579.0 1289.2 L3579.2 1297.8 L3579.4 1298.0 L3579.6 1296.4 L3579.9 1299.2 L3580.1 1290.4 L3580.3 1289.7 L3580.5 1285.7 L3580.7 1294.4 L3580.9 1281.9 L3581.1 1285.7 L3581.4 1279.1 L3581.6 1281.3 L3581.8 1286.9 L3582.0 1283.9 L3582.2 1274.4 L3582.5 1271.9 L3582.7 1266.0 L3582.9 1264.4 L3583.1 1265.2 L3583.3 1265.3 L3583.5 1263.3 L3583.8 1261.9 L3584.0 1263.0 L3584.2 1259.3 L3584.4 1263.7 L3584.6 1252.7 L3584.9 1252.8 L3585.1 1246.1 L3585.3 1248.2 L3585.5 1237.1 L3585.7 1237.4 L3585.9 1235.9 L3586.2 1232.1 L3586.4 1230.4 L3586.6 1228.2 L3586.9 1222.5 L3587.1 1223.7 L3587.3 1219.0 L3587.6 1221.3 L3587.8 1217.7 L3588.0 1217.0 L3588.2 1219.6 L3588.4 1214.5 L3588.7 1214.9 L3588.9 1211.1 L3589.1 1206.3 L3589.3 1201.1 L3589.5 1203.5 L3589.8 1213.0 L3590.0 1216.2 L3590.2 1210.8 L3590.4 1203.2 L3590.6 1198.9 L3590.8 1203.4 L3591.1 1207.1 L3591.3 1208.9 L3591.5 1206.3 L3591.7 1207.7 L3591.9 1203.6 L3592.1 1205.5 L3592.3 1209.1 L3592.6 1213.1 L3592.8 1211.6 L3593.0 1215.3 L3593.2 1215.2 L3593.4 1214.2 L3593.6 1215.3 L3593.8 1213.5 L3594.1 1209.1 L3594.3 1208.0 L3594.5 1206.6 L3594.7 1201.8 L3594.9 1197.5 L3595.1 1203.3 L3595.4 1204.3 L3595.6 1208.5 L3595.8 1209.0 L3596.0 1204.3 L3596.2 1194.3 L3596.4 1199.2 L3596.6 1195.5 L3596.9 1190.5 L3597.1 1190.7 L3597.3 1186.1 L3597.5 1186.7 L3597.7 1186.6 L3597.9 1189.3 L3598.1 1192.5 L3598.4 1196.1 L3598.6 1193.8 L3598.8 1195.1 L3599.0 1196.6 L3599.2 1199.5 L3599.4 1201.6 L3599.6 1194.3 L3599.9 1195.8 L3600.1 1197.0 L3600.3 1201.7 L3600.5 1200.5 L3600.7 1201.5 L3600.9 1202.7 L3601.1 1203.9 L3601.4 1204.7 L3601.6 1204.8 L3601.8 1205.5 L3602.0 1194.4 L3602.2 1197.6 L3602.4 1204.5 L3602.6 1200.6 L3602.9 1204.7 L3603.1 1203.9 L3603.3 1191.8 L3603.5 1192.1 L3603.7 1201.6 L3603.9 1188.7 L3604.2 1191.2 L3604.4 1191.1 L3604.6 1190.1 L3604.8 1185.1 L3605.0 1189.8 L3605.2 1188.5 L3605.4 1193.5 L3605.6 1185.8 L3605.9 1181.9 L3606.1 1193.8 L3606.3 1188.5 L3606.5 1190.3 L3606.7 1185.6 L3606.9 1179.6 L3607.1 1183.7 L3607.3 1179.6 L3607.6 1179.6 L3607.8 1181.1 L3608.0 1180.5 L3608.2 1181.4 L3608.4 1179.9 L3608.6 1182.6 L3608.8 1184.9 L3609.0 1190.1 L3609.3 1200.9 L3609.5 1203.0 L3609.7 1198.4 L3609.9 1202.3 L3610.1 1206.2 L3610.3 1208.8 L3610.5 1200.1 L3610.8 1198.6 L3611.0 1203.5 L3611.2 1207.7 L3611.4 1206.4 L3611.6 1217.0 L3611.8 1218.5 L3612.1 1223.8 L3612.3 1222.3 L3612.5 1215.5 L3612.7 1222.2 L3612.9 1215.3 L3613.1 1209.4 L3613.4 1203.5 L3613.6 1187.7 L3613.8 1187.3 L3614.0 1179.7 L3614.2 1185.7 L3614.5 1175.8 L3614.7 1175.4 L3614.9 1181.6 L3615.1 1182.9 L3615.3 1182.7 L3615.5 1179.9 L3615.7 1174.8 L3616.0 1180.2 L3616.2 1177.5 L3616.4 1180.4 L3616.6 1182.5 L3616.8 1182.5 L3617.0 1181.6 L3617.2 1181.4 L3617.5 1181.1 L3617.7 1179.7 L3617.9 1180.9 L3618.1 1181.8 L3618.3 1182.6 L3618.5 1182.8 L3618.7 1174.5 L3619.0 1177.8 L3619.2 1185.8 L3619.4 1190.6 L3619.6 1185.7 L3619.8 1186.8 L3620.0 1186.3 L3620.2 1189.1 L3620.5 1187.9 L3620.7 1194.5 L3620.9 1197.3 L3621.1 1203.2 L3621.3 1201.5 L3621.5 1211.4 L3621.7 1209.4 L3622.0 1202.2 L3622.2 1202.5 L3622.4 1204.0 L3622.6 1211.2 L3622.8 1199.1 L3623.0 1202.9 L3623.2 1205.4 L3623.4 1208.3 L3623.7 1207.9 L3623.9 1204.9 L3624.1 1205.9 L3624.3 1203.8 L3624.5 1204.2 L3624.7 1202.2 L3624.9 1205.9 L3625.1 1211.9 L3625.4 1211.3 L3625.6 1206.2 L3625.8 1208.4 L3626.0 1207.7 L3626.2 1206.9 L3626.4 1205.8 L3626.7 1206.7 L3626.9 1206.9 L3627.1 1205.9 L3627.3 1201.8 L3627.5 1204.3 L3627.7 1202.5 L3628.0 1203.5 L3628.2 1203.6 L3628.4 1200.0 L3628.6 1196.5 L3628.8 1199.6 L3629.0 1199.4 L3629.3 1195.5 L3629.5 1197.2 L3629.7 1196.6 L3629.9 1196.4 L3630.1 1197.9 L3630.3 1198.4 L3630.6 1194.7 L3630.8 1197.9 L3631.0 1195.7 L3631.2 1198.0 L3631.4 1192.0 L3631.6 1193.3 L3631.8 1191.9 L3632.1 1193.1 L3632.3 1190.7 L3632.5 1190.8 L3632.7 1199.0 L3632.9 1194.9 L3633.1 1194.2 L3633.3 1192.9 L3633.6 1191.7 L3633.8 1190.9 L3634.0 1195.9 L3634.2 1193.6 L3634.4 1197.3 L3634.6 1201.7 L3634.8 1200.1 L3635.1 1203.8 L3635.3 1196.5 L3635.5 1204.7 L3635.7 1210.2 L3635.9 1211.2 L3636.1 1211.2 L3636.3 1220.3 L3636.6 1217.7 L3636.8 1215.3 L3637.0 1221.5 L3637.2 1218.9 L3637.4 1221.5 L3637.6 1222.3 L3637.9 1219.1 L3638.1 1224.2 L3638.3 1220.6 L3638.5 1225.9 L3638.7 1227.7 L3638.9 1223.2 L3639.2 1213.6 L3639.4 1221.0 L3639.6 1225.2 L3639.8 1221.9 L3640.0 1222.0 L3640.2 1223.1 L3640.5 1231.2 L3640.7 1230.6 L3640.9 1227.3 L3641.1 1230.7 L3641.3 1226.8 L3641.5 1222.8 L3641.8 1224.1 L3642.0 1223.6 L3642.2 1216.1 L3642.4 1220.7 L3642.6 1217.8 L3642.8 1206.8 L3643.0 1204.1 L3643.3 1199.0 L3643.5 1199.8 L3643.7 1195.8 L3643.9 1196.6 L3644.1 1199.6 L3644.3 1201.5 L3644.5 1206.7 L3644.8 1202.6 L3645.0 1196.2 L3645.2 1193.9 L3645.4 1192.2 L3645.6 1191.8 L3645.8 1192.6 L3646.0 1193.8 L3646.2 1185.9 L3646.4 1185.7 L3646.7 1189.0 L3646.9 1182.5 L3647.1 1180.9 L3647.3 1181.0 L3647.5 1179.2 L3647.7 1172.7 L3647.9 1171.8 L3648.1 1169.3 L3648.3 1167.8 L3648.6 1167.8 L3648.8 1170.9 L3649.0 1177.4 L3649.2 1174.5 L3649.4 1168.1 L3649.6 1169.8 L3649.8 1168.9 L3650.0 1167.0 L3650.3 1172.0 L3650.5 1176.1 L3650.7 1176.0 L3650.9 1179.4 L3651.1 1178.7 L3651.3 1177.8 L3651.5 1179.1 L3651.8 1185.1 L3652.0 1187.0 L3652.2 1183.4 L3652.4 1188.9 L3652.6 1188.8 L3652.8 1193.6 L3653.0 1199.2 L3653.3 1196.4 L3653.5 1193.0 L3653.7 1193.3 L3653.9 1193.1 L3654.1 1193.0 L3654.3 1190.4 L3654.6 1187.2 L3654.8 1189.0 L3655.0 1187.8 L3655.2 1187.6 L3655.4 1182.2 L3655.6 1183.2 L3655.9 1187.3 L3656.1 1180.8 L3656.3 1180.4 L3656.5 1185.2 L3656.7 1181.7 L3657.0 1176.0 L3657.2 1177.9 L3657.4 1179.2 L3657.6 1179.6 L3657.8 1176.7 L3658.0 1183.9 L3658.2 1180.0 L3658.5 1177.8 L3658.7 1177.0 L3658.9 1177.3 L3659.1 1183.1 L3659.3 1185.0 L3659.5 1182.9 L3659.7 1183.6 L3660.0 1181.0 L3660.2 1180.6 L3660.4 1179.7 L3660.6 1181.8 L3660.8 1183.5 L3661.0 1182.1 L3661.2 1184.3 L3661.5 1180.9 L3661.7 1180.2 L3661.9 1176.7 L3662.1 1181.5 L3662.3 1183.0 L3662.5 1182.6 L3662.7 1184.6 L3663.0 1182.5 L3663.2 1186.0 L3663.4 1186.1 L3663.6 1186.3 L3663.8 1180.4 L3664.0 1181.1 L3664.2 1187.4 L3664.4 1184.5 L3664.7 1182.4 L3664.9 1189.7 L3665.1 1183.6 L3665.3 1182.9 L3665.5 1187.7 L3665.7 1189.8 L3665.9 1182.5 L3666.2 1184.0 L3666.4 1188.7 L3666.6 1189.9 L3666.8 1190.8 L3667.0 1187.8 L3667.2 1189.7 L3667.4 1192.8 L3667.6 1191.5 L3667.9 1189.3 L3668.1 1191.6 L3668.3 1189.4 L3668.5 1189.8 L3668.7 1189.6 L3668.9 1190.0 L3669.1 1191.6 L3669.4 1193.5 L3669.6 1189.0 L3669.8 1192.7 L3670.0 1196.1 L3670.2 1199.2 L3670.4 1199.8 L3670.7 1200.7 L3670.9 1198.8 L3671.1 1198.7 L3671.3 1197.3 L3671.5 1195.6 L3671.7 1195.2 L3672.0 1193.4 L3672.2 1193.0 L3672.4 1192.8 L3672.6 1190.5 L3672.8 1189.5 L3673.0 1194.0 L3673.3 1192.0 L3673.5 1190.5 L3673.7 1189.1 L3673.9 1185.8 L3674.1 1187.7 L3674.3 1187.7 L3674.6 1187.8 L3674.8 1188.2 L3675.0 1187.7 L3675.2 1191.1 L3675.4 1186.3 L3675.6 1184.5 L3675.9 1186.8 L3676.1 1184.6 L3676.3 1188.5 L3676.5 1186.2 L3676.7 1187.5 L3676.9 1190.0 L3677.2 1188.0 L3677.4 1191.0 L3677.6 1190.8 L3677.8 1182.6 L3678.0 1182.1 L3678.2 1180.6 L3678.5 1181.1 L3678.7 1182.6 L3678.9 1182.0 L3679.1 1181.6 L3679.3 1182.1 L3679.5 1182.0 L3679.7 1181.1 L3680.0 1181.4 L3680.2 1180.8 L3680.4 1184.3 L3680.6 1180.8 L3680.8 1181.9 L3681.0 1180.3 L3681.2 1185.7 L3681.4 1187.9 L3681.7 1190.7 L3681.9 1189.0 L3682.1 1188.8 L3682.3 1187.4 L3682.5 1186.0 L3682.7 1191.2 L3682.9 1192.9 L3683.1 1191.2 L3683.4 1190.5 L3683.6 1191.6 L3683.8 1189.6 L3684.0 1192.9 L3684.2 1192.1 L3684.4 1188.5 L3684.6 1192.3 L3684.9 1190.1 L3685.1 1192.5 L3685.3 1194.0 L3685.5 1193.9 L3685.7 1192.7 L3685.9 1194.4 L3686.1 1191.7 L3686.4 1192.8 L3686.6 1189.2 L3686.8 1192.5 L3687.0 1190.9 L3687.2 1194.7 L3687.4 1191.9 L3687.7 1191.1 L3687.9 1191.5 L3688.1 1195.1 L3688.3 1194.6 L3688.5 1195.1 L3688.7 1195.3 L3688.9 1196.1 L3689.2 1196.7 L3689.4 1195.4 L3689.6 1197.2 L3689.8 1196.2 L3690.0 1197.3 L3690.2 1196.2 L3690.4 1195.4 L3690.7 1193.6 L3690.9 1193.5 L3691.1 1193.2 L3691.3 1190.7 L3691.5 1193.0 L3691.7 1190.4 L3691.9 1195.5 L3692.2 1192.3 L3692.4 1195.5 L3692.6 1191.8 L3692.8 1193.4 L3693.0 1193.7 L3693.2 1192.3 L3693.4 1194.0 L3693.7 1194.9 L3693.9 1194.3 L3694.1 1195.5 L3694.3 1191.6 L3694.5 1193.9 L3694.7 1191.7 L3694.9 1191.0 L3695.2 1192.9 L3695.4 1190.5 L3695.6 1191.7 L3695.8 1189.9 L3696.0 1189.8 L3696.2 1190.0 L3696.4 1190.7 L3696.6 1192.7 L3696.9 1190.4 L3697.1 1190.9 L3697.3 1190.4 L3697.5 1190.2 L3697.7 1189.9 L3697.9 1195.0 L3698.1 1192.5 L3698.3 1189.8 L3698.6 1190.1 L3698.8 1191.6 L3699.0 1190.3 L3699.2 1190.0 L3699.4 1192.4 L3699.6 1191.5 L3699.8 1192.2 L3700.0 1192.4 L3700.3 1190.0 L3700.5 1191.6 L3700.7 1189.4 L3700.9 1191.1 L3701.1 1188.3 L3701.3 1187.4 L3701.5 1187.5 L3701.8 1187.2 L3702.0 1188.8 L3702.2 1188.6 L3702.4 1186.7 L3702.6 1184.2 L3702.8 1182.7 L3703.0 1185.2 L3703.3 1181.7 L3703.5 1187.0 L3703.7 1182.2 L3703.9 1178.8 L3704.1 1179.7 L3704.3 1182.9 L3704.6 1178.2 L3704.8 1181.7 L3705.0 1175.7 L3705.2 1179.8 L3705.4 1178.3 L3705.6 1173.5 L3705.9 1167.9 L3706.1 1164.0 L3706.3 1165.6 L3706.5 1157.4 L3706.7 1154.2 L3707.0 1145.7 L3707.2 1142.7 L3707.4 1138.5 L3707.6 1139.9 L3707.8 1136.7 L3708.0 1139.6 L3708.3 1136.3 L3708.5 1138.4 L3708.7 1136.5 L3708.9 1136.9 L3709.1 1137.0 L3709.3 1136.9 L3709.5 1136.2 L3709.7 1136.4 L3710.0 1139.0 L3710.2 1136.0 L3710.4 1135.8 L3710.6 1136.8 L3710.8 1136.9 L3711.0 1136.7 L3711.2 1140.3 L3711.5 1136.9 L3711.7 1137.1 L3711.9 1135.8 L3712.1 1136.8 L3712.3 1136.2 L3712.5 1137.8 L3712.7 1137.8 L3712.9 1142.0 L3713.2 1138.1 L3713.4 1140.5 L3713.6 1140.7 L3713.8 1141.3 L3714.0 1141.6 L3714.2 1141.8 L3714.4 1138.7 L3714.7 1133.8 L3714.9 1134.9 L3715.1 1134.9 L3715.3 1133.7 L3715.5 1134.8 L3715.7 1134.1 L3715.9 1136.0 L3716.1 1132.8 L3716.4 1135.6 L3716.6 1134.3 L3716.8 1133.7 L3717.0 1132.7 L3717.2 1137.0 L3717.4 1134.5 L3717.6 1133.3 L3717.9 1132.8 L3718.1 1132.9 L3718.3 1130.4 L3718.5 1129.1 L3718.7 1130.9 L3718.9 1132.8 L3719.1 1128.4 L3719.3 1130.5 L3719.6 1129.4 L3719.8 1125.8 L3720.0 1132.5 L3720.2 1134.7 L3720.4 1133.4 L3720.6 1132.7 L3720.9 1128.5 L3721.1 1127.8 L3721.3 1129.2 L3721.5 1127.6 L3721.7 1121.6 L3721.9 1121.3 L3722.2 1129.2 L3722.4 1124.5 L3722.6 1122.9 L3722.8 1126.2 L3723.0 1128.6 L3723.2 1124.2 L3723.4 1120.8 L3723.7 1117.8 L3723.9 1116.5 L3724.1 1119.0 L3724.3 1116.4 L3724.5 1120.5 L3724.7 1124.6 L3725.0 1124.2 L3725.2 1122.0 L3725.4 1117.3 L3725.6 1123.0 L3725.8 1123.9 L3726.0 1124.6 L3726.3 1132.3 L3726.5 1128.5 L3726.7 1128.4 L3726.9 1125.8 L3727.1 1126.6 L3727.4 1128.1 L3727.6 1132.9 L3727.8 1128.8 L3728.0 1132.6 L3728.2 1133.9 L3728.4 1133.4 L3728.7 1131.9 L3728.9 1129.2 L3729.1 1131.5 L3729.3 1132.5 L3729.5 1133.0 L3729.7 1133.6 L3729.9 1135.0 L3730.2 1133.3 L3730.4 1129.2 L3730.6 1131.9 L3730.8 1134.3 L3731.0 1128.9 L3731.2 1129.0 L3731.4 1128.8 L3731.7 1132.3 L3731.9 1129.5 L3732.1 1128.8 L3732.3 1129.5 L3732.5 1130.7 L3732.7 1133.5 L3732.9 1134.3 L3733.1 1130.0 L3733.4 1134.6 L3733.6 1133.2 L3733.8 1132.4 L3734.0 1132.1 L3734.2 1128.6 L3734.4 1131.1 L3734.6 1133.8 L3734.9 1129.3 L3735.1 1131.4 L3735.3 1130.5 L3735.5 1130.8 L3735.7 1130.6 L3735.9 1125.5 L3736.1 1132.2 L3736.3 1127.8 L3736.6 1135.8 L3736.8 1137.4 L3737.0 1137.4 L3737.2 1135.8 L3737.4 1144.7 L3737.6 1140.1 L3737.8 1142.2 L3738.1 1144.7 L3738.3 1142.5 L3738.5 1142.7 L3738.7 1149.8 L3738.9 1145.6 L3739.1 1144.7 L3739.3 1147.1 L3739.5 1142.7 L3739.8 1145.1 L3740.0 1144.9 L3740.2 1144.7 L3740.4 1139.4 L3740.6 1141.4 L3740.8 1150.1 L3741.0 1150.9 L3741.3 1154.4 L3741.5 1150.2 L3741.7 1155.0 L3741.9 1146.4 L3742.1 1149.5 L3742.3 1152.8 L3742.5 1153.2 L3742.7 1156.2 L3743.0 1154.3 L3743.2 1153.7 L3743.4 1146.6 L3743.6 1150.6 L3743.8 1144.9 L3744.0 1146.2 L3744.2 1142.2 L3744.5 1144.1 L3744.7 1143.8 L3744.9 1145.9 L3745.1 1143.8 L3745.3 1140.5 L3745.5 1136.1 L3745.7 1140.1 L3745.9 1144.9 L3746.2 1142.8 L3746.4 1130.1 L3746.6 1137.9 L3746.8 1135.0 L3747.0 1139.1 L3747.2 1134.5 L3747.5 1138.5 L3747.7 1132.9 L3747.9 1131.8 L3748.1 1137.5 L3748.3 1144.7 L3748.6 1144.0 L3748.8 1140.6 L3749.0 1141.7 L3749.2 1143.8 L3749.4 1143.8 L3749.7 1146.1 L3749.9 1156.6 L3750.1 1157.0 L3750.3 1159.7 L3750.5 1157.0 L3750.8 1157.5 L3751.0 1158.8 L3751.2 1162.4 L3751.4 1166.7 L3751.6 1159.5 L3751.9 1161.2 L3752.1 1160.0 L3752.3 1164.4 L3752.5 1167.5 L3752.7 1166.6 L3752.9 1160.5 L3753.2 1167.9 L3753.4 1168.1 L3753.6 1173.6 L3753.8 1173.7 L3754.0 1175.9 L3754.2 1173.2 L3754.4 1167.7 L3754.7 1174.5 L3754.9 1173.0 L3755.1 1171.3 L3755.3 1174.5 L3755.5 1182.7 L3755.7 1182.8 L3756.0 1179.5 L3756.2 1186.3 L3756.4 1182.3 L3756.6 1186.3 L3756.8 1181.0 L3757.0 1186.2 L3757.3 1188.5 L3757.5 1189.5 L3757.7 1188.0 L3757.9 1190.6 L3758.1 1193.9 L3758.3 1198.4 L3758.6 1191.1 L3758.8 1195.1 L3759.0 1193.1 L3759.2 1195.4 L3759.4 1195.6 L3759.6 1198.8 L3759.9 1207.9 L3760.1 1204.2 L3760.3 1211.8 L3760.5 1208.2 L3760.7 1209.3 L3761.0 1208.2 L3761.2 1210.2 L3761.4 1205.3 L3761.6 1200.0 L3761.8 1211.4 L3762.0 1205.8 L3762.2 1208.2 L3762.5 1202.9 L3762.7 1206.8 L3762.9 1203.1 L3763.1 1201.8 L3763.3 1203.3 L3763.5 1207.5 L3763.7 1203.7 L3763.9 1210.1 L3764.2 1205.6 L3764.4 1210.9 L3764.6 1202.8 L3764.8 1205.1 L3765.0 1205.5 L3765.2 1201.9 L3765.4 1204.0 L3765.7 1205.4 L3765.9 1207.9 L3766.1 1201.7 L3766.3 1201.5 L3766.5 1200.3 L3766.7 1195.0 L3766.9 1196.8 L3767.1 1198.2 L3767.4 1193.4 L3767.6 1196.6 L3767.8 1203.8 L3768.0 1206.2 L3768.2 1210.6 L3768.4 1210.9 L3768.6 1204.6 L3768.9 1199.9 L3769.1 1203.0 L3769.3 1201.9 L3769.5 1208.1 L3769.7 1203.6 L3769.9 1198.6 L3770.1 1199.3 L3770.3 1202.2 L3770.6 1203.7 L3770.8 1205.5 L3771.0 1210.4 L3771.2 1205.5 L3771.4 1209.2 L3771.6 1208.2 L3771.8 1208.9 L3772.1 1214.4 L3772.3 1208.8 L3772.5 1211.8 L3772.7 1213.6 L3772.9 1216.6 L3773.1 1212.2 L3773.3 1210.4 L3773.5 1209.1 L3773.8 1205.5 L3774.0 1211.3 L3774.2 1212.9 L3774.4 1211.9 L3774.6 1214.4 L3774.8 1214.1 L3775.0 1210.2 L3775.3 1205.8 L3775.5 1205.3 L3775.7 1205.4 L3775.9 1210.4 L3776.1 1209.2 L3776.3 1207.1 L3776.5 1206.7 L3776.7 1205.1 L3777.0 1207.2 L3777.2 1206.6 L3777.4 1206.2 L3777.6 1206.5 L3777.8 1207.1 L3778.0 1207.2 L3778.2 1205.8 L3778.5 1210.7 L3778.7 1209.8 L3778.9 1205.2 L3779.1 1208.2 L3779.3 1206.3 L3779.5 1199.5 L3779.8 1201.1 L3780.0 1200.4 L3780.2 1199.6 L3780.4 1204.0 L3780.6 1203.2 L3780.9 1193.9 L3781.1 1190.6 L3781.3 1185.6 L3781.5 1186.7 L3781.7 1184.4 L3782.0 1181.1 L3782.2 1181.2 L3782.4 1180.8 L3782.6 1175.0 L3782.9 1179.7 L3783.1 1178.3 L3783.3 1178.4 L3783.5 1175.7 L3783.7 1172.2 L3783.9 1175.9 L3784.1 1171.1 L3784.4 1165.9 L3784.6 1164.1 L3784.8 1156.3 L3785.0 1150.1 L3785.2 1153.4 L3785.4 1145.6 L3785.7 1150.8 L3785.9 1146.4 L3786.1 1141.9 L3786.3 1141.3 L3786.5 1140.8 L3786.7 1147.9 L3786.9 1148.7 L3787.2 1153.8 L3787.4 1154.2 L3787.6 1151.6 L3787.8 1153.7 L3788.0 1154.5 L3788.2 1153.3 L3788.5 1147.6 L3788.7 1152.1 L3788.9 1160.4 L3789.1 1158.4 L3789.3 1162.0 L3789.5 1167.0 L3789.7 1165.1 L3790.0 1161.1 L3790.2 1164.4 L3790.4 1166.9 L3790.6 1170.5 L3790.8 1170.0 L3791.0 1168.3 L3791.3 1167.5 L3791.5 1170.3 L3791.7 1169.5 L3791.9 1162.0 L3792.1 1159.5 L3792.4 1163.5 L3792.6 1162.5 L3792.8 1164.8 L3793.0 1168.4 L3793.3 1163.4 L3793.5 1158.3 L3793.7 1164.1 L3793.9 1159.1 L3794.1 1152.9 L3794.4 1152.5 L3794.6 1149.5 L3794.8 1154.0 L3795.0 1154.4 L3795.2 1153.5 L3795.5 1155.4 L3795.7 1151.0 L3795.9 1156.6 L3796.1 1159.0 L3796.3 1154.7 L3796.5 1158.2 L3796.8 1158.9 L3797.0 1158.7 L3797.2 1158.5 L3797.4 1155.2 L3797.6 1155.0 L3797.8 1155.3 L3798.0 1152.8 L3798.3 1153.4 L3798.5 1152.8 L3798.7 1152.4 L3798.9 1151.3 L3799.1 1157.9 L3799.3 1160.5 L3799.6 1163.3 L3799.8 1164.7 L3800.0 1161.5 L3800.2 1162.4 L3800.4 1161.9 L3800.6 1163.3 L3800.8 1162.9 L3801.1 1160.1 L3801.3 1162.5 L3801.5 1161.4 L3801.7 1161.0 L3801.9 1159.5 L3802.1 1159.2 L3802.3 1155.4 L3802.6 1159.4 L3802.8 1159.6 L3803.0 1155.0 L3803.2 1158.1 L3803.4 1153.9 L3803.6 1155.1 L3803.8 1152.5 L3804.1 1152.0 L3804.3 1150.5 L3804.5 1156.9 L3804.7 1155.3 L3804.9 1161.8 L3805.1 1152.1 L3805.4 1151.1 L3805.6 1151.5 L3805.8 1152.4 L3806.0 1153.7 L3806.2 1157.3 L3806.4 1157.6 L3806.6 1163.1 L3806.8 1164.7 L3807.1 1164.2 L3807.3 1165.7 L3807.5 1171.4 L3807.7 1166.5 L3807.9 1167.9 L3808.1 1168.2 L3808.3 1172.3 L3808.5 1171.4 L3808.8 1178.5 L3809.0 1178.3 L3809.2 1174.5 L3809.4 1177.6 L3809.6 1178.0 L3809.9 1188.2 L3810.1 1179.9 L3810.3 1180.2 L3810.5 1184.5 L3810.7 1183.4 L3811.0 1177.7 L3811.2 1182.6 L3811.4 1187.4 L3811.6 1188.1 L3811.8 1190.7 L3812.1 1196.8 L3812.3 1196.2 L3812.5 1197.0 L3812.7 1197.4 L3812.9 1196.2 L3813.2 1193.2 L3813.4 1193.7 L3813.6 1192.7 L3813.8 1199.3 L3814.1 1190.5 L3814.3 1194.6 L3814.5 1188.2 L3814.7 1191.6 L3814.9 1183.3 L3815.2 1183.8 L3815.4 1187.9 L3815.6 1180.6 L3815.8 1181.7 L3816.0 1180.4 L3816.3 1173.4 L3816.5 1177.0 L3816.7 1178.8 L3816.9 1178.3 L3817.1 1178.1 L3817.4 1171.4 L3817.6 1176.7 L3817.8 1172.1 L3818.0 1177.1 L3818.2 1169.1 L3818.4 1181.4 L3818.6 1181.7 L3818.9 1174.1 L3819.1 1170.6 L3819.3 1175.5 L3819.5 1177.4 L3819.7 1174.5 L3819.9 1179.9 L3820.1 1177.0 L3820.3 1176.0 L3820.6 1172.6 L3820.8 1171.8 L3821.0 1180.7 L3821.2 1177.3 L3821.4 1174.6 L3821.6 1170.1 L3821.8 1166.5 L3822.1 1170.7 L3822.3 1168.4 L3822.5 1166.7 L3822.7 1169.4 L3822.9 1170.3 L3823.1 1171.2 L3823.3 1172.3 L3823.6 1170.4 L3823.8 1170.0 L3824.0 1168.9 L3824.2 1166.0 L3824.4 1163.6 L3824.6 1166.5 L3824.8 1168.0 L3825.1 1169.4 L3825.3 1169.7 L3825.5 1165.5 L3825.7 1164.6 L3825.9 1162.8 L3826.1 1165.5 L3826.4 1161.6 L3826.6 1161.6 L3826.8 1159.8 L3827.0 1161.2 L3827.2 1162.4 L3827.4 1169.2 L3827.7 1162.0 L3827.9 1160.0 L3828.1 1162.4 L3828.3 1159.4 L3828.5 1161.7 L3828.7 1160.7 L3829.0 1158.3 L3829.2 1154.6 L3829.4 1155.9 L3829.6 1157.5 L3829.8 1157.0 L3830.0 1154.0 L3830.3 1158.3 L3830.5 1158.6 L3830.7 1158.5 L3830.9 1156.0 L3831.1 1152.5 L3831.3 1153.8 L3831.6 1148.5 L3831.8 1156.2 L3832.0 1152.2 L3832.2 1153.5 L3832.4 1149.8 L3832.6 1148.3 L3832.9 1152.4 L3833.1 1153.4 L3833.3 1152.5 L3833.5 1156.8 L3833.7 1155.7 L3834.0 1156.2 L3834.2 1157.5 L3834.4 1161.1 L3834.6 1156.6 L3834.9 1157.1 L3835.1 1156.5 L3835.3 1162.7 L3835.5 1170.8 L3835.7 1164.3 L3836.0 1163.3 L3836.2 1163.7 L3836.4 1165.8 L3836.6 1170.9 L3836.8 1168.3 L3837.1 1163.7 L3837.3 1165.2 L3837.5 1168.4 L3837.7 1167.0 L3838.0 1163.9 L3838.2 1165.2 L3838.4 1165.7 L3838.6 1164.7 L3838.8 1165.8 L3839.1 1164.0 L3839.3 1164.1 L3839.5 1164.5 L3839.7 1164.3 L3839.9 1168.3 L3840.2 1168.5 L3840.4 1165.0 L3840.6 1166.6 L3840.8 1166.3 L3841.0 1165.8 L3841.3 1164.9 L3841.5 1167.6 L3841.7 1172.3 L3841.9 1172.7 L3842.1 1177.3 L3842.3 1178.0 L3842.5 1172.7 L3842.7 1176.6 L3843.0 1179.9 L3843.2 1182.2 L3843.4 1180.0 L3843.6 1187.4 L3843.8 1187.2 L3844.0 1186.3 L3844.2 1189.8 L3844.5 1187.0 L3844.7 1181.9 L3844.9 1184.5 L3845.1 1186.9 L3845.3 1188.8 L3845.6 1188.2 L3845.8 1193.8 L3846.0 1191.1 L3846.2 1197.4 L3846.4 1195.8 L3846.7 1191.5 L3846.9 1199.2 L3847.1 1197.8 L3847.3 1206.0 L3847.6 1208.6 L3847.8 1203.8 L3848.0 1204.2 L3848.2 1200.8 L3848.4 1204.2 L3848.6 1206.3 L3848.8 1202.4 L3849.1 1202.9 L3849.3 1200.2 L3849.5 1201.2 L3849.7 1198.9 L3849.9 1196.7 L3850.1 1199.1 L3850.3 1199.6 L3850.5 1194.2 L3850.7 1197.8 L3851.0 1202.3 L3851.2 1197.0 L3851.4 1195.9 L3851.6 1196.0 L3851.8 1198.4 L3852.0 1194.9 L3852.2 1193.3 L3852.4 1195.3 L3852.7 1194.0 L3852.9 1196.9 L3853.1 1193.5 L3853.3 1198.1 L3853.5 1196.5 L3853.7 1195.8 L3853.9 1195.3 L3854.1 1194.6 L3854.3 1197.1 L3854.6 1202.0 L3854.8 1196.2 L3855.0 1200.4 L3855.2 1199.6 L3855.4 1205.3 L3855.7 1206.7 L3855.9 1199.6 L3856.1 1197.6 L3856.3 1194.8 L3856.5 1196.7 L3856.8 1202.3 L3857.0 1205.1 L3857.2 1206.4 L3857.4 1206.9 L3857.6 1207.4 L3857.9 1210.6 L3858.1 1213.2 L3858.3 1209.9 L3858.5 1209.0 L3858.8 1212.2 L3859.0 1209.2 L3859.2 1208.1 L3859.4 1216.5 L3859.6 1217.0 L3859.9 1215.6 L3860.1 1214.3 L3860.3 1219.8 L3860.5 1218.2 L3860.7 1214.7 L3861.0 1222.3 L3861.2 1221.2 L3861.4 1219.3 L3861.6 1222.1 L3861.9 1220.5 L3862.1 1225.5 L3862.3 1224.8 L3862.5 1230.0 L3862.7 1226.1 L3862.9 1225.1 L3863.2 1228.9 L3863.4 1224.3 L3863.6 1234.4 L3863.8 1236.1 L3864.0 1235.0 L3864.2 1236.4 L3864.5 1237.1 L3864.7 1234.5 L3864.9 1232.8 L3865.1 1238.9 L3865.3 1239.8 L3865.5 1240.0 L3865.7 1243.1 L3866.0 1240.1 L3866.2 1237.8 L3866.4 1235.7 L3866.6 1239.6 L3866.8 1233.9 L3867.0 1233.7 L3867.2 1230.3 L3867.5 1233.3 L3867.7 1233.1 L3867.9 1225.7 L3868.1 1227.4 L3868.3 1226.4 L3868.5 1226.0 L3868.8 1225.4 L3869.0 1226.8 L3869.2 1231.5 L3869.4 1225.2 L3869.6 1225.6 L3869.8 1227.8 L3870.1 1229.6 L3870.3 1228.5 L3870.5 1222.7 L3870.7 1224.1 L3870.9 1221.2 L3871.1 1222.8 L3871.3 1224.7 L3871.6 1219.0 L3871.8 1221.6 L3872.0 1220.9 L3872.2 1221.8 L3872.4 1224.9 L3872.6 1224.6 L3872.8 1226.2 L3873.0 1224.9 L3873.3 1221.8 L3873.5 1219.6 L3873.7 1222.9 L3873.9 1223.6 L3874.1 1221.0 L3874.3 1218.7 L3874.5 1222.3 L3874.8 1224.2 L3875.0 1221.1 L3875.2 1219.4 L3875.4 1219.0 L3875.6 1218.8 L3875.8 1218.2 L3876.0 1217.2 L3876.2 1219.1 L3876.5 1217.6 L3876.7 1220.1 L3876.9 1215.8 L3877.1 1220.9 L3877.3 1221.6 L3877.6 1214.5 L3877.8 1212.6 L3878.0 1214.3 L3878.2 1216.7 L3878.4 1218.8 L3878.7 1217.9 L3878.9 1213.6 L3879.1 1214.8 L3879.3 1212.5 L3879.6 1214.1 L3879.8 1214.8 L3880.0 1207.9 L3880.2 1208.2 L3880.4 1206.6 L3880.7 1210.2 L3880.9 1207.8 L3881.1 1210.7 L3881.3 1214.2 L3881.5 1212.8 L3881.7 1215.6 L3882.0 1207.7 L3882.2 1217.5 L3882.4 1218.6 L3882.6 1214.9 L3882.8 1213.6 L3883.0 1215.7 L3883.3 1215.7 L3883.5 1221.7 L3883.7 1214.6 L3883.9 1218.1 L3884.1 1214.7 L3884.4 1217.7 L3884.6 1219.0 L3884.8 1218.0 L3885.0 1217.3 L3885.2 1214.8 L3885.4 1218.1 L3885.7 1218.1 L3885.9 1213.8 L3886.1 1216.2 L3886.3 1216.5 L3886.5 1213.7 L3886.7 1217.3 L3886.9 1216.0 L3887.2 1214.0 L3887.4 1216.8 L3887.6 1213.6 L3887.8 1212.2 L3888.0 1213.7 L3888.2 1215.4 L3888.5 1213.6 L3888.7 1212.9 L3888.9 1216.9 L3889.1 1218.1 L3889.3 1216.0 L3889.5 1214.5 L3889.8 1215.0 L3890.0 1213.3 L3890.2 1213.5 L3890.4 1215.6 L3890.6 1214.1 L3890.8 1213.4 L3891.1 1214.0 L3891.3 1215.3 L3891.5 1218.6 L3891.7 1218.9 L3891.9 1215.4 L3892.2 1219.3 L3892.4 1216.4 L3892.6 1220.8 L3892.8 1220.1 L3893.1 1220.2 L3893.3 1224.8 L3893.5 1226.8 L3893.7 1233.7 L3893.9 1228.1 L3894.2 1225.3 L3894.4 1225.5 L3894.6 1230.1 L3894.8 1231.9 L3895.0 1222.8 L3895.2 1226.2 L3895.5 1230.5 L3895.7 1227.3 L3895.9 1232.5 L3896.1 1233.0 L3896.3 1230.6 L3896.5 1230.2 L3896.7 1233.1 L3896.9 1229.0 L3897.2 1229.8 L3897.4 1229.1 L3897.6 1226.3 L3897.8 1230.5 L3898.0 1228.0 L3898.2 1225.9 L3898.4 1227.7 L3898.7 1228.6 L3898.9 1227.7 L3899.1 1223.0 L3899.3 1215.8 L3899.5 1216.0 L3899.7 1223.0 L3899.9 1220.4 L3900.1 1218.6 L3900.4 1219.5 L3900.6 1218.1 L3900.8 1217.5 L3901.0 1216.4 L3901.2 1218.3 L3901.4 1216.1 L3901.6 1216.1 L3901.9 1217.0 L3902.1 1217.1 L3902.3 1219.0 L3902.5 1220.3 L3902.7 1217.6 L3902.9 1220.9 L3903.1 1219.2 L3903.3 1221.1 L3903.6 1219.5 L3903.8 1223.5 L3904.0 1220.6 L3904.2 1224.4 L3904.4 1219.4 L3904.6 1221.0 L3904.8 1218.6 L3905.1 1220.8 L3905.3 1220.1 L3905.5 1222.3 L3905.7 1224.3 L3905.9 1224.3 L3906.1 1224.9 L3906.3 1222.8 L3906.5 1222.1 L3906.8 1223.3 L3907.0 1220.5 L3907.2 1218.3 L3907.4 1213.1 L3907.6 1215.3 L3907.8 1217.6 L3908.0 1214.7 L3908.3 1219.9 L3908.5 1221.7 L3908.7 1219.8 L3908.9 1214.9 L3909.1 1219.8 L3909.3 1219.2 L3909.5 1218.6 L3909.7 1216.3 L3910.0 1214.5 L3910.2 1220.6 L3910.4 1213.1 L3910.6 1213.4 L3910.8 1213.8 L3911.0 1214.9 L3911.2 1218.0 L3911.5 1213.9 L3911.7 1215.9 L3911.9 1213.7 L3912.1 1219.5 L3912.3 1216.8 L3912.5 1216.1 L3912.7 1220.5 L3913.0 1223.7 L3913.2 1221.9 L3913.4 1217.5 L3913.6 1219.2 L3913.9 1219.6 L3914.1 1224.9 L3914.3 1219.0 L3914.5 1225.4 L3914.7 1230.3 L3915.0 1225.1 L3915.2 1228.2 L3915.4 1223.5 L3915.6 1223.0 L3915.8 1234.6 L3916.1 1227.9 L3916.3 1226.7 L3916.5 1230.1 L3916.7 1228.5 L3916.9 1222.2 L3917.1 1224.3 L3917.4 1222.3 L3917.6 1225.0 L3917.8 1222.4 L3918.0 1220.3 L3918.2 1225.7 L3918.4 1219.2 L3918.6 1219.4 L3918.8 1220.5 L3919.1 1214.5 L3919.3 1217.0 L3919.5 1211.2 L3919.7 1212.2 L3919.9 1207.7 L3920.1 1213.9 L3920.4 1218.4 L3920.6 1215.4 L3920.8 1217.1 L3921.0 1220.1 L3921.2 1218.6 L3921.5 1221.2 L3921.7 1222.1 L3921.9 1223.8 L3922.1 1221.3 L3922.3 1217.7 L3922.6 1219.5 L3922.8 1223.5 L3923.0 1221.9 L3923.2 1222.1 L3923.5 1229.4 L3923.7 1226.1 L3923.9 1223.1 L3924.1 1222.3 L3924.3 1223.6 L3924.5 1223.2 L3924.7 1222.9 L3925.0 1220.6 L3925.2 1231.4 L3925.4 1233.4 L3925.6 1231.5 L3925.8 1230.2 L3926.0 1229.4 L3926.2 1233.5 L3926.4 1235.0 L3926.7 1233.5 L3926.9 1233.7 L3927.1 1232.9 L3927.3 1230.5 L3927.5 1237.3 L3927.7 1232.0 L3927.9 1241.9 L3928.2 1249.7 L3928.4 1237.6 L3928.6 1238.4 L3928.8 1239.7 L3929.0 1240.5 L3929.2 1239.1 L3929.4 1241.3 L3929.6 1244.0"/></defs>
<use href="#pr" fill="none" stroke="#2d2d2d" stroke-opacity="0.38" stroke-width="3.6" stroke-linejoin="round"/>
<use href="#pr" fill="none" stroke="#2d2d2d" stroke-width="1.7" stroke-linejoin="round"/>
<path d="M3929.6 1200.3 L3929.6 1175.4 L2782.8 1175.4" fill="none" stroke="#0047ff" stroke-width="3.2" stroke-dasharray="10.05 10.05"/>
<circle cx="3928.5" cy="1244.5" r="44.7" fill="#0055ff" fill-opacity="0.141" stroke="#0047ff" stroke-width="3.1" stroke-dasharray="9 8.553" stroke-dashoffset="4.5"/>
<text x="3398.4" y="515.8" font-size="55" font-style="italic" fill="#b5406f" textLength="510.6" lengthAdjust="spacingAndGlyphs">Market ATH: $68.5k</text>
<text x="3177.5" y="711.5" font-size="55" font-style="italic" fill="#f38a70" textLength="748.0" lengthAdjust="spacingAndGlyphs">-23.6% Retracement: $52.4K</text>
<text x="3183.6" y="878.4" font-size="55" font-style="italic" fill="#fcc160" textLength="751.2" lengthAdjust="spacingAndGlyphs">-38.2% Retracement: $42.3K</text>
<text x="3178.3" y="1035" font-size="55" font-style="italic" fill="#f5085a" textLength="747.9" lengthAdjust="spacingAndGlyphs">-50.0% Retracement: $38.3K</text>
<text x="2740.9" y="1164" font-size="55" font-style="italic" fill="#66a2cf" textLength="739.3" lengthAdjust="spacingAndGlyphs">-61.8% Retracement: $26.2K</text>
<text x="3184.4" y="1720.3" font-size="55" font-style="italic" fill="#8a82c5" textLength="733.0" lengthAdjust="spacingAndGlyphs">-78.6% Retracement: $14.7K</text>
<text x="89.5" y="2235" font-size="38" fill="#7a7a7a" textLength="720.9" lengthAdjust="spacingAndGlyphs">© 2023 Glassnode. All Rights Reserved.</text>
<text aria-label="glassnode" y="2250" font-size="73" fill="#111" stroke="#111" stroke-width="1.4"><tspan x="3658.47" textLength="46.03" lengthAdjust="spacingAndGlyphs">g</tspan><tspan x="3705.55" textLength="13.78" lengthAdjust="spacingAndGlyphs">l</tspan><tspan x="3719.83" textLength="40.13" lengthAdjust="spacingAndGlyphs">a</tspan><tspan x="3766.95" textLength="30.47" lengthAdjust="spacingAndGlyphs">s</tspan><tspan x="3796.3" textLength="31.56" lengthAdjust="spacingAndGlyphs">s</tspan><tspan x="3829.15" textLength="39.76" lengthAdjust="spacingAndGlyphs">n</tspan><tspan x="3868.98" textLength="43.04" lengthAdjust="spacingAndGlyphs">o</tspan><tspan x="3911.67" textLength="46.03" lengthAdjust="spacingAndGlyphs">d</tspan><tspan x="3956.99" textLength="42.65" lengthAdjust="spacingAndGlyphs">e</tspan></text>
</svg>
</body></html>
